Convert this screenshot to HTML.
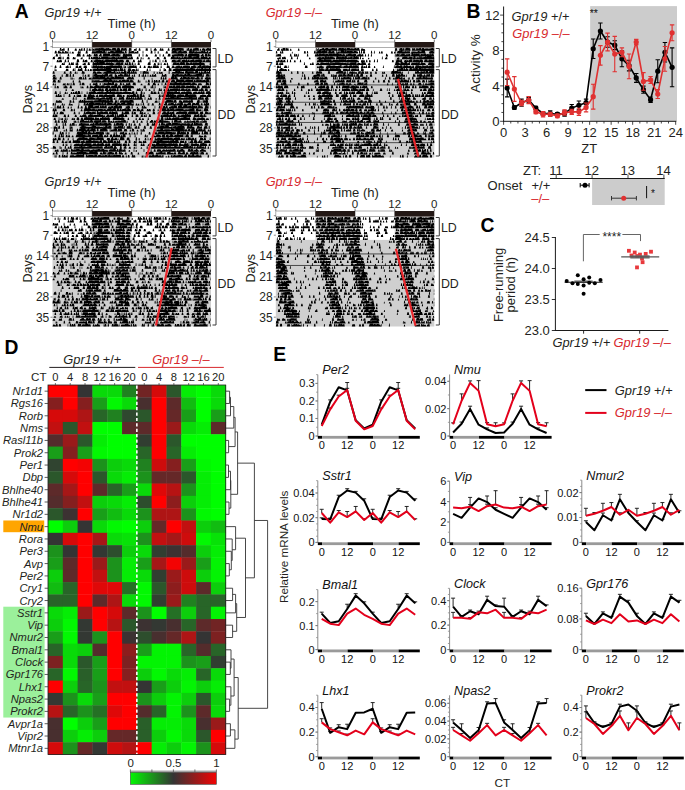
<!DOCTYPE html>
<html><head><meta charset="utf-8"><style>
html,body{margin:0;padding:0;background:#fff;width:685px;height:790px;overflow:hidden}
svg{display:block}
text{font-family:"Liberation Sans",sans-serif}
</style></head><body>
<svg width="685" height="790" viewBox="0 0 685 790"><g fill="#231f20">
<text x="14.8" y="17.5" font-size="19.3" fill="#000" font-weight="bold">A</text>
<text x="44.6" y="16.8" font-size="12.7" fill="#231f20"><tspan font-style="italic">Gpr19</tspan> +/+</text>
<text x="265.7" y="17.3" font-size="12.7" fill="#d7282d"><tspan font-style="italic">Gpr19</tspan> –/–</text>
<text x="44.6" y="185.9" font-size="12.7" fill="#231f20"><tspan font-style="italic">Gpr19</tspan> +/+</text>
<text x="265.7" y="186.2" font-size="12.7" fill="#d7282d"><tspan font-style="italic">Gpr19</tspan> –/–</text>
<rect x="52.5" y="47.8" width="158.5" height="109.7" fill="#cfcfcf"/>
<rect x="52.5" y="47.8" width="39.62" height="23.09" fill="#ffffff"/>
<rect x="131.75" y="47.8" width="39.62" height="23.09" fill="#ffffff"/>
<path d="M52.5 50.69m7 0l.6-2.9h1l.6 2.9zm2 0l.5-1.6h1l.5 1.6zm1 0l.5-2.1h.9l.5 2.1zm1 0l.3-2.4h.7l.3 2.4zm4 0l.4-2.9h.9l.4 2.9zm7 0l.6-2.1h1.3l.6 2.1zm4 0l.6-1.9h1.1l.6 1.9zm2 0l.6-2.2h1.1l.6 2.2zm1 0l.3-2.7h.5l.3 2.7zm2 0l.4-2.7h.9l.4 2.7zm3 0l.3-2.9h.7l.3 2.9zm2 0l.6-2.3h1.3l.6 2.3zm3 0l.3-2.7h.7l.3 2.7zm1 0l.6-1.8h1.1l.6 1.8zm1 0l.3-2.2h.7l.3 2.2zm1 0l.8-2.4h1.8l.8 2.4zm1 0l.9-2.5h3l.9 2.5zm1 0l.9-2h2.7l.9 2zm2 0l.5-2.7h.9l.5 2.7zm1 0l.9-2.9h3l.9 2.9zm1 0l.9-2.4h2.7l.9 2.4zm1 0l.3-2.9h.7l.3 2.9zm1 0l.5-2.2h.9l.5 2.2zm1 0l.9-2.2h2.5l.9 2.2zm1 0l.4-1.8h.8l.4 1.8zm1 0l.5-2.8h.8l.5 2.8zm1 0l.8-2.8h1.8l.8 2.8zm1 0l.4-2.2h.9l.4 2.2zm1 0l.7-2h1.3l.7 2zm1 0l.6-2h1.2l.6 2zm2 0l.9-2.6h3.1l.9 2.6zm1 0l.8-1.7h1.7l.8 1.7zm3 0l.2-2.4h.6l.2 2.4zm1 0l.9-2.9h2.1l.9 2.9zm1 0l.3-2.7h.5l.3 2.7zm3 0l.9-2.6h2.1l.9 2.6zm3 0l.9-2.6h1.9l.9 2.6zm1 0l.5-2.6h1.1l.5 2.6zm1 0l.3-2.9h.6l.3 2.9zm3 0l.7-2.8h1.4l.7 2.8zm2 0l.2-2.4h.6l.2 2.4zm3 0l.7-1.6h1.2l.7 1.6zm2 0l.3-2.8h.7l.3 2.8zm3 0l.5-2.4h1.1l.5 2.4zm7 0l.3-2.4h.8l.3 2.4zm1 0l.3-2.4h.8l.3 2.4zm4 0l.2-2.8h.6l.2 2.8zm3 0l.6-2h1.2l.6 2zm1 0l.4-2.8h.9l.4 2.8zm1 0l.3-1.8h.7l.3 1.8zm4 0l.6-2.4h1l.6 2.4zm1 0l.3-2.4h.6l.3 2.4zm1 0l.6-2.2h1l.6 2.2zm6 0l.6-2.4h1l.6 2.4zm4 0l.9-2.6h3l.9 2.6zm1 0l.4-2.7h.9l.4 2.7zm1 0l.9-2.1h1.7l.9 2.1zm2 0l.9-2.7h3.1l.9 2.7zm2 0l.9-1.9h2.6l.9 1.9zm1 0l.7-2.7h1.3l.7 2.7zm1 0l.7-2.7h1.5l.7 2.7zm2 0l.4-2.7h.8l.4 2.7zm1 0l.4-2.5h.7l.4 2.5zm4 0l.3-2.5h.7l.3 2.5zm1 0l.5-2.6h1.1l.5 2.6zm2 0l.8-2.3h1.6l.8 2.3zm3 0l.9-2.5h3.1l.9 2.5zm1 0l.4-2.5h.9l.4 2.5zm1 0l.8-2.9h1.8l.8 2.9zm1 0l.8-2.7h1.4l.8 2.7zm1 0l.7-2.6h1.3l.7 2.6zm1 0l.3-2.4h.5l.3 2.4zm2 0l.5-2h.8l.5 2zm2 0l.9-2.3h2l.9 2.3zm1 0l.4-2.8h.7l.4 2.8zm2 0l.2-2.1h.6l.2 2.1zm1 0l.8-2.3h1.5l.8 2.3zm1 0l.7-2.7h1.5l.7 2.7zm1 0l.3-2.2h.7l.3 2.2zm1 0l.4-2.4h.7l.4 2.4zm1 0l.4-2.5h.7l.4 2.5zm1 0l.1-2.6h.3l.1 2.6zM52.5 53.57m2 0l.6-2.7h1.3l.6 2.7zm3 0l.7-2.9h1.2l.7 2.9zm1 0l.6-2.1h1.3l.6 2.1zm1 0l.6-1.9h1l.6 1.9zm2 0l.6-2.4h1.1l.6 2.4zm1 0l.6-2.1h1l.6 2.1zm2 0l.7-2.5h1.3l.7 2.5zm2 0l.6-1.8h1l.6 1.8zm1 0l.3-2.5h.5l.3 2.5zm2 0l.3-2.1h.6l.3 2.1zm2 0l.7-1.8h1.2l.7 1.8zm6 0l.6-2.4h1.2l.6 2.4zm2 0l.3-2.5h.7l.3 2.5zm6 0l.6-2.8h1.2l.6 2.8zm6 0l.6-2.3h1l.6 2.3zm1 0l.7-2.3h1.4l.7 2.3zm1 0l.9-2.1h1.7l.9 2.1zm1 0l.9-2.3h3l.9 2.3zm1 0l.9-2.5h1.8l.9 2.5zm2 0l.9-2.7h1.7l.9 2.7zm1 0l.9-2.6h3.1l.9 2.6zm1 0l.9-2.4h2.1l.9 2.4zm1 0l.3-2.3h.5l.3 2.3zm1 0l.3-2.8h.7l.3 2.8zm1 0l.8-2.9h1.6l.8 2.9zm3 0l.3-2.7h.6l.3 2.7zm2 0l.4-2h.8l.4 2zm1 0l.7-1.8h1.5l.7 1.8zm1 0l.9-2.5h3l.9 2.5zm1 0l.8-2.2h1.8l.8 2.2zm1 0l.9-2.2h1.8l.9 2.2zm1 0l.9-1.6h2l.9 1.6zm1 0l.5-2h.9l.5 2zm1 0l.9-2.8h2.2l.9 2.8zm1 0l.9-2.9h2.2l.9 2.9zm1 0l.9-2.8h3l.9 2.8zm1 0l.6-2.9h1.1l.6 2.9zm1 0l.4-2.8h.9l.4 2.8zm1 0l.8-2.9h1.6l.8 2.9zm1 0l.9-1.9h1.7l.9 1.9zm1 0l.7-2.1h1.5l.7 2.1zm1 0l.3-2h.5l.3 2zm2 0l.6-2.5h1.2l.6 2.5zm4 0l.4-2.8h.9l.4 2.8zm1 0l.8-2.3h1.8l.8 2.3zm2 0l.7-2.6h1.3l.7 2.6zm1 0l.6-2.2h1.1l.6 2.2zm2 0l.6-1.8h1.3l.6 1.8zm2 0l.5-2.5h1l.5 2.5zm1 0l.2-2.6h.6l.2 2.6zm5 0l.2-2.7h.6l.2 2.7zm8 0l.4-2.8h.8l.4 2.8zm1 0l.2-2.5h.6l.2 2.5zm3 0l.2-2.6h.6l.2 2.6zm3 0l.3-2.3h.8l.3 2.3zm8 0l.6-2.3h1.3l.6 2.3zm6 0l.4-2.8h.8l.4 2.8zm1 0l.5-2.5h1.1l.5 2.5zm1 0l.8-2.9h1.5l.8 2.9zm2 0l.3-2.7h.6l.3 2.7zm1 0l.3-2.7h.6l.3 2.7zm1 0l.9-2.6h2.8l.9 2.6zm1 0l.4-2.6h.7l.4 2.6zm1 0l.5-2.7h.9l.5 2.7zm1 0l.8-2.3h1.4l.8 2.3zm2 0l.9-2.5h1.9l.9 2.5zm1 0l.9-2.8h2.1l.9 2.8zm5 0l.9-2.7h1.7l.9 2.7zm1 0l.9-2.4h2.4l.9 2.4zm1 0l.4-2.9h.7l.4 2.9zm1 0l.6-2.1h1.2l.6 2.1zm1 0l.7-2.9h1.2l.7 2.9zm1 0l.3-1.9h.5l.3 1.9zm1 0l.9-2.1h1.8l.9 2.1zm1 0l.3-2.5h.6l.3 2.5zm1 0l.9-1.9h2l.9 1.9zm1 0l.4-2.1h.7l.4 2.1zm1 0l.8-2.1h1.6l.8 2.1zm1 0l.4-2h.7l.4 2zm1 0l.8-2.5h1.8l.8 2.5zm1 0l.9-2.2h1.7l.9 2.2zm2 0l.5-2.9h1l.5 2.9zm1 0l.6-1.8h1.3l.6 1.8zm2 0l.5-2.5h1.1l.5 2.5zm2 0l.6-1.6h1.3l.6 1.6zm1 0l.4-2.7h.7l.4 2.7zm1 0l.1-2h.3l.1 2zM52.5 56.46m3 0l.7-2.5h1.3l.7 2.5zm4 0l.3-2.7h.5l.3 2.7zm8 0l.5-2.8h.9l.5 2.8zm9 0l.6-2.5h1l.6 2.5zm1 0l.4-2.9h.9l.4 2.9zm1 0l.6-2.6h1.2l.6 2.6zm4 0l.5-2.1h1.1l.5 2.1zm4 0l.6-2h1.2l.6 2zm2 0l.6-2.4h1l.6 2.4zm2 0l.3-2h.5l.3 2zm3 0l.7-2.6h1.3l.7 2.6zm2 0l.6-2.4h1.3l.6 2.4zm1 0l.2-2.7h.6l.2 2.7zm2 0l.9-1.6h1.8l.9 1.6zm1 0l.6-2.6h1.1l.6 2.6zm1 0l.3-2.5h.7l.3 2.5zm2 0l.8-2.7h1.8l.8 2.7zm1 0l.9-2.3h2.8l.9 2.3zm1 0l.8-2.7h1.4l.8 2.7zm1 0l.9-2.7h3.1l.9 2.7zm1 0l.9-2.8h2.5l.9 2.8zm1 0l.9-1.9h1.7l.9 1.9zm1 0l.5-2.6h.9l.5 2.6zm2 0l.6-2h1.2l.6 2zm1 0l.9-2.8h3.1l.9 2.8zm1 0l.8-2.5h1.5l.8 2.5zm3 0l.8-2.8h1.8l.8 2.8zm2 0l.4-2.8h.9l.4 2.8zm1 0l.4-1.8h.7l.4 1.8zm1 0l.2-2.9h.6l.2 2.9zm3 0l.8-2.6h1.7l.8 2.6zm1 0l.9-2.1h1.7l.9 2.1zm1 0l.6-2.3h1.2l.6 2.3zm1 0l.7-2.5h1.3l.7 2.5zm1 0l.5-2.3h.8l.5 2.3zm1 0l.8-2.6h1.4l.8 2.6zm2 0l.7-2.4h1.4l.7 2.4zm9 0l.4-2.7h.7l.4 2.7zm4 0l.2-2.4h.6l.2 2.4zm3 0l.5-2.2h.9l.5 2.2zm1 0l.4-1.8h.8l.4 1.8zm8 0l.7-2.2h1.2l.7 2.2zm5 0l.2-2.8h.6l.2 2.8zm3 0l.5-2.2h.8l.5 2.2zm5 0l.7-2.6h1.3l.7 2.6zm2 0l.2-2.7h.6l.2 2.7zm2 0l.9-2h2.7l.9 2zm2 0l.7-2.1h1.3l.7 2.1zm1 0l.6-2.1h1l.6 2.1zm1 0l.4-2.6h.8l.4 2.6zm1 0l.9-2.6h2.3l.9 2.6zm1 0l.9-2.1h2.7l.9 2.1zm2 0l.9-2.6h1.8l.9 2.6zm2 0l.7-2.5h1.3l.7 2.5zm1 0l.3-2.2h.5l.3 2.2zm2 0l.3-2.7h.7l.3 2.7zm1 0l.5-2.5h.9l.5 2.5zm2 0l.9-2.4h3.2l.9 2.4zm1 0l.9-2.8h2.2l.9 2.8zm1 0l.8-2.5h1.4l.8 2.5zm1 0l.9-2.6h1.7l.9 2.6zm1 0l.9-2.5h2.3l.9 2.5zm1 0l.9-2.5h2.6l.9 2.5zm1 0l.9-2.7h3l.9 2.7zm1 0l.4-2.1h.8l.4 2.1zm1 0l.7-2.7h1.3l.7 2.7zm1 0l.9-2.5h1.7l.9 2.5zm1 0l.4-2.5h.8l.4 2.5zm1 0l.2-2.7h.6l.2 2.7zm2 0l.4-1.6h.7l.4 1.6zm1 0l.6-2.4h1.3l.6 2.4zm3 0l.7-2.7h1.3l.7 2.7zm1 0l.4-2.2h.9l.4 2.2zm1 0l.2-2.6h.6l.2 2.6zm1 0l.7-2.6h1.2l.7 2.6zm2 0l.4-2h.7l.4 2zM52.5 59.35m0 0l.6-2.4h1.1l.6 2.4zm1 0l.4-2.9h.8l.4 2.9zm4 0l.6-2.2h1.1l.6 2.2zm1 0l.6-2.3h1.3l.6 2.3zm2 0l.2-2.9h.6l.2 2.9zm2 0l.3-2.5h.7l.3 2.5zm4 0l.5-2.4h1l.5 2.4zm1 0l.5-2.3h1.1l.5 2.3zm5 0l.6-2.3h1.1l.6 2.3zm2 0l.3-2.1h.6l.3 2.1zm6 0l.4-1.6h.8l.4 1.6zm1 0l.3-2.3h.6l.3 2.3zm7 0l.4-2.8h.8l.4 2.8zm2 0l.5-2.3h.9l.5 2.3zm1 0l.3-2h.7l.3 2zm1 0l.8-2.3h1.7l.8 2.3zm1 0l.7-2h1.2l.7 2zm1 0l.9-2.7h2l.9 2.7zm1 0l.9-2.1h1.8l.9 2.1zm1 0l.5-2.4h1.1l.5 2.4zm2 0l.5-2.3h.8l.5 2.3zm1 0l.5-1.7h.8l.5 1.7zm1 0l.9-2.7h1.7l.9 2.7zm1 0l.9-2.6h3.1l.9 2.6zm1 0l.9-2.6h2.9l.9 2.6zm2 0l.9-2.6h2.7l.9 2.6zm1 0l.3-2.3h.7l.3 2.3zm1 0l.3-2.3h.5l.3 2.3zm1 0l.7-2h1.5l.7 2zm1 0l.7-2h1.2l.7 2zm1 0l.9-1.9h1.8l.9 1.9zm1 0l.6-2h1.1l.6 2zm1 0l.8-2.5h1.7l.8 2.5zm1 0l.9-2.3h2l.9 2.3zm1 0l.6-2.4h1.2l.6 2.4zm1 0l.3-2.5h.5l.3 2.5zm1 0l.7-2.2h1.4l.7 2.2zm1 0l.2-2.8h.6l.2 2.8zm1 0l.7-2.6h1.3l.7 2.6zm1 0l.4-2.6h.7l.4 2.6zm1 0l.9-2.5h2.2l.9 2.5zm2 0l.7-2.4h1.5l.7 2.4zm1 0l.6-2.8h1l.6 2.8zm1 0l.9-2.8h2l.9 2.8zm1 0l.2-2.5h.6l.2 2.5zm1 0l.5-2.9h.9l.5 2.9zm1 0l.3-2.1h.8l.3 2.1zm1 0l.8-1.5h1.5l.8 1.5zm1 0l.7-2.1h1.3l.7 2.1zm2 0l.7-2.5h1.3l.7 2.5zm6 0l.6-2.6h1.2l.6 2.6zm4 0l.3-2.3h.7l.3 2.3zm2 0l.3-1.8h.5l.3 1.8zm5 0l.6-2.2h1.3l.6 2.2zm9 0l.6-2.3h1.2l.6 2.3zm1 0l.5-2.1h1.1l.5 2.1zm6 0l.7-2.7h1.3l.7 2.7zm1 0l.3-2.2h.5l.3 2.2zm6 0l.6-2.3h1.2l.6 2.3zm1 0l.8-2.9h1.8l.8 2.9zm1 0l.6-2.5h1.3l.6 2.5zm1 0l.9-2h2.4l.9 2zm2 0l.5-1.9h.9l.5 1.9zm1 0l.6-2.5h1l.6 2.5zm1 0l.4-2.2h.7l.4 2.2zm1 0l.5-2.3h.8l.5 2.3zm1 0l.5-1.8h1l.5 1.8zm1 0l.9-1.8h2.8l.9 1.8zm1 0l.4-2.9h.8l.4 2.9zm2 0l.7-2.7h1.5l.7 2.7zm1 0l.6-2.5h1.3l.6 2.5zm1 0l.9-2.2h1.8l.9 2.2zm2 0l.9-2.8h3.2l.9 2.8zm1 0l.9-1.7h2.1l.9 1.7zm1 0l.4-1.8h.8l.4 1.8zm1 0l.6-2.2h1.2l.6 2.2zm1 0l.8-2.1h1.4l.8 2.1zm1 0l.9-2.5h3l.9 2.5zm2 0l.9-2.7h2.1l.9 2.7zm1 0l.9-2.9h2.5l.9 2.9zm4 0l.2-2.1h.6l.2 2.1zm1 0l.6-2.6h1l.6 2.6zm1 0l.9-2.6h1.7l.9 2.6zm1 0l.5-2.8h1l.5 2.8zm1 0l.5-2.3h.9l.5 2.3zm1 0l.8-2.7h1.7l.8 2.7zm2 0l.4-2h.7l.4 2zm1 0l.5-1.6h1l.5 1.6zm1 0l.6-2.3h1.3l.6 2.3zM52.5 62.23m4 0l.6-2.2h1l.6 2.2zm2 0l.4-2.3h.7l.4 2.3zm1 0l.7-2.6h1.3l.7 2.6zm5 0l.5-2.8h.9l.5 2.8zm3 0l.4-2.6h.8l.4 2.6zm9 0l.6-2.9h1.3l.6 2.9zm1 0l.5-2.8h.8l.5 2.8zm5 0l.6-2.7h1l.6 2.7zm2 0l.6-2.2h1.3l.6 2.2zm1 0l.5-2.5h1.1l.5 2.5zm5 0l.6-2.3h1.2l.6 2.3zm1 0l.3-2.3h.5l.3 2.3zm2 0l.3-2.3h.8l.3 2.3zm1 0l.9-2.8h2.6l.9 2.8zm2 0l.4-2.8h.9l.4 2.8zm1 0l.9-2.6h2.1l.9 2.6zm1 0l.7-2.3h1.3l.7 2.3zm1 0l.6-2.2h1l.6 2.2zm1 0l.8-2.1h1.8l.8 2.1zm1 0l.3-2.4h.8l.3 2.4zm1 0l.3-2.8h.8l.3 2.8zm1 0l.8-2.1h1.8l.8 2.1zm1 0l.9-2.7h3.2l.9 2.7zm1 0l.6-2.4h1.2l.6 2.4zm1 0l.4-2.4h.7l.4 2.4zm1 0l.9-2.4h2.5l.9 2.4zm2 0l.6-2.1h1.1l.6 2.1zm1 0l.8-2.8h1.7l.8 2.8zm2 0l.9-2.8h1.9l.9 2.8zm1 0l.6-2.6h1.3l.6 2.6zm1 0l.7-2.4h1.3l.7 2.4zm1 0l.5-2.9h1.1l.5 2.9zm1 0l.5-2.6h1.1l.5 2.6zm1 0l.4-2h.9l.4 2zm1 0l.9-2.4h2l.9 2.4zm2 0l.9-2.5h1.9l.9 2.5zm2 0l.3-2.3h.6l.3 2.3zm3 0l.9-2.6h2.2l.9 2.6zm1 0l.6-2.4h1.2l.6 2.4zm6 0l.7-2.4h1.3l.7 2.4zm5 0l.6-2h1.1l.6 2zm2 0l.6-2.7h1.1l.6 2.7zm10 0l.3-2.5h.5l.3 2.5zm3 0l.2-2.4h.6l.2 2.4zm2 0l.6-2.8h1.3l.6 2.8zm5 0l.2-2.7h.5l.2 2.7zm3 0l.2-2.2h.6l.2 2.2zm2 0l.6-2.4h1.3l.6 2.4zm1 0l.2-1.9h.6l.2 1.9zm6 0l.5-2.2h1.1l.5 2.2zm1 0l.6-2.4h1.2l.6 2.4zm1 0l.6-2.4h1.2l.6 2.4zm2 0l.3-2.5h.6l.3 2.5zm1 0l.6-1.9h1.3l.6 1.9zm1 0l.6-2.4h1.2l.6 2.4zm1 0l.5-2.5h.8l.5 2.5zm1 0l.2-2.9h.5l.2 2.9zm1 0l.2-2.9h.5l.2 2.9zm1 0l.6-2.3h1.2l.6 2.3zm1 0l.5-2.6h1.1l.5 2.6zm1 0l.6-2.5h1l.6 2.5zm1 0l.9-1.9h2.2l.9 1.9zm1 0l.5-2.7h.9l.5 2.7zm2 0l.7-2.6h1.2l.7 2.6zm2 0l.9-2.3h2.5l.9 2.3zm2 0l.9-2.7h1.7l.9 2.7zm1 0l.3-2.5h.5l.3 2.5zm1 0l.9-1.7h2.9l.9 1.7zm1 0l.9-2.5h2.9l.9 2.5zm1 0l.2-2.4h.5l.2 2.4zm2 0l.9-2.7h2.1l.9 2.7zm2 0l.5-2.4h1.1l.5 2.4zm1 0l.3-2.7h.7l.3 2.7zm1 0l.3-2.8h.5l.3 2.8zm1 0l.8-1.9h1.5l.8 1.9zm1 0l.3-2.9h.7l.3 2.9zm2 0l.4-2.5h.8l.4 2.5zm1 0l.9-2.8h1.8l.9 2.8zm1 0l.6-2.4h1.2l.6 2.4zm2 0l.4-2.6h.7l.4 2.6zM52.5 65.12m9 0l.6-2.2h1l.6 2.2zm2 0l.3-2.8h.8l.3 2.8zm5 0l.5-2.7h.8l.5 2.7zm2 0l.6-2.6h1.3l.6 2.6zm2 0l.4-2.9h.7l.4 2.9zm3 0l.3-2.5h.7l.3 2.5zm1 0l.5-2.7h1l.5 2.7zm6 0l.3-1.6h.8l.3 1.6zm1 0l.5-2.2h.9l.5 2.2zm1 0l.3-2.4h.8l.3 2.4zm3 0l.6-2.8h1.3l.6 2.8zm5 0l.5-2.8h1l.5 2.8zm1 0l.6-2.1h1.2l.6 2.1zm1 0l.7-2.7h1.4l.7 2.7zm1 0l.9-2.5h3l.9 2.5zm1 0l.6-2.9h1.1l.6 2.9zm2 0l.9-2.8h1.8l.9 2.8zm1 0l.3-1.9h.7l.3 1.9zm1 0l.9-2.8h3.2l.9 2.8zm1 0l.3-1.8h.6l.3 1.8zm1 0l.2-2.9h.6l.2 2.9zm2 0l.9-1.8h2.3l.9 1.8zm1 0l.8-2.5h1.5l.8 2.5zm1 0l.6-2.1h1.2l.6 2.1zm1 0l.9-2.4h2l.9 2.4zm1 0l.3-2.5h.6l.3 2.5zm1 0l.9-2h3.1l.9 2zm1 0l.5-2.7h1.1l.5 2.7zm4 0l.2-2.6h.6l.2 2.6zm1 0l.9-2.6h1.9l.9 2.6zm1 0l.9-2.5h2.9l.9 2.5zm1 0l.9-1.9h2.2l.9 1.9zm2 0l.2-2.8h.6l.2 2.8zm1 0l.8-2.5h1.5l.8 2.5zm2 0l.2-2.7h.5l.2 2.7zm2 0l.6-2.3h1l.6 2.3zm2 0l.4-2.5h.9l.4 2.5zm2 0l.6-2.8h1.2l.6 2.8zm1 0l.4-2.2h.7l.4 2.2zm2 0l.5-2.6h1l.5 2.6zm3 0l.3-2.2h.6l.3 2.2zm3 0l.5-2.7h.9l.5 2.7zm1 0l.3-2.4h.7l.3 2.4zm9 0l.6-2.5h1.2l.6 2.5zm1 0l.4-2.8h.8l.4 2.8zm1 0l.3-2.8h.6l.3 2.8zm4 0l.7-2h1.2l.7 2zm4 0l.3-2.8h.5l.3 2.8zm1 0l.2-2.3h.6l.2 2.3zm2 0l.3-2.5h.6l.3 2.5zm3 0l.7-2.1h1.2l.7 2.1zm3 0l.5-2.3h.8l.5 2.3zm6 0l.9-2.7h3.1l.9 2.7zm1 0l.6-2h1.3l.6 2zm1 0l.4-2.1h.8l.4 2.1zm1 0l.2-2.7h.6l.2 2.7zm1 0l.7-2.4h1.5l.7 2.4zm1 0l.4-2.2h.8l.4 2.2zm1 0l.3-2.6h.5l.3 2.6zm1 0l.6-2.6h1.2l.6 2.6zm1 0l.6-2.8h1l.6 2.8zm1 0l.8-2.5h1.7l.8 2.5zm1 0l.7-2.8h1.4l.7 2.8zm3 0l.4-2.9h.8l.4 2.9zm1 0l.5-2.7h1.1l.5 2.7zm1 0l.5-2h.9l.5 2zm1 0l.9-1.9h3l.9 1.9zm1 0l.9-2.5h1.9l.9 2.5zm2 0l.8-1.5h1.4l.8 1.5zm1 0l.7-2.5h1.5l.7 2.5zm1 0l.9-1.9h1.7l.9 1.9zm1 0l.7-2.6h1.5l.7 2.6zm1 0l.9-2.4h3.1l.9 2.4zm3 0l.9-2.8h1.7l.9 2.8zm1 0l.6-2.5h1.3l.6 2.5zm1 0l.9-2.4h2.2l.9 2.4zm2 0l.6-2.1h1.3l.6 2.1zm7 0l.4-2.8h.7l.4 2.8zm1 0l.1-2.3h.3l.1 2.3zM52.5 68.01m2 0l.5-2.6h1.1l.5 2.6zm5 0l.5-2.7h1l.5 2.7zm6 0l.4-2h.7l.4 2zm1 0l.6-2.6h1.2l.6 2.6zm3 0l.3-2.6h.8l.3 2.6zm6 0l.4-2.5h.7l.4 2.5zm1 0l.5-2.8h.8l.5 2.8zm2 0l.6-2.1h1.1l.6 2.1zm1 0l.5-2.3h1l.5 2.3zm1 0l.2-2.3h.6l.2 2.3zm3 0l.4-2.4h.8l.4 2.4zm1 0l.7-2.4h1.3l.7 2.4zm7 0l.2-2.5h.6l.2 2.5zm1 0l.5-2.7h1l.5 2.7zm1 0l.6-2.6h1l.6 2.6zm1 0l.9-2.4h2l.9 2.4zm1 0l.3-2.9h.7l.3 2.9zm1 0l.9-1.8h2.7l.9 1.8zm1 0l.5-2.4h1l.5 2.4zm1 0l.3-2.5h.8l.3 2.5zm1 0l.9-2.6h2.2l.9 2.6zm1 0l.9-1.8h1.9l.9 1.8zm1 0l.9-1.8h2l.9 1.8zm1 0l.7-1.8h1.4l.7 1.8zm1 0l.6-1.9h1.3l.6 1.9zm2 0l.7-2.3h1.5l.7 2.3zm1 0l.9-2.2h3.1l.9 2.2zm2 0l.8-2.4h1.4l.8 2.4zm1 0l.9-2.7h2.7l.9 2.7zm1 0l.9-2.3h2l.9 2.3zm1 0l.7-2.3h1.3l.7 2.3zm1 0l.9-2.2h1.7l.9 2.2zm1 0l.9-2.4h2.3l.9 2.4zm1 0l.9-2.3h2.7l.9 2.3zm2 0l.9-2.6h2.3l.9 2.6zm1 0l.8-2.7h1.7l.8 2.7zm2 0l.8-2.6h1.5l.8 2.6zm4 0l.2-2.7h.6l.2 2.7zm1 0l.4-2.1h.9l.4 2.1zm3 0l.3-2.8h.5l.3 2.8zm1 0l.9-2.6h1.8l.9 2.6zm2 0l.8-2.2h1.7l.8 2.2zm1 0l.8-2.5h1.6l.8 2.5zm1 0l.7-2.7h1.3l.7 2.7zm2 0l.7-2.5h1.2l.7 2.5zm5 0l.4-2.6h.9l.4 2.6zm4 0l.6-2.2h1.1l.6 2.2zm4 0l.5-2.3h.9l.5 2.3zm1 0l.5-2.2h1.1l.5 2.2zm2 0l.3-1.9h.8l.3 1.9zm2 0l.6-2.5h1.1l.6 2.5zm1 0l.6-2.7h1l.6 2.7zm1 0l.6-2.7h1.3l.6 2.7zm2 0l.6-2.4h1.3l.6 2.4zm4 0l.3-2.6h.7l.3 2.6zm6 0l.6-2.8h1l.6 2.8zm1 0l.6-2.3h1.3l.6 2.3zm4 0l.8-1.9h1.5l.8 1.9zm1 0l.3-2.9h.5l.3 2.9zm2 0l.3-1.7h.6l.3 1.7zm1 0l.9-2.2h2l.9 2.2zm1 0l.9-2.3h1.8l.9 2.3zm1 0l.7-2.5h1.4l.7 2.5zm1 0l.6-2.2h1.2l.6 2.2zm1 0l.5-1.6h1.1l.5 1.6zm1 0l.6-2.2h1l.6 2.2zm2 0l.7-2.2h1.4l.7 2.2zm1 0l.9-2.6h2.7l.9 2.6zm1 0l.9-2.5h1.8l.9 2.5zm1 0l.7-2.5h1.2l.7 2.5zm1 0l.7-2.5h1.4l.7 2.5zm2 0l.5-2.2h.8l.5 2.2zm2 0l.8-2.1h1.8l.8 2.1zm2 0l.9-2.7h1.9l.9 2.7zm1 0l.7-2.5h1.4l.7 2.5zm3 0l.3-2.9h.5l.3 2.9zm1 0l.7-2.2h1.3l.7 2.2zm1 0l.9-2.9h1.9l.9 2.9zm2 0l.2-2.3h.5l.2 2.3zm1 0l.8-2.5h1.4l.8 2.5zm1 0l.9-2.7h2.1l.9 2.7zm1 0l.7-2h1.4l.7 2zm2 0l.8-2.4h1.5l.8 2.4zm1 0l.7-2.5h1.3l.7 2.5zm1 0l.7-2.1h1.5l.7 2.1zm1 0l.6-1.8h1.3l.6 1.8zm1 0l.4-2.9h.7l.4 2.9zm1 0l.1-2.6h.3l.1 2.6zM52.5 70.89m2 0l.2-2.7h.6l.2 2.7zm1 0l.3-1.7h.6l.3 1.7zm10 0l.7-2.2h1.3l.7 2.2zm2 0l.2-2.1h.6l.2 2.1zm5 0l.5-2.5h.8l.5 2.5zm2 0l.2-2.9h.6l.2 2.9zm3 0l.7-2.5h1.2l.7 2.5zm2 0l.5-2.1h.9l.5 2.1zm1 0l.6-2.8h1l.6 2.8zm1 0l.2-2.4h.6l.2 2.4zm3 0l.6-2.8h1l.6 2.8zm1 0l.3-1.7h.6l.3 1.7zm2 0l.4-1.8h.8l.4 1.8zm2 0l.7-1.9h1.2l.7 1.9zm1 0l.3-1.9h.8l.3 1.9zm2 0l.4-2.5h.8l.4 2.5zm1 0l.6-2.5h1.2l.6 2.5zm1 0l.8-2.4h1.4l.8 2.4zm1 0l.3-2.1h.5l.3 2.1zm1 0l.6-2.8h1.1l.6 2.8zm1 0l.8-2.5h1.7l.8 2.5zm1 0l.9-2.3h3l.9 2.3zm1 0l.9-2.7h2l.9 2.7zm1 0l.9-2.2h2.8l.9 2.2zm1 0l.5-2.7h1.1l.5 2.7zm2 0l.4-2.8h.9l.4 2.8zm1 0l.9-2.9h2.2l.9 2.9zm2 0l.6-2.9h1.2l.6 2.9zm1 0l.9-2.8h2.8l.9 2.8zm3 0l.4-2.5h.7l.4 2.5zm1 0l.3-1.8h.8l.3 1.8zm1 0l.9-2.3h1.7l.9 2.3zm1 0l.8-2.4h1.8l.8 2.4zm2 0l.5-2.6h1l.5 2.6zm2 0l.4-2.3h.7l.4 2.3zm1 0l.2-1.5h.5l.2 1.5zm1 0l.5-2.9h1l.5 2.9zm1 0l.8-2.7h1.4l.8 2.7zm1 0l.4-2.7h.9l.4 2.7zm2 0l.6-2.4h1.1l.6 2.4zm4 0l.9-2.6h2.2l.9 2.6zm1 0l.3-2.4h.8l.3 2.4zm3 0l.9-1.9h2.2l.9 1.9zm4 0l.4-2.6h.8l.4 2.6zm1 0l.2-1.7h.5l.2 1.7zm1 0l.3-2.5h.6l.3 2.5zm9 0l.5-2.4h.8l.5 2.4zm3 0l.2-2.6h.6l.2 2.6zm10 0l.3-2.4h.6l.3 2.4zm4 0l.3-2.8h.7l.3 2.8zm1 0l.5-2h.8l.5 2zm4 0l.5-2.8h1l.5 2.8zm1 0l.4-2.7h.7l.4 2.7zm1 0l.3-2.6h.5l.3 2.6zm2 0l.9-1.8h2.3l.9 1.8zm1 0l.8-2.2h1.8l.8 2.2zm1 0l.9-2.6h2.9l.9 2.6zm2 0l.9-2.3h3l.9 2.3zm2 0l.9-2.5h2.4l.9 2.5zm1 0l.4-2.9h.7l.4 2.9zm1 0l.9-2.5h2.6l.9 2.5zm1 0l.6-2.7h1l.6 2.7zm1 0l.9-2.4h2.2l.9 2.4zm1 0l.9-2.4h2l.9 2.4zm1 0l.3-2h.8l.3 2zm1 0l.9-2.6h2.5l.9 2.6zm1 0l.6-2h1.2l.6 2zm1 0l.9-2h3.1l.9 2zm1 0l.9-2.6h2l.9 2.6zm1 0l.9-2.8h2.3l.9 2.8zm1 0l.9-2.6h3.1l.9 2.6zm1 0l.6-2.3h1.2l.6 2.3zm1 0l.9-2.3h1.8l.9 2.3zm3 0l.6-2.2h1.3l.6 2.2zm1 0l.5-2.7h.9l.5 2.7zm1 0l.9-2.3h2.1l.9 2.3zm1 0l.3-2.6h.7l.3 2.6zm1 0l.9-2.2h2l.9 2.2zm1 0l.8-2.8h1.8l.8 2.8zm1 0l.5-2.1h1l.5 2.1zm1 0l.5-2.2h.8l.5 2.2zm1 0l.8-2.6h1.7l.8 2.6zm1 0l.9-2.1h1.7l.9 2.1zm1 0l.3-2.7h.7l.3 2.7zm1 0l.7-2.4h1.5l.7 2.4zm1 0l.7-1.7h1.4l.7 1.7zm1 0l.6-2.9h1.1l.6 2.9zm2 0l.1-2h.3l.1 2zM52.5 73.78m0 0l.6-2.5h1.1l.6 2.5zm1 0l.3-2.4h.5l.3 2.4zm10 0l.6-2h1.2l.6 2zm1 0l.2-2.9h.6l.2 2.9zm5 0l.6-2.5h1.1l.6 2.5zm5 0l.5-2.4h.8l.5 2.4zm2 0l.3-2.1h.5l.3 2.1zm5 0l.7-2.7h1.2l.7 2.7zm2 0l.3-2h.7l.3 2zm9 0l.9-2.5h2l.9 2.5zm1 0l.4-2.3h.7l.4 2.3zm1 0l.6-1.9h1.2l.6 1.9zm2 0l.9-2.3h2.5l.9 2.3zm1 0l.6-2h1.2l.6 2zm2 0l.6-1.9h1.3l.6 1.9zm1 0l.2-2.1h.6l.2 2.1zm2 0l.3-2.3h.6l.3 2.3zm1 0l.9-2.2h2.3l.9 2.2zm1 0l.7-2.4h1.4l.7 2.4zm1 0l.9-2.7h2.4l.9 2.7zm1 0l.9-2.9h2.9l.9 2.9zm1 0l.9-2.9h2.9l.9 2.9zm2 0l.3-2.4h.8l.3 2.4zm1 0l.9-2.1h2.5l.9 2.1zm2 0l.8-2.2h1.4l.8 2.2zm1 0l.5-2.8h1.1l.5 2.8zm2 0l.3-2.7h.6l.3 2.7zm1 0l.6-1.8h1.1l.6 1.8zm1 0l.3-2.5h.5l.3 2.5zm1 0l.6-2.2h1l.6 2.2zm2 0l.5-2.3h1l.5 2.3zm1 0l.5-2.2h.8l.5 2.2zm1 0l.5-1.7h.9l.5 1.7zm1 0l.6-2.8h1.3l.6 2.8zm1 0l.5-2.5h1.1l.5 2.5zm1 0l.2-2.7h.6l.2 2.7zm1 0l.7-2.3h1.3l.7 2.3zm1 0l.8-2.7h1.7l.8 2.7zm3 0l.6-2.5h1.2l.6 2.5zm2 0l.6-2.7h1.2l.6 2.7zm2 0l.6-2.4h1.3l.6 2.4zm6 0l.2-2.7h.5l.2 2.7zm2 0l.3-2.7h.8l.3 2.7zm1 0l.6-2.8h1l.6 2.8zm1 0l.5-2.4h.8l.5 2.4zm1 0l.4-2.8h.7l.4 2.8zm1 0l.7-2.4h1.2l.7 2.4zm7 0l.3-2.4h.7l.3 2.4zm3 0l.4-1.9h.7l.4 1.9zm2 0l.6-2.1h1.2l.6 2.1zm2 0l.6-1.9h1.3l.6 1.9zm8 0l.3-2.9h.7l.3 2.9zm3 0l.9-1.8h2.5l.9 1.8zm2 0l.9-1.8h2.5l.9 1.8zm1 0l.9-2.8h2.1l.9 2.8zm1 0l.9-2.6h3.2l.9 2.6zm1 0l.9-2.3h1.8l.9 2.3zm1 0l.9-2.8h1.7l.9 2.8zm2 0l.7-2.4h1.4l.7 2.4zm1 0l.9-1.9h1.9l.9 1.9zm1 0l.2-2.2h.5l.2 2.2zm1 0l.5-2.4h.8l.5 2.4zm2 0l.9-2.8h1.9l.9 2.8zm1 0l.8-2.6h1.8l.8 2.6zm1 0l.6-1.8h1.2l.6 1.8zm1 0l.9-2.6h1.8l.9 2.6zm1 0l.9-2.6h2.8l.9 2.6zm3 0l.7-2.6h1.4l.7 2.6zm2 0l.8-1.5h1.8l.8 1.5zm1 0l.9-2.9h2.5l.9 2.9zm4 0l.6-2.3h1l.6 2.3zm2 0l.6-2.6h1l.6 2.6zm1 0l.3-2.4h.6l.3 2.4zm1 0l.3-2.4h.7l.3 2.4zm1 0l.9-2.9h1.7l.9 2.9zm1 0l.4-2.1h.7l.4 2.1zm1 0l.2-2.8h.5l.2 2.8zm1 0l.5-2.5h.8l.5 2.5zm1 0l.5-1.8h.8l.5 1.8zm1 0l.5-2.7h1l.5 2.7zM52.5 76.67m0 0l.8-2h1.7l.8 2zm9 0l.3-2.2h.8l.3 2.2zm4 0l.6-2.8h1.3l.6 2.8zm2 0l.2-2.8h.6l.2 2.8zm2 0l.5-2.7h.8l.5 2.7zm3 0l.4-2.7h.9l.4 2.7zm10 0l.3-2.9h.6l.3 2.9zm2 0l.5-2h.9l.5 2zm3 0l.3-2.1h.8l.3 2.1zm1 0l.3-2.5h.6l.3 2.5zm4 0l.3-2.6h.7l.3 2.6zm1 0l.9-2.7h2.7l.9 2.7zm1 0l.5-2.8h.9l.5 2.8zm1 0l.9-2h2.1l.9 2zm2 0l.9-1.8h2.9l.9 1.8zm2 0l.3-1.7h.6l.3 1.7zm1 0l.9-1.9h2.7l.9 1.9zm1 0l.6-2.4h1.2l.6 2.4zm1 0l.8-1.9h1.8l.8 1.9zm1 0l.8-2.4h1.5l.8 2.4zm1 0l.9-2.8h2.4l.9 2.8zm1 0l.5-2.7h.9l.5 2.7zm1 0l.2-2.5h.5l.2 2.5zm2 0l.9-2.1h2l.9 2.1zm1 0l.7-2.5h1.5l.7 2.5zm1 0l.3-2.4h.7l.3 2.4zm1 0l.3-2.8h.5l.3 2.8zm3 0l.4-2.8h.8l.4 2.8zm1 0l.5-2h.8l.5 2zm2 0l.7-1.9h1.5l.7 1.9zm1 0l.8-2h1.4l.8 2zm1 0l.7-2.7h1.4l.7 2.7zm1 0l.9-2.2h1.8l.9 2.2zm1 0l.3-1.7h.8l.3 1.7zm2 0l.9-2.8h1.7l.9 2.8zm2 0l.9-2.3h1.7l.9 2.3zm3 0l.5-2.8h.8l.5 2.8zm3 0l.5-1.8h.8l.5 1.8zm2 0l.5-2.5h.8l.5 2.5zm5 0l.4-2.7h.9l.4 2.7zm3 0l.2-1.8h.6l.2 1.8zm1 0l.4-2.8h.9l.4 2.8zm2 0l.5-2.2h.9l.5 2.2zm3 0l.2-2.4h.6l.2 2.4zm2 0l.5-1.8h.9l.5 1.8zm2 0l.6-2.1h1.3l.6 2.1zm1 0l.2-2.7h.5l.2 2.7zm1 0l.6-1.6h1.2l.6 1.6zm1 0l.5-2.6h.9l.5 2.6zm7 0l.5-2.6h.9l.5 2.6zm1 0l.3-1.7h.8l.3 1.7zm1 0l.5-1.9h1l.5 1.9zm1 0l.6-2.7h1.1l.6 2.7zm7 0l.8-2.6h1.6l.8 2.6zm1 0l.9-2.1h2.6l.9 2.1zm1 0l.2-2.4h.6l.2 2.4zm1 0l.9-2.5h2.6l.9 2.5zm1 0l.8-2.6h1.8l.8 2.6zm1 0l.8-2.1h1.6l.8 2.1zm1 0l.3-2.8h.8l.3 2.8zm1 0l.9-2.5h3l.9 2.5zm1 0l.8-2.1h1.4l.8 2.1zm1 0l.9-2.1h2.3l.9 2.1zm1 0l.5-2.1h1l.5 2.1zm1 0l.3-2h.6l.3 2zm1 0l.9-2.6h1.7l.9 2.6zm1 0l.7-2.2h1.5l.7 2.2zm1 0l.7-2.1h1.4l.7 2.1zm1 0l.9-2.9h2.1l.9 2.9zm1 0l.8-2.7h1.8l.8 2.7zm1 0l.5-2.4h1.1l.5 2.4zm1 0l.9-2.1h2.1l.9 2.1zm3 0l.8-1.9h1.8l.8 1.9zm1 0l.2-2.7h.6l.2 2.7zm1 0l.8-2.4h1.8l.8 2.4zm1 0l.9-2.6h2.1l.9 2.6zm2 0l.7-2.6h1.3l.7 2.6zm1 0l.8-2.9h1.6l.8 2.9zm1 0l.6-2.5h1.3l.6 2.5zm1 0l.5-2.8h1.1l.5 2.8zm2 0l.4-2.9h.7l.4 2.9zm3 0l.9-2.6h2l.9 2.6zm1 0l.6-2.3h1.2l.6 2.3zm2 0l.3-2.4h.7l.3 2.4zm2 0l.1-2.9h.3l.1 2.9zM52.5 79.56m0 0l.7-2.5h1.4l.7 2.5zm1 0l.6-2.6h1.2l.6 2.6zm2 0l.3-2.4h.6l.3 2.4zm4 0l.6-2.9h1.1l.6 2.9zm11 0l.2-2.7h.5l.2 2.7zm1 0l.3-2h.8l.3 2zm2 0l.2-1.6h.5l.2 1.6zm5 0l.5-2.3h1.1l.5 2.3zm1 0l.4-2.8h.9l.4 2.8zm1 0l.5-2.5h.8l.5 2.5zm2 0l.5-2.2h.9l.5 2.2zm2 0l.5-2.6h1.1l.5 2.6zm4 0l.5-1.9h.8l.5 1.9zm1 0l.5-1.7h1l.5 1.7zm2 0l.3-2.7h.6l.3 2.7zm1 0l.7-2.6h1.3l.7 2.6zm1 0l.9-2.4h3.2l.9 2.4zm1 0l.8-2.8h1.5l.8 2.8zm1 0l.9-2.7h2.3l.9 2.7zm1 0l.3-2.5h.7l.3 2.5zm1 0l.4-2.2h.9l.4 2.2zm1 0l.9-2.7h3l.9 2.7zm1 0l.9-2.7h3l.9 2.7zm1 0l.7-2h1.5l.7 2zm2 0l.9-2.5h1.9l.9 2.5zm1 0l.6-2.7h1.2l.6 2.7zm1 0l.2-2.5h.5l.2 2.5zm1 0l.4-2.2h.7l.4 2.2zm1 0l.7-2.6h1.2l.7 2.6zm1 0l.7-2.4h1.3l.7 2.4zm1 0l.9-1.9h2.3l.9 1.9zm1 0l.7-2.2h1.5l.7 2.2zm1 0l.9-2.7h3l.9 2.7zm1 0l.4-1.9h.7l.4 1.9zm1 0l.5-1.7h.8l.5 1.7zm2 0l.6-2.7h1.2l.6 2.7zm1 0l.9-2.7h1.8l.9 2.7zm1 0l.3-2.7h.6l.3 2.7zm1 0l.8-2.5h1.8l.8 2.5zm1 0l.9-2.5h1.7l.9 2.5zm1 0l.4-2.1h.7l.4 2.1zm1 0l.7-2.4h1.2l.7 2.4zm1 0l.8-2.6h1.4l.8 2.6zm5 0l.7-1.9h1.3l.7 1.9zm1 0l.8-2.6h1.4l.8 2.6zm1 0l.7-2.4h1.3l.7 2.4zm1 0l.4-2.6h.9l.4 2.6zm1 0l.9-2.3h2l.9 2.3zm1 0l.6-2.6h1.2l.6 2.6zm12 0l.3-2.8h.8l.3 2.8zm8 0l.3-1.8h.5l.3 1.8zm9 0l.4-2.7h.9l.4 2.7zm2 0l.5-2.4h.9l.5 2.4zm2 0l.5-2.2h.9l.5 2.2zm1 0l.3-2.5h.5l.3 2.5zm5 0l.9-2.9h2.6l.9 2.9zm1 0l.9-2.7h1.9l.9 2.7zm1 0l.4-2.3h.7l.4 2.3zm1 0l.6-2h1.1l.6 2zm1 0l.6-2.7h1.3l.6 2.7zm1 0l.6-2.4h1.2l.6 2.4zm4 0l.7-1.8h1.2l.7 1.8zm1 0l.6-2.6h1.2l.6 2.6zm1 0l.2-1.8h.5l.2 1.8zm1 0l.7-2.8h1.2l.7 2.8zm1 0l.9-2.6h1.7l.9 2.6zm1 0l.5-2.4h.9l.5 2.4zm1 0l.9-2.2h3l.9 2.2zm2 0l.6-2.5h1.1l.6 2.5zm2 0l.3-2.7h.6l.3 2.7zm1 0l.7-2.6h1.5l.7 2.6zm1 0l.3-2.1h.7l.3 2.1zm1 0l.5-2.2h1.1l.5 2.2zm1 0l.3-2.5h.8l.3 2.5zm1 0l.9-1.9h2.2l.9 1.9zm1 0l.8-2h1.7l.8 2zm1 0l.6-2.7h1.3l.6 2.7zm1 0l.6-2.3h1.3l.6 2.3zm3 0l.3-2.5h.6l.3 2.5zm1 0l.3-2.8h.8l.3 2.8zm3 0l.7-2h1.4l.7 2zm1 0l.8-2.6h1.4l.8 2.6zm1 0l.2-1.9h.6l.2 1.9zm1 0l.8-2.2h1.8l.8 2.2zm1 0l.6-2.2h1.3l.6 2.2zm1 0l.4-1.8h.7l.4 1.8zM52.5 82.44m0 0l.9-2.8h1.9l.9 2.8zm5 0l.5-2.5h1.1l.5 2.5zm2 0l.2-2.7h.6l.2 2.7zm13 0l.4-2.1h.8l.4 2.1zm6 0l.4-2.2h.9l.4 2.2zm1 0l.3-1.7h.6l.3 1.7zm12 0l.3-2.7h.6l.3 2.7zm1 0l.3-2.4h.8l.3 2.4zm1 0l.9-2.1h2.6l.9 2.1zm2 0l.9-2.1h2.6l.9 2.1zm1 0l.9-2h2.2l.9 2zm2 0l.2-2.7h.6l.2 2.7zm1 0l.9-1.8h2.2l.9 1.8zm2 0l.9-1.9h2.8l.9 1.9zm1 0l.9-2.8h2.1l.9 2.8zm1 0l.9-2.9h2.2l.9 2.9zm1 0l.7-2.6h1.4l.7 2.6zm1 0l.9-2.8h2.3l.9 2.8zm2 0l.9-1.7h2.7l.9 1.7zm1 0l.8-2.9h1.8l.8 2.9zm1 0l.8-2.7h1.6l.8 2.7zm1 0l.4-2.4h.8l.4 2.4zm1 0l.5-2.3h.8l.5 2.3zm1 0l.9-2.3h2.1l.9 2.3zm1 0l.3-2.7h.5l.3 2.7zm1 0l.9-1.8h2.5l.9 1.8zm1 0l.5-2.2h1.1l.5 2.2zm1 0l.9-1.6h1.8l.9 1.6zm1 0l.6-1.7h1.2l.6 1.7zm1 0l.7-2.5h1.5l.7 2.5zm1 0l.3-2.5h.5l.3 2.5zm1 0l.5-2h.9l.5 2zm1 0l.6-2.5h1.3l.6 2.5zm1 0l.8-2.6h1.5l.8 2.6zm2 0l.4-2.7h.8l.4 2.7zm1 0l.9-2.8h1.7l.9 2.8zm2 0l.5-2.6h1.1l.5 2.6zm1 0l.3-1.9h.7l.3 1.9zm1 0l.8-2.8h1.4l.8 2.8zm1 0l.9-2.3h1.7l.9 2.3zm1 0l.5-1.9h.9l.5 1.9zm6 0l.5-2.8h1l.5 2.8zm2 0l.2-1.9h.6l.2 1.9zm6 0l.3-1.9h.6l.3 1.9zm2 0l.7-2.7h1.2l.7 2.7zm1 0l.3-2.8h.5l.3 2.8zm3 0l.4-2.6h.7l.4 2.6zm2 0l.6-2.4h1.1l.6 2.4zm2 0l.5-2.4h1l.5 2.4zm2 0l.2-2.5h.6l.2 2.5zm1 0l.5-2.5h.9l.5 2.5zm3 0l.4-2.2h.9l.4 2.2zm1 0l.5-2.8h1l.5 2.8zm3 0l.7-2.1h1.2l.7 2.1zm2 0l.3-2.6h.6l.3 2.6zm1 0l.3-2.6h.7l.3 2.6zm2 0l.9-2.2h2.6l.9 2.2zm1 0l.8-2.6h1.8l.8 2.6zm1 0l.8-2.1h1.6l.8 2.1zm1 0l.3-2.5h.6l.3 2.5zm2 0l.9-2.9h3l.9 2.9zm1 0l.9-2.3h1.7l.9 2.3zm1 0l.6-1.8h1.2l.6 1.8zm1 0l.5-2.4h.9l.5 2.4zm1 0l.7-2.8h1.5l.7 2.8zm1 0l.9-2.7h2.7l.9 2.7zm1 0l.6-2.7h1.2l.6 2.7zm1 0l.6-2.3h1.1l.6 2.3zm1 0l.4-1.9h.8l.4 1.9zm1 0l.9-2.5h2l.9 2.5zm1 0l.9-2.8h2.4l.9 2.8zm1 0l.9-2.7h2.1l.9 2.7zm2 0l.8-2.5h1.7l.8 2.5zm2 0l.5-2.5h1.1l.5 2.5zm1 0l.6-2.6h1l.6 2.6zm1 0l.2-2.6h.5l.2 2.6zm1 0l.6-2.4h1.3l.6 2.4zm2 0l.9-2.6h2.3l.9 2.6zm1 0l.7-2.5h1.5l.7 2.5zm2 0l.9-2.7h1.9l.9 2.7zm2 0l.9-2.1h2.3l.9 2.1zm2 0l.9-2.4h2.1l.9 2.4zm3 0l.9-2.9h2.1l.9 2.9zm1 0l.5-2.7h.8l.5 2.7zm1 0l.5-2.8h.9l.5 2.8zm2 0l.3-2.7h.6l.3 2.7zM52.5 85.33m0 0l.5-2h.8l.5 2zm2 0l.4-1.9h.7l.4 1.9zm8 0l.7-1.9h1.2l.7 1.9zm2 0l.3-2.4h.6l.3 2.4zm2 0l.5-2.1h1.1l.5 2.1zm2 0l.3-2.3h.5l.3 2.3zm2 0l.3-2.6h.6l.3 2.6zm2 0l.6-2.6h1.3l.6 2.6zm7 0l.4-2.8h.7l.4 2.8zm2 0l.5-2.7h.8l.5 2.7zm1 0l.6-2.6h1l.6 2.6zm7 0l.4-2.1h.7l.4 2.1zm3 0l.7-2.2h1.4l.7 2.2zm1 0l.7-1.9h1.2l.7 1.9zm1 0l.7-2.2h1.4l.7 2.2zm1 0l.6-2.5h1.1l.6 2.5zm1 0l.3-2.2h.5l.3 2.2zm3 0l.3-2.3h.8l.3 2.3zm3 0l.2-2.3h.6l.2 2.3zm1 0l.7-2.3h1.3l.7 2.3zm2 0l.5-2h.8l.5 2zm1 0l.9-2.4h2.6l.9 2.4zm1 0l.5-2.9h.8l.5 2.9zm1 0l.9-2.3h2l.9 2.3zm2 0l.9-1.8h1.7l.9 1.8zm1 0l.8-2.8h1.5l.8 2.8zm3 0l.8-2.1h1.8l.8 2.1zm5 0l.7-2.5h1.2l.7 2.5zm3 0l.4-2.3h.7l.4 2.3zm1 0l.3-1.5h.5l.3 1.5zm2 0l.6-2.2h1.3l.6 2.2zm1 0l.8-1.9h1.8l.8 1.9zm1 0l.6-2h1.1l.6 2zm1 0l.5-2.7h1.1l.5 2.7zm4 0l.5-2.7h.9l.5 2.7zm1 0l.6-2.8h1.3l.6 2.8zm7 0l.5-1.7h1.1l.5 1.7zm7 0l.6-2.4h1.3l.6 2.4zm5 0l.6-2.4h1l.6 2.4zm1 0l.5-2.8h.8l.5 2.8zm1 0l.4-1.9h.8l.4 1.9zm3 0l.4-1.8h.9l.4 1.8zm4 0l.2-2.7h.6l.2 2.7zm3 0l.6-2.5h1l.6 2.5zm3 0l.5-2.3h1l.5 2.3zm2 0l.7-2.5h1.4l.7 2.5zm1 0l.9-2.1h2.7l.9 2.1zm1 0l.8-1.9h1.8l.8 1.9zm1 0l.3-2.8h.6l.3 2.8zm1 0l.9-2.8h2.3l.9 2.8zm1 0l.9-2.3h2.6l.9 2.3zm2 0l.9-2.3h1.7l.9 2.3zm1 0l.3-2.1h.7l.3 2.1zm1 0l.9-2.6h1.7l.9 2.6zm1 0l.9-2.1h2.8l.9 2.1zm1 0l.3-2.8h.7l.3 2.8zm2 0l.4-2.7h.9l.4 2.7zm1 0l.5-2.6h1.1l.5 2.6zm1 0l.9-2.3h1.8l.9 2.3zm1 0l.9-2.2h3.1l.9 2.2zm1 0l.9-2.6h3.2l.9 2.6zm1 0l.7-2.3h1.5l.7 2.3zm1 0l.5-2.1h1l.5 2.1zm1 0l.9-1.9h1.9l.9 1.9zm2 0l.9-2.7h2.3l.9 2.7zm1 0l.4-1.6h.9l.4 1.6zm1 0l.7-1.9h1.2l.7 1.9zm1 0l.3-2.4h.7l.3 2.4zm1 0l.4-1.9h.8l.4 1.9zm2 0l.9-2.1h2.1l.9 2.1zm1 0l.9-2h1.9l.9 2zm7 0l.6-2.8h1.1l.6 2.8zm1 0l.7-2.4h1.4l.7 2.4zm3 0l.4-2.7h.7l.4 2.7zm1 0l.1-2.8h.3l.1 2.8zM52.5 88.22m2 0l.3-2.6h.8l.3 2.6zm2 0l.6-2.2h1.3l.6 2.2zm7 0l.3-2.7h.6l.3 2.7zm1 0l.6-2.8h1.1l.6 2.8zm1 0l.6-2h1l.6 2zm4 0l.7-2.7h1.2l.7 2.7zm11 0l.2-2.1h.6l.2 2.1zm1 0l.6-1.7h1.1l.6 1.7zm5 0l.5-2.4h1.1l.5 2.4zm3 0l.7-2.8h1.2l.7 2.8zm1 0l.9-2h1.9l.9 2zm3 0l.9-2.3h3.1l.9 2.3zm1 0l.9-2.9h2.2l.9 2.9zm1 0l.8-2.6h1.4l.8 2.6zm1 0l.9-2.5h1.7l.9 2.5zm1 0l.7-2.7h1.3l.7 2.7zm1 0l.4-2.2h.9l.4 2.2zm1 0l.9-2.4h3l.9 2.4zm1 0l.9-2.8h3.1l.9 2.8zm1 0l.8-2.3h1.4l.8 2.3zm1 0l.3-2.4h.6l.3 2.4zm2 0l.8-2.1h1.5l.8 2.1zm1 0l.9-2.4h1.9l.9 2.4zm1 0l.7-2.6h1.5l.7 2.6zm1 0l.8-2.5h1.7l.8 2.5zm1 0l.5-2.4h.9l.5 2.4zm2 0l.9-2.5h2.1l.9 2.5zm1 0l.3-2.1h.8l.3 2.1zm1 0l.6-2.2h1.3l.6 2.2zm1 0l.9-2.9h2.6l.9 2.9zm1 0l.2-2.3h.6l.2 2.3zm3 0l.6-2.7h1.1l.6 2.7zm1 0l.7-2.8h1.3l.7 2.8zm1 0l.4-2.5h.8l.4 2.5zm2 0l.9-2.5h1.7l.9 2.5zm1 0l.5-2.4h.8l.5 2.4zm1 0l.9-2.9h1.8l.9 2.9zm1 0l.9-2.6h1.7l.9 2.6zm2 0l.9-2.8h1.8l.9 2.8zm1 0l.8-2.7h1.5l.8 2.7zm2 0l.6-2.8h1.3l.6 2.8zm1 0l.9-2.3h2l.9 2.3zm13 0l.3-2.6h.7l.3 2.6zm1 0l.4-2.6h.7l.4 2.6zm6 0l.3-2.4h.5l.3 2.4zm1 0l.5-2.9h1.1l.5 2.9zm3 0l.3-2.6h.6l.3 2.6zm9 0l.2-2.9h.6l.2 2.9zm1 0l.4-2.2h.8l.4 2.2zm4 0l.4-2.5h.9l.4 2.5zm1 0l.8-2.4h1.7l.8 2.4zm2 0l.3-2.4h.8l.3 2.4zm1 0l.7-2.8h1.2l.7 2.8zm1 0l.5-2.6h1.1l.5 2.6zm1 0l.3-2h.8l.3 2zm1 0l.8-2.8h1.5l.8 2.8zm1 0l.9-2.4h3l.9 2.4zm1 0l.9-2.8h1.8l.9 2.8zm2 0l.3-2.6h.6l.3 2.6zm1 0l.9-2.8h2.5l.9 2.8zm1 0l.9-2.7h2.2l.9 2.7zm1 0l.8-2.8h1.4l.8 2.8zm2 0l.5-1.7h.9l.5 1.7zm1 0l.8-2.5h1.4l.8 2.5zm1 0l.6-2.4h1.3l.6 2.4zm1 0l.9-2.2h2.2l.9 2.2zm1 0l.4-2.3h.9l.4 2.3zm1 0l.7-2.7h1.2l.7 2.7zm1 0l.9-2.2h3.1l.9 2.2zm1 0l.8-2.6h1.4l.8 2.6zm1 0l.3-2.5h.5l.3 2.5zm2 0l.5-1.9h.9l.5 1.9zm2 0l.8-2.8h1.7l.8 2.8zm1 0l.3-2.5h.8l.3 2.5zm4 0l.7-2.5h1.4l.7 2.5zm1 0l.9-2.3h2.2l.9 2.3zm1 0l.5-2.7h.9l.5 2.7zm1 0l.8-2.7h1.4l.8 2.7zm1 0l.9-1.6h1.9l.9 1.6zm2 0l.7-2.4h1.3l.7 2.4zM52.5 91.1m13 0l.3-2.3h.8l.3 2.3zm6 0l.6-1.8h1.3l.6 1.8zm18 0l.3-2.8h.7l.3 2.8zm2 0l.9-2.1h2.4l.9 2.1zm1 0l.9-1.7h2.1l.9 1.7zm1 0l.8-2.8h1.5l.8 2.8zm1 0l.8-2.4h1.5l.8 2.4zm2 0l.9-1.5h2.7l.9 1.5zm1 0l.9-2.6h2.9l.9 2.6zm1 0l.9-1.9h2.2l.9 1.9zm1 0l.5-2h.9l.5 2zm2 0l.7-2.6h1.2l.7 2.6zm3 0l.9-2.5h2.5l.9 2.5zm1 0l.7-2.8h1.3l.7 2.8zm1 0l.6-1.8h1.1l.6 1.8zm2 0l.9-2.6h1.9l.9 2.6zm1 0l.7-2.1h1.4l.7 2.1zm2 0l.8-2.7h1.8l.8 2.7zm1 0l.6-2.2h1.3l.6 2.2zm1 0l.8-2.7h1.4l.8 2.7zm1 0l.5-1.9h.8l.5 1.9zm1 0l.2-1.6h.6l.2 1.6zm1 0l.6-2.8h1.1l.6 2.8zm3 0l.5-2.6h1.1l.5 2.6zm1 0l.5-2h1.1l.5 2zm2 0l.9-2.7h2.3l.9 2.7zm1 0l.5-2.2h1l.5 2.2zm2 0l.4-2.8h.9l.4 2.8zm2 0l.7-2.7h1.2l.7 2.7zm1 0l.8-2.9h1.4l.8 2.9zm8 0l.5-2.5h.8l.5 2.5zm1 0l.6-2.4h1l.6 2.4zm1 0l.6-2.8h1.2l.6 2.8zm3 0l.3-2.4h.8l.3 2.4zm4 0l.3-2.8h.6l.3 2.8zm3 0l.5-1.8h1l.5 1.8zm5 0l.3-2.8h.6l.3 2.8zm5 0l.5-2.8h1.1l.5 2.8zm2 0l.4-2.6h.7l.4 2.6zm3 0l.4-2.2h.9l.4 2.2zm3 0l.3-2.3h.6l.3 2.3zm1 0l.6-2.7h1l.6 2.7zm1 0l.2-2h.5l.2 2zm1 0l.6-2.4h1l.6 2.4zm1 0l.9-2.4h3l.9 2.4zm1 0l.9-2.1h3.2l.9 2.1zm1 0l.9-2.7h1.7l.9 2.7zm1 0l.8-2.3h1.4l.8 2.3zm1 0l.9-2.7h3l.9 2.7zm4 0l.6-2.5h1l.6 2.5zm2 0l.9-2.7h2.6l.9 2.7zm1 0l.8-1.9h1.5l.8 1.9zm2 0l.9-1.9h2.1l.9 1.9zm1 0l.6-1.9h1l.6 1.9zm1 0l.6-2.4h1.2l.6 2.4zm1 0l.3-2.9h.6l.3 2.9zm1 0l.8-2.4h1.6l.8 2.4zm1 0l.6-2.1h1.2l.6 2.1zm3 0l.9-2.5h2.4l.9 2.5zm1 0l.8-1.8h1.5l.8 1.8zm2 0l.8-2.8h1.5l.8 2.8zm1 0l.3-2.1h.5l.3 2.1zm1 0l.5-2.6h.9l.5 2.6zm2 0l.6-1.7h1.3l.6 1.7zm1 0l.3-2h.6l.3 2zm1 0l.5-2.8h.9l.5 2.8zm1 0l.5-2.7h1.1l.5 2.7zm1 0l.4-1.7h.7l.4 1.7zm2 0l.7-2.6h1.3l.7 2.6zm1 0l.6-2.6h1.3l.6 2.6zm4 0l.4-2.1h.7l.4 2.1zM52.5 93.99m2 0l.6-2.8h1.3l.6 2.8zm5 0l.3-2.7h.6l.3 2.7zm5 0l.5-2.2h.8l.5 2.2zm2 0l.3-2h.6l.3 2zm4 0l.5-2h.9l.5 2zm2 0l.5-1.9h1.1l.5 1.9zm2 0l.5-2.3h.8l.5 2.3zm1 0l.5-2.8h1l.5 2.8zm2 0l.5-2.9h.9l.5 2.9zm1 0l.5-2.7h.9l.5 2.7zm3 0l.2-2.8h.5l.2 2.8zm5 0l.3-2.5h.7l.3 2.5zm2 0l.5-2.3h.8l.5 2.3zm1 0l.9-2.5h2.9l.9 2.5zm1 0l.9-2.4h2.2l.9 2.4zm2 0l.9-2.9h1.7l.9 2.9zm1 0l.7-2h1.4l.7 2zm1 0l.6-2.2h1.2l.6 2.2zm2 0l.9-2.2h1.7l.9 2.2zm2 0l.7-2.6h1.4l.7 2.6zm1 0l.5-2.1h.9l.5 2.1zm1 0l.8-2.8h1.5l.8 2.8zm1 0l.5-2.4h1l.5 2.4zm1 0l.4-2.5h.8l.4 2.5zm1 0l.9-2h1.9l.9 2zm1 0l.7-2h1.4l.7 2zm1 0l.9-2.9h1.8l.9 2.9zm1 0l.9-1.9h3l.9 1.9zm1 0l.8-2.2h1.4l.8 2.2zm1 0l.3-2.6h.6l.3 2.6zm1 0l.5-2.9h1l.5 2.9zm1 0l.8-2.2h1.6l.8 2.2zm1 0l.9-2.5h3l.9 2.5zm1 0l.3-1.7h.8l.3 1.7zm2 0l.3-2.3h.7l.3 2.3zm1 0l.9-2.4h2.2l.9 2.4zm1 0l.7-2.5h1.2l.7 2.5zm1 0l.3-2.3h.5l.3 2.3zm1 0l.9-2.2h2.3l.9 2.2zm1 0l.5-2h1l.5 2zm2 0l.5-1.7h1l.5 1.7zm1 0l.9-2.2h1.7l.9 2.2zm2 0l.7-2.8h1.3l.7 2.8zm1 0l.8-2.2h1.8l.8 2.2zm1 0l.9-2h1.8l.9 2zm1 0l.9-2.1h2.3l.9 2.1zm2 0l.8-1.6h1.6l.8 1.6zm2 0l.7-2.6h1.2l.7 2.6zm1 0l.5-2.8h1.1l.5 2.8zm3 0l.5-2.6h1l.5 2.6zm5 0l.4-2.9h.7l.4 2.9zm1 0l.2-2.6h.6l.2 2.6zm2 0l.3-2h.7l.3 2zm7 0l.6-2.7h1.1l.6 2.7zm2 0l.2-2.7h.6l.2 2.7zm1 0l.7-2.6h1.2l.7 2.6zm2 0l.3-1.8h.5l.3 1.8zm2 0l.5-2.6h1.1l.5 2.6zm4 0l.2-2.6h.6l.2 2.6zm2 0l.6-2.7h1.3l.6 2.7zm3 0l.9-2.8h2.7l.9 2.8zm1 0l.6-2.8h1.2l.6 2.8zm1 0l.9-2.6h2.2l.9 2.6zm1 0l.9-2.5h3.2l.9 2.5zm1 0l.9-2.3h1.8l.9 2.3zm1 0l.6-2.6h1.3l.6 2.6zm1 0l.6-1.7h1.1l.6 1.7zm1 0l.9-2.8h2.2l.9 2.8zm1 0l.9-1.9h2.5l.9 1.9zm1 0l.5-2.9h.8l.5 2.9zm1 0l.9-1.6h2.4l.9 1.6zm1 0l.8-2.5h1.6l.8 2.5zm3 0l.7-2h1.4l.7 2zm1 0l.5-2.2h.9l.5 2.2zm1 0l.8-2.2h1.5l.8 2.2zm1 0l.3-2.8h.8l.3 2.8zm1 0l.7-2h1.3l.7 2zm1 0l.9-2.7h3.1l.9 2.7zm1 0l.3-2.4h.5l.3 2.4zm1 0l.7-2.5h1.4l.7 2.5zm1 0l.9-2.2h2l.9 2.2zm1 0l.5-2.4h1l.5 2.4zm1 0l.3-1.8h.7l.3 1.8zm2 0l.9-2.1h2.2l.9 2.1zm1 0l.7-2.2h1.5l.7 2.2zm1 0l.9-2.2h1.7l.9 2.2zm1 0l.2-2.8h.6l.2 2.8zm2 0l.6-2.3h1.3l.6 2.3zm1 0l.6-2.5h1.3l.6 2.5zm1 0l.2-1.9h.6l.2 1.9zm1 0l.6-2.8h1.3l.6 2.8zm2 0l.6-2.8h1.1l.6 2.8zm1 0l.3-1.8h.7l.3 1.8zm2 0l.9-2.8h2.1l.9 2.8zm1 0l.8-2.4h1.6l.8 2.4zm1 0l.9-2.8h1.7l.9 2.8zm1 0l.6-2.5h1.3l.6 2.5zM52.5 96.88m3 0l.5-2.4h1.1l.5 2.4zm2 0l.6-2.8h1.1l.6 2.8zm2 0l.6-2.1h1.2l.6 2.1zm4 0l.2-2.9h.6l.2 2.9zm5 0l.5-2.8h1.1l.5 2.8zm5 0l.5-2h.9l.5 2zm3 0l.3-2.7h.8l.3 2.7zm1 0l.7-2.2h1.2l.7 2.2zm1 0l.4-1.9h.8l.4 1.9zm1 0l.5-2.1h.9l.5 2.1zm4 0l.7-2.7h1.2l.7 2.7zm1 0l.2-2.2h.5l.2 2.2zm1 0l.3-2.1h.5l.3 2.1zm2 0l.8-2.7h1.4l.8 2.7zm1 0l.8-2.4h1.7l.8 2.4zm1 0l.4-2.9h.9l.4 2.9zm1 0l.4-2.5h.9l.4 2.5zm1 0l.9-2.4h1.8l.9 2.4zm4 0l.6-1.7h1.3l.6 1.7zm1 0l.5-2.3h.8l.5 2.3zm2 0l.8-2.5h1.6l.8 2.5zm2 0l.6-2.4h1.3l.6 2.4zm1 0l.7-2.4h1.2l.7 2.4zm2 0l.8-2.5h1.4l.8 2.5zm1 0l.8-2.7h1.7l.8 2.7zm2 0l.9-2h2.2l.9 2zm2 0l.9-2.2h2.4l.9 2.2zm1 0l.2-2.8h.5l.2 2.8zm1 0l.9-2.5h1.9l.9 2.5zm1 0l.9-2.7h2.1l.9 2.7zm1 0l.3-2.6h.8l.3 2.6zm1 0l.3-2.8h.5l.3 2.8zm3 0l.9-2.6h2.2l.9 2.6zm1 0l.6-2.6h1.2l.6 2.6zm2 0l.7-2.5h1.3l.7 2.5zm3 0l.4-1.9h.9l.4 1.9zm1 0l.3-1.8h.6l.3 1.8zm3 0l.5-2.2h1.1l.5 2.2zm1 0l.3-2h.7l.3 2zm1 0l.3-2.7h.8l.3 2.7zm1 0l.9-2.2h2.3l.9 2.2zm3 0l.5-2.9h1.1l.5 2.9zm1 0l.6-2.9h1.3l.6 2.9zm1 0l.5-2.4h1l.5 2.4zm2 0l.4-2.8h.8l.4 2.8zm1 0l.4-2.7h.7l.4 2.7zm2 0l.4-2.9h.9l.4 2.9zm1 0l.5-2.8h1.1l.5 2.8zm2 0l.6-2.3h1.1l.6 2.3zm6 0l.3-2.8h.5l.3 2.8zm1 0l.2-2.5h.5l.2 2.5zm9 0l.6-2.5h1.2l.6 2.5zm3 0l.2-2.2h.6l.2 2.2zm1 0l.4-2.7h.8l.4 2.7zm3 0l.9-2.6h2.9l.9 2.6zm1 0l.8-2.8h1.6l.8 2.8zm1 0l.8-2.7h1.5l.8 2.7zm2 0l.7-2.8h1.2l.7 2.8zm1 0l.9-2.4h2.9l.9 2.4zm1 0l.7-2.8h1.3l.7 2.8zm1 0l.7-2.5h1.4l.7 2.5zm1 0l.8-2.2h1.6l.8 2.2zm2 0l.2-2.1h.6l.2 2.1zm1 0l.9-2.2h2.4l.9 2.2zm1 0l.3-2.7h.7l.3 2.7zm1 0l.9-2.6h1.7l.9 2.6zm2 0l.9-2.3h2.7l.9 2.3zm4 0l.9-2.8h2.5l.9 2.8zm2 0l.9-2h2.8l.9 2zm1 0l.9-2.3h2.4l.9 2.3zm2 0l.6-2.6h1.3l.6 2.6zm1 0l.9-2.3h2.3l.9 2.3zm1 0l.4-2.6h.9l.4 2.6zm1 0l.8-2.7h1.6l.8 2.7zm1 0l.7-2.5h1.5l.7 2.5zm1 0l.6-2.5h1l.6 2.5zm5 0l.9-1.8h2.2l.9 1.8zm2 0l.6-2.3h1.3l.6 2.3zm1 0l.7-2.1h1.4l.7 2.1zm1 0l.8-1.9h1.7l.8 1.9zm3 0l.8-2h1.6l.8 2zm1 0l.7-2.8h1.4l.7 2.8zm1 0l.2-1.8h.6l.2 1.8zm1 0l.4-2.5h.7l.4 2.5zM52.5 99.76m9 0l.6-1.6h1.3l.6 1.6zm11 0l.5-2.5h1l.5 2.5zm3 0l.3-2.8h.6l.3 2.8zm8 0l.6-2h1.3l.6 2zm3 0l.9-2.9h2.5l.9 2.9zm1 0l.3-2.3h.5l.3 2.3zm1 0l.2-2.9h.6l.2 2.9zm1 0l.9-2.9h3.1l.9 2.9zm1 0l.9-2.6h2.1l.9 2.6zm1 0l.4-2.7h.9l.4 2.7zm1 0l.5-1.6h.8l.5 1.6zm1 0l.6-1.9h1l.6 1.9zm1 0l.3-1.9h.7l.3 1.9zm1 0l.9-2.3h2.9l.9 2.3zm2 0l.4-2.3h.9l.4 2.3zm2 0l.7-1.8h1.4l.7 1.8zm1 0l.9-2.2h2.8l.9 2.2zm1 0l.9-2.4h2.5l.9 2.4zm1 0l.5-2.2h1.1l.5 2.2zm1 0l.8-1.6h1.5l.8 1.6zm2 0l.7-2.6h1.3l.7 2.6zm1 0l.5-2.4h.9l.5 2.4zm1 0l.9-2.4h2.2l.9 2.4zm1 0l.8-2.8h1.8l.8 2.8zm2 0l.6-2.7h1.2l.6 2.7zm3 0l.5-2h.9l.5 2zm2 0l.2-2.5h.6l.2 2.5zm3 0l.7-2.5h1.5l.7 2.5zm1 0l.5-2.5h.8l.5 2.5zm1 0l.9-2.7h2.3l.9 2.7zm1 0l.7-2.5h1.5l.7 2.5zm4 0l.9-2.4h1.8l.9 2.4zm1 0l.7-2.8h1.2l.7 2.8zm2 0l.5-2.6h1l.5 2.6zm1 0l.5-1.8h.9l.5 1.8zm1 0l.6-2.8h1.2l.6 2.8zm2 0l.6-2.5h1l.6 2.5zm2 0l.6-2.4h1.1l.6 2.4zm2 0l.5-2.6h1.1l.5 2.6zm1 0l.6-2.8h1.3l.6 2.8zm1 0l.3-1.9h.8l.3 1.9zm1 0l.6-2.8h1l.6 2.8zm1 0l.4-2.7h.9l.4 2.7zm1 0l.4-1.5h.7l.4 1.5zm3 0l.2-2.8h.6l.2 2.8zm3 0l.6-2.1h1l.6 2.1zm2 0l.7-2.6h1.2l.7 2.6zm6 0l.3-1.7h.7l.3 1.7zm3 0l.6-2.7h1l.6 2.7zm4 0l.5-2.6h.9l.5 2.6zm2 0l.9-2.3h2.2l.9 2.3zm3 0l.5-2.5h1l.5 2.5zm1 0l.7-2.3h1.4l.7 2.3zm1 0l.9-2.8h2.9l.9 2.8zm1 0l.9-2.8h2.8l.9 2.8zm1 0l.9-2.6h3.1l.9 2.6zm1 0l.9-2.3h3l.9 2.3zm2 0l.8-2.6h1.6l.8 2.6zm1 0l.9-2.5h2.8l.9 2.5zm1 0l.7-2.9h1.3l.7 2.9zm1 0l.9-1.9h1.8l.9 1.9zm1 0l.9-2.4h1.7l.9 2.4zm1 0l.5-2.1h.8l.5 2.1zm1 0l.5-1.9h.8l.5 1.9zm1 0l.5-1.9h.9l.5 1.9zm1 0l.9-2.1h2.6l.9 2.1zm1 0l.9-2.3h2.3l.9 2.3zm1 0l.2-2.8h.5l.2 2.8zm1 0l.7-2.6h1.5l.7 2.6zm1 0l.3-2.8h.7l.3 2.8zm1 0l.9-2.8h1.7l.9 2.8zm1 0l.5-2.7h1.1l.5 2.7zm1 0l.9-2.9h1.9l.9 2.9zm1 0l.4-2.5h.8l.4 2.5zm1 0l.7-2.4h1.3l.7 2.4zm1 0l.8-2.4h1.8l.8 2.4zm2 0l.4-2.4h.9l.4 2.4zm1 0l.5-2.8h.8l.5 2.8zm2 0l.9-2.3h2l.9 2.3zm1 0l.3-2.8h.7l.3 2.8zm1 0l.5-2.8h1.1l.5 2.8zm1 0l.3-2.7h.8l.3 2.7zm1 0l.7-2.6h1.2l.7 2.6zm3 0l.8-2.2h1.8l.8 2.2zm1 0l.8-2.8h1.5l.8 2.8zm1 0l.6-1.8h1.1l.6 1.8zm1 0l.3-2.3h.5l.3 2.3zM52.5 102.65m3 0l.7-2.5h1.2l.7 2.5zm2 0l.5-2h1l.5 2zm1 0l.5-2.3h.9l.5 2.3zm1 0l.7-2.1h1.2l.7 2.1zm10 0l.3-2.6h.8l.3 2.6zm1 0l.3-2.2h.5l.3 2.2zm2 0l.5-2.3h.9l.5 2.3zm6 0l.4-2.2h.7l.4 2.2zm1 0l.6-2.9h1.1l.6 2.9zm1 0l.6-1.5h1.2l.6 1.5zm1 0l.6-2.6h1.2l.6 2.6zm2 0l.5-2.7h.9l.5 2.7zm1 0l.6-2.2h1.2l.6 2.2zm1 0l.9-2h2.5l.9 2zm2 0l.9-2h3.2l.9 2zm1 0l.2-2.3h.5l.2 2.3zm1 0l.9-2.1h3l.9 2.1zm1 0l.6-2h1.3l.6 2zm1 0l.3-2.2h.5l.3 2.2zm2 0l.9-2.4h3.1l.9 2.4zm3 0l.9-2.5h3l.9 2.5zm1 0l.9-2.9h3l.9 2.9zm1 0l.8-1.9h1.4l.8 1.9zm1 0l.6-2.1h1.3l.6 2.1zm1 0l.9-2.5h3.1l.9 2.5zm1 0l.9-2.7h2.3l.9 2.7zm1 0l.9-2.3h2.1l.9 2.3zm1 0l.6-2.4h1.1l.6 2.4zm1 0l.7-2.7h1.4l.7 2.7zm1 0l.4-2h.7l.4 2zm1 0l.8-2.8h1.4l.8 2.8zm1 0l.4-2.7h.9l.4 2.7zm1 0l.5-2.1h1.1l.5 2.1zm1 0l.9-2.8h2l.9 2.8zm1 0l.3-2.5h.8l.3 2.5zm1 0l.5-1.9h1l.5 1.9zm3 0l.7-2.3h1.5l.7 2.3zm1 0l.5-2.4h.8l.5 2.4zm2 0l.3-2.8h.6l.3 2.8zm2 0l.9-2.1h1.9l.9 2.1zm1 0l.8-2.5h1.8l.8 2.5zm1 0l.2-2.4h.5l.2 2.4zm1 0l.4-2.8h.8l.4 2.8zm1 0l.9-2.3h2l.9 2.3zm1 0l.5-2.3h1l.5 2.3zm1 0l.9-2.3h2.2l.9 2.3zm1 0l.7-2.3h1.3l.7 2.3zm1 0l.8-2h1.6l.8 2zm1 0l.9-2.7h2.1l.9 2.7zm1 0l.9-2.7h2.1l.9 2.7zm2 0l.6-2.5h1.3l.6 2.5zm10 0l.5-2.6h1l.5 2.6zm5 0l.3-2.8h.6l.3 2.8zm8 0l.6-2h1l.6 2zm1 0l.4-2.2h.9l.4 2.2zm1 0l.3-1.9h.6l.3 1.9zm2 0l.3-2.4h.5l.3 2.4zm6 0l.3-2h.7l.3 2zm1 0l.9-2.7h2.7l.9 2.7zm2 0l.7-2.3h1.2l.7 2.3zm1 0l.9-2.7h1.8l.9 2.7zm2 0l.8-2.4h1.8l.8 2.4zm2 0l.3-2.4h.5l.3 2.4zm1 0l.8-2.6h1.8l.8 2.6zm1 0l.3-2.3h.8l.3 2.3zm4 0l.8-2.4h1.7l.8 2.4zm1 0l.8-2h1.6l.8 2zm3 0l.8-2.5h1.8l.8 2.5zm2 0l.9-2.3h2.2l.9 2.3zm1 0l.9-1.8h2.7l.9 1.8zm1 0l.9-1.9h1.8l.9 1.9zm1 0l.9-2.1h2.6l.9 2.1zm1 0l.7-2.3h1.2l.7 2.3zm2 0l.7-2.8h1.4l.7 2.8zm6 0l.9-2.5h1.7l.9 2.5zm1 0l.4-2.6h.7l.4 2.6zm1 0l.3-2.6h.8l.3 2.6zm2 0l.2-1.9h.6l.2 1.9zm2 0l.3-2.6h.8l.3 2.6zm1 0l.7-2.5h1.5l.7 2.5zm1 0l.4-2h.8l.4 2zm1 0l.6-2.8h1.3l.6 2.8zm1 0l.5-2.6h.8l.5 2.6zM52.5 105.54m0 0l.4-2.6h.9l.4 2.6zm2 0l.4-2.6h.7l.4 2.6zm7 0l.5-2.3h.8l.5 2.3zm2 0l.3-1.9h.8l.3 1.9zm5 0l.6-2h1.3l.6 2zm1 0l.2-2.8h.5l.2 2.8zm1 0l.6-1.5h1.3l.6 1.5zm8 0l.2-2.5h.5l.2 2.5zm5 0l.5-2.8h.8l.5 2.8zm1 0l.3-2.8h.6l.3 2.8zm1 0l.8-2.1h1.6l.8 2.1zm1 0l.6-2.6h1.2l.6 2.6zm2 0l.6-2.6h1.2l.6 2.6zm1 0l.9-2.8h2.9l.9 2.8zm1 0l.9-2.6h2.5l.9 2.6zm1 0l.5-2.7h.9l.5 2.7zm1 0l.9-2.3h2.4l.9 2.3zm2 0l.9-2.5h2l.9 2.5zm1 0l.9-2.1h2.1l.9 2.1zm1 0l.9-2.5h3l.9 2.5zm1 0l.8-2.1h1.6l.8 2.1zm1 0l.3-2.7h.5l.3 2.7zm1 0l.5-2.4h1l.5 2.4zm1 0l.5-2.2h1.1l.5 2.2zm1 0l.5-2.8h1l.5 2.8zm1 0l.9-2h2l.9 2zm1 0l.3-2.6h.5l.3 2.6zm1 0l.4-2.8h.8l.4 2.8zm1 0l.3-2.8h.5l.3 2.8zm1 0l.9-2.7h1.8l.9 2.7zm1 0l.9-2.6h2.9l.9 2.6zm3 0l.6-2.5h1.3l.6 2.5zm2 0l.6-2.1h1.3l.6 2.1zm1 0l.8-2.7h1.7l.8 2.7zm1 0l.4-1.9h.7l.4 1.9zm1 0l.4-2.2h.7l.4 2.2zm1 0l.9-2.5h2.2l.9 2.5zm3 0l.5-1.9h.9l.5 1.9zm1 0l.7-2.6h1.5l.7 2.6zm1 0l.7-2.6h1.2l.7 2.6zm1 0l.8-2.8h1.6l.8 2.8zm2 0l.9-2h2.1l.9 2zm2 0l.8-2.7h1.5l.8 2.7zm1 0l.9-2.6h1.7l.9 2.6zm1 0l.9-2.7h1.9l.9 2.7zm2 0l.6-2.1h1.2l.6 2.1zm2 0l.3-2.4h.8l.3 2.4zm3 0l.5-2h1l.5 2zm2 0l.5-1.8h1.1l.5 1.8zm3 0l.3-2.4h.6l.3 2.4zm2 0l.5-2.8h.8l.5 2.8zm5 0l.3-2.3h.5l.3 2.3zm1 0l.2-2.8h.5l.2 2.8zm3 0l.7-2.4h1.2l.7 2.4zm7 0l.6-2.6h1.1l.6 2.6zm5 0l.7-1.9h1.2l.7 1.9zm1 0l.8-2.7h1.5l.8 2.7zm1 0l.2-1.5h.6l.2 1.5zm2 0l.9-2.4h2.2l.9 2.4zm1 0l.9-2.3h2.2l.9 2.3zm1 0l.7-2.4h1.5l.7 2.4zm1 0l.6-2.6h1.1l.6 2.6zm1 0l.7-2.5h1.3l.7 2.5zm1 0l.5-2.3h.8l.5 2.3zm1 0l.9-1.5h2l.9 1.5zm1 0l.6-2.3h1.1l.6 2.3zm2 0l.9-2.4h2.9l.9 2.4zm1 0l.7-2.2h1.5l.7 2.2zm2 0l.9-2.7h2.3l.9 2.7zm1 0l.7-2.3h1.3l.7 2.3zm1 0l.2-2.8h.6l.2 2.8zm2 0l.6-2h1.3l.6 2zm1 0l.7-1.9h1.3l.7 1.9zm2 0l.9-2.1h2.3l.9 2.1zm1 0l.7-2.6h1.5l.7 2.6zm1 0l.5-2.7h.8l.5 2.7zm1 0l.5-2.5h.8l.5 2.5zm2 0l.9-2.5h1.7l.9 2.5zm1 0l.9-1.9h1.7l.9 1.9zm1 0l.5-2.6h1.1l.5 2.6zm1 0l.8-1.8h1.8l.8 1.8zm1 0l.6-2.6h1l.6 2.6zm1 0l.8-2.7h1.7l.8 2.7zm1 0l.3-2.8h.5l.3 2.8zm3 0l.6-2.4h1.2l.6 2.4zm3 0l.6-2.2h1.3l.6 2.2zm2 0l.6-2.9h1.3l.6 2.9zm1 0l.5-2.1h1.1l.5 2.1zm1 0l.5-2.5h.8l.5 2.5zM52.5 108.42m2 0l.3-2.7h.6l.3 2.7zm2 0l.6-2.7h1.2l.6 2.7zm1 0l.4-2.8h.8l.4 2.8zm1 0l.6-2h1.2l.6 2zm1 0l.5-2.8h.9l.5 2.8zm3 0l.5-2.7h.9l.5 2.7zm5 0l.4-2h.9l.4 2zm3 0l.3-1.9h.8l.3 1.9zm7 0l.5-2.8h.8l.5 2.8zm3 0l.6-2.2h1.2l.6 2.2zm4 0l.7-2.7h1.2l.7 2.7zm3 0l.9-2.8h2.5l.9 2.8zm1 0l.9-2.5h2.9l.9 2.5zm1 0l.9-2.8h2.7l.9 2.8zm3 0l.9-1.6h2.7l.9 1.6zm1 0l.8-2.2h1.8l.8 2.2zm1 0l.9-2.5h2.9l.9 2.5zm1 0l.5-2.5h.8l.5 2.5zm2 0l.5-2.7h1l.5 2.7zm2 0l.7-2.7h1.2l.7 2.7zm1 0l.9-1.9h2.7l.9 1.9zm1 0l.7-2.7h1.5l.7 2.7zm1 0l.6-1.9h1.1l.6 1.9zm1 0l.5-2.2h1l.5 2.2zm1 0l.5-2.7h.8l.5 2.7zm1 0l.3-2.6h.8l.3 2.6zm2 0l.9-1.8h2.2l.9 1.8zm2 0l.2-2.5h.6l.2 2.5zm1 0l.8-2.4h1.4l.8 2.4zm2 0l.3-2.5h.6l.3 2.5zm1 0l.6-2.3h1l.6 2.3zm1 0l.9-2.8h2.2l.9 2.8zm2 0l.3-2.4h.6l.3 2.4zm1 0l.9-2.5h2l.9 2.5zm1 0l.9-2.7h1.7l.9 2.7zm2 0l.4-2.5h.9l.4 2.5zm5 0l.4-2.4h.7l.4 2.4zm1 0l.9-2.7h2.2l.9 2.7zm5 0l.3-2.8h.7l.3 2.8zm5 0l.5-1.6h.8l.5 1.6zm5 0l.5-2.4h1.1l.5 2.4zm2 0l.4-2.7h.9l.4 2.7zm1 0l.6-1.6h1.1l.6 1.6zm10 0l.2-2.8h.5l.2 2.8zm4 0l.6-2.3h1.2l.6 2.3zm2 0l.5-2.2h.9l.5 2.2zm2 0l.8-2.5h1.8l.8 2.5zm3 0l.6-2.7h1.3l.6 2.7zm3 0l.8-1.7h1.6l.8 1.7zm1 0l.5-1.8h1l.5 1.8zm1 0l.8-2.5h1.5l.8 2.5zm1 0l.4-2.7h.7l.4 2.7zm1 0l.9-2.6h3.1l.9 2.6zm1 0l.4-2.8h.8l.4 2.8zm1 0l.3-2.2h.6l.3 2.2zm1 0l.5-2.7h.8l.5 2.7zm2 0l.6-2.3h1l.6 2.3zm1 0l.9-2.9h2.3l.9 2.9zm1 0l.5-2.3h.9l.5 2.3zm1 0l.2-2h.6l.2 2zm1 0l.9-1.8h2.3l.9 1.8zm1 0l.8-2.6h1.5l.8 2.6zm1 0l.9-2.8h2l.9 2.8zm1 0l.9-1.6h2.4l.9 1.6zm1 0l.5-2.8h1.1l.5 2.8zm1 0l.5-2.1h1l.5 2.1zm1 0l.8-2.4h1.7l.8 2.4zm1 0l.8-2.1h1.7l.8 2.1zm1 0l.7-2.7h1.2l.7 2.7zm1 0l.9-1.8h1.7l.9 1.8zm1 0l.5-2.8h1.1l.5 2.8zm1 0l.9-2.5h2.2l.9 2.5zm1 0l.7-2.5h1.4l.7 2.5zm2 0l.5-2.4h.9l.5 2.4zm1 0l.3-2.5h.5l.3 2.5zm1 0l.9-2.9h1.9l.9 2.9zm2 0l.9-2.1h2l.9 2.1zm5 0l.9-2.8h1.9l.9 2.8zm3 0l.3-2.5h.6l.3 2.5zm3 0l.1-2.7h.3l.1 2.7zM52.5 111.31m0 0l.5-2.9h.9l.5 2.9zm1 0l.3-2.8h.6l.3 2.8zm1 0l.6-2.5h1.2l.6 2.5zm8 0l.6-2.3h1.2l.6 2.3zm1 0l.5-2.2h.8l.5 2.2zm7 0l.6-2.3h1l.6 2.3zm1 0l.3-2.2h.7l.3 2.2zm2 0l.4-2.5h.8l.4 2.5zm7 0l.6-2h1l.6 2zm3 0l.9-2.8h2.6l.9 2.8zm1 0l.9-1.9h2.7l.9 1.9zm1 0l.9-2.8h2.8l.9 2.8zm1 0l.9-2.7h3l.9 2.7zm1 0l.5-1.9h.8l.5 1.9zm1 0l.9-2.4h1.7l.9 2.4zm2 0l.8-2.1h1.8l.8 2.1zm1 0l.9-2.5h2.3l.9 2.5zm1 0l.3-2.4h.5l.3 2.4zm1 0l.9-1.8h2.5l.9 1.8zm1 0l.8-1.7h1.5l.8 1.7zm1 0l.3-2.4h.7l.3 2.4zm1 0l.5-1.8h1l.5 1.8zm1 0l.5-2.2h1.1l.5 2.2zm1 0l.9-2.4h3.1l.9 2.4zm1 0l.9-2.1h3l.9 2.1zm2 0l.9-1.8h2.5l.9 1.8zm1 0l.9-1.9h2.9l.9 1.9zm1 0l.7-2.3h1.2l.7 2.3zm3 0l.8-2.6h1.7l.8 2.6zm2 0l.9-2.7h2l.9 2.7zm1 0l.3-2.6h.5l.3 2.6zm1 0l.9-2.1h2.1l.9 2.1zm1 0l.8-2.4h1.8l.8 2.4zm1 0l.9-2.8h2.2l.9 2.8zm1 0l.3-2.6h.7l.3 2.6zm3 0l.7-2.7h1.4l.7 2.7zm2 0l.3-1.8h.6l.3 1.8zm1 0l.6-2.5h1.2l.6 2.5zm2 0l.9-2.4h1.7l.9 2.4zm2 0l.9-2.8h2l.9 2.8zm1 0l.5-2.6h1l.5 2.6zm2 0l.9-2.7h1.7l.9 2.7zm1 0l.9-2.3h2l.9 2.3zm5 0l.4-2.2h.9l.4 2.2zm1 0l.5-2.3h.9l.5 2.3zm1 0l.4-2.2h.8l.4 2.2zm2 0l.6-2.3h1l.6 2.3zm1 0l.6-2.7h1.1l.6 2.7zm1 0l.6-1.6h1l.6 1.6zm2 0l.5-2h1.1l.5 2zm1 0l.6-2.6h1l.6 2.6zm5 0l.6-2.4h1.2l.6 2.4zm2 0l.6-2.4h1.3l.6 2.4zm4 0l.6-2.5h1.3l.6 2.5zm5 0l.3-2.1h.7l.3 2.1zm4 0l.8-2.8h1.5l.8 2.8zm1 0l.7-1.9h1.2l.7 1.9zm1 0l.8-2.9h1.4l.8 2.9zm1 0l.3-1.8h.6l.3 1.8zm1 0l.4-1.8h.9l.4 1.8zm1 0l.9-2.7h1.7l.9 2.7zm1 0l.6-2.3h1.1l.6 2.3zm2 0l.4-2.7h.8l.4 2.7zm1 0l.5-2.5h.9l.5 2.5zm1 0l.8-2.7h1.4l.8 2.7zm2 0l.9-2.1h2l.9 2.1zm2 0l.9-2.5h2.7l.9 2.5zm1 0l.7-1.7h1.5l.7 1.7zm1 0l.9-2.5h2l.9 2.5zm1 0l.9-2.5h2.6l.9 2.5zm1 0l.9-2.6h3l.9 2.6zm1 0l.5-2.6h1l.5 2.6zm1 0l.4-2.3h.7l.4 2.3zm2 0l.9-1.9h3l.9 1.9zm2 0l.3-2.2h.6l.3 2.2zm1 0l.8-1.7h1.4l.8 1.7zm1 0l.4-2.4h.7l.4 2.4zm1 0l.9-2.6h1.8l.9 2.6zm1 0l.9-2.5h2.1l.9 2.5zm1 0l.4-2.2h.8l.4 2.2zm1 0l.8-2.9h1.8l.8 2.9zm1 0l.4-2.6h.8l.4 2.6zm1 0l.3-2.3h.7l.3 2.3zm2 0l.7-2.5h1.4l.7 2.5zm1 0l.9-1.9h2.3l.9 1.9zm1 0l.2-2.8h.6l.2 2.8zm2 0l.4-2.1h.9l.4 2.1zm2 0l.2-2.1h.6l.2 2.1zm2 0l.8-2.8h1.8l.8 2.8zm1 0l.2-2h.5l.2 2zm1 0l.8-2.6h1.5l.8 2.6zm1 0l.3-2.7h.5l.3 2.7zM52.5 114.2m1 0l.4-2.9h.9l.4 2.9zm3 0l.4-2.3h.7l.4 2.3zm3 0l.6-2.4h1.2l.6 2.4zm1 0l.6-2.8h1l.6 2.8zm1 0l.7-2.3h1.2l.7 2.3zm12 0l.5-2.5h1.1l.5 2.5zm5 0l.3-2.4h.7l.3 2.4zm5 0l.6-2.7h1.1l.6 2.7zm2 0l.7-2.3h1.3l.7 2.3zm1 0l.9-2.6h2l.9 2.6zm1 0l.5-1.6h.8l.5 1.6zm1 0l.9-2.3h2l.9 2.3zm1 0l.9-1.8h3.1l.9 1.8zm2 0l.8-2.4h1.6l.8 2.4zm2 0l.4-2.5h.7l.4 2.5zm1 0l.4-2.6h.7l.4 2.6zm2 0l.6-2.9h1l.6 2.9zm1 0l.9-1.9h2.5l.9 1.9zm1 0l.3-2.3h.8l.3 2.3zm1 0l.9-2.6h1.8l.9 2.6zm1 0l.8-2h1.4l.8 2zm1 0l.5-2.5h.9l.5 2.5zm1 0l.9-2.1h3l.9 2.1zm1 0l.8-1.5h1.5l.8 1.5zm1 0l.8-2.6h1.4l.8 2.6zm1 0l.8-2.4h1.4l.8 2.4zm1 0l.3-2.8h.7l.3 2.8zm2 0l.8-2.5h1.7l.8 2.5zm1 0l.7-2.8h1.2l.7 2.8zm2 0l.5-2.6h1.1l.5 2.6zm1 0l.8-2.1h1.6l.8 2.1zm1 0l.3-2h.6l.3 2zm1 0l.9-2.7h1.8l.9 2.7zm7 0l.5-2.6h.8l.5 2.6zm1 0l.3-2.1h.5l.3 2.1zm1 0l.4-1.7h.7l.4 1.7zm1 0l.7-2.7h1.3l.7 2.7zm1 0l.9-2.6h2.2l.9 2.6zm6 0l.4-2.7h.9l.4 2.7zm1 0l.2-2.8h.5l.2 2.8zm1 0l.6-2.1h1.1l.6 2.1zm1 0l.4-2.1h.8l.4 2.1zm5 0l.6-2.9h1.3l.6 2.9zm2 0l.5-2.1h.8l.5 2.1zm2 0l.3-1.8h.7l.3 1.8zm1 0l.3-2h.6l.3 2zm3 0l.3-1.7h.6l.3 1.7zm5 0l.5-2.8h1.1l.5 2.8zm1 0l.5-2.3h.8l.5 2.3zm4 0l.4-2.3h.7l.4 2.3zm4 0l.9-1.8h2.9l.9 1.8zm1 0l.9-2.8h2.1l.9 2.8zm1 0l.7-2.2h1.5l.7 2.2zm1 0l.8-1.6h1.6l.8 1.6zm2 0l.9-2.8h1.8l.9 2.8zm1 0l.3-2.3h.5l.3 2.3zm1 0l.2-2.7h.6l.2 2.7zm1 0l.7-2.1h1.4l.7 2.1zm2 0l.6-2.3h1.1l.6 2.3zm1 0l.5-2.6h1.1l.5 2.6zm3 0l.9-2h1.8l.9 2zm1 0l.5-2.2h.9l.5 2.2zm1 0l.9-2.4h1.8l.9 2.4zm1 0l.8-2.6h1.5l.8 2.6zm1 0l.7-2.5h1.3l.7 2.5zm1 0l.8-2.4h1.7l.8 2.4zm1 0l.8-2.2h1.4l.8 2.2zm1 0l.9-2.6h3l.9 2.6zm1 0l.8-2.3h1.4l.8 2.3zm1 0l.6-1.8h1l.6 1.8zm2 0l.2-2.4h.5l.2 2.4zm1 0l.9-2.2h2.3l.9 2.2zm1 0l.6-2.8h1.3l.6 2.8zm1 0l.8-2.8h1.5l.8 2.8zm1 0l.9-2.8h2l.9 2.8zm2 0l.9-2.6h2.1l.9 2.6zm3 0l.8-2.8h1.4l.8 2.8zm1 0l.6-2.8h1l.6 2.8zm3 0l.8-2.5h1.5l.8 2.5zm2 0l.5-2.7h.9l.5 2.7zm3 0l.8-2.8h1.5l.8 2.8zm1 0l.7-1.9h1.5l.7 1.9zm1 0l.4-2.2h.8l.4 2.2zm1 0l.3-1.8h.5l.3 1.8zm1 0l.3-1.9h.5l.3 1.9zm1 0l.3-2h.8l.3 2zM52.5 117.08m0 0l.5-2.6h1.1l.5 2.6zm2 0l.3-2.9h.7l.3 2.9zm1 0l.3-2.6h.8l.3 2.6zm1 0l.2-2.1h.6l.2 2.1zm7 0l.7-2.6h1.3l.7 2.6zm4 0l.4-2.5h.9l.4 2.5zm7 0l.6-2.4h1.3l.6 2.4zm5 0l.6-1.9h1.2l.6 1.9zm2 0l.9-2h3.1l.9 2zm1 0l.5-2.7h.9l.5 2.7zm1 0l.8-2.7h1.5l.8 2.7zm1 0l.6-1.8h1.3l.6 1.8zm3 0l.9-2h3.1l.9 2zm1 0l.8-2.3h1.4l.8 2.3zm1 0l.5-2.9h.8l.5 2.9zm1 0l.7-2.7h1.5l.7 2.7zm2 0l.9-2.2h2.3l.9 2.2zm1 0l.8-2.2h1.4l.8 2.2zm1 0l.9-2.1h2.8l.9 2.1zm1 0l.6-2h1.3l.6 2zm1 0l.6-2.6h1l.6 2.6zm1 0l.8-2.7h1.6l.8 2.7zm1 0l.7-2.8h1.2l.7 2.8zm1 0l.8-2.3h1.4l.8 2.3zm2 0l.5-2.4h.9l.5 2.4zm1 0l.6-1.7h1.1l.6 1.7zm1 0l.5-1.9h.8l.5 1.9zm2 0l.9-1.6h2.9l.9 1.6zm1 0l.8-2.5h1.4l.8 2.5zm2 0l.7-1.9h1.3l.7 1.9zm1 0l.8-2.3h1.7l.8 2.3zm2 0l.7-2.8h1.5l.7 2.8zm3 0l.5-2.8h.8l.5 2.8zm2 0l.4-2.9h.9l.4 2.9zm1 0l.8-1.6h1.4l.8 1.6zm1 0l.6-2.5h1l.6 2.5zm1 0l.9-2.8h2.3l.9 2.8zm1 0l.9-2.8h2.1l.9 2.8zm1 0l.8-2h1.6l.8 2zm3 0l.8-2.7h1.4l.8 2.7zm1 0l.5-2.4h.8l.5 2.4zm6 0l.4-2.6h.9l.4 2.6zm4 0l.4-2.8h.8l.4 2.8zm1 0l.5-2.5h1.1l.5 2.5zm4 0l.5-2.4h.8l.5 2.4zm1 0l.4-2.8h.7l.4 2.8zm2 0l.5-2.2h1l.5 2.2zm2 0l.3-2.8h.8l.3 2.8zm3 0l.7-2.8h1.2l.7 2.8zm12 0l.3-2h.8l.3 2zm1 0l.4-2.7h.7l.4 2.7zm1 0l.9-2.7h2.5l.9 2.7zm1 0l.4-2h.9l.4 2zm2 0l.9-2.8h2l.9 2.8zm1 0l.3-2.6h.8l.3 2.6zm1 0l.3-2.4h.8l.3 2.4zm1 0l.4-2.2h.8l.4 2.2zm1 0l.8-2.5h1.5l.8 2.5zm1 0l.6-2.8h1l.6 2.8zm2 0l.7-2.8h1.4l.7 2.8zm1 0l.4-2.7h.9l.4 2.7zm1 0l.3-2.4h.7l.3 2.4zm1 0l.3-1.9h.5l.3 1.9zm2 0l.7-2.3h1.2l.7 2.3zm2 0l.5-1.6h.9l.5 1.6zm1 0l.9-2.4h2.9l.9 2.4zm1 0l.6-2.2h1.2l.6 2.2zm1 0l.4-2.7h.8l.4 2.7zm1 0l.9-2.2h3.1l.9 2.2zm1 0l.5-2.8h.9l.5 2.8zm1 0l.9-2.8h1.7l.9 2.8zm1 0l.6-2.6h1.3l.6 2.6zm1 0l.8-2.3h1.7l.8 2.3zm1 0l.7-2.7h1.3l.7 2.7zm1 0l.4-2.6h.8l.4 2.6zm4 0l.9-2.7h1.7l.9 2.7zm1 0l.9-1.9h1.8l.9 1.9zm1 0l.9-1.8h2l.9 1.8zm1 0l.5-2.2h1.1l.5 2.2zm1 0l.4-2.8h.7l.4 2.8zm1 0l.2-2.8h.6l.2 2.8zm1 0l.9-2.5h1.7l.9 2.5zm1 0l.4-2.8h.7l.4 2.8zm2 0l.2-2.3h.6l.2 2.3zm1 0l.5-2.8h1.1l.5 2.8zm2 0l.2-1.9h.6l.2 1.9zM52.5 119.97m1 0l.6-2.2h1.3l.6 2.2zm5 0l.3-2.6h.5l.3 2.6zm2 0l.2-1.9h.6l.2 1.9zm1 0l.4-2h.9l.4 2zm3 0l.4-2.6h.7l.4 2.6zm2 0l.3-2.5h.5l.3 2.5zm5 0l.4-1.8h.9l.4 1.8zm1 0l.2-2.1h.6l.2 2.1zm1 0l.4-2h.8l.4 2zm3 0l.5-2.8h.8l.5 2.8zm1 0l.5-2.5h.9l.5 2.5zm3 0l.7-2.4h1.5l.7 2.4zm3 0l.9-2.8h3.1l.9 2.8zm1 0l.5-2.4h.9l.5 2.4zm1 0l.5-2.9h.8l.5 2.9zm1 0l.9-2.7h2.7l.9 2.7zm1 0l.9-2.7h2l.9 2.7zm1 0l.9-2.8h2.6l.9 2.8zm1 0l.6-2.8h1.2l.6 2.8zm1 0l.9-2.5h2.4l.9 2.5zm1 0l.4-1.9h.7l.4 1.9zm3 0l.7-2.8h1.4l.7 2.8zm1 0l.2-2.3h.6l.2 2.3zm1 0l.8-2.1h1.5l.8 2.1zm1 0l.3-1.5h.6l.3 1.5zm2 0l.7-2.1h1.2l.7 2.1zm1 0l.7-2.1h1.3l.7 2.1zm1 0l.7-2.9h1.4l.7 2.9zm1 0l.7-1.8h1.2l.7 1.8zm1 0l.9-2.6h2l.9 2.6zm1 0l.9-2.1h3l.9 2.1zm2 0l.9-2.7h2l.9 2.7zm1 0l.5-2.1h.9l.5 2.1zm5 0l.7-2.3h1.3l.7 2.3zm1 0l.8-2.9h1.6l.8 2.9zm2 0l.6-2.7h1.1l.6 2.7zm1 0l.9-2.8h2.2l.9 2.8zm1 0l.9-2.3h2.1l.9 2.3zm2 0l.6-2.1h1.1l.6 2.1zm1 0l.9-2.8h1.8l.9 2.8zm1 0l.3-2.2h.7l.3 2.2zm1 0l.3-1.9h.5l.3 1.9zm1 0l.2-2.3h.6l.2 2.3zm4 0l.4-2.1h.9l.4 2.1zm8 0l.3-2.3h.8l.3 2.3zm3 0l.7-1.9h1.2l.7 1.9zm1 0l.3-2.9h.6l.3 2.9zm2 0l.7-1.7h1.3l.7 1.7zm6 0l.4-2.4h.7l.4 2.4zm10 0l.3-1.6h.8l.3 1.6zm1 0l.3-2.5h.5l.3 2.5zm2 0l.8-2.9h1.6l.8 2.9zm1 0l.5-2.9h1.1l.5 2.9zm3 0l.2-2.5h.6l.2 2.5zm1 0l.3-2.9h.5l.3 2.9zm1 0l.6-2.8h1.1l.6 2.8zm2 0l.6-2.8h1.3l.6 2.8zm2 0l.3-2h.6l.3 2zm1 0l.9-2.2h3l.9 2.2zm1 0l.6-2.6h1.2l.6 2.6zm2 0l.9-2.6h2.6l.9 2.6zm1 0l.9-2.8h3l.9 2.8zm1 0l.8-2h1.5l.8 2zm2 0l.2-2.7h.6l.2 2.7zm1 0l.9-2.3h2.6l.9 2.3zm1 0l.8-2.4h1.7l.8 2.4zm2 0l.9-2.9h2.8l.9 2.9zm1 0l.5-2.4h.8l.5 2.4zm1 0l.9-2.8h1.8l.9 2.8zm1 0l.9-2.4h1.7l.9 2.4zm2 0l.7-2.4h1.5l.7 2.4zm1 0l.5-2.8h.9l.5 2.8zm4 0l.8-2.6h1.7l.8 2.6zm2 0l.3-2h.7l.3 2zm1 0l.2-2.4h.6l.2 2.4zm1 0l.7-1.8h1.4l.7 1.8zm1 0l.3-2.6h.7l.3 2.6zm1 0l.5-2.3h.8l.5 2.3zm1 0l.9-2.1h1.9l.9 2.1zm1 0l.9-2.6h1.7l.9 2.6zm1 0l.9-2.3h2.1l.9 2.3zm1 0l.5-1.7h1l.5 1.7zm3 0l.9-1.8h1.9l.9 1.8zm5 0l.1-2.7h.3l.1 2.7zM52.5 122.86m2 0l.6-2.5h1.3l.6 2.5zm3 0l.6-2.6h1.2l.6 2.6zm1 0l.3-2.6h.6l.3 2.6zm3 0l.4-2.3h.9l.4 2.3zm2 0l.6-2.9h1.1l.6 2.9zm2 0l.4-2.8h.7l.4 2.8zm8 0l.3-2.4h.8l.3 2.4zm1 0l.6-2.2h1l.6 2.2zm3 0l.3-2.7h.7l.3 2.7zm2 0l.8-2.6h1.4l.8 2.6zm1 0l.9-2.8h2.5l.9 2.8zm1 0l.9-2.9h1.7l.9 2.9zm1 0l.8-1.8h1.7l.8 1.8zm2 0l.8-2h1.4l.8 2zm1 0l.4-2.4h.8l.4 2.4zm1 0l.9-2.1h1.8l.9 2.1zm1 0l.6-2.5h1.2l.6 2.5zm2 0l.9-2.8h1.7l.9 2.8zm2 0l.4-2h.8l.4 2zm1 0l.2-2.5h.6l.2 2.5zm1 0l.9-2.5h2.7l.9 2.5zm2 0l.7-2.6h1.4l.7 2.6zm1 0l.9-2.6h2.8l.9 2.6zm1 0l.8-2.2h1.6l.8 2.2zm1 0l.3-2.4h.8l.3 2.4zm1 0l.5-2.8h1.1l.5 2.8zm1 0l.2-2.1h.6l.2 2.1zm1 0l.8-2.7h1.4l.8 2.7zm1 0l.6-2.7h1.3l.6 2.7zm1 0l.5-2.7h1l.5 2.7zm1 0l.5-2.4h1.1l.5 2.4zm1 0l.3-1.6h.7l.3 1.6zm2 0l.7-2.8h1.4l.7 2.8zm1 0l.3-2.2h.7l.3 2.2zm1 0l.8-1.7h1.7l.8 1.7zm1 0l.5-1.9h1l.5 1.9zm2 0l.5-2.4h1l.5 2.4zm2 0l.4-2.1h.7l.4 2.1zm1 0l.5-2.1h1l.5 2.1zm1 0l.4-2.3h.7l.4 2.3zm1 0l.7-2.3h1.5l.7 2.3zm2 0l.5-2h.8l.5 2zm1 0l.7-2.6h1.3l.7 2.6zm1 0l.6-2.5h1l.6 2.5zm1 0l.9-2.8h2.1l.9 2.8zm1 0l.4-2.6h.7l.4 2.6zm1 0l.2-2.4h.6l.2 2.4zm2 0l.3-2.1h.7l.3 2.1zm6 0l.6-2.4h1.3l.6 2.4zm4 0l.4-2.7h.7l.4 2.7zm4 0l.6-2h1.1l.6 2zm6 0l.3-2.5h.8l.3 2.5zm3 0l.6-1.9h1.3l.6 1.9zm1 0l.6-2.8h1.3l.6 2.8zm1 0l.5-2.7h.9l.5 2.7zm2 0l.6-2.3h1.3l.6 2.3zm2 0l.5-2.9h.9l.5 2.9zm2 0l.3-2.2h.5l.3 2.2zm1 0l.9-2.8h2.3l.9 2.8zm1 0l.9-2.3h2.7l.9 2.3zm1 0l.9-2h1.7l.9 2zm1 0l.7-2.9h1.3l.7 2.9zm2 0l.8-2.3h1.4l.8 2.3zm1 0l.9-2h2.7l.9 2zm1 0l.6-2.2h1.3l.6 2.2zm2 0l.7-1.7h1.4l.7 1.7zm4 0l.4-2.5h.8l.4 2.5zm2 0l.9-2.8h3l.9 2.8zm1 0l.5-2.9h1.1l.5 2.9zm2 0l.3-2.6h.6l.3 2.6zm1 0l.9-2.1h2.7l.9 2.1zm1 0l.2-2.5h.6l.2 2.5zm1 0l.5-2.6h.9l.5 2.6zm4 0l.9-1.6h1.9l.9 1.6zm1 0l.3-2.3h.6l.3 2.3zm2 0l.6-2.4h1l.6 2.4zm1 0l.8-1.7h1.5l.8 1.7zm2 0l.4-2.7h.7l.4 2.7zm1 0l.9-1.8h1.8l.9 1.8zm2 0l.8-2.3h1.7l.8 2.3zm1 0l.6-2.3h1.1l.6 2.3zm1 0l.2-2.5h.6l.2 2.5zm1 0l.9-2.7h2.1l.9 2.7zm1 0l.6-2.7h1l.6 2.7zm1 0l.2-2.4h.5l.2 2.4zm2 0l.2-1.9h.6l.2 1.9zm1 0l.2-1.9h.6l.2 1.9zm1 0l.3-2.9h.7l.3 2.9zm1 0l.9-2.2h2.3l.9 2.2zm1 0l.6-2.7h1l.6 2.7zm1 0l.6-2.4h1.3l.6 2.4zm1 0l.4-2h.8l.4 2zM52.5 125.74m3 0l.6-2.6h1l.6 2.6zm7 0l.3-2.9h.7l.3 2.9zm2 0l.5-2.8h.9l.5 2.8zm5 0l.5-2.2h1.1l.5 2.2zm2 0l.7-2.8h1.2l.7 2.8zm1 0l.5-2.7h1.1l.5 2.7zm1 0l.3-2.4h.8l.3 2.4zm2 0l.3-1.8h.6l.3 1.8zm3 0l.9-2.2h2.9l.9 2.2zm1 0l.4-2.4h.9l.4 2.4zm1 0l.6-2.8h1.1l.6 2.8zm1 0l.8-2.5h1.6l.8 2.5zm1 0l.8-2.2h1.5l.8 2.2zm1 0l.6-2.5h1.3l.6 2.5zm1 0l.9-2.3h3.2l.9 2.3zm1 0l.3-2.2h.6l.3 2.2zm1 0l.8-2.3h1.6l.8 2.3zm3 0l.8-2h1.4l.8 2zm1 0l.7-2.3h1.5l.7 2.3zm1 0l.9-1.7h1.8l.9 1.7zm1 0l.6-2.7h1.2l.6 2.7zm1 0l.3-2.3h.8l.3 2.3zm1 0l.9-2.9h3l.9 2.9zm1 0l.9-2.3h2.4l.9 2.3zm1 0l.5-1.9h1l.5 1.9zm2 0l.9-2.8h1.8l.9 2.8zm1 0l.8-2.1h1.4l.8 2.1zm1 0l.9-2.4h2.8l.9 2.4zm2 0l.8-2.4h1.6l.8 2.4zm1 0l.8-2.8h1.5l.8 2.8zm1 0l.9-2.4h2l.9 2.4zm1 0l.7-2.7h1.2l.7 2.7zm1 0l.8-2.1h1.8l.8 2.1zm1 0l.9-2.7h2.1l.9 2.7zm1 0l.7-2.2h1.2l.7 2.2zm1 0l.3-2.5h.8l.3 2.5zm1 0l.3-1.9h.6l.3 1.9zm3 0l.6-2.6h1.1l.6 2.6zm2 0l.9-2.7h2.2l.9 2.7zm1 0l.3-2h.7l.3 2zm2 0l.4-2.8h.7l.4 2.8zm1 0l.8-2.8h1.5l.8 2.8zm1 0l.8-2.6h1.8l.8 2.6zm1 0l.7-2.5h1.2l.7 2.5zm4 0l.4-2.4h.8l.4 2.4zm3 0l.4-2.7h.8l.4 2.7zm2 0l.4-2.3h.8l.4 2.3zm3 0l.6-2.3h1.2l.6 2.3zm5 0l.6-2.5h1.1l.6 2.5zm8 0l.6-2.8h1.3l.6 2.8zm5 0l.6-2.4h1.3l.6 2.4zm2 0l.6-2.8h1.1l.6 2.8zm5 0l.5-2.6h.9l.5 2.6zm2 0l.8-2.9h1.6l.8 2.9zm1 0l.9-2.3h2.7l.9 2.3zm1 0l.2-2.8h.6l.2 2.8zm1 0l.4-2.2h.9l.4 2.2zm2 0l.9-2.5h3l.9 2.5zm1 0l.8-2.4h1.6l.8 2.4zm1 0l.9-2.8h2.7l.9 2.8zm1 0l.7-2.8h1.4l.7 2.8zm1 0l.4-2.8h.9l.4 2.8zm1 0l.2-2h.6l.2 2zm1 0l.7-2.8h1.2l.7 2.8zm1 0l.9-2.8h2.2l.9 2.8zm2 0l.8-2.8h1.8l.8 2.8zm1 0l.8-2.7h1.4l.8 2.7zm1 0l.9-2.5h3l.9 2.5zm1 0l.8-1.9h1.6l.8 1.9zm1 0l.9-1.9h2.5l.9 1.9zm1 0l.3-2.4h.5l.3 2.4zm1 0l.9-2.6h2l.9 2.6zm1 0l.9-2.2h2.4l.9 2.2zm1 0l.4-1.8h.9l.4 1.8zm1 0l.9-2.6h2l.9 2.6zm1 0l.3-2.6h.6l.3 2.6zm1 0l.2-2.4h.6l.2 2.4zm1 0l.8-2.5h1.7l.8 2.5zm1 0l.2-2.9h.6l.2 2.9zm1 0l.3-2.4h.8l.3 2.4zm1 0l.3-2.6h.6l.3 2.6zm1 0l.5-2.2h1.1l.5 2.2zm1 0l.5-2.7h1l.5 2.7zm2 0l.5-2.9h.9l.5 2.9zm1 0l.9-2.7h2.2l.9 2.7zm2 0l.8-2.4h1.5l.8 2.4zm2 0l.8-2.4h1.7l.8 2.4zm1 0l.9-2.5h1.7l.9 2.5zm1 0l.2-1.7h.6l.2 1.7zm4 0l.8-2.8h1.4l.8 2.8zm2 0l.3-2.8h.8l.3 2.8zM52.5 128.63m1 0l.3-2.2h.8l.3 2.2zm1 0l.4-2.4h.8l.4 2.4zm1 0l.4-1.6h.9l.4 1.6zm2 0l.3-2.3h.5l.3 2.3zm1 0l.4-2.8h.9l.4 2.8zm4 0l.5-2.8h.8l.5 2.8zm7 0l.3-2.8h.7l.3 2.8zm1 0l.6-2.1h1.2l.6 2.1zm9 0l.4-2.1h.7l.4 2.1zm1 0l.9-2.8h3l.9 2.8zm1 0l.5-2.2h.9l.5 2.2zm2 0l.9-2.4h1.7l.9 2.4zm2 0l.9-1.9h1.7l.9 1.9zm2 0l.9-1.9h2.6l.9 1.9zm3 0l.9-2.5h1.8l.9 2.5zm1 0l.9-2.8h1.9l.9 2.8zm1 0l.5-2.8h.9l.5 2.8zm1 0l.6-2.7h1.2l.6 2.7zm1 0l.5-2.6h1l.5 2.6zm1 0l.9-2.2h2.7l.9 2.2zm1 0l.9-1.7h3l.9 1.7zm2 0l.3-2.5h.8l.3 2.5zm1 0l.9-1.9h1.9l.9 1.9zm3 0l.4-2.3h.7l.4 2.3zm1 0l.9-2.1h1.7l.9 2.1zm1 0l.9-2.8h2l.9 2.8zm3 0l.9-2.7h2.3l.9 2.7zm1 0l.7-2.2h1.4l.7 2.2zm1 0l.3-2.1h.7l.3 2.1zm1 0l.3-2.4h.5l.3 2.4zm3 0l.3-2.9h.6l.3 2.9zm1 0l.4-2.5h.9l.4 2.5zm1 0l.7-2.1h1.4l.7 2.1zm2 0l.7-2.7h1.5l.7 2.7zm2 0l.5-2.7h.9l.5 2.7zm1 0l.8-2.6h1.5l.8 2.6zm1 0l.5-2.8h.9l.5 2.8zm2 0l.3-2.7h.8l.3 2.7zm3 0l.4-2.7h.7l.4 2.7zm1 0l.5-2.5h1.1l.5 2.5zm1 0l.5-2.7h1.1l.5 2.7zm2 0l.3-2.5h.6l.3 2.5zm4 0l.3-2.1h.8l.3 2.1zm1 0l.4-2.8h.9l.4 2.8zm2 0l.5-2.5h1.1l.5 2.5zm1 0l.3-2.4h.5l.3 2.4zm5 0l.7-2.9h1.2l.7 2.9zm6 0l.7-2.4h1.2l.7 2.4zm5 0l.4-2.8h.7l.4 2.8zm2 0l.9-1.9h2.9l.9 1.9zm1 0l.9-2.3h2.2l.9 2.3zm1 0l.9-2.5h2.3l.9 2.5zm1 0l.9-2.7h2l.9 2.7zm1 0l.3-2.2h.6l.3 2.2zm1 0l.9-2.6h1.7l.9 2.6zm1 0l.4-2.6h.7l.4 2.6zm1 0l.8-2.3h1.6l.8 2.3zm1 0l.9-2.9h3.1l.9 2.9zm1 0l.6-2.7h1.1l.6 2.7zm1 0l.6-2.4h1.3l.6 2.4zm1 0l.6-2.3h1l.6 2.3zm1 0l.8-1.7h1.5l.8 1.7zm2 0l.7-2.2h1.2l.7 2.2zm1 0l.3-2.8h.6l.3 2.8zm1 0l.9-2.4h3l.9 2.4zm1 0l.4-2.4h.8l.4 2.4zm1 0l.7-2.7h1.3l.7 2.7zm2 0l.9-2.7h2.9l.9 2.7zm2 0l.8-2.1h1.8l.8 2.1zm1 0l.9-2.8h1.7l.9 2.8zm1 0l.9-2.7h2.8l.9 2.7zm6 0l.9-2.8h2.1l.9 2.8zm3 0l.9-2.9h1.7l.9 2.9zm2 0l.8-2h1.8l.8 2zm5 0l.9-2.7h1.8l.9 2.7zm1 0l.7-2.3h1.3l.7 2.3zm1 0l.9-2h1.8l.9 2zm1 0l.6-1.9h1.3l.6 1.9zm1 0l.4-2.4h.9l.4 2.4zm3 0l.9-2.5h2.3l.9 2.5zm1 0l.8-2.6h1.4l.8 2.6zm1 0l.6-2.3h1l.6 2.3zm3 0l.3-2.8h.8l.3 2.8zM52.5 131.52m1 0l.5-2.7h1l.5 2.7zm2 0l.7-2.7h1.2l.7 2.7zm1 0l.2-2.6h.6l.2 2.6zm7 0l.3-1.7h.8l.3 1.7zm2 0l.5-2.7h.8l.5 2.7zm4 0l.3-2.7h.8l.3 2.7zm1 0l.3-2.1h.7l.3 2.1zm1 0l.3-2.6h.8l.3 2.6zm5 0l.5-2.7h1l.5 2.7zm2 0l.7-2.4h1.4l.7 2.4zm1 0l.8-2.5h1.4l.8 2.5zm1 0l.5-2.7h1.1l.5 2.7zm1 0l.7-2.7h1.5l.7 2.7zm1 0l.7-2.7h1.2l.7 2.7zm1 0l.6-2.8h1.1l.6 2.8zm1 0l.7-2.2h1.2l.7 2.2zm2 0l.9-2.6h1.8l.9 2.6zm1 0l.6-2.8h1.3l.6 2.8zm2 0l.8-2.3h1.8l.8 2.3zm1 0l.9-2.9h1.9l.9 2.9zm1 0l.7-2.5h1.2l.7 2.5zm1 0l.8-2.6h1.4l.8 2.6zm1 0l.7-2.7h1.2l.7 2.7zm3 0l.5-2.7h1l.5 2.7zm1 0l.3-2.8h.6l.3 2.8zm2 0l.8-2.6h1.8l.8 2.6zm1 0l.9-2h3l.9 2zm1 0l.9-2.7h2.7l.9 2.7zm2 0l.9-2.4h1.8l.9 2.4zm1 0l.7-2.8h1.3l.7 2.8zm1 0l.6-2.3h1.2l.6 2.3zm4 0l.3-2.7h.6l.3 2.7zm1 0l.8-1.9h1.4l.8 1.9zm2 0l.7-2.2h1.3l.7 2.2zm1 0l.8-2.6h1.4l.8 2.6zm1 0l.7-2.7h1.2l.7 2.7zm1 0l.5-2.5h1l.5 2.5zm2 0l.6-2.5h1l.6 2.5zm1 0l.9-2.4h2.3l.9 2.4zm2 0l.2-2.7h.5l.2 2.7zm3 0l.9-2.6h2.2l.9 2.6zm6 0l.4-2h.8l.4 2zm2 0l.6-2.9h1l.6 2.9zm1 0l.5-2.4h.9l.5 2.4zm4 0l.5-1.7h1.1l.5 1.7zm4 0l.2-2.6h.6l.2 2.6zm1 0l.3-2.3h.5l.3 2.3zm1 0l.6-2.4h1l.6 2.4zm1 0l.4-1.9h.7l.4 1.9zm12 0l.3-2.6h.5l.3 2.6zm1 0l.9-2.1h2.3l.9 2.1zm2 0l.7-1.7h1.2l.7 1.7zm1 0l.9-2.7h2.5l.9 2.7zm1 0l.3-2.2h.6l.3 2.2zm1 0l.4-2.9h.9l.4 2.9zm1 0l.8-1.8h1.7l.8 1.8zm1 0l.9-2.3h2.4l.9 2.3zm2 0l.9-2.3h3.1l.9 2.3zm1 0l.9-2.1h2.8l.9 2.1zm2 0l.9-1.8h3l.9 1.8zm2 0l.7-2.7h1.2l.7 2.7zm1 0l.8-2.4h1.7l.8 2.4zm2 0l.4-2.4h.7l.4 2.4zm1 0l.9-2.7h2.7l.9 2.7zm1 0l.7-2.2h1.3l.7 2.2zm1 0l.9-2.7h3.1l.9 2.7zm1 0l.3-2.2h.5l.3 2.2zm1 0l.9-2.5h3l.9 2.5zm1 0l.9-2.7h3.1l.9 2.7zm1 0l.7-2.2h1.4l.7 2.2zm1 0l.6-1.7h1l.6 1.7zm2 0l.3-2.6h.8l.3 2.6zm1 0l.8-2.3h1.7l.8 2.3zm3 0l.8-2.6h1.8l.8 2.6zm1 0l.6-2.3h1l.6 2.3zm2 0l.9-2.4h1.7l.9 2.4zm1 0l.9-2.8h1.9l.9 2.8zm1 0l.2-2.9h.6l.2 2.9zm3 0l.6-2.7h1.1l.6 2.7zm2 0l.6-2.3h1.2l.6 2.3zm1 0l.7-2.6h1.5l.7 2.6zm1 0l.2-2.8h.5l.2 2.8zm1 0l.6-2.5h1.2l.6 2.5zm1 0l.2-2.4h.6l.2 2.4zm1 0l.5-1.9h.9l.5 1.9zm1 0l.6-2.7h1.2l.6 2.7zm4 0l.5-1.9h1l.5 1.9zm2 0l.4-2.2h.7l.4 2.2zM52.5 134.41m0 0l.3-2.8h.7l.3 2.8zm7 0l.5-2.8h1.1l.5 2.8zm2 0l.7-2.4h1.2l.7 2.4zm4 0l.3-2.3h.7l.3 2.3zm3 0l.2-2.4h.6l.2 2.4zm8 0l.7-2.5h1.3l.7 2.5zm1 0l.8-2.3h1.4l.8 2.3zm1 0l.9-2.2h2.4l.9 2.2zm1 0l.5-2.4h1l.5 2.4zm1 0l.9-2.9h1.7l.9 2.9zm1 0l.8-2.9h1.8l.8 2.9zm2 0l.5-2.4h.9l.5 2.4zm1 0l.8-2.8h1.8l.8 2.8zm1 0l.4-2.6h.9l.4 2.6zm2 0l.7-2.6h1.2l.7 2.6zm1 0l.5-2.8h.9l.5 2.8zm1 0l.7-2.2h1.2l.7 2.2zm2 0l.3-1.9h.8l.3 1.9zm1 0l.6-2.8h1.2l.6 2.8zm1 0l.9-2h3.1l.9 2zm1 0l.5-1.6h.9l.5 1.6zm1 0l.6-2.5h1.3l.6 2.5zm1 0l.8-2.3h1.8l.8 2.3zm1 0l.3-2h.5l.3 2zm1 0l.5-2.6h.8l.5 2.6zm1 0l.7-2.6h1.5l.7 2.6zm1 0l.4-2.6h.9l.4 2.6zm1 0l.7-2.7h1.4l.7 2.7zm1 0l.3-1.6h.7l.3 1.6zm3 0l.2-2.5h.6l.2 2.5zm1 0l.6-2.1h1.1l.6 2.1zm2 0l.2-2.2h.6l.2 2.2zm5 0l.3-2.1h.8l.3 2.1zm2 0l.3-2.7h.8l.3 2.7zm4 0l.7-2.2h1.5l.7 2.2zm1 0l.9-2.2h1.7l.9 2.2zm2 0l.5-2.6h1.1l.5 2.6zm2 0l.7-1.9h1.5l.7 1.9zm4 0l.5-1.7h1.1l.5 1.7zm3 0l.3-2.4h.5l.3 2.4zm2 0l.5-2h1l.5 2zm3 0l.3-2.3h.7l.3 2.3zm4 0l.4-2.6h.7l.4 2.6zm8 0l.5-2.4h1.1l.5 2.4zm6 0l.5-2.2h.9l.5 2.2zm1 0l.6-2.1h1.1l.6 2.1zm2 0l.9-2.7h2l.9 2.7zm1 0l.7-2.6h1.4l.7 2.6zm1 0l.9-2.7h2.4l.9 2.7zm1 0l.6-2.4h1.3l.6 2.4zm1 0l.9-2.6h2.1l.9 2.6zm1 0l.3-2.6h.7l.3 2.6zm1 0l.2-1.9h.6l.2 1.9zm1 0l.9-2.7h2.6l.9 2.7zm1 0l.3-2.8h.7l.3 2.8zm1 0l.2-2.6h.6l.2 2.6zm1 0l.8-2.6h1.4l.8 2.6zm1 0l.9-2.5h2.4l.9 2.5zm2 0l.9-2.2h2.7l.9 2.2zm1 0l.3-1.9h.7l.3 1.9zm1 0l.8-1.9h1.7l.8 1.9zm1 0l.2-2.6h.5l.2 2.6zm1 0l.3-2.3h.8l.3 2.3zm2 0l.9-2.9h2.8l.9 2.9zm1 0l.3-2.7h.7l.3 2.7zm3 0l.4-2.6h.9l.4 2.6zm1 0l.3-2.3h.8l.3 2.3zm1 0l.3-2.8h.8l.3 2.8zm1 0l.3-2.4h.8l.3 2.4zm1 0l.4-2.7h.8l.4 2.7zm2 0l.5-2.4h.9l.5 2.4zm1 0l.5-2.4h.8l.5 2.4zm3 0l.9-2.8h2l.9 2.8zm2 0l.9-2.8h2.1l.9 2.8zm1 0l.8-2.7h1.4l.8 2.7zm1 0l.9-2.8h2l.9 2.8zm1 0l.8-2.8h1.5l.8 2.8zm3 0l.4-1.9h.9l.4 1.9zm3 0l.5-2.8h.8l.5 2.8zm2 0l.9-2.8h1.8l.9 2.8zm1 0l.9-2.7h2.2l.9 2.7zm5 0l.3-2.7h.7l.3 2.7zm1 0l.1-2.7h.3l.1 2.7zM52.5 137.29m2 0l.5-2.8h.9l.5 2.8zm4 0l.4-2.8h.8l.4 2.8zm2 0l.6-2.7h1l.6 2.7zm2 0l.4-2.5h.7l.4 2.5zm3 0l.5-2.4h.9l.5 2.4zm2 0l.3-2.6h.6l.3 2.6zm1 0l.5-2.1h.8l.5 2.1zm3 0l.6-1.8h1l.6 1.8zm4 0l.9-2.6h3l.9 2.6zm1 0l.8-2.6h1.5l.8 2.6zm1 0l.7-2.7h1.2l.7 2.7zm1 0l.9-2.8h3l.9 2.8zm1 0l.9-2.8h2.6l.9 2.8zm1 0l.6-2.5h1.1l.6 2.5zm1 0l.7-1.9h1.4l.7 1.9zm1 0l.8-2.5h1.8l.8 2.5zm1 0l.6-2.3h1.1l.6 2.3zm1 0l.9-1.9h2.9l.9 1.9zm1 0l.2-2.6h.6l.2 2.6zm2 0l.4-2.8h.9l.4 2.8zm1 0l.7-2.5h1.5l.7 2.5zm3 0l.9-2.3h3.1l.9 2.3zm1 0l.9-1.8h2.8l.9 1.8zm1 0l.6-2.1h1l.6 2.1zm1 0l.8-2.4h1.6l.8 2.4zm1 0l.9-2.5h1.8l.9 2.5zm1 0l.5-2.6h.9l.5 2.6zm1 0l.2-2.5h.6l.2 2.5zm1 0l.9-2.8h3.1l.9 2.8zm2 0l.7-2.2h1.2l.7 2.2zm1 0l.3-2.4h.6l.3 2.4zm2 0l.8-2h1.8l.8 2zm1 0l.2-2.2h.6l.2 2.2zm2 0l.5-2.5h1l.5 2.5zm3 0l.8-2.7h1.5l.8 2.7zm1 0l.2-2.1h.5l.2 2.1zm2 0l.8-2.9h1.6l.8 2.9zm1 0l.2-2.8h.6l.2 2.8zm1 0l.3-2.2h.7l.3 2.2zm1 0l.7-2.7h1.3l.7 2.7zm1 0l.7-2h1.4l.7 2zm1 0l.3-2.3h.7l.3 2.3zm1 0l.5-2.4h1l.5 2.4zm2 0l.5-2h1.1l.5 2zm1 0l.2-2.4h.5l.2 2.4zm1 0l.5-2.7h.9l.5 2.7zm1 0l.6-2.8h1.2l.6 2.8zm1 0l.2-1.9h.5l.2 1.9zm5 0l.3-2.7h.6l.3 2.7zm5 0l.3-2.9h.6l.3 2.9zm10 0l.5-2.7h.9l.5 2.7zm2 0l.3-2.4h.7l.3 2.4zm7 0l.4-1.9h.9l.4 1.9zm1 0l.7-1.5h1.3l.7 1.5zm1 0l.9-2.6h2.5l.9 2.6zm1 0l.9-2.3h3.1l.9 2.3zm1 0l.6-2.3h1.1l.6 2.3zm1 0l.3-2.3h.6l.3 2.3zm3 0l.5-2.5h.8l.5 2.5zm1 0l.5-2.6h1l.5 2.6zm1 0l.5-2.7h.8l.5 2.7zm2 0l.5-2.4h1l.5 2.4zm1 0l.5-2.5h1.1l.5 2.5zm1 0l.3-2.3h.8l.3 2.3zm1 0l.9-1.7h3.1l.9 1.7zm1 0l.8-2.8h1.7l.8 2.8zm1 0l.9-2.3h1.7l.9 2.3zm1 0l.5-2.5h1l.5 2.5zm2 0l.9-2h2.2l.9 2zm1 0l.4-2.3h.9l.4 2.3zm1 0l.5-2.5h.8l.5 2.5zm1 0l.7-2.9h1.4l.7 2.9zm1 0l.9-2.3h3l.9 2.3zm1 0l.8-2.1h1.6l.8 2.1zm1 0l.7-2.5h1.5l.7 2.5zm1 0l.8-1.5h1.7l.8 1.5zm1 0l.6-2.6h1l.6 2.6zm1 0l.3-2.7h.5l.3 2.7zm2 0l.3-2.2h.5l.3 2.2zm1 0l.8-2.8h1.5l.8 2.8zm1 0l.7-2.3h1.3l.7 2.3zm4 0l.3-2.6h.7l.3 2.6zm1 0l.3-2.8h.8l.3 2.8zm7 0l.7-2.1h1.3l.7 2.1zm2 0l.8-1.5h1.4l.8 1.5zm3 0l.8-2h1.7l.8 2zM52.5 140.18m0 0l.7-1.9h1.2l.7 1.9zm2 0l.6-2.1h1.1l.6 2.1zm3 0l.7-2.8h1.3l.7 2.8zm2 0l.3-2.4h.7l.3 2.4zm3 0l.5-2.4h1.1l.5 2.4zm5 0l.4-2.1h.7l.4 2.1zm5 0l.3-2.5h.6l.3 2.5zm4 0l.8-1.7h1.8l.8 1.7zm1 0l.9-2.4h2.5l.9 2.4zm1 0l.6-2.7h1.2l.6 2.7zm1 0l.9-2.7h3l.9 2.7zm1 0l.3-1.8h.7l.3 1.8zm1 0l.9-2.9h2l.9 2.9zm1 0l.7-2.6h1.5l.7 2.6zm1 0l.9-2.5h2.9l.9 2.5zm1 0l.5-2.4h.8l.5 2.4zm2 0l.7-1.7h1.2l.7 1.7zm2 0l.9-2.6h2.1l.9 2.6zm1 0l.9-2.6h2l.9 2.6zm1 0l.9-2.4h2.9l.9 2.4zm3 0l.3-1.7h.7l.3 1.7zm1 0l.3-2.7h.5l.3 2.7zm1 0l.3-2.7h.7l.3 2.7zm1 0l.7-2.9h1.4l.7 2.9zm1 0l.6-2.7h1.1l.6 2.7zm1 0l.9-2.6h2.3l.9 2.6zm1 0l.5-1.7h1.1l.5 1.7zm1 0l.9-2.6h1.9l.9 2.6zm6 0l.7-2.2h1.3l.7 2.2zm1 0l.7-2.1h1.5l.7 2.1zm3 0l.9-2.5h1.8l.9 2.5zm1 0l.5-2.9h.9l.5 2.9zm2 0l.9-1.8h2.2l.9 1.8zm1 0l.8-2.4h1.4l.8 2.4zm1 0l.2-1.5h.6l.2 1.5zm2 0l.3-2h.6l.3 2zm2 0l.9-2.9h2l.9 2.9zm1 0l.8-2.2h1.7l.8 2.2zm1 0l.7-2.8h1.2l.7 2.8zm1 0l.5-2.6h1.1l.5 2.6zm4 0l.5-2.7h.8l.5 2.7zm1 0l.6-2.6h1.1l.6 2.6zm8 0l.4-2.9h.9l.4 2.9zm3 0l.3-2.2h.8l.3 2.2zm6 0l.5-2.2h1l.5 2.2zm3 0l.3-2.5h.5l.3 2.5zm2 0l.7-2.1h1.2l.7 2.1zm5 0l.4-2.8h.8l.4 2.8zm1 0l.9-1.8h1.7l.9 1.8zm1 0l.9-2.5h3.1l.9 2.5zm1 0l.8-2.3h1.5l.8 2.3zm1 0l.2-2.8h.6l.2 2.8zm1 0l.5-1.5h.8l.5 1.5zm1 0l.6-2.3h1.3l.6 2.3zm1 0l.9-2.6h2.7l.9 2.6zm1 0l.3-2.7h.5l.3 2.7zm1 0l.9-2.5h2.6l.9 2.5zm1 0l.9-2.4h3.2l.9 2.4zm2 0l.8-2.7h1.5l.8 2.7zm1 0l.3-2.9h.6l.3 2.9zm1 0l.9-2.4h3l.9 2.4zm1 0l.7-2.2h1.4l.7 2.2zm1 0l.5-2h1.1l.5 2zm1 0l.9-1.8h1.7l.9 1.8zm1 0l.5-1.5h.9l.5 1.5zm1 0l.6-2.3h1.1l.6 2.3zm1 0l.7-2.7h1.2l.7 2.7zm1 0l.6-2.6h1l.6 2.6zm1 0l.9-2.6h2.4l.9 2.6zm1 0l.4-2.7h.9l.4 2.7zm3 0l.7-2.3h1.2l.7 2.3zm1 0l.7-1.8h1.3l.7 1.8zm2 0l.3-2.5h.8l.3 2.5zm2 0l.5-1.8h.8l.5 1.8zm1 0l.2-2.7h.6l.2 2.7zm1 0l.7-2.8h1.4l.7 2.8zm1 0l.7-2.8h1.3l.7 2.8zm2 0l.4-1.9h.8l.4 1.9zm1 0l.8-2.4h1.6l.8 2.4zm1 0l.2-2.4h.5l.2 2.4zm2 0l.6-2.1h1l.6 2.1zm1 0l.2-2.6h.6l.2 2.6zm4 0l.8-2.6h1.4l.8 2.6zm1 0l.8-2.1h1.6l.8 2.1zm3 0l.7-2.7h1.3l.7 2.7zm6 0l.3-2.9h.6l.3 2.9zM52.5 143.07m0 0l.6-2.8h1.2l.6 2.8zm4 0l.5-2.7h.9l.5 2.7zm5 0l.7-2.5h1.2l.7 2.5zm1 0l.4-2.1h.7l.4 2.1zm2 0l.7-1.6h1.2l.7 1.6zm2 0l.2-2.6h.6l.2 2.6zm2 0l.3-2.4h.8l.3 2.4zm1 0l.5-2.5h.8l.5 2.5zm3 0l.6-2.8h1.2l.6 2.8zm1 0l.8-2.5h1.5l.8 2.5zm1 0l.8-2.7h1.5l.8 2.7zm1 0l.3-2.6h.6l.3 2.6zm1 0l.6-2.7h1.3l.6 2.7zm1 0l.7-2.5h1.5l.7 2.5zm1 0l.3-2.3h.6l.3 2.3zm1 0l.2-2.6h.6l.2 2.6zm1 0l.8-2.1h1.4l.8 2.1zm1 0l.3-1.6h.5l.3 1.6zm1 0l.6-2.5h1.1l.6 2.5zm1 0l.3-2.8h.5l.3 2.8zm1 0l.3-2h.5l.3 2zm1 0l.7-2.6h1.5l.7 2.6zm1 0l.5-2.4h1.1l.5 2.4zm1 0l.9-2.8h2.9l.9 2.8zm1 0l.8-2.8h1.8l.8 2.8zm1 0l.2-1.8h.6l.2 1.8zm1 0l.9-2h2.1l.9 2zm2 0l.7-2.5h1.5l.7 2.5zm1 0l.9-2.2h2.3l.9 2.2zm1 0l.9-2.2h3l.9 2.2zm1 0l.8-2h1.4l.8 2zm1 0l.5-2h1l.5 2zm1 0l.2-1.9h.6l.2 1.9zm1 0l.4-1.7h.9l.4 1.7zm1 0l.8-2.8h1.4l.8 2.8zm1 0l.3-2.4h.5l.3 2.4zm2 0l.9-2.9h2.3l.9 2.9zm2 0l.8-1.8h1.6l.8 1.8zm3 0l.4-2.8h.9l.4 2.8zm1 0l.4-2.7h.7l.4 2.7zm1 0l.6-2.5h1l.6 2.5zm1 0l.7-2.8h1.5l.7 2.8zm1 0l.3-2.7h.6l.3 2.7zm1 0l.2-2.2h.6l.2 2.2zm1 0l.7-2.2h1.5l.7 2.2zm3 0l.4-2.6h.7l.4 2.6zm1 0l.3-2h.6l.3 2zm1 0l.5-2.9h.9l.5 2.9zm6 0l.7-2.6h1.4l.7 2.6zm4 0l.3-2.8h.8l.3 2.8zm1 0l.2-2.8h.6l.2 2.8zm4 0l.6-2h1.1l.6 2zm2 0l.3-2.9h.7l.3 2.9zm3 0l.5-2.3h.8l.5 2.3zm1 0l.7-1.8h1.3l.7 1.8zm3 0l.7-2.4h1.2l.7 2.4zm2 0l.5-2.2h1l.5 2.2zm8 0l.3-2.6h.6l.3 2.6zm1 0l.7-2.5h1.4l.7 2.5zm1 0l.6-2.1h1.2l.6 2.1zm1 0l.3-2.8h.7l.3 2.8zm1 0l.8-2.9h1.5l.8 2.9zm2 0l.9-2.7h2.3l.9 2.7zm1 0l.8-2.8h1.8l.8 2.8zm1 0l.8-2.5h1.8l.8 2.5zm1 0l.9-2.2h3l.9 2.2zm1 0l.7-1.5h1.5l.7 1.5zm2 0l.9-2.4h1.7l.9 2.4zm2 0l.4-2.2h.9l.4 2.2zm1 0l.5-2.5h.8l.5 2.5zm1 0l.9-2.2h1.9l.9 2.2zm1 0l.8-2.5h1.7l.8 2.5zm1 0l.9-1.9h3.1l.9 1.9zm1 0l.8-2.7h1.6l.8 2.7zm1 0l.8-1.5h1.4l.8 1.5zm1 0l.5-2.1h1l.5 2.1zm1 0l.9-2.9h2.8l.9 2.9zm1 0l.5-2.3h.8l.5 2.3zm1 0l.3-1.8h.7l.3 1.8zm3 0l.8-2.4h1.6l.8 2.4zm1 0l.8-2.1h1.6l.8 2.1zm2 0l.5-2.2h.9l.5 2.2zm2 0l.6-2.2h1l.6 2.2zm1 0l.3-2.4h.6l.3 2.4zm3 0l.2-2.3h.5l.2 2.3zm1 0l.8-1.7h1.4l.8 1.7zm1 0l.7-2.7h1.5l.7 2.7zm1 0l.4-2.5h.8l.4 2.5zm2 0l.9-2.8h2.1l.9 2.8zm1 0l.8-2.6h1.4l.8 2.6zm3 0l.4-1.9h.8l.4 1.9zm1 0l.7-2.8h1.2l.7 2.8zm2 0l.5-1.7h1.1l.5 1.7zm1 0l.2-2.5h.6l.2 2.5zm2 0l.9-2.2h2.3l.9 2.2zm2 0l.5-2.5h1l.5 2.5zm1 0l.5-2.5h1.1l.5 2.5zm1 0l.5-2.7h1.1l.5 2.7zm1 0l.6-2.1h1l.6 2.1zM52.5 145.95m10 0l.4-2.5h.9l.4 2.5zm3 0l.2-2.5h.6l.2 2.5zm1 0l.2-2.3h.6l.2 2.3zm4 0l.2-2.4h.6l.2 2.4zm3 0l.7-1.8h1.3l.7 1.8zm1 0l.9-2.1h1.7l.9 2.1zm1 0l.4-2.4h.8l.4 2.4zm1 0l.9-2.5h2.1l.9 2.5zm1 0l.7-2.4h1.2l.7 2.4zm2 0l.9-2.2h2.9l.9 2.2zm1 0l.7-2.4h1.2l.7 2.4zm1 0l.7-2.9h1.2l.7 2.9zm1 0l.2-1.7h.6l.2 1.7zm1 0l.9-2.2h2.5l.9 2.2zm1 0l.9-2.7h2.4l.9 2.7zm1 0l.9-2h3.1l.9 2zm1 0l.9-2.7h2.5l.9 2.7zm2 0l.6-2.5h1.2l.6 2.5zm1 0l.6-2.6h1.3l.6 2.6zm2 0l.9-1.8h2.6l.9 1.8zm1 0l.6-2.4h1l.6 2.4zm1 0l.3-2.7h.8l.3 2.7zm1 0l.4-2.8h.9l.4 2.8zm1 0l.6-1.7h1.1l.6 1.7zm1 0l.9-2.7h2l.9 2.7zm3 0l.6-2.4h1.2l.6 2.4zm1 0l.9-2.6h1.9l.9 2.6zm1 0l.7-2.9h1.2l.7 2.9zm2 0l.3-1.8h.5l.3 1.8zm1 0l.9-2.4h2l.9 2.4zm2 0l.3-2.6h.5l.3 2.6zm1 0l.8-2.6h1.5l.8 2.6zm4 0l.7-2.5h1.4l.7 2.5zm1 0l.9-2.6h2l.9 2.6zm1 0l.6-2.3h1.2l.6 2.3zm1 0l.9-2.7h2.3l.9 2.7zm2 0l.6-2.8h1.3l.6 2.8zm1 0l.9-2.1h2.3l.9 2.1zm1 0l.5-2.8h1l.5 2.8zm2 0l.3-2.4h.8l.3 2.4zm2 0l.5-2.2h1.1l.5 2.2zm1 0l.7-2.4h1.2l.7 2.4zm2 0l.3-2.8h.8l.3 2.8zm2 0l.6-2.4h1l.6 2.4zm6 0l.5-2.6h1l.5 2.6zm2 0l.3-2.7h.6l.3 2.7zm5 0l.5-2.5h1.1l.5 2.5zm2 0l.6-2.5h1.1l.6 2.5zm5 0l.6-1.6h1.1l.6 1.6zm1 0l.5-2.3h1l.5 2.3zm3 0l.7-2.1h1.2l.7 2.1zm1 0l.3-2.4h.5l.3 2.4zm1 0l.4-2.3h.7l.4 2.3zm1 0l.3-1.8h.8l.3 1.8zm1 0l.9-2.9h2.9l.9 2.9zm1 0l.5-1.9h1.1l.5 1.9zm1 0l.9-1.9h2l.9 1.9zm1 0l.9-2.5h1.7l.9 2.5zm2 0l.8-2.8h1.7l.8 2.8zm1 0l.9-2.6h3.1l.9 2.6zm2 0l.9-2.4h2.3l.9 2.4zm1 0l.9-2.4h1.7l.9 2.4zm2 0l.7-2.3h1.4l.7 2.3zm1 0l.9-2.8h2.4l.9 2.8zm1 0l.9-2.7h2.5l.9 2.7zm1 0l.3-2h.7l.3 2zm2 0l.9-2.4h2.6l.9 2.4zm1 0l.6-2.8h1l.6 2.8zm1 0l.5-2.2h.9l.5 2.2zm1 0l.8-2.8h1.6l.8 2.8zm1 0l.7-2.5h1.4l.7 2.5zm3 0l.8-2.7h1.7l.8 2.7zm2 0l.9-1.7h2.1l.9 1.7zm3 0l.9-2.8h1.9l.9 2.8zm2 0l.4-2.5h.8l.4 2.5zm1 0l.5-2.8h1l.5 2.8zm2 0l.2-2.9h.6l.2 2.9zm2 0l.4-2.9h.7l.4 2.9zm1 0l.5-2.7h1l.5 2.7zm1 0l.9-2.3h2.1l.9 2.3zm2 0l.8-2.7h1.5l.8 2.7zm2 0l.8-2.3h1.4l.8 2.3zm1 0l.3-1.8h.6l.3 1.8zm2 0l.9-2.8h1.7l.9 2.8zm1 0l.6-2.5h1l.6 2.5zm1 0l.9-2.9h1.8l.9 2.9zm1 0l.3-2.1h.5l.3 2.1zm1 0l.9-2.5h2.1l.9 2.5zm5 0l.5-2.3h1.1l.5 2.3zm1 0l.2-2.4h.6l.2 2.4zM52.5 148.84m0 0l.7-2.8h1.2l.7 2.8zm1 0l.7-2.4h1.2l.7 2.4zm1 0l.4-2.1h.9l.4 2.1zm5 0l.2-2.9h.6l.2 2.9zm1 0l.3-1.8h.7l.3 1.8zm4 0l.5-2.9h.8l.5 2.9zm3 0l.5-2.2h1l.5 2.2zm2 0l.6-2.8h1.2l.6 2.8zm4 0l.9-2.4h2.7l.9 2.4zm1 0l.3-2.6h.5l.3 2.6zm1 0l.9-2.4h1.8l.9 2.4zm1 0l.8-1.7h1.8l.8 1.7zm1 0l.9-2.1h2.3l.9 2.1zm1 0l.7-2.6h1.2l.7 2.6zm1 0l.9-2.6h2.2l.9 2.6zm1 0l.6-2.8h1.3l.6 2.8zm1 0l.8-2.4h1.8l.8 2.4zm1 0l.9-2.5h2l.9 2.5zm1 0l.4-1.6h.9l.4 1.6zm1 0l.5-1.9h1.1l.5 1.9zm1 0l.9-2.2h2.8l.9 2.2zm1 0l.9-2.6h2.4l.9 2.6zm2 0l.9-2.9h2l.9 2.9zm1 0l.3-2.2h.5l.3 2.2zm1 0l.5-2.6h1.1l.5 2.6zm1 0l.9-2.4h2.8l.9 2.4zm1 0l.9-2h2.6l.9 2zm1 0l.7-1.6h1.2l.7 1.6zm1 0l.5-2.3h1.1l.5 2.3zm1 0l.9-2.6h2.7l.9 2.6zm1 0l.9-2.4h3.2l.9 2.4zm1 0l.8-2.1h1.7l.8 2.1zm1 0l.6-2.2h1.3l.6 2.2zm1 0l.9-2.6h1.7l.9 2.6zm1 0l.3-2.3h.5l.3 2.3zm1 0l.4-2.6h.7l.4 2.6zm2 0l.8-2.1h1.4l.8 2.1zm1 0l.9-2.8h1.7l.9 2.8zm1 0l.5-2.5h.8l.5 2.5zm2 0l.3-2.6h.8l.3 2.6zm1 0l.4-2.8h.7l.4 2.8zm1 0l.9-2.8h2.3l.9 2.8zm1 0l.4-2.7h.9l.4 2.7zm3 0l.8-2.8h1.5l.8 2.8zm1 0l.8-1.6h1.4l.8 1.6zm5 0l.7-2.8h1.2l.7 2.8zm4 0l.4-2.7h.7l.4 2.7zm1 0l.5-2.8h.8l.5 2.8zm1 0l.3-2.3h.5l.3 2.3zm3 0l.6-2h1.3l.6 2zm5 0l.4-2h.9l.4 2zm2 0l.3-2.7h.5l.3 2.7zm5 0l.5-1.7h.8l.5 1.7zm6 0l.3-2.5h.8l.3 2.5zm4 0l.9-2h1.8l.9 2zm1 0l.3-2.9h.5l.3 2.9zm1 0l.9-2.8h2.1l.9 2.8zm2 0l.4-2.5h.9l.4 2.5zm1 0l.8-2.5h1.4l.8 2.5zm1 0l.9-2.6h3.1l.9 2.6zm1 0l.9-1.8h2.9l.9 1.8zm1 0l.5-2.6h.8l.5 2.6zm1 0l.9-2.7h2.6l.9 2.7zm1 0l.9-2.1h1.7l.9 2.1zm1 0l.8-2.1h1.6l.8 2.1zm1 0l.8-2.4h1.5l.8 2.4zm1 0l.8-2.8h1.7l.8 2.8zm1 0l.7-1.9h1.5l.7 1.9zm1 0l.4-2.7h.8l.4 2.7zm1 0l.4-2.8h.7l.4 2.8zm1 0l.9-2.6h2.6l.9 2.6zm1 0l.9-2.1h3.1l.9 2.1zm3 0l.9-1.9h2.2l.9 1.9zm1 0l.2-2.7h.5l.2 2.7zm1 0l.8-2.8h1.4l.8 2.8zm1 0l.8-2.7h1.7l.8 2.7zm2 0l.6-2.3h1l.6 2.3zm1 0l.8-2.3h1.5l.8 2.3zm1 0l.4-2.5h.7l.4 2.5zm1 0l.3-2.8h.7l.3 2.8zm1 0l.5-1.9h1l.5 1.9zm1 0l.7-1.8h1.2l.7 1.8zm1 0l.7-2.6h1.2l.7 2.6zm1 0l.6-2.8h1l.6 2.8zm1 0l.9-2.8h1.9l.9 2.8zm2 0l.7-2.8h1.2l.7 2.8zm1 0l.8-2.2h1.6l.8 2.2zm1 0l.4-2.9h.7l.4 2.9zm1 0l.6-2.8h1.1l.6 2.8zm1 0l.6-2.4h1.1l.6 2.4zm1 0l.5-2.6h1l.5 2.6zm1 0l.2-1.8h.5l.2 1.8zm1 0l.5-2.1h.8l.5 2.1zm1 0l.2-2.9h.5l.2 2.9zm1 0l.3-2.1h.7l.3 2.1zm1 0l.7-2.8h1.3l.7 2.8zm1 0l.3-1.9h.7l.3 1.9zm1 0l.7-2.6h1.4l.7 2.6zm1 0l.7-2.9h1.4l.7 2.9zm2 0l.8-2.3h1.7l.8 2.3zm3 0l.5-2.8h.8l.5 2.8zm3 0l.4-2.4h.9l.4 2.4zm3 0l.1-1.9h.3l.1 1.9zM52.5 151.73m2 0l.7-2h1.2l.7 2zm2 0l.6-2.2h1.1l.6 2.2zm1 0l.3-2.1h.6l.3 2.1zm3 0l.6-2.2h1.2l.6 2.2zm2 0l.7-2.6h1.2l.7 2.6zm2 0l.4-2.2h.8l.4 2.2zm1 0l.7-2.9h1.2l.7 2.9zm3 0l.4-1.9h.7l.4 1.9zm2 0l.6-2.7h1.3l.6 2.7zm1 0l.5-2.1h1l.5 2.1zm1 0l.9-2.1h2.8l.9 2.1zm1 0l.3-2.8h.7l.3 2.8zm1 0l.9-2.4h1.9l.9 2.4zm1 0l.9-2.8h3l.9 2.8zm1 0l.4-2.3h.7l.4 2.3zm1 0l.9-1.8h2.1l.9 1.8zm1 0l.9-2.2h2l.9 2.2zm2 0l.9-2.9h2.2l.9 2.9zm1 0l.5-2.7h1l.5 2.7zm1 0l.3-2.5h.6l.3 2.5zm1 0l.9-2.2h3l.9 2.2zm3 0l.9-2.4h2l.9 2.4zm1 0l.6-2.1h1l.6 2.1zm1 0l.2-2.2h.5l.2 2.2zm1 0l.4-2h.7l.4 2zm1 0l.7-2h1.2l.7 2zm1 0l.7-2.2h1.4l.7 2.2zm1 0l.6-2.4h1.2l.6 2.4zm1 0l.4-2.3h.9l.4 2.3zm1 0l.6-2.3h1.1l.6 2.3zm1 0l.9-2.6h2.5l.9 2.6zm1 0l.5-2.5h1l.5 2.5zm1 0l.5-2.7h.9l.5 2.7zm1 0l.5-2.8h.9l.5 2.8zm1 0l.9-2.6h2l.9 2.6zm2 0l.8-2.8h1.8l.8 2.8zm2 0l.9-1.9h2.1l.9 1.9zm2 0l.5-2h1l.5 2zm1 0l.4-2.1h.8l.4 2.1zm2 0l.4-2.3h.7l.4 2.3zm1 0l.6-2.5h1.2l.6 2.5zm1 0l.8-2.4h1.5l.8 2.4zm1 0l.6-1.8h1.3l.6 1.8zm1 0l.8-2.9h1.7l.8 2.9zm1 0l.7-2.9h1.4l.7 2.9zm1 0l.9-1.5h2.2l.9 1.5zm2 0l.6-2.8h1.1l.6 2.8zm1 0l.2-1.9h.6l.2 1.9zm1 0l.8-2.8h1.7l.8 2.8zm1 0l.5-2.9h.9l.5 2.9zm1 0l.6-2.6h1.2l.6 2.6zm2 0l.4-2h.7l.4 2zm1 0l.4-2.8h.7l.4 2.8zm1 0l.3-2.2h.7l.3 2.2zm4 0l.4-1.7h.9l.4 1.7zm5 0l.2-2.5h.6l.2 2.5zm2 0l.4-1.8h.8l.4 1.8zm8 0l.2-2.7h.6l.2 2.7zm7 0l.3-2.8h.6l.3 2.8zm3 0l.6-2.4h1.2l.6 2.4zm1 0l.2-2.4h.5l.2 2.4zm2 0l.9-2.6h3.2l.9 2.6zm1 0l.9-1.8h2.6l.9 1.8zm1 0l.6-2.3h1.2l.6 2.3zm1 0l.3-2.5h.8l.3 2.5zm2 0l.9-1.9h3.1l.9 1.9zm1 0l.7-2.4h1.2l.7 2.4zm3 0l.6-2.4h1.1l.6 2.4zm1 0l.9-1.8h1.7l.9 1.8zm1 0l.5-2.2h1l.5 2.2zm1 0l.9-2.2h1.7l.9 2.2zm1 0l.3-2.6h.8l.3 2.6zm1 0l.9-2.3h2.4l.9 2.3zm1 0l.9-2.2h1.8l.9 2.2zm1 0l.8-2.8h1.8l.8 2.8zm1 0l.7-1.9h1.2l.7 1.9zm3 0l.7-2.3h1.3l.7 2.3zm1 0l.3-2.5h.8l.3 2.5zm1 0l.8-1.8h1.5l.8 1.8zm1 0l.8-2.6h1.8l.8 2.6zm1 0l.8-2.8h1.8l.8 2.8zm2 0l.6-2h1.2l.6 2zm5 0l.8-2.7h1.7l.8 2.7zm2 0l.3-2.4h.8l.3 2.4zm1 0l.7-2.8h1.4l.7 2.8zm1 0l.6-2.3h1.1l.6 2.3zm2 0l.9-2h1.7l.9 2zm1 0l.5-2h1.1l.5 2zm1 0l.6-2.8h1.3l.6 2.8zm1 0l.6-1.8h1.3l.6 1.8zm3 0l.5-1.7h.8l.5 1.7zm1 0l.9-2.8h2.1l.9 2.8zm2 0l.9-2.1h2l.9 2.1zm1 0l.6-1.9h1l.6 1.9zm7 0l.1-2.5h.3l.1 2.5zM52.5 154.61m0 0l.6-1.9h1.1l.6 1.9zm3 0l.6-2.6h1.1l.6 2.6zm7 0l.2-2.8h.6l.2 2.8zm4 0l.4-2.7h.8l.4 2.7zm4 0l.6-2.7h1.2l.6 2.7zm1 0l.4-1.8h.8l.4 1.8zm1 0l.9-1.8h1.8l.9 1.8zm1 0l.2-2.4h.6l.2 2.4zm1 0l.8-1.8h1.7l.8 1.8zm1 0l.8-2.2h1.6l.8 2.2zm1 0l.5-2.7h1.1l.5 2.7zm1 0l.9-2.5h2.4l.9 2.5zm1 0l.5-2.6h1.1l.5 2.6zm1 0l.9-2.9h2.7l.9 2.9zm1 0l.5-2.6h1.1l.5 2.6zm2 0l.9-2.7h2.9l.9 2.7zm2 0l.3-2h.8l.3 2zm1 0l.4-2.5h.7l.4 2.5zm1 0l.7-2h1.2l.7 2zm2 0l.9-2.8h1.7l.9 2.8zm1 0l.9-2.8h3.1l.9 2.8zm1 0l.8-2.1h1.8l.8 2.1zm1 0l.9-2.7h1.8l.9 2.7zm1 0l.4-2.4h.8l.4 2.4zm1 0l.9-2.9h3l.9 2.9zm1 0l.5-2.6h.8l.5 2.6zm1 0l.4-2.3h.9l.4 2.3zm4 0l.8-2.2h1.6l.8 2.2zm3 0l.5-2.8h1l.5 2.8zm1 0l.4-2.9h.7l.4 2.9zm1 0l.4-2.7h.8l.4 2.7zm2 0l.2-2.8h.6l.2 2.8zm1 0l.6-2.4h1.3l.6 2.4zm1 0l.9-2.5h2.1l.9 2.5zm2 0l.9-2.1h2.3l.9 2.1zm1 0l.2-2.5h.5l.2 2.5zm3 0l.8-2.6h1.6l.8 2.6zm4 0l.6-2.8h1.2l.6 2.8zm1 0l.6-1.5h1.3l.6 1.5zm1 0l.3-2.7h.8l.3 2.7zm1 0l.4-1.7h.9l.4 1.7zm3 0l.6-2.2h1.2l.6 2.2zm6 0l.6-2.7h1.2l.6 2.7zm7 0l.5-2.2h.8l.5 2.2zm8 0l.5-2.7h.9l.5 2.7zm1 0l.6-2.8h1.3l.6 2.8zm2 0l.9-2.6h2.1l.9 2.6zm1 0l.9-2.8h2.7l.9 2.8zm1 0l.5-2.4h.9l.5 2.4zm2 0l.2-1.9h.5l.2 1.9zm3 0l.7-2.1h1.4l.7 2.1zm1 0l.3-2.1h.8l.3 2.1zm1 0l.9-2.3h2.2l.9 2.3zm1 0l.8-1.9h1.8l.8 1.9zm1 0l.9-2.8h1.9l.9 2.8zm1 0l.9-1.8h2.5l.9 1.8zm1 0l.3-2.4h.8l.3 2.4zm1 0l.9-2.4h1.8l.9 2.4zm2 0l.3-2.3h.8l.3 2.3zm2 0l.8-2.5h1.6l.8 2.5zm2 0l.7-2.8h1.2l.7 2.8zm1 0l.9-1.6h1.8l.9 1.6zm1 0l.9-1.8h1.8l.9 1.8zm3 0l.8-2.3h1.4l.8 2.3zm1 0l.4-2.4h.7l.4 2.4zm3 0l.9-2.8h1.8l.9 2.8zm1 0l.9-1.9h2.2l.9 1.9zm3 0l.7-2.2h1.3l.7 2.2zm1 0l.4-2.8h.9l.4 2.8zm1 0l.4-2.9h.8l.4 2.9zm2 0l.8-2.4h1.4l.8 2.4zm1 0l.5-1.6h1.1l.5 1.6zm3 0l.9-2.1h1.8l.9 2.1zm1 0l.4-2.7h.9l.4 2.7zm1 0l.8-2.7h1.4l.8 2.7zm1 0l.9-1.9h2.2l.9 1.9zm1 0l.6-2.6h1.3l.6 2.6zm2 0l.4-2.9h.8l.4 2.9zm1 0l.6-2.7h1.1l.6 2.7zm3 0l.3-2.7h.6l.3 2.7zm1 0l.8-2.5h1.6l.8 2.5zm2 0l.4-2.4h.9l.4 2.4zm3 0l.7-2.2h1.2l.7 2.2zM52.5 157.5m2 0l.2-2.4h.5l.2 2.4zm1 0l.3-2.6h.6l.3 2.6zm3 0l.5-2.6h1.1l.5 2.6zm3 0l.6-2.8h1.1l.6 2.8zm2 0l.6-2.4h1.1l.6 2.4zm2 0l.4-1.9h.7l.4 1.9zm1 0l.3-2.6h.8l.3 2.6zm3 0l.8-2.2h1.8l.8 2.2zm2 0l.8-2.3h1.6l.8 2.3zm1 0l.2-2.7h.5l.2 2.7zm1 0l.6-1.7h1.2l.6 1.7zm1 0l.8-1.9h1.7l.8 1.9zm1 0l.9-2.8h2.9l.9 2.8zm2 0l.5-2.5h1l.5 2.5zm1 0l.9-2.4h3l.9 2.4zm1 0l.7-2.7h1.2l.7 2.7zm1 0l.8-2.6h1.7l.8 2.6zm1 0l.4-2.7h.7l.4 2.7zm1 0l.5-2.9h1l.5 2.9zm3 0l.5-2.8h1.1l.5 2.8zm1 0l.6-2.1h1l.6 2.1zm1 0l.9-2.5h3.1l.9 2.5zm1 0l.9-2.2h3.2l.9 2.2zm1 0l.9-2.5h2.5l.9 2.5zm1 0l.9-2.2h2.5l.9 2.2zm1 0l.3-2.1h.6l.3 2.1zm2 0l.9-2.8h2.7l.9 2.8zm1 0l.8-2.6h1.6l.8 2.6zm3 0l.8-2.5h1.6l.8 2.5zm1 0l.3-1.7h.6l.3 1.7zm1 0l.5-2.5h.8l.5 2.5zm1 0l.8-2h1.8l.8 2zm1 0l.3-2.8h.5l.3 2.8zm1 0l.7-2.2h1.3l.7 2.2zm2 0l.5-2.5h1l.5 2.5zm1 0l.4-2.4h.7l.4 2.4zm1 0l.3-2.8h.7l.3 2.8zm1 0l.9-2.7h1.8l.9 2.7zm3 0l.3-2.5h.6l.3 2.5zm1 0l.3-2.7h.8l.3 2.7zm1 0l.8-2.5h1.7l.8 2.5zm1 0l.2-2.8h.5l.2 2.8zm1 0l.9-2.5h1.9l.9 2.5zm1 0l.3-2.8h.8l.3 2.8zm1 0l.9-2.6h1.9l.9 2.6zm1 0l.7-2.5h1.5l.7 2.5zm1 0l.5-2.4h1.1l.5 2.4zm1 0l.5-2.4h.8l.5 2.4zm2 0l.8-2.3h1.5l.8 2.3zm4 0l.4-2.3h.7l.4 2.3zm2 0l.6-2.4h1.1l.6 2.4zm4 0l.6-2.7h1.2l.6 2.7zm1 0l.3-2h.8l.3 2zm1 0l.5-2.2h1l.5 2.2zm8 0l.3-2.1h.6l.3 2.1zm1 0l.3-2.3h.5l.3 2.3zm2 0l.3-1.9h.7l.3 1.9zm4 0l.4-2.6h.7l.4 2.6zm1 0l.6-2.2h1.2l.6 2.2zm1 0l.4-1.9h.8l.4 1.9zm1 0l.8-2.8h1.8l.8 2.8zm1 0l.7-2.4h1.3l.7 2.4zm2 0l.9-2.4h1.9l.9 2.4zm1 0l.8-2.8h1.7l.8 2.8zm2 0l.9-2.1h1.9l.9 2.1zm1 0l.8-2.3h1.6l.8 2.3zm1 0l.5-2h1l.5 2zm2 0l.3-2.4h.6l.3 2.4zm1 0l.3-2.6h.6l.3 2.6zm3 0l.3-1.6h.8l.3 1.6zm2 0l.6-2.1h1l.6 2.1zm3 0l.4-2.3h.9l.4 2.3zm1 0l.3-2.4h.6l.3 2.4zm1 0l.9-2.3h2.3l.9 2.3zm1 0l.6-2.4h1l.6 2.4zm2 0l.9-2.3h1.7l.9 2.3zm1 0l.5-2.1h1l.5 2.1zm1 0l.9-2.4h2.1l.9 2.4zm2 0l.9-2.3h2.3l.9 2.3zm2 0l.2-2h.6l.2 2zm2 0l.4-2h.9l.4 2zm1 0l.7-2.9h1.4l.7 2.9zm3 0l.7-2.8h1.4l.7 2.8zm1 0l.9-2h1.8l.9 2zm1 0l.3-2.7h.5l.3 2.7zm1 0l.8-2.3h1.5l.8 2.3zm1 0l.8-2.9h1.6l.8 2.9zm2 0l.6-2h1.2l.6 2zm1 0l.7-2h1.2l.7 2zm1 0l.9-2.8h2.1l.9 2.8zm1 0l.3-1.6h.7l.3 1.6zm1 0l.9-2.1h2.1l.9 2.1zm1 0l.2-2h.6l.2 2zm1 0l.5-2.2h1l.5 2.2zm1 0l.3-1.9h.6l.3 1.9zm7 0l.4-2.7h.8l.4 2.7z" stroke="none" stroke-width="1" fill="#000"/>
<line x1="169.9" y1="78.4" x2="146.5" y2="157.5" stroke="#e8262b" stroke-width="2.2"/>
<rect x="52.5" y="42" width="39.62" height="5.6" fill="#ffffff" stroke="#9a9a9a" stroke-width="0.8"/>
<rect x="131.75" y="42" width="39.62" height="5.6" fill="#ffffff" stroke="#9a9a9a" stroke-width="0.8"/>
<rect x="92.12" y="42" width="39.62" height="5.6" fill="#231815"/>
<rect x="171.38" y="42" width="39.62" height="5.6" fill="#231815"/>
<line x1="52.5" y1="39.5" x2="52.5" y2="42" stroke="#555" stroke-width="0.8"/>
<text x="52.5" y="38.6" font-size="11.5" text-anchor="middle">0</text>
<line x1="92.12" y1="39.5" x2="92.12" y2="42" stroke="#555" stroke-width="0.8"/>
<text x="92.12" y="38.6" font-size="11.5" text-anchor="middle">12</text>
<line x1="131.75" y1="39.5" x2="131.75" y2="42" stroke="#555" stroke-width="0.8"/>
<text x="131.75" y="38.6" font-size="11.5" text-anchor="middle">0</text>
<line x1="171.38" y1="39.5" x2="171.38" y2="42" stroke="#555" stroke-width="0.8"/>
<text x="171.38" y="38.6" font-size="11.5" text-anchor="middle">12</text>
<line x1="211" y1="39.5" x2="211" y2="42" stroke="#555" stroke-width="0.8"/>
<text x="211" y="38.6" font-size="11.5" text-anchor="middle">0</text>
<text x="131.55" y="28.4" font-size="13" text-anchor="middle">Time (h)</text>
<text x="49.3" y="51" font-size="12" text-anchor="end">1</text>
<line x1="50.5" y1="46.7" x2="52.5" y2="46.7" stroke="#555" stroke-width="0.7"/>
<text x="49.3" y="70.5" font-size="12" text-anchor="end">7</text>
<line x1="50.5" y1="66.2" x2="52.5" y2="66.2" stroke="#555" stroke-width="0.7"/>
<text x="49.3" y="91.3" font-size="12" text-anchor="end">14</text>
<line x1="50.5" y1="87" x2="52.5" y2="87" stroke="#555" stroke-width="0.7"/>
<text x="49.3" y="112" font-size="12" text-anchor="end">21</text>
<line x1="50.5" y1="107.7" x2="52.5" y2="107.7" stroke="#555" stroke-width="0.7"/>
<text x="49.3" y="132.2" font-size="12" text-anchor="end">28</text>
<line x1="50.5" y1="127.9" x2="52.5" y2="127.9" stroke="#555" stroke-width="0.7"/>
<text x="49.3" y="152.5" font-size="12" text-anchor="end">35</text>
<line x1="50.5" y1="148.2" x2="52.5" y2="148.2" stroke="#555" stroke-width="0.7"/>
<text x="0" y="0" font-size="12.5" text-anchor="middle" transform="translate(31.9 99.25) rotate(-90)">Days</text>
<path d="M212.5 48.5H216V66.9H212.5" stroke="#3a3a3a" stroke-width="1" fill="none"/>
<path d="M212.5 69.6H216V156H212.5" stroke="#3a3a3a" stroke-width="1" fill="none"/>
<text x="217.6" y="62.6" font-size="12.4">LD</text>
<text x="217.6" y="119.1" font-size="12.4">DD</text>
<rect x="275.8" y="47.8" width="158.5" height="109.7" fill="#cfcfcf"/>
<rect x="275.8" y="47.8" width="39.62" height="23.09" fill="#ffffff"/>
<rect x="355.05" y="47.8" width="39.62" height="23.09" fill="#ffffff"/>
<path d="M275.8 50.69m1 0l.7-1.6h1.4l.7 1.6zm1 0l.5-2.7h1l.5 2.7zm3 0l.3-2h.7l.3 2zm1 0l.9-2.7h1.7l.9 2.7zm2 0l.5-2.8h.9l.5 2.8zm1 0l.2-2.8h.5l.2 2.8zm1 0l.4-2.9h.8l.4 2.9zm1 0l.5-2.4h1.1l.5 2.4zm3 0l.5-2h.8l.5 2zm8 0l.5-2.1h.8l.5 2.1zm18 0l.2-2.7h.5l.2 2.7zm1 0l.6-1.6h1l.6 1.6zm1 0l.3-2.9h.5l.3 2.9zm1 0l.9-1.7h3l.9 1.7zm2 0l.9-2.1h2.3l.9 2.1zm1 0l.7-2.6h1.5l.7 2.6zm2 0l.9-2.2h2.6l.9 2.2zm1 0l.9-2.8h2.5l.9 2.8zm1 0l.7-2.7h1.5l.7 2.7zm1 0l.4-2.2h.9l.4 2.2zm1 0l.9-2h1.8l.9 2zm1 0l.9-2.2h2.5l.9 2.2zm2 0l.8-2.8h1.5l.8 2.8zm2 0l.6-2.8h1.3l.6 2.8zm1 0l.9-2.3h2.2l.9 2.3zm1 0l.6-2.5h1.1l.6 2.5zm1 0l.2-2.8h.6l.2 2.8zm2 0l.9-2.7h2.6l.9 2.7zm1 0l.6-2.3h1.2l.6 2.3zm2 0l.9-2.6h1.8l.9 2.6zm1 0l.3-2.7h.8l.3 2.7zm1 0l.6-2.4h1.2l.6 2.4zm1 0l.6-2h1l.6 2zm1 0l.3-2.6h.7l.3 2.6zm1 0l.9-2.8h2l.9 2.8zm1 0l.6-2.5h1.1l.6 2.5zm1 0l.7-2.6h1.2l.7 2.6zm1 0l.6-2.3h1l.6 2.3zm1 0l.9-2.3h2.8l.9 2.3zm1 0l.5-2.4h1l.5 2.4zm2 0l.7-2h1.4l.7 2zm1 0l.7-2.8h1.3l.7 2.8zm1 0l.5-2.8h.9l.5 2.8zm1 0l.8-2.5h1.7l.8 2.5zm1 0l.8-2.6h1.5l.8 2.6zm4 0l.5-2.3h.8l.5 2.3zm1 0l.5-2.1h.8l.5 2.1zm1 0l.6-1.8h1.3l.6 1.8zm32 0l.6-2.7h1.3l.6 2.7zm4 0l.9-2.4h1.7l.9 2.4zm1 0l.8-2.8h1.7l.8 2.8zm1 0l.3-1.9h.8l.3 1.9zm1 0l.3-1.6h.6l.3 1.6zm1 0l.5-2.6h.9l.5 2.6zm2 0l.9-2.9h2.8l.9 2.9zm1 0l.2-2.8h.6l.2 2.8zm1 0l.7-2.7h1.3l.7 2.7zm1 0l.6-2.3h1.3l.6 2.3zm1 0l.5-2.6h.8l.5 2.6zm3 0l.6-2.8h1.1l.6 2.8zm1 0l.8-1.6h1.6l.8 1.6zm1 0l.5-2.7h.8l.5 2.7zm2 0l.6-2.8h1l.6 2.8zm1 0l.9-2.1h2.9l.9 2.1zm1 0l.8-2.3h1.7l.8 2.3zm1 0l.5-2.6h.8l.5 2.6zm1 0l.3-2.9h.8l.3 2.9zm1 0l.9-2.4h2l.9 2.4zm1 0l.3-2.6h.7l.3 2.6zm1 0l.4-2.6h.8l.4 2.6zm1 0l.8-2.2h1.5l.8 2.2zm2 0l.6-2.4h1l.6 2.4zm1 0l.4-2.1h.8l.4 2.1zm1 0l.6-2.3h1l.6 2.3zm1 0l.9-2.3h2.7l.9 2.3zm1 0l.9-2.5h1.7l.9 2.5zm1 0l.8-2.6h1.8l.8 2.6zm1 0l.3-2.7h.7l.3 2.7zm1 0l.4-2h.7l.4 2zm1 0l.1-2.8h.3l.1 2.8zM275.8 53.57m0 0l.4-2.6h.8l.4 2.6zm4 0l.5-2.3h1l.5 2.3zm2 0l.4-2.7h.8l.4 2.7zm10 0l.2-1.9h.6l.2 1.9zm12 0l.5-2.6h1.1l.5 2.6zm3 0l.4-2.5h.7l.4 2.5zm7 0l.5-2.7h1.1l.5 2.7zm2 0l.9-2.4h2.9l.9 2.4zm1 0l.9-2.5h2.2l.9 2.5zm1 0l.9-2.8h2.1l.9 2.8zm1 0l.8-2.2h1.8l.8 2.2zm1 0l.3-1.7h.6l.3 1.7zm1 0l.9-2.6h2.9l.9 2.6zm2 0l.8-2.8h1.4l.8 2.8zm2 0l.5-2.6h.8l.5 2.6zm1 0l.5-2.7h1l.5 2.7zm2 0l.9-2.7h2l.9 2.7zm1 0l.7-1.7h1.2l.7 1.7zm1 0l.8-1.9h1.7l.8 1.9zm1 0l.7-2.3h1.4l.7 2.3zm1 0l.8-2.5h1.5l.8 2.5zm4 0l.3-2.8h.5l.3 2.8zm1 0l.9-2.1h1.7l.9 2.1zm2 0l.3-2.4h.6l.3 2.4zm1 0l.9-2.9h2.3l.9 2.9zm1 0l.9-2.8h2.1l.9 2.8zm1 0l.5-2.9h1.1l.5 2.9zm1 0l.9-2.4h2.5l.9 2.4zm1 0l.4-1.8h.9l.4 1.8zm1 0l.3-2.8h.7l.3 2.8zm1 0l.9-2.6h2.7l.9 2.6zm3 0l.9-2.6h2.4l.9 2.6zm1 0l.4-2.4h.8l.4 2.4zm1 0l.4-2.4h.7l.4 2.4zm1 0l.4-2.3h.8l.4 2.3zm1 0l.9-2.5h2.9l.9 2.5zm1 0l.7-2.1h1.2l.7 2.1zm3 0l.3-2h.7l.3 2zm2 0l.3-2.7h.8l.3 2.7zm2 0l.3-2.8h.8l.3 2.8zm2 0l.6-2.9h1.3l.6 2.9zm8 0l.4-2.8h.7l.4 2.8zm3 0l.3-2.8h.5l.3 2.8zm5 0l.4-2h.8l.4 2zm2 0l.5-2.3h1.1l.5 2.3zm10 0l.6-2.2h1l.6 2.2zm3 0l.4-1.9h.7l.4 1.9zm1 0l.2-2.8h.5l.2 2.8zm2 0l.9-2.6h2.7l.9 2.6zm1 0l.8-1.9h1.8l.8 1.9zm1 0l.9-2.4h2.5l.9 2.4zm1 0l.9-2.8h1.8l.9 2.8zm1 0l.5-2.7h1.1l.5 2.7zm2 0l.5-2.3h1.1l.5 2.3zm1 0l.9-2h1.9l.9 2zm1 0l.3-2.6h.6l.3 2.6zm1 0l.9-2.4h2.9l.9 2.4zm1 0l.6-2.3h1.1l.6 2.3zm1 0l.3-2.2h.7l.3 2.2zm1 0l.3-2.8h.5l.3 2.8zm2 0l.9-2.1h2.3l.9 2.1zm2 0l.9-2h1.8l.9 2zm1 0l.9-1.9h2.2l.9 1.9zm2 0l.8-1.9h1.7l.8 1.9zm1 0l.9-2.4h2l.9 2.4zm1 0l.3-2.5h.8l.3 2.5zm1 0l.7-2h1.2l.7 2zm1 0l.7-1.8h1.2l.7 1.8zm1 0l.7-2.7h1.3l.7 2.7zm1 0l.9-2.9h2.1l.9 2.9zm1 0l.4-2.4h.7l.4 2.4zm6 0l.8-2.4h1.6l.8 2.4zm1 0l.9-2.5h2.4l.9 2.5zm1 0l.6-2.5h1.3l.6 2.5zm2 0l.4-2.1h.7l.4 2.1zm1 0l.1-2.7h.3l.1 2.7zM275.8 56.46m0 0l.3-2.1h.5l.3 2.1zm1 0l.7-2.5h1.3l.7 2.5zm1 0l.9-2.1h1.7l.9 2.1zm1 0l.7-2.4h1.2l.7 2.4zm11 0l.5-2.6h.8l.5 2.6zm4 0l.5-2.8h1.1l.5 2.8zm2 0l.4-2.4h.9l.4 2.4zm2 0l.3-2.8h.5l.3 2.8zm9 0l.4-2.5h.8l.4 2.5zm8 0l.3-2.2h.7l.3 2.2zm1 0l.7-2.7h1.4l.7 2.7zm2 0l.9-2.6h2.4l.9 2.6zm1 0l.5-1.6h1.1l.5 1.6zm2 0l.7-2.4h1.2l.7 2.4zm1 0l.9-2.7h1.8l.9 2.7zm1 0l.4-2.6h.8l.4 2.6zm1 0l.9-2.1h2.4l.9 2.1zm1 0l.9-2.5h2.3l.9 2.5zm2 0l.3-2.3h.7l.3 2.3zm1 0l.9-2.8h2.4l.9 2.8zm1 0l.9-2.7h2.2l.9 2.7zm1 0l.9-2.2h1.7l.9 2.2zm2 0l.6-2.7h1.2l.6 2.7zm1 0l.9-2.6h2.9l.9 2.6zm3 0l.8-2.8h1.6l.8 2.8zm1 0l.3-2.9h.7l.3 2.9zm1 0l.5-2.6h.9l.5 2.6zm1 0l.8-2.4h1.8l.8 2.4zm1 0l.9-2h2.6l.9 2zm3 0l.5-2.8h.9l.5 2.8zm1 0l.5-2h.9l.5 2zm2 0l.4-2.1h.9l.4 2.1zm1 0l.8-2.5h1.7l.8 2.5zm1 0l.9-2.6h2l.9 2.6zm1 0l.3-2.7h.8l.3 2.7zm1 0l.6-2.6h1.1l.6 2.6zm1 0l.9-2.2h2.2l.9 2.2zm2 0l.7-2.4h1.2l.7 2.4zm1 0l.8-2.4h1.5l.8 2.4zm3 0l.6-2h1.2l.6 2zm1 0l.7-2.3h1.4l.7 2.3zm1 0l.6-2.6h1.2l.6 2.6zm1 0l.8-2h1.6l.8 2zm2 0l.5-2.5h.8l.5 2.5zm3 0l.3-2.1h.8l.3 2.1zm3 0l.3-2.8h.6l.3 2.8zm3 0l.3-2.6h.6l.3 2.6zm15 0l.3-2.8h.8l.3 2.8zm1 0l.3-1.9h.6l.3 1.9zm8 0l.2-2.5h.5l.2 2.5zm1 0l.7-2.5h1.5l.7 2.5zm1 0l.5-1.7h1.1l.5 1.7zm1 0l.6-2.4h1l.6 2.4zm1 0l.2-2.8h.6l.2 2.8zm1 0l.7-2.3h1.5l.7 2.3zm1 0l.9-2.7h2.9l.9 2.7zm4 0l.9-2.3h2.6l.9 2.3zm2 0l.8-1.6h1.6l.8 1.6zm1 0l.8-2.5h1.5l.8 2.5zm1 0l.5-2h.8l.5 2zm2 0l.8-2.9h1.5l.8 2.9zm1 0l.2-2.7h.6l.2 2.7zm1 0l.8-2.8h1.6l.8 2.8zm1 0l.3-2.2h.7l.3 2.2zm1 0l.8-2.6h1.6l.8 2.6zm1 0l.9-2.4h2.2l.9 2.4zm1 0l.8-2.8h1.5l.8 2.8zm1 0l.6-2.8h1.2l.6 2.8zm2 0l.9-2.4h1.8l.9 2.4zm1 0l.9-1.6h2.1l.9 1.6zm1 0l.8-2.3h1.5l.8 2.3zm1 0l.9-2.8h2.3l.9 2.8zm1 0l.5-2.5h1l.5 2.5zm1 0l.6-1.9h1l.6 1.9zm1 0l.9-2.3h2.3l.9 2.3zm1 0l.5-2.5h.9l.5 2.5zm1 0l.9-2.3h2.5l.9 2.3zm2 0l.3-2.9h.5l.3 2.9zm1 0l.9-2.7h1.7l.9 2.7zm1 0l.6-2.8h1l.6 2.8zM275.8 59.35m1 0l.8-1.7h1.5l.8 1.7zm2 0l.3-2.3h.6l.3 2.3zm1 0l.3-2.6h.5l.3 2.6zm2 0l.4-2.4h.9l.4 2.4zm1 0l.8-2.7h1.8l.8 2.7zm8 0l.5-2.8h.9l.5 2.8zm6 0l.3-2.8h.6l.3 2.8zm12 0l.5-1.9h.8l.5 1.9zm8 0l.9-2.1h2.8l.9 2.1zm2 0l.5-2.5h1.1l.5 2.5zm1 0l.6-2.1h1.3l.6 2.1zm2 0l.4-2.3h.8l.4 2.3zm1 0l.3-2.3h.8l.3 2.3zm1 0l.8-2.6h1.4l.8 2.6zm1 0l.6-2.8h1.2l.6 2.8zm1 0l.9-2.2h2l.9 2.2zm1 0l.7-2.7h1.5l.7 2.7zm1 0l.9-2h1.7l.9 2zm1 0l.9-2.5h3l.9 2.5zm2 0l.9-2.2h2.3l.9 2.2zm1 0l.3-2.5h.6l.3 2.5zm1 0l.7-1.9h1.2l.7 1.9zm3 0l.7-2.8h1.4l.7 2.8zm1 0l.9-2.7h2l.9 2.7zm1 0l.9-2.2h2.7l.9 2.2zm2 0l.5-2.7h.8l.5 2.7zm1 0l.9-2.7h2.2l.9 2.7zm1 0l.5-1.8h.8l.5 1.8zm1 0l.7-2.1h1.3l.7 2.1zm1 0l.9-2.8h1.9l.9 2.8zm1 0l.9-1.7h3l.9 1.7zm1 0l.3-2.3h.6l.3 2.3zm1 0l.9-2.2h2.1l.9 2.2zm2 0l.9-2.1h2.1l.9 2.1zm1 0l.7-2.6h1.2l.7 2.6zm1 0l.5-2.7h1l.5 2.7zm1 0l.3-2.7h.5l.3 2.7zm1 0l.7-2.8h1.5l.7 2.8zm1 0l.6-2.7h1l.6 2.7zm1 0l.9-2.6h2l.9 2.6zm1 0l.5-2.8h1l.5 2.8zm1 0l.4-2.2h.9l.4 2.2zm1 0l.3-2.6h.6l.3 2.6zm2 0l.3-2.8h.7l.3 2.8zm2 0l.6-1.7h1l.6 1.7zm6 0l.4-1.7h.9l.4 1.7zm14 0l.2-2.8h.6l.2 2.8zm3 0l.4-1.7h.9l.4 1.7zm1 0l.4-2.4h.9l.4 2.4zm11 0l.4-1.7h.7l.4 1.7zm1 0l.5-2.1h.8l.5 2.1zm4 0l.7-2.7h1.2l.7 2.7zm1 0l.5-2.4h1l.5 2.4zm1 0l.6-2.8h1l.6 2.8zm1 0l.9-2.7h1.7l.9 2.7zm3 0l.6-2.1h1.2l.6 2.1zm1 0l.5-2.5h.9l.5 2.5zm1 0l.5-2.4h.9l.5 2.4zm1 0l.5-2.3h.8l.5 2.3zm1 0l.2-2.4h.6l.2 2.4zm1 0l.8-2.8h1.7l.8 2.8zm2 0l.2-2.3h.6l.2 2.3zm1 0l.9-2.1h1.7l.9 2.1zm2 0l.3-2.3h.5l.3 2.3zm1 0l.6-2.8h1.1l.6 2.8zm1 0l.8-2.1h1.8l.8 2.1zm1 0l.3-2.8h.5l.3 2.8zm1 0l.9-2.1h2.5l.9 2.1zm1 0l.9-2.4h2.4l.9 2.4zm1 0l.9-2.3h2.5l.9 2.3zm1 0l.4-2.8h.9l.4 2.8zm1 0l.9-2.8h2.8l.9 2.8zm1 0l.6-2.7h1.2l.6 2.7zm1 0l.9-2.8h2.6l.9 2.8zm1 0l.4-2.8h.8l.4 2.8zm2 0l.4-2.5h.8l.4 2.5zm1 0l.6-2.5h1.3l.6 2.5zm1 0l.4-2.2h.7l.4 2.2zm1 0l.1-2.1h.3l.1 2.1zM275.8 62.23m0 0l.6-1.8h1.3l.6 1.8zm2 0l.4-2.9h.7l.4 2.9zm1 0l.2-2.3h.6l.2 2.3zm1 0l.8-2.5h1.8l.8 2.5zm3 0l.8-2.2h1.4l.8 2.2zm4 0l.3-2.8h.7l.3 2.8zm3 0l.3-2.5h.8l.3 2.5zm4 0l.5-2h1l.5 2zm6 0l.3-2.5h.8l.3 2.5zm17 0l.5-1.9h.9l.5 1.9zm1 0l.9-2.9h2.2l.9 2.9zm1 0l.6-2.1h1l.6 2.1zm1 0l.9-2.8h2l.9 2.8zm1 0l.9-1.9h2.8l.9 1.9zm2 0l.8-2.7h1.5l.8 2.7zm1 0l.6-2.9h1.1l.6 2.9zm1 0l.7-2.8h1.3l.7 2.8zm1 0l.9-2.7h2.6l.9 2.7zm1 0l.9-2.5h3l.9 2.5zm1 0l.9-2.7h2.7l.9 2.7zm1 0l.4-2.7h.9l.4 2.7zm3 0l.9-2.4h2.4l.9 2.4zm2 0l.9-2.2h2.1l.9 2.2zm1 0l.9-2h2.8l.9 2zm1 0l.5-2.7h.8l.5 2.7zm1 0l.5-2.6h.9l.5 2.6zm1 0l.9-2.7h1.7l.9 2.7zm1 0l.3-2.6h.7l.3 2.6zm1 0l.9-2.8h2.6l.9 2.8zm1 0l.9-2.8h2.4l.9 2.8zm2 0l.4-2.4h.7l.4 2.4zm1 0l.8-2.8h1.4l.8 2.8zm2 0l.9-2.2h2.9l.9 2.2zm1 0l.9-2.3h2.9l.9 2.3zm1 0l.4-2.4h.8l.4 2.4zm2 0l.9-2.6h2.5l.9 2.6zm1 0l.9-2.4h3l.9 2.4zm1 0l.9-1.6h2.9l.9 1.6zm1 0l.8-1.7h1.5l.8 1.7zm1 0l.9-2.4h2.5l.9 2.4zm1 0l.9-1.8h2.7l.9 1.8zm1 0l.3-2.2h.5l.3 2.2zm5 0l.6-2.3h1.3l.6 2.3zm2 0l.6-2.2h1.1l.6 2.2zm3 0l.5-2.6h.8l.5 2.6zm3 0l.5-2.2h1l.5 2.2zm5 0l.3-2.8h.7l.3 2.8zm3 0l.3-2.9h.6l.3 2.9zm15 0l.5-2.2h1.1l.5 2.2zm4 0l.8-2.7h1.6l.8 2.7zm1 0l.5-2.2h.9l.5 2.2zm1 0l.4-2.8h.9l.4 2.8zm1 0l.3-2.5h.6l.3 2.5zm1 0l.7-2.9h1.2l.7 2.9zm4 0l.9-2.3h1.7l.9 2.3zm2 0l.2-2.4h.6l.2 2.4zm1 0l.3-2.2h.7l.3 2.2zm1 0l.9-2.2h1.7l.9 2.2zm1 0l.9-2.7h2.2l.9 2.7zm1 0l.3-2h.8l.3 2zm1 0l.5-2.8h.9l.5 2.8zm2 0l.6-2.8h1l.6 2.8zm1 0l.5-2.6h1l.5 2.6zm1 0l.9-2.5h3l.9 2.5zm1 0l.5-2.3h.8l.5 2.3zm1 0l.4-2h.9l.4 2zm1 0l.5-1.7h.9l.5 1.7zm1 0l.9-2.7h2.2l.9 2.7zm1 0l.9-2.5h1.9l.9 2.5zm1 0l.4-2.3h.9l.4 2.3zm3 0l.9-2.8h2.6l.9 2.8zm2 0l.4-1.9h.9l.4 1.9zm2 0l.8-2.6h1.5l.8 2.6zm1 0l.5-2.7h1.1l.5 2.7zm1 0l.9-2.4h1.9l.9 2.4zm1 0l.4-1.9h.8l.4 1.9zm2 0l.4-2.7h.7l.4 2.7zm1 0l.1-2.8h.3l.1 2.8zM275.8 65.12m0 0l.7-2.8h1.2l.7 2.8zm1 0l.4-1.9h.9l.4 1.9zm2 0l.3-2h.5l.3 2zm1 0l.6-2.6h1.2l.6 2.6zm2 0l.4-2.5h.8l.4 2.5zm22 0l.3-2.8h.6l.3 2.8zm6 0l.5-1.9h1l.5 1.9zm2 0l.5-2.5h1.1l.5 2.5zm4 0l.9-1.7h2.1l.9 1.7zm1 0l.4-2.4h.9l.4 2.4zm1 0l.4-2h.7l.4 2zm1 0l.9-1.7h3l.9 1.7zm1 0l.9-2.7h1.9l.9 2.7zm2 0l.7-2.3h1.2l.7 2.3zm1 0l.9-2h1.7l.9 2zm2 0l.8-2.1h1.7l.8 2.1zm1 0l.4-2.3h.9l.4 2.3zm1 0l.5-2.4h1.1l.5 2.4zm1 0l.4-2.6h.9l.4 2.6zm1 0l.4-1.9h.7l.4 1.9zm1 0l.6-2.8h1.2l.6 2.8zm2 0l.5-2.5h1.1l.5 2.5zm1 0l.9-2.1h2.5l.9 2.1zm1 0l.9-2.7h2.7l.9 2.7zm2 0l.9-2.6h2.8l.9 2.6zm3 0l.8-2.3h1.5l.8 2.3zm1 0l.8-2.1h1.6l.8 2.1zm1 0l.8-2.4h1.7l.8 2.4zm1 0l.9-1.9h2.4l.9 1.9zm1 0l.9-2.1h2.8l.9 2.1zm2 0l.5-2.3h1.1l.5 2.3zm1 0l.8-1.7h1.8l.8 1.7zm1 0l.6-2.7h1.1l.6 2.7zm2 0l.8-2.3h1.4l.8 2.3zm1 0l.9-2.5h2.5l.9 2.5zm1 0l.9-2.4h2.2l.9 2.4zm1 0l.8-2.7h1.5l.8 2.7zm1 0l.9-2.6h2.1l.9 2.6zm1 0l.6-1.7h1.1l.6 1.7zm1 0l.5-2.8h1.1l.5 2.8zm2 0l.8-2.4h1.4l.8 2.4zm1 0l.8-2h1.8l.8 2zm3 0l.8-2.8h1.8l.8 2.8zm1 0l.5-2.3h.9l.5 2.3zm1 0l.9-2.7h1.8l.9 2.7zm5 0l.3-1.8h.7l.3 1.8zm1 0l.4-2.4h.8l.4 2.4zm26 0l.9-2.9h1.9l.9 2.9zm2 0l.7-2.5h1.3l.7 2.5zm1 0l.6-2.2h1.2l.6 2.2zm2 0l.9-2.8h2.6l.9 2.8zm1 0l.6-2.6h1.3l.6 2.6zm1 0l.9-2.2h2.9l.9 2.2zm2 0l.9-2.8h2.1l.9 2.8zm3 0l.4-1.9h.7l.4 1.9zm1 0l.4-2.2h.9l.4 2.2zm1 0l.3-2.9h.7l.3 2.9zm2 0l.8-2.4h1.8l.8 2.4zm1 0l.2-2h.6l.2 2zm1 0l.9-2.4h2.6l.9 2.4zm1 0l.8-2.4h1.7l.8 2.4zm2 0l.4-2.7h.7l.4 2.7zm1 0l.5-2.5h1l.5 2.5zm1 0l.6-2.6h1.2l.6 2.6zm1 0l.3-2.8h.6l.3 2.8zm1 0l.9-2h2.2l.9 2zm1 0l.5-2.9h1.1l.5 2.9zm1 0l.9-2.1h2.4l.9 2.1zm6 0l.9-2.6h2.6l.9 2.6zm1 0l.8-2.7h1.5l.8 2.7zm1 0l.9-2.5h1.9l.9 2.5zm1 0l.9-2.7h1.7l.9 2.7zm3 0l.1-2.5h.3l.1 2.5zM275.8 68.01m1 0l.5-2.5h.8l.5 2.5zm1 0l.5-2.3h1l.5 2.3zm2 0l.3-2.7h.6l.3 2.7zm4 0l.9-2.5h1.8l.9 2.5zm4 0l.2-2.6h.5l.2 2.6zm17 0l.4-2.6h.8l.4 2.6zm1 0l.5-2.6h.9l.5 2.6zm11 0l.6-1.8h1l.6 1.8zm2 0l.7-2.2h1.3l.7 2.2zm1 0l.7-2.6h1.4l.7 2.6zm2 0l.5-1.8h1.1l.5 1.8zm4 0l.9-2.5h2l.9 2.5zm1 0l.5-2.3h.9l.5 2.3zm1 0l.8-2.8h1.7l.8 2.8zm1 0l.6-2.4h1.2l.6 2.4zm1 0l.9-2.3h2.9l.9 2.3zm1 0l.3-1.9h.6l.3 1.9zm1 0l.9-2.6h2.5l.9 2.6zm1 0l.2-2.2h.6l.2 2.2zm1 0l.9-2.1h2.1l.9 2.1zm1 0l.9-1.9h2.9l.9 1.9zm2 0l.6-2h1l.6 2zm1 0l.7-2.4h1.3l.7 2.4zm1 0l.2-2.6h.5l.2 2.6zm1 0l.5-2.9h1.1l.5 2.9zm2 0l.2-1.8h.6l.2 1.8zm1 0l.9-2.2h2.2l.9 2.2zm1 0l.4-1.6h.9l.4 1.6zm1 0l.9-2.8h1.8l.9 2.8zm1 0l.8-1.7h1.7l.8 1.7zm1 0l.2-2.7h.5l.2 2.7zm1 0l.9-2.2h1.7l.9 2.2zm1 0l.9-2.7h2.1l.9 2.7zm2 0l.4-2.7h.8l.4 2.7zm1 0l.8-2.5h1.8l.8 2.5zm1 0l.3-2.7h.6l.3 2.7zm1 0l.9-2.8h2.5l.9 2.8zm2 0l.8-2.6h1.7l.8 2.6zm2 0l.2-2.9h.5l.2 2.9zm3 0l.8-2.7h1.5l.8 2.7zm3 0l.5-2.1h1l.5 2.1zm2 0l.3-2.7h.8l.3 2.7zm2 0l.5-2.5h1l.5 2.5zm1 0l.4-2.8h.8l.4 2.8zm5 0l.4-2.1h.8l.4 2.1zm9 0l.3-2.4h.5l.3 2.4zm11 0l.2-2.8h.6l.2 2.8zm1 0l.9-2.6h2.2l.9 2.6zm1 0l.9-2.6h2.3l.9 2.6zm1 0l.3-2.9h.6l.3 2.9zm1 0l.8-2.1h1.5l.8 2.1zm1 0l.3-1.9h.6l.3 1.9zm1 0l.6-2.9h1.1l.6 2.9zm1 0l.5-2.5h1.1l.5 2.5zm2 0l.8-2.8h1.5l.8 2.8zm1 0l.3-2.3h.6l.3 2.3zm1 0l.9-2.4h2.3l.9 2.4zm1 0l.2-2.9h.5l.2 2.9zm1 0l.2-2.6h.6l.2 2.6zm1 0l.8-2h1.5l.8 2zm1 0l.8-2.3h1.7l.8 2.3zm3 0l.7-2.5h1.2l.7 2.5zm3 0l.9-2.8h1.7l.9 2.8zm1 0l.8-2.2h1.8l.8 2.2zm1 0l.7-2.7h1.3l.7 2.7zm1 0l.9-2.3h2.6l.9 2.3zm1 0l.8-2.3h1.8l.8 2.3zm2 0l.3-1.7h.7l.3 1.7zm1 0l.5-2.8h1l.5 2.8zm1 0l.7-2.3h1.2l.7 2.3zm1 0l.8-1.8h1.7l.8 1.8zm1 0l.4-2.2h.7l.4 2.2zm1 0l.6-2.8h1.1l.6 2.8zm1 0l.5-2.4h.8l.5 2.4zm1 0l.9-2.2h1.8l.9 2.2zm1 0l.9-2.6h2.3l.9 2.6zm1 0l.4-1.9h.9l.4 1.9zm1 0l.9-2.9h1.7l.9 2.9zm1 0l.6-2.7h1.3l.6 2.7zm1 0l.4-2.8h.7l.4 2.8zm1 0l.1-2.7h.3l.1 2.7zM275.8 70.89m1 0l.3-2.7h.6l.3 2.7zm2 0l.9-1.8h1.9l.9 1.8zm1 0l.8-2.9h1.5l.8 2.9zm1 0l.6-2.7h1.3l.6 2.7zm2 0l.4-2.1h.9l.4 2.1zm1 0l.8-2h1.8l.8 2zm4 0l.4-2h.8l.4 2zm31 0l.5-2.8h.8l.5 2.8zm1 0l.9-2.7h2l.9 2.7zm1 0l.9-2.3h1.8l.9 2.3zm3 0l.2-1.6h.6l.2 1.6zm1 0l.9-2.4h1.8l.9 2.4zm1 0l.8-2.8h1.7l.8 2.8zm1 0l.4-2.4h.8l.4 2.4zm2 0l.7-2.2h1.5l.7 2.2zm1 0l.5-2.8h1l.5 2.8zm1 0l.9-2.7h2.9l.9 2.7zm1 0l.9-2h2.9l.9 2zm2 0l.9-2.3h2.6l.9 2.3zm1 0l.9-2.6h2.9l.9 2.6zm1 0l.6-2.8h1l.6 2.8zm1 0l.8-2.6h1.6l.8 2.6zm1 0l.3-1.9h.7l.3 1.9zm1 0l.5-2.7h.8l.5 2.7zm1 0l.4-1.6h.7l.4 1.6zm3 0l.5-2.1h1.1l.5 2.1zm1 0l.8-2.2h1.8l.8 2.2zm1 0l.8-2.2h1.8l.8 2.2zm3 0l.2-2h.6l.2 2zm1 0l.4-2.8h.8l.4 2.8zm2 0l.7-2.5h1.4l.7 2.5zm1 0l.9-2.5h2.7l.9 2.5zm2 0l.7-2.5h1.2l.7 2.5zm1 0l.6-2.7h1.2l.6 2.7zm1 0l.3-1.8h.6l.3 1.8zm1 0l.7-2.6h1.2l.7 2.6zm4 0l.5-2.9h1l.5 2.9zm1 0l.4-2.5h.8l.4 2.5zm1 0l.2-2.2h.6l.2 2.2zm9 0l.5-2.2h1l.5 2.2zm4 0l.5-2.3h.9l.5 2.3zm17 0l.4-2.1h.8l.4 2.1zm4 0l.3-2.5h.6l.3 2.5zm1 0l.9-2.4h2.4l.9 2.4zm2 0l.9-2.8h2.6l.9 2.8zm1 0l.6-2.8h1l.6 2.8zm1 0l.2-2.7h.6l.2 2.7zm1 0l.2-2.3h.6l.2 2.3zm1 0l.4-2.8h.7l.4 2.8zm1 0l.7-1.9h1.4l.7 1.9zm1 0l.3-2.8h.8l.3 2.8zm1 0l.5-2.5h.8l.5 2.5zm2 0l.9-2.8h2l.9 2.8zm1 0l.6-2.8h1.3l.6 2.8zm2 0l.9-2.7h2.9l.9 2.7zm1 0l.5-2h.8l.5 2zm1 0l.5-1.9h.8l.5 1.9zm1 0l.9-2.8h2l.9 2.8zm1 0l.4-1.9h.8l.4 1.9zm1 0l.3-1.7h.8l.3 1.7zm1 0l.9-2.8h2.5l.9 2.8zm1 0l.5-2.8h1l.5 2.8zm1 0l.5-2.6h.8l.5 2.6zm1 0l.8-2.7h1.6l.8 2.7zm1 0l.8-1.7h1.4l.8 1.7zm1 0l.9-2.6h2.6l.9 2.6zm2 0l.9-2.1h1.8l.9 2.1zm2 0l.6-2.5h1l.6 2.5zm1 0l.8-2.6h1.5l.8 2.6zm1 0l.7-1.8h1.5l.7 1.8zm1 0l.6-2.7h1.3l.6 2.7zm1 0l.6-2.6h1.2l.6 2.6zm1 0l.6-2.7h1.3l.6 2.7zm1 0l.4-2.7h.7l.4 2.7zm1 0l.1-2.3h.3l.1 2.3zM275.8 73.78m0 0l.9-2.9h2.2l.9 2.9zm1 0l.4-2.3h.7l.4 2.3zm2 0l.8-2.3h1.6l.8 2.3zm1 0l.3-2.6h.7l.3 2.6zm11 0l.5-2.3h.8l.5 2.3zm6 0l.5-2.7h.9l.5 2.7zm5 0l.5-2h.9l.5 2zm10 0l.5-2.4h.8l.5 2.4zm4 0l.7-2.5h1.4l.7 2.5zm2 0l.9-2.5h2.2l.9 2.5zm1 0l.7-2.3h1.5l.7 2.3zm2 0l.4-2.4h.7l.4 2.4zm7 0l.6-2.7h1.2l.6 2.7zm8 0l.6-1.8h1l.6 1.8zm1 0l.7-2.5h1.2l.7 2.5zm1 0l.9-2.7h2.2l.9 2.7zm2 0l.9-2.7h1.8l.9 2.7zm2 0l.5-2.5h.9l.5 2.5zm1 0l.2-2.2h.6l.2 2.2zm1 0l.6-2.5h1.2l.6 2.5zm3 0l.2-2.8h.6l.2 2.8zm2 0l.8-2.2h1.7l.8 2.2zm2 0l.5-2.1h1.1l.5 2.1zm1 0l.3-2.6h.8l.3 2.6zm1 0l.6-2.2h1.2l.6 2.2zm1 0l.2-2.2h.6l.2 2.2zm1 0l.6-1.8h1.2l.6 1.8zm3 0l.7-2.6h1.3l.7 2.6zm2 0l.3-2.9h.5l.3 2.9zm1 0l.9-2.5h1.8l.9 2.5zm4 0l.6-2.3h1.1l.6 2.3zm2 0l.4-2.4h.8l.4 2.4zm3 0l.6-2h1.1l.6 2zm5 0l.6-2.2h1.1l.6 2.2zm7 0l.5-2h1.1l.5 2zm2 0l.3-2.1h.8l.3 2.1zm7 0l.9-2.8h2.6l.9 2.8zm3 0l.9-2.8h2.1l.9 2.8zm1 0l.9-2.5h2.7l.9 2.5zm1 0l.6-2.7h1.2l.6 2.7zm1 0l.3-2.4h.6l.3 2.4zm1 0l.9-2.3h2.4l.9 2.3zm1 0l.6-2.5h1l.6 2.5zm3 0l.3-2.2h.6l.3 2.2zm6 0l.3-2.6h.5l.3 2.6zm7 0l.4-2.5h.8l.4 2.5zm1 0l.9-2.9h2l.9 2.9zm1 0l.9-1.8h2l.9 1.8zm3 0l.7-2.6h1.5l.7 2.6zm1 0l.7-2.2h1.2l.7 2.2zm1 0l.6-2.4h1.1l.6 2.4zm1 0l.6-2.6h1.1l.6 2.6zm1 0l.3-2.8h.7l.3 2.8zm1 0l.9-2.9h2l.9 2.9zm1 0l.6-2.6h1.3l.6 2.6zm1 0l.3-2.7h.8l.3 2.7zm1 0l.9-2h2.1l.9 2zm1 0l.6-2.8h1l.6 2.8zm1 0l.7-2.9h1.2l.7 2.9zm1 0l.8-2.7h1.8l.8 2.7zm2 0l.3-2.9h.7l.3 2.9zm1 0l.1-2.8h.3l.1 2.8zM275.8 76.67m0 0l.8-2.2h1.6l.8 2.2zm1 0l.9-2.8h2l.9 2.8zm1 0l.6-2.2h1.2l.6 2.2zm1 0l.2-2.3h.6l.2 2.3zm1 0l.8-2.4h1.7l.8 2.4zm1 0l.6-2.3h1.1l.6 2.3zm2 0l.7-2.4h1.2l.7 2.4zm19 0l.3-2.5h.5l.3 2.5zm2 0l.4-2.3h.8l.4 2.3zm9 0l.9-1.6h1.7l.9 1.6zm1 0l.9-2h2.7l.9 2zm2 0l.9-2.6h2.2l.9 2.6zm3 0l.5-2.6h.8l.5 2.6zm2 0l.3-2.4h.6l.3 2.4zm1 0l.8-2.9h1.6l.8 2.9zm9 0l.5-2.5h1l.5 2.5zm2 0l.3-2.3h.6l.3 2.3zm1 0l.6-2h1.3l.6 2zm2 0l.3-2.5h.6l.3 2.5zm2 0l.9-2.3h1.7l.9 2.3zm2 0l.8-2.5h1.7l.8 2.5zm1 0l.2-2h.5l.2 2zm1 0l.3-2.3h.5l.3 2.3zm1 0l.4-2.9h.9l.4 2.9zm1 0l.4-2.8h.8l.4 2.8zm1 0l.4-2.2h.8l.4 2.2zm1 0l.2-2.2h.6l.2 2.2zm1 0l.7-2.8h1.4l.7 2.8zm1 0l.7-2.4h1.3l.7 2.4zm1 0l.7-2h1.4l.7 2zm1 0l.5-2.5h1l.5 2.5zm1 0l.7-2.8h1.5l.7 2.8zm3 0l.5-2.4h.8l.5 2.4zm2 0l.9-2.8h1.8l.9 2.8zm1 0l.7-2.1h1.4l.7 2.1zm3 0l.8-2.6h1.5l.8 2.6zm1 0l.6-2.9h1.2l.6 2.9zm1 0l.4-2.7h.7l.4 2.7zm4 0l.5-1.6h.9l.5 1.6zm4 0l.4-2.4h.7l.4 2.4zm1 0l.3-2.3h.8l.3 2.3zm11 0l.4-2.2h.9l.4 2.2zm4 0l.3-2.4h.8l.3 2.4zm6 0l.7-2.9h1.5l.7 2.9zm1 0l.5-2.7h1.1l.5 2.7zm3 0l.4-2.7h.8l.4 2.7zm1 0l.9-2.4h2.1l.9 2.4zm2 0l.3-2.7h.8l.3 2.7zm1 0l.9-2.7h2.4l.9 2.7zm2 0l.6-1.7h1.3l.6 1.7zm2 0l.3-1.8h.8l.3 1.8zm2 0l.3-2.1h.5l.3 2.1zm7 0l.5-2.8h.9l.5 2.8zm1 0l.5-2.2h.9l.5 2.2zm3 0l.4-2.4h.9l.4 2.4zm1 0l.9-2.3h2.2l.9 2.3zm2 0l.6-2.8h1.3l.6 2.8zm2 0l.3-1.7h.5l.3 1.7zm1 0l.8-1.6h1.7l.8 1.6zm1 0l.4-2.4h.7l.4 2.4zm2 0l.7-2.4h1.4l.7 2.4zm2 0l.4-2.4h.8l.4 2.4zm1 0l.4-2.6h.8l.4 2.6zm2 0l.4-2.7h.8l.4 2.7zm1 0l.3-2.8h.6l.3 2.8zm1 0l.3-2.3h.6l.3 2.3zM275.8 79.56m0 0l.8-1.9h1.5l.8 1.9zm1 0l.9-2.9h1.8l.9 2.9zm1 0l.8-2.7h1.6l.8 2.7zm2 0l.9-2.9h1.7l.9 2.9zm2 0l.5-2.8h1l.5 2.8zm1 0l.8-2.5h1.4l.8 2.5zm8 0l.5-1.6h1.1l.5 1.6zm10 0l.3-2.1h.5l.3 2.1zm3 0l.6-2.7h1.1l.6 2.7zm4 0l.4-2.8h.7l.4 2.8zm4 0l.3-2.7h.7l.3 2.7zm1 0l.8-2.8h1.4l.8 2.8zm1 0l.3-2.9h.7l.3 2.9zm1 0l.5-2.9h1l.5 2.9zm1 0l.9-2.6h2.6l.9 2.6zm2 0l.4-2.5h.9l.4 2.5zm2 0l.5-2.5h1.1l.5 2.5zm1 0l.9-2h2.7l.9 2zm1 0l.2-2.6h.6l.2 2.6zm2 0l.9-2.9h2.3l.9 2.9zm1 0l.6-2.3h1l.6 2.3zm8 0l.5-2.8h.9l.5 2.8zm2 0l.4-2.9h.9l.4 2.9zm2 0l.2-2.9h.5l.2 2.9zm2 0l.4-2.7h.7l.4 2.7zm2 0l.3-2.4h.7l.3 2.4zm1 0l.5-2.1h1.1l.5 2.1zm1 0l.8-2.6h1.6l.8 2.6zm1 0l.9-2.4h2.3l.9 2.4zm1 0l.9-2.2h2.2l.9 2.2zm2 0l.6-2.6h1l.6 2.6zm1 0l.5-2.6h1l.5 2.6zm1 0l.8-2.4h1.4l.8 2.4zm1 0l.5-2.3h.9l.5 2.3zm3 0l.4-2.6h.7l.4 2.6zm2 0l.5-2.9h.9l.5 2.9zm1 0l.6-2h1.1l.6 2zm1 0l.9-2.8h2.2l.9 2.8zm1 0l.7-1.9h1.5l.7 1.9zm3 0l.9-2.1h1.7l.9 2.1zm1 0l.9-2.5h1.8l.9 2.5zm1 0l.9-2.7h1.8l.9 2.7zm3 0l.5-2.5h1l.5 2.5zm2 0l.5-2.6h.9l.5 2.6zm7 0l.4-2.1h.9l.4 2.1zm10 0l.3-2.4h.6l.3 2.4zm4 0l.5-2.8h.9l.5 2.8zm4 0l.3-1.9h.6l.3 1.9zm1 0l.2-1.9h.6l.2 1.9zm1 0l.8-2.9h1.8l.8 2.9zm2 0l.9-2.7h2l.9 2.7zm1 0l.9-1.9h2l.9 1.9zm1 0l.3-2.2h.5l.3 2.2zm1 0l.5-2h1l.5 2zm1 0l.5-2.5h1.1l.5 2.5zm2 0l.6-1.9h1.2l.6 1.9zm1 0l.3-2h.8l.3 2zm4 0l.2-2.1h.6l.2 2.1zm1 0l.3-2.2h.5l.3 2.2zm3 0l.5-2.7h1l.5 2.7zm4 0l.8-2.1h1.8l.8 2.1zm1 0l.9-2h2.2l.9 2zm1 0l.7-2.4h1.5l.7 2.4zm1 0l.8-2.7h1.8l.8 2.7zm3 0l.9-2.7h1.9l.9 2.7zm1 0l.6-2.7h1.1l.6 2.7zm1 0l.8-2.4h1.7l.8 2.4zm1 0l.9-2.2h1.7l.9 2.2zm1 0l.2-2.8h.6l.2 2.8zm1 0l.9-2h2.2l.9 2zm1 0l.9-2h2.1l.9 2zm3 0l.5-2.7h1.1l.5 2.7zm1 0l.3-1.9h.8l.3 1.9zM275.8 82.44m1 0l.5-2.3h1.1l.5 2.3zm1 0l.6-2.2h1.3l.6 2.2zm1 0l.4-2.8h.8l.4 2.8zm1 0l.4-2.7h.9l.4 2.7zm2 0l.8-2.8h1.4l.8 2.8zm2 0l.4-2.4h.7l.4 2.4zm1 0l.4-2.7h.8l.4 2.7zm5 0l.4-2.4h.9l.4 2.4zm24 0l.8-2h1.6l.8 2zm1 0l.9-2.2h2.4l.9 2.2zm1 0l.7-2.5h1.2l.7 2.5zm1 0l.3-2.9h.7l.3 2.9zm3 0l.5-2.8h1l.5 2.8zm1 0l.8-2.6h1.4l.8 2.6zm1 0l.7-2.1h1.2l.7 2.1zm1 0l.3-2.2h.6l.3 2.2zm1 0l.3-2.2h.6l.3 2.2zm1 0l.4-2.5h.9l.4 2.5zm8 0l.2-2.3h.6l.2 2.3zm2 0l.7-2h1.3l.7 2zm2 0l.8-2.8h1.4l.8 2.8zm2 0l.6-2.1h1.2l.6 2.1zm2 0l.3-2.8h.8l.3 2.8zm1 0l.7-2.8h1.5l.7 2.8zm1 0l.6-2.3h1l.6 2.3zm3 0l.8-2.4h1.5l.8 2.4zm1 0l.7-2.2h1.2l.7 2.2zm1 0l.9-2.1h2l.9 2.1zm1 0l.7-2.4h1.4l.7 2.4zm1 0l.4-2.9h.8l.4 2.9zm2 0l.5-2.7h1.1l.5 2.7zm2 0l.5-2.7h.8l.5 2.7zm3 0l.7-2.4h1.3l.7 2.4zm1 0l.4-2.8h.8l.4 2.8zm6 0l.9-2.8h2.1l.9 2.8zm1 0l.4-2.3h.9l.4 2.3zm1 0l.3-2.7h.7l.3 2.7zm7 0l.4-1.9h.9l.4 1.9zm5 0l.5-2.6h.8l.5 2.6zm5 0l.4-2.5h.7l.4 2.5zm1 0l.4-2.6h.7l.4 2.6zm4 0l.4-2.5h.9l.4 2.5zm1 0l.3-2.1h.5l.3 2.1zm6 0l.6-2.7h1.1l.6 2.7zm2 0l.9-2.6h1.7l.9 2.6zm1 0l.7-2.4h1.4l.7 2.4zm2 0l.9-2.7h2l.9 2.7zm1 0l.3-2.9h.5l.3 2.9zm2 0l.7-2.8h1.2l.7 2.8zm1 0l.9-2.7h2l.9 2.7zm3 0l.4-2.2h.7l.4 2.2zm1 0l.4-2.6h.7l.4 2.6zm2 0l.3-2.6h.7l.3 2.6zm3 0l.4-2.4h.8l.4 2.4zm1 0l.3-2.4h.8l.3 2.4zm2 0l.3-2.4h.5l.3 2.4zm1 0l.8-2.8h1.7l.8 2.8zm1 0l.8-2.3h1.5l.8 2.3zm1 0l.3-2.2h.7l.3 2.2zm3 0l.8-2.4h1.8l.8 2.4zm1 0l.5-2.4h1.1l.5 2.4zm3 0l.3-2.6h.7l.3 2.6zm2 0l.2-2.2h.6l.2 2.2zm1 0l.5-1.9h1.1l.5 1.9zm1 0l.9-2.7h1.7l.9 2.7zm3 0l.4-1.9h.7l.4 1.9zm1 0l.1-1.9h.3l.1 1.9zM275.8 85.33m0 0l.7-2.8h1.4l.7 2.8zm1 0l.3-2.7h.5l.3 2.7zm4 0l.3-2.7h.7l.3 2.7zm1 0l.8-2.3h1.5l.8 2.3zm1 0l.8-2.8h1.8l.8 2.8zm1 0l.8-2.6h1.4l.8 2.6zm14 0l.5-2.7h1.1l.5 2.7zm9 0l.5-2.5h1.1l.5 2.5zm8 0l.6-2.1h1.1l.6 2.1zm1 0l.9-2.6h2l.9 2.6zm1 0l.6-1.7h1.1l.6 1.7zm3 0l.9-2.6h2l.9 2.6zm2 0l.3-2.5h.7l.3 2.5zm2 0l.5-2.9h.8l.5 2.9zm1 0l.9-2.7h1.7l.9 2.7zm9 0l.3-2.9h.7l.3 2.9zm3 0l.2-2.2h.6l.2 2.2zm1 0l.9-1.5h1.7l.9 1.5zm1 0l.6-2.2h1.3l.6 2.2zm1 0l.7-2h1.2l.7 2zm1 0l.9-2.5h2l.9 2.5zm1 0l.5-2.6h1l.5 2.6zm2 0l.5-2h.9l.5 2zm2 0l.6-2.3h1.2l.6 2.3zm2 0l.9-1.9h2.3l.9 1.9zm1 0l.7-2.1h1.4l.7 2.1zm5 0l.6-1.6h1l.6 1.6zm3 0l.9-2.7h2.1l.9 2.7zm1 0l.8-1.7h1.4l.8 1.7zm1 0l.9-2.8h1.8l.9 2.8zm3 0l.4-2.9h.8l.4 2.9zm1 0l.2-2.8h.5l.2 2.8zm1 0l.7-2.1h1.3l.7 2.1zm2 0l.4-2.6h.9l.4 2.6zm21 0l.5-2.2h.8l.5 2.2zm5 0l.3-2.5h.5l.3 2.5zm5 0l.9-2.9h2.1l.9 2.9zm1 0l.6-2.7h1l.6 2.7zm1 0l.4-2.8h.9l.4 2.8zm1 0l.4-2.7h.7l.4 2.7zm1 0l.9-1.8h2.5l.9 1.8zm1 0l.6-2.2h1l.6 2.2zm3 0l.5-2.7h1l.5 2.7zm1 0l.5-1.8h1l.5 1.8zm1 0l.3-2.6h.8l.3 2.6zm3 0l.6-2.2h1.2l.6 2.2zm3 0l.5-2.2h.9l.5 2.2zm5 0l.9-2.4h2.2l.9 2.4zm5 0l.3-2.4h.5l.3 2.4zm2 0l.6-2h1.3l.6 2zm1 0l.2-2h.6l.2 2zm1 0l.9-1.9h2.2l.9 1.9zm2 0l.6-2.2h1.3l.6 2.2zm1 0l.8-2.5h1.5l.8 2.5zm1 0l.7-2.4h1.5l.7 2.4zm1 0l.6-2.7h1.3l.6 2.7zm2 0l.1-2.4h.3l.1 2.4zM275.8 88.22m0 0l.3-2.5h.7l.3 2.5zm1 0l.8-2.4h1.6l.8 2.4zm1 0l.7-2.6h1.4l.7 2.6zm1 0l.3-2.2h.7l.3 2.2zm1 0l.6-2.3h1.1l.6 2.3zm1 0l.6-2.4h1.2l.6 2.4zm3 0l.7-2.8h1.4l.7 2.8zm1 0l.6-2.7h1.1l.6 2.7zm1 0l.7-2.8h1.3l.7 2.8zm11 0l.5-2.2h.8l.5 2.2zm4 0l.4-2.2h.8l.4 2.2zm1 0l.6-2.4h1l.6 2.4zm1 0l.5-2.7h1l.5 2.7zm12 0l.4-2.2h.7l.4 2.2zm3 0l.9-1.9h2l.9 1.9zm2 0l.7-2.7h1.3l.7 2.7zm2 0l.6-2.4h1.2l.6 2.4zm1 0l.7-2.7h1.4l.7 2.7zm3 0l.9-2.6h1.8l.9 2.6zm1 0l.3-2.8h.7l.3 2.8zm4 0l.6-2.9h1.3l.6 2.9zm1 0l.4-2.1h.7l.4 2.1zm4 0l.6-2.5h1l.6 2.5zm3 0l.4-2.8h.7l.4 2.8zm3 0l.8-2.8h1.8l.8 2.8zm1 0l.3-2h.8l.3 2zm1 0l.9-2.5h1.8l.9 2.5zm2 0l.9-2.4h1.7l.9 2.4zm1 0l.8-2.8h1.4l.8 2.8zm2 0l.3-2.7h.5l.3 2.7zm1 0l.8-2h1.8l.8 2zm1 0l.9-2.8h2.2l.9 2.8zm3 0l.5-2.2h.9l.5 2.2zm1 0l.3-2.6h.6l.3 2.6zm1 0l.4-2.7h.9l.4 2.7zm1 0l.6-2h1.3l.6 2zm1 0l.4-1.8h.7l.4 1.8zm2 0l.5-2.1h.9l.5 2.1zm2 0l.4-2h.7l.4 2zm1 0l.4-2.8h.8l.4 2.8zm1 0l.4-2.4h.9l.4 2.4zm1 0l.8-2.5h1.4l.8 2.5zm6 0l.5-2.2h1l.5 2.2zm24 0l.6-2.5h1l.6 2.5zm2 0l.4-2.5h.9l.4 2.5zm1 0l.2-2.8h.6l.2 2.8zm1 0l.6-1.8h1l.6 1.8zm2 0l.2-2.7h.6l.2 2.7zm2 0l.4-2.9h.8l.4 2.9zm2 0l.8-2.8h1.8l.8 2.8zm1 0l.8-2.4h1.8l.8 2.4zm3 0l.3-2.3h.7l.3 2.3zm3 0l.6-2.8h1.2l.6 2.8zm1 0l.4-1.9h.7l.4 1.9zm2 0l.5-2.7h.8l.5 2.7zm4 0l.6-2.8h1.2l.6 2.8zm2 0l.9-2.7h1.8l.9 2.7zm1 0l.2-1.9h.5l.2 1.9zm1 0l.7-2.6h1.4l.7 2.6zm1 0l.7-2.5h1.3l.7 2.5zm1 0l.7-2.4h1.4l.7 2.4zm1 0l.5-2h.9l.5 2zm1 0l.5-2.2h1l.5 2.2zm3 0l.8-2.7h1.8l.8 2.7zm1 0l.9-2.2h1.7l.9 2.2zm3 0l.1-2.7h.3l.1 2.7zM275.8 91.1m1 0l.9-2.1h2l.9 2.1zm1 0l.4-2.5h.8l.4 2.5zm1 0l.6-2.9h1.1l.6 2.9zm2 0l.9-2.6h2.1l.9 2.6zm1 0l.3-2.8h.8l.3 2.8zm4 0l.5-1.6h.8l.5 1.6zm8 0l.4-2.3h.8l.4 2.3zm7 0l.4-2.5h.9l.4 2.5zm7 0l.6-2.1h1.1l.6 2.1zm3 0l.5-2.5h.9l.5 2.5zm5 0l.7-2.7h1.3l.7 2.7zm2 0l.6-2.1h1l.6 2.1zm1 0l.9-2.5h2.6l.9 2.5zm1 0l.3-1.7h.7l.3 1.7zm1 0l.4-2.2h.9l.4 2.2zm1 0l.9-2.3h2.4l.9 2.3zm1 0l.2-1.9h.6l.2 1.9zm1 0l.9-2.4h1.9l.9 2.4zm1 0l.9-2.4h2l.9 2.4zm1 0l.9-2.8h2l.9 2.8zm1 0l.9-1.9h2.2l.9 1.9zm4 0l.3-2.7h.6l.3 2.7zm2 0l.2-2.6h.6l.2 2.6zm2 0l.5-2.1h1.1l.5 2.1zm4 0l.3-2h.8l.3 2zm3 0l.4-2.6h.9l.4 2.6zm1 0l.8-2h1.7l.8 2zm1 0l.4-2.4h.8l.4 2.4zm1 0l.9-2.6h2.2l.9 2.6zm1 0l.9-2.6h1.9l.9 2.6zm1 0l.9-2.2h1.9l.9 2.2zm4 0l.3-2.7h.7l.3 2.7zm1 0l.7-2.8h1.5l.7 2.8zm1 0l.6-2.5h1.2l.6 2.5zm1 0l.7-2.8h1.3l.7 2.8zm2 0l.4-2.3h.7l.4 2.3zm1 0l.3-2.2h.6l.3 2.2zm1 0l.2-1.9h.6l.2 1.9zm1 0l.7-2.3h1.5l.7 2.3zm2 0l.8-2.2h1.7l.8 2.2zm2 0l.6-2.3h1.2l.6 2.3zm1 0l.3-2.8h.6l.3 2.8zm2 0l.9-2.9h1.8l.9 2.9zm7 0l.2-2.4h.5l.2 2.4zm7 0l.3-2.6h.7l.3 2.6zm1 0l.4-2.6h.7l.4 2.6zm6 0l.2-2.9h.5l.2 2.9zm2 0l.3-2.8h.5l.3 2.8zm5 0l.4-1.9h.8l.4 1.9zm2 0l.9-2.2h2.5l.9 2.2zm2 0l.5-2.8h1l.5 2.8zm1 0l.9-1.9h2.1l.9 1.9zm4 0l.2-2.5h.5l.2 2.5zm1 0l.7-2.5h1.2l.7 2.5zm1 0l.2-2h.6l.2 2zm1 0l.9-1.7h2.2l.9 1.7zm1 0l.5-2.3h1.1l.5 2.3zm4 0l.6-2h1l.6 2zm9 0l.7-2.1h1.2l.7 2.1zm3 0l.9-2.5h2l.9 2.5zm1 0l.8-2.3h1.5l.8 2.3zm1 0l.5-2.7h.9l.5 2.7zm3 0l.9-2.8h1.9l.9 2.8zm1 0l.6-1.7h1.2l.6 1.7zm1 0l.9-1.8h1.7l.9 1.8zm1 0l.3-2.7h.8l.3 2.7zm2 0l.4-2.6h.7l.4 2.6zm1 0l.1-2.3h.3l.1 2.3zM275.8 93.99m1 0l.2-1.6h.6l.2 1.6zm1 0l.4-2.6h.7l.4 2.6zm1 0l.7-1.9h1.4l.7 1.9zm2 0l.7-2.2h1.4l.7 2.2zm5 0l.5-2.8h1l.5 2.8zm2 0l.5-1.8h.8l.5 1.8zm4 0l.3-2.8h.8l.3 2.8zm2 0l.4-2.1h.9l.4 2.1zm12 0l.2-2.6h.6l.2 2.6zm2 0l.3-2.6h.8l.3 2.6zm9 0l.8-2.6h1.4l.8 2.6zm1 0l.9-2.7h1.9l.9 2.7zm1 0l.4-2.6h.9l.4 2.6zm3 0l.8-2h1.6l.8 2zm2 0l.5-2.7h1.1l.5 2.7zm1 0l.9-2.7h2.3l.9 2.7zm2 0l.6-2.7h1.2l.6 2.7zm2 0l.6-2h1.3l.6 2zm6 0l.5-2.4h1l.5 2.4zm4 0l.7-2.1h1.2l.7 2.1zm2 0l.2-2.5h.6l.2 2.5zm3 0l.4-2.7h.8l.4 2.7zm2 0l.4-2.6h.9l.4 2.6zm1 0l.3-1.8h.8l.3 1.8zm2 0l.5-2.5h1l.5 2.5zm1 0l.2-2.5h.6l.2 2.5zm1 0l.8-2.5h1.5l.8 2.5zm1 0l.6-2.5h1.2l.6 2.5zm2 0l.3-2.7h.7l.3 2.7zm2 0l.9-2.2h2.1l.9 2.2zm1 0l.9-2.9h1.9l.9 2.9zm1 0l.5-2.4h1.1l.5 2.4zm1 0l.9-2.6h1.7l.9 2.6zm1 0l.3-2h.6l.3 2zm2 0l.3-2.6h.7l.3 2.6zm4 0l.6-2.5h1l.6 2.5zm1 0l.3-2.4h.7l.3 2.4zm5 0l.2-2.5h.5l.2 2.5zm2 0l.6-2.4h1l.6 2.4zm2 0l.6-2.6h1l.6 2.6zm12 0l.4-1.9h.9l.4 1.9zm1 0l.4-1.9h.9l.4 1.9zm8 0l.3-2.8h.8l.3 2.8zm2 0l.6-2.4h1l.6 2.4zm1 0l.9-1.7h2.6l.9 1.7zm1 0l.4-2.4h.9l.4 2.4zm1 0l.3-2.8h.5l.3 2.8zm1 0l.4-2.8h.9l.4 2.8zm1 0l.5-2.4h.8l.5 2.4zm2 0l.3-2.8h.5l.3 2.8zm5 0l.4-2.4h.9l.4 2.4zm11 0l.4-1.9h.7l.4 1.9zm2 0l.5-2h.9l.5 2zm1 0l.3-2h.5l.3 2zm2 0l.9-2.7h2.1l.9 2.7zm2 0l.8-2.8h1.8l.8 2.8zm2 0l.5-2.3h1l.5 2.3zm1 0l.6-2.4h1.3l.6 2.4zm1 0l.4-1.6h.7l.4 1.6zM275.8 96.88m0 0l.2-2h.5l.2 2zm1 0l.6-2.7h1l.6 2.7zm3 0l.7-2h1.5l.7 2zm1 0l.5-2.8h1.1l.5 2.8zm2 0l.5-2.6h.9l.5 2.6zm1 0l.9-2.4h1.7l.9 2.4zm1 0l.7-1.9h1.3l.7 1.9zm3 0l.7-2h1.3l.7 2zm1 0l.5-2.7h.9l.5 2.7zm5 0l.3-2.9h.8l.3 2.9zm10 0l.5-2.2h.9l.5 2.2zm4 0l.6-2h1l.6 2zm5 0l.6-1.6h1l.6 1.6zm5 0l.9-1.9h2l.9 1.9zm1 0l.2-2.6h.6l.2 2.6zm2 0l.9-2.2h2l.9 2.2zm1 0l.8-2.7h1.8l.8 2.7zm2 0l.5-2.7h.8l.5 2.7zm1 0l.7-1.8h1.2l.7 1.8zm1 0l.8-2.7h1.5l.8 2.7zm2 0l.9-2.8h1.9l.9 2.8zm3 0l.5-2.3h.8l.5 2.3zm1 0l.3-1.7h.6l.3 1.7zm4 0l.3-2.9h.8l.3 2.9zm1 0l.3-2.9h.6l.3 2.9zm1 0l.2-2.7h.6l.2 2.7zm3 0l.9-2.5h2.3l.9 2.5zm2 0l.9-2.6h2.3l.9 2.6zm1 0l.3-2h.6l.3 2zm1 0l.8-2.3h1.7l.8 2.3zm1 0l.3-2.8h.8l.3 2.8zm4 0l.4-2.8h.9l.4 2.8zm3 0l.5-2.7h.8l.5 2.7zm1 0l.7-2h1.3l.7 2zm1 0l.4-2.5h.9l.4 2.5zm4 0l.9-2.2h1.9l.9 2.2zm1 0l.9-2.6h2.1l.9 2.6zm2 0l.4-2.1h.8l.4 2.1zm1 0l.4-2.4h.9l.4 2.4zm2 0l.3-2.3h.5l.3 2.3zm1 0l.7-2.8h1.5l.7 2.8zm1 0l.8-2.3h1.7l.8 2.3zm1 0l.9-2.2h1.7l.9 2.2zm3 0l.5-2.9h.9l.5 2.9zm18 0l.3-2.7h.5l.3 2.7zm3 0l.5-2.7h.9l.5 2.7zm6 0l.4-2.6h.9l.4 2.6zm1 0l.9-2.8h1.8l.9 2.8zm1 0l.6-2.7h1.1l.6 2.7zm1 0l.9-2.3h2.3l.9 2.3zm1 0l.8-1.9h1.7l.8 1.9zm3 0l.8-2.9h1.5l.8 2.9zm1 0l.4-2.8h.7l.4 2.8zm1 0l.6-2.5h1.1l.6 2.5zm1 0l.8-2.9h1.6l.8 2.9zm2 0l.3-1.6h.8l.3 1.6zm2 0l.2-2.8h.6l.2 2.8zm1 0l.3-2.6h.6l.3 2.6zm2 0l.5-2.7h1.1l.5 2.7zm2 0l.5-2.6h.8l.5 2.6zm2 0l.4-2.7h.8l.4 2.7zm2 0l.9-2.5h2l.9 2.5zm1 0l.7-2.8h1.3l.7 2.8zm3 0l.9-2.6h1.7l.9 2.6zm1 0l.9-1.7h2l.9 1.7zm1 0l.3-2.5h.7l.3 2.5zm1 0l.8-2.1h1.5l.8 2.1zm1 0l.8-2.4h1.7l.8 2.4zm1 0l.7-2.5h1.2l.7 2.5zm1 0l.7-2.8h1.3l.7 2.8zm1 0l.6-2.9h1.2l.6 2.9zm1 0l.4-2.1h.7l.4 2.1zM275.8 99.76m0 0l.5-1.6h.8l.5 1.6zm1 0l.9-2.4h2.1l.9 2.4zm1 0l.9-1.7h2.1l.9 1.7zm3 0l.5-2.3h1.1l.5 2.3zm1 0l.3-2.4h.7l.3 2.4zm3 0l.8-2.5h1.4l.8 2.5zm1 0l.9-1.8h1.7l.9 1.8zm1 0l.9-2.7h1.7l.9 2.7zm1 0l.5-2.7h.9l.5 2.7zm2 0l.3-2.3h.7l.3 2.3zm5 0l.3-2.6h.7l.3 2.6zm14 0l.4-2h.8l.4 2zm4 0l.6-1.8h1.1l.6 1.8zm1 0l.4-2.2h.7l.4 2.2zm4 0l.9-2.7h2.3l.9 2.7zm1 0l.4-2.9h.7l.4 2.9zm1 0l.8-2.5h1.4l.8 2.5zm4 0l.7-2.3h1.3l.7 2.3zm1 0l.8-2.4h1.4l.8 2.4zm1 0l.9-2.3h2.4l.9 2.3zm1 0l.8-2.8h1.4l.8 2.8zm2 0l.9-2.4h1.7l.9 2.4zm2 0l.4-2.6h.8l.4 2.6zm9 0l.4-2.7h.7l.4 2.7zm2 0l.8-2.5h1.5l.8 2.5zm1 0l.9-2.7h1.9l.9 2.7zm1 0l.6-2.5h1.2l.6 2.5zm3 0l.7-1.6h1.5l.7 1.6zm1 0l.7-1.7h1.3l.7 1.7zm1 0l.4-2.2h.8l.4 2.2zm2 0l.4-2.8h.9l.4 2.8zm2 0l.4-2.2h.8l.4 2.2zm4 0l.9-2h2.2l.9 2zm1 0l.4-2.3h.9l.4 2.3zm1 0l.4-1.9h.7l.4 1.9zm5 0l.8-2.8h1.5l.8 2.8zm2 0l.6-2.6h1.2l.6 2.6zm1 0l.5-2.1h1.1l.5 2.1zm2 0l.5-2.8h.8l.5 2.8zm21 0l.5-2.7h1.1l.5 2.7zm9 0l.2-2.9h.6l.2 2.9zm2 0l.3-2.3h.6l.3 2.3zm1 0l.5-2.4h.9l.5 2.4zm3 0l.4-2.8h.9l.4 2.8zm1 0l.6-2.7h1.3l.6 2.7zm1 0l.6-1.7h1.3l.6 1.7zm1 0l.7-2.1h1.5l.7 2.1zm1 0l.3-2.4h.6l.3 2.4zm4 0l.6-2.9h1.1l.6 2.9zm1 0l.6-1.8h1.1l.6 1.8zm8 0l.9-1.8h2.1l.9 1.8zm2 0l.6-2.7h1.2l.6 2.7zm1 0l.3-1.7h.6l.3 1.7zm4 0l.8-2.5h1.8l.8 2.5zm4 0l.4-2.5h.7l.4 2.5zM275.8 102.65m1 0l.3-2.6h.5l.3 2.6zm1 0l.9-2.9h1.7l.9 2.9zm2 0l.8-2.6h1.5l.8 2.6zm1 0l.4-1.8h.9l.4 1.8zm5 0l.4-2.4h.7l.4 2.4zm1 0l.9-2.8h1.9l.9 2.8zm1 0l.8-2.1h1.6l.8 2.1zm4 0l.4-2.2h.9l.4 2.2zm28 0l.6-2.4h1l.6 2.4zm1 0l.9-1.5h1.8l.9 1.5zm1 0l.5-2.2h.9l.5 2.2zm1 0l.8-2.7h1.6l.8 2.7zm1 0l.3-1.9h.8l.3 1.9zm1 0l.7-2.3h1.3l.7 2.3zm2 0l.5-2.1h1l.5 2.1zm1 0l.6-2.6h1.1l.6 2.6zm2 0l.4-2.3h.7l.4 2.3zm1 0l.3-1.8h.6l.3 1.8zm2 0l.6-2.8h1.3l.6 2.8zm8 0l.3-2.3h.8l.3 2.3zm2 0l.4-2.7h.8l.4 2.7zm1 0l.9-2.3h2.2l.9 2.3zm1 0l.4-1.6h.7l.4 1.6zm1 0l.4-2.6h.7l.4 2.6zm1 0l.4-1.9h.7l.4 1.9zm1 0l.8-1.9h1.8l.8 1.9zm1 0l.7-2.7h1.2l.7 2.7zm1 0l.6-2.2h1.2l.6 2.2zm1 0l.6-2.3h1l.6 2.3zm1 0l.9-2.9h2.1l.9 2.9zm6 0l.6-1.8h1l.6 1.8zm2 0l.7-2.2h1.4l.7 2.2zm1 0l.6-2.8h1l.6 2.8zm1 0l.5-2h1l.5 2zm2 0l.9-1.8h2l.9 1.8zm1 0l.4-1.9h.8l.4 1.9zm3 0l.6-2.8h1l.6 2.8zm1 0l.8-2.7h1.8l.8 2.7zm1 0l.5-2.9h.8l.5 2.9zm9 0l.5-2.7h.8l.5 2.7zm6 0l.3-2h.8l.3 2zm8 0l.5-2.8h.9l.5 2.8zm6 0l.3-2h.8l.3 2zm1 0l.6-2.8h1.1l.6 2.8zm1 0l.9-2.4h1.9l.9 2.4zm1 0l.9-2.6h2.8l.9 2.6zm1 0l.8-2.2h1.4l.8 2.2zm1 0l.6-2.5h1.2l.6 2.5zm1 0l.4-2.7h.9l.4 2.7zm1 0l.9-2.8h2.4l.9 2.8zm2 0l.9-2.2h2.3l.9 2.2zm2 0l.9-1.5h2.1l.9 1.5zm1 0l.3-2.4h.8l.3 2.4zm2 0l.5-1.8h1l.5 1.8zm3 0l.6-2.2h1l.6 2.2zm4 0l.3-2.6h.7l.3 2.6zm3 0l.7-2.8h1.3l.7 2.8zm2 0l.4-2.1h.9l.4 2.1zm1 0l.9-2.7h1.9l.9 2.7zm1 0l.4-2.3h.7l.4 2.3zm2 0l.9-2.1h2.1l.9 2.1zm2 0l.8-2.6h1.7l.8 2.6zm1 0l.4-2.8h.8l.4 2.8zm1 0l.4-2.4h.7l.4 2.4zm1 0l.1-1.5h.3l.1 1.5zM275.8 105.54m0 0l.3-2.6h.8l.3 2.6zm1 0l.6-2.8h1.3l.6 2.8zm1 0l.5-2.8h.8l.5 2.8zm1 0l.8-2.9h1.7l.8 2.9zm3 0l.3-1.9h.6l.3 1.9zm2 0l.8-2.4h1.8l.8 2.4zm2 0l.5-1.7h1l.5 1.7zm1 0l.9-2.7h1.9l.9 2.7zm3 0l.9-2.8h1.7l.9 2.8zm15 0l.4-2.4h.8l.4 2.4zm4 0l.3-2.7h.8l.3 2.7zm4 0l.6-2.8h1l.6 2.8zm2 0l.3-2.8h.5l.3 2.8zm2 0l.2-1.9h.6l.2 1.9zm3 0l.9-2.7h1.9l.9 2.7zm1 0l.5-2.8h.9l.5 2.8zm1 0l.9-2.8h2.6l.9 2.8zm1 0l.6-2.2h1.1l.6 2.2zm1 0l.5-2.4h1.1l.5 2.4zm1 0l.9-2.5h1.9l.9 2.5zm1 0l.9-1.7h1.8l.9 1.7zm1 0l.9-2.7h1.8l.9 2.7zm1 0l.6-2.9h1l.6 2.9zm2 0l.7-1.8h1.2l.7 1.8zm4 0l.7-2.8h1.2l.7 2.8zm1 0l.4-1.8h.7l.4 1.8zm5 0l.4-2.4h.9l.4 2.4zm3 0l.8-1.8h1.8l.8 1.8zm1 0l.3-2.6h.7l.3 2.6zm1 0l.3-2.5h.8l.3 2.5zm1 0l.6-2.1h1.2l.6 2.1zm1 0l.9-2.1h2.2l.9 2.1zm3 0l.3-2.8h.7l.3 2.8zm3 0l.5-2.8h.9l.5 2.8zm1 0l.3-2.6h.5l.3 2.6zm2 0l.6-2.5h1l.6 2.5zm1 0l.4-2.3h.9l.4 2.3zm2 0l.7-2.1h1.5l.7 2.1zm3 0l.2-1.7h.6l.2 1.7zm1 0l.6-2.7h1.2l.6 2.7zm2 0l.3-2.7h.7l.3 2.7zm2 0l.5-2.8h.8l.5 2.8zm3 0l.3-2.7h.8l.3 2.7zm6 0l.6-2.2h1l.6 2.2zm4 0l.3-2.5h.6l.3 2.5zm1 0l.5-2.6h1l.5 2.6zm8 0l.4-2.6h.9l.4 2.6zm2 0l.6-1.7h1l.6 1.7zm5 0l.4-1.9h.9l.4 1.9zm1 0l.4-2.9h.9l.4 2.9zm3 0l.7-2.1h1.2l.7 2.1zm1 0l.3-1.9h.7l.3 1.9zm1 0l.2-2.4h.6l.2 2.4zm1 0l.8-2h1.5l.8 2zm1 0l.9-2.5h2.6l.9 2.5zm1 0l.6-2.5h1l.6 2.5zm2 0l.5-2.6h.8l.5 2.6zm1 0l.7-2.7h1.5l.7 2.7zm6 0l.5-2.7h.9l.5 2.7zm1 0l.5-2.6h1l.5 2.6zm7 0l.6-2.6h1.1l.6 2.6zm1 0l.8-2.7h1.8l.8 2.7zm1 0l.3-2.2h.8l.3 2.2zm2 0l.9-2.6h1.7l.9 2.6zm2 0l.9-2.4h1.7l.9 2.4zm2 0l.5-2.8h1.1l.5 2.8zm1 0l.5-2.4h.8l.5 2.4zm1 0l.6-2.5h1.3l.6 2.5zm1 0l.4-2.8h.7l.4 2.8zM275.8 108.42m1 0l.9-2.3h2.1l.9 2.3zm2 0l.4-2.6h.8l.4 2.6zm1 0l.7-2.4h1.5l.7 2.4zm1 0l.3-2.9h.8l.3 2.9zm1 0l.7-2.2h1.3l.7 2.2zm2 0l.3-2.9h.8l.3 2.9zm6 0l.9-2.8h1.7l.9 2.8zm1 0l.9-1.8h2.2l.9 1.8zm1 0l.5-2.6h1.1l.5 2.6zm4 0l.6-1.8h1.1l.6 1.8zm15 0l.5-2.5h1.1l.5 2.5zm3 0l.3-2.4h.8l.3 2.4zm4 0l.5-2.8h.8l.5 2.8zm3 0l.6-2.3h1l.6 2.3zm1 0l.3-2.3h.8l.3 2.3zm1 0l.4-1.8h.9l.4 1.8zm4 0l.9-2.3h2.1l.9 2.3zm1 0l.5-2.6h1.1l.5 2.6zm1 0l.6-2.5h1.3l.6 2.5zm1 0l.8-2.1h1.8l.8 2.1zm3 0l.5-2.5h1l.5 2.5zm2 0l.7-1.7h1.2l.7 1.7zm11 0l.6-2.2h1.1l.6 2.2zm1 0l.4-2.3h.7l.4 2.3zm1 0l.8-2.4h1.6l.8 2.4zm1 0l.6-2.4h1.2l.6 2.4zm1 0l.6-2.6h1.1l.6 2.6zm1 0l.8-2.1h1.8l.8 2.1zm1 0l.8-2.6h1.4l.8 2.6zm2 0l.7-2.7h1.3l.7 2.7zm1 0l.6-2.4h1.1l.6 2.4zm1 0l.7-2.5h1.5l.7 2.5zm1 0l.6-2.5h1.3l.6 2.5zm1 0l.9-2.5h1.9l.9 2.5zm1 0l.6-2.3h1.2l.6 2.3zm2 0l.7-2.8h1.3l.7 2.8zm1 0l.5-2.7h.9l.5 2.7zm3 0l.9-2.4h1.7l.9 2.4zm2 0l.9-2h1.7l.9 2zm2 0l.5-2.1h.9l.5 2.1zm1 0l.9-2.6h2l.9 2.6zm1 0l.9-2.5h2.2l.9 2.5zm7 0l.2-2.9h.6l.2 2.9zm5 0l.6-2.9h1l.6 2.9zm3 0l.3-2.9h.5l.3 2.9zm1 0l.2-1.8h.6l.2 1.8zm4 0l.3-2.3h.6l.3 2.3zm4 0l.5-2.7h.8l.5 2.7zm5 0l.3-1.9h.8l.3 1.9zm1 0l.6-2.8h1l.6 2.8zm1 0l.9-2.6h2l.9 2.6zm1 0l.9-2.7h2.4l.9 2.7zm1 0l.6-2.9h1.2l.6 2.9zm3 0l.5-2h.9l.5 2zm1 0l.9-2.6h2.8l.9 2.6zm1 0l.9-2.4h2.3l.9 2.4zm1 0l.4-2.8h.9l.4 2.8zm2 0l.5-2.1h1l.5 2.1zm4 0l.7-2.8h1.3l.7 2.8zm3 0l.4-2.8h.7l.4 2.8zm5 0l.9-2.8h2.1l.9 2.8zm2 0l.2-2.8h.5l.2 2.8zm2 0l.7-2.6h1.5l.7 2.6zm1 0l.8-2.6h1.4l.8 2.6zm1 0l.7-2.4h1.4l.7 2.4zm1 0l.7-2.3h1.2l.7 2.3zm1 0l.4-2.5h.7l.4 2.5zm2 0l.1-2.1h.3l.1 2.1zM275.8 111.31m0 0l.7-2.8h1.5l.7 2.8zm2 0l.2-2.8h.6l.2 2.8zm1 0l.9-2.6h1.9l.9 2.6zm1 0l.9-2.1h2.2l.9 2.1zm1 0l.8-2.2h1.4l.8 2.2zm1 0l.8-2.4h1.7l.8 2.4zm4 0l.3-2.9h.6l.3 2.9zm1 0l.6-2.1h1l.6 2.1zm1 0l.3-2.9h.6l.3 2.9zm1 0l.7-2.6h1.2l.7 2.6zm1 0l.3-1.9h.7l.3 1.9zm2 0l.3-2.2h.6l.3 2.2zm2 0l.4-2.6h.9l.4 2.6zm8 0l.5-2.2h1l.5 2.2zm14 0l.6-2.5h1l.6 2.5zm7 0l.9-2.4h2.6l.9 2.4zm1 0l.9-2.8h2.4l.9 2.8zm1 0l.9-2.1h1.9l.9 2.1zm1 0l.3-1.5h.7l.3 1.5zm1 0l.7-1.9h1.2l.7 1.9zm1 0l.3-2.4h.5l.3 2.4zm4 0l.9-2.6h2.4l.9 2.6zm4 0l.3-2.6h.6l.3 2.6zm3 0l.4-2.6h.9l.4 2.6zm4 0l.5-2.2h.8l.5 2.2zm1 0l.3-2.5h.7l.3 2.5zm1 0l.9-2.4h2.1l.9 2.4zm3 0l.4-2.9h.8l.4 2.9zm1 0l.3-2.6h.7l.3 2.6zm1 0l.9-2.3h2l.9 2.3zm1 0l.9-1.9h2l.9 1.9zm1 0l.8-2.3h1.5l.8 2.3zm3 0l.8-2.6h1.5l.8 2.6zm1 0l.4-2.7h.7l.4 2.7zm3 0l.8-2.3h1.6l.8 2.3zm1 0l.5-2.6h1.1l.5 2.6zm4 0l.7-2.1h1.4l.7 2.1zm2 0l.4-2h.7l.4 2zm2 0l.6-2h1.2l.6 2zm1 0l.2-2.1h.5l.2 2.1zm1 0l.9-2.9h2.1l.9 2.9zm1 0l.5-1.7h1l.5 1.7zm1 0l.8-2.8h1.5l.8 2.8zm3 0l.3-2.2h.6l.3 2.2zm3 0l.3-2.6h.7l.3 2.6zm6 0l.5-1.9h1l.5 1.9zm13 0l.3-2.1h.5l.3 2.1zm4 0l.5-2.6h1.1l.5 2.6zm1 0l.5-2.9h.9l.5 2.9zm2 0l.5-1.6h.8l.5 1.6zm1 0l.3-1.9h.6l.3 1.9zm1 0l.4-2.3h.8l.4 2.3zm1 0l.8-2.8h1.8l.8 2.8zm1 0l.9-2.2h2l.9 2.2zm1 0l.9-2.4h1.7l.9 2.4zm1 0l.3-2.8h.7l.3 2.8zm2 0l.9-2.9h1.7l.9 2.9zm2 0l.3-2.1h.5l.3 2.1zm1 0l.3-2.4h.8l.3 2.4zm2 0l.6-2.4h1l.6 2.4zm3 0l.4-2.8h.7l.4 2.8zm2 0l.7-2h1.2l.7 2zm5 0l.9-2.4h2.1l.9 2.4zm1 0l.7-2h1.3l.7 2zm4 0l.5-2.2h.8l.5 2.2zm1 0l.4-2.7h.7l.4 2.7zM275.8 114.2m0 0l.8-1.8h1.7l.8 1.8zm5 0l.7-2.6h1.3l.7 2.6zm2 0l.9-1.9h1.9l.9 1.9zm2 0l.8-2.1h1.4l.8 2.1zm1 0l.8-2.2h1.5l.8 2.2zm1 0l.7-2.2h1.4l.7 2.2zm1 0l.8-2.8h1.8l.8 2.8zm3 0l.3-2.5h.5l.3 2.5zm21 0l.2-2.1h.6l.2 2.1zm1 0l.6-1.8h1.1l.6 1.8zm9 0l.9-1.9h2.2l.9 1.9zm1 0l.5-2.8h.9l.5 2.8zm1 0l.8-2.8h1.4l.8 2.8zm2 0l.9-2.8h2.1l.9 2.8zm4 0l.5-2.5h.9l.5 2.5zm1 0l.8-1.9h1.6l.8 1.9zm1 0l.6-2.8h1.3l.6 2.8zm4 0l.7-2.6h1.2l.7 2.6zm4 0l.5-2.4h1l.5 2.4zm1 0l.6-2.7h1.3l.6 2.7zm2 0l.3-2.2h.6l.3 2.2zm1 0l.2-2.7h.6l.2 2.7zm1 0l.7-2.2h1.2l.7 2.2zm1 0l.6-2.8h1.1l.6 2.8zm1 0l.5-2.9h.8l.5 2.9zm1 0l.4-1.8h.7l.4 1.8zm1 0l.3-2.5h.5l.3 2.5zm1 0l.4-2.8h.7l.4 2.8zm1 0l.4-2.4h.9l.4 2.4zm1 0l.5-2.6h.8l.5 2.6zm1 0l.5-2.7h1l.5 2.7zm1 0l.5-2.2h.9l.5 2.2zm1 0l.8-2.8h1.6l.8 2.8zm1 0l.2-2.9h.5l.2 2.9zm1 0l.6-2.4h1.2l.6 2.4zm2 0l.9-2.3h1.8l.9 2.3zm1 0l.7-2.8h1.3l.7 2.8zm1 0l.6-2h1.3l.6 2zm2 0l.7-1.6h1.2l.7 1.6zm1 0l.5-2.4h1l.5 2.4zm2 0l.9-2.6h1.7l.9 2.6zm1 0l.8-2.8h1.7l.8 2.8zm3 0l.7-2.2h1.2l.7 2.2zm1 0l.8-2.6h1.6l.8 2.6zm1 0l.8-1.6h1.6l.8 1.6zm10 0l.5-2.4h.8l.5 2.4zm9 0l.3-2.6h.5l.3 2.6zm4 0l.5-2.5h.9l.5 2.5zm7 0l.4-2.5h.9l.4 2.5zm1 0l.6-2.4h1.1l.6 2.4zm1 0l.6-2.6h1.2l.6 2.6zm1 0l.8-2.5h1.8l.8 2.5zm1 0l.6-2.6h1l.6 2.6zm1 0l.8-2.4h1.6l.8 2.4zm1 0l.9-2.6h2.7l.9 2.6zm2 0l.5-2h1l.5 2zm1 0l.3-2.5h.7l.3 2.5zm1 0l.9-2.3h1.7l.9 2.3zm1 0l.3-2.1h.7l.3 2.1zm6 0l.3-2.1h.8l.3 2.1zm3 0l.5-2.6h1.1l.5 2.6zm1 0l.3-2.6h.7l.3 2.6zm3 0l.3-2.2h.7l.3 2.2zm2 0l.6-1.9h1l.6 1.9zm3 0l.9-2.2h1.7l.9 2.2zm1 0l.6-2.3h1.3l.6 2.3zm1 0l.4-2.2h.7l.4 2.2zm1 0l.1-2.7h.3l.1 2.7zM275.8 117.08m0 0l.7-2.7h1.5l.7 2.7zm1 0l.7-2.1h1.3l.7 2.1zm1 0l.7-1.7h1.5l.7 1.7zm1 0l.3-2.5h.7l.3 2.5zm1 0l.7-2.2h1.2l.7 2.2zm1 0l.9-2h1.9l.9 2zm1 0l.3-2.8h.7l.3 2.8zm1 0l.5-2.2h.9l.5 2.2zm2 0l.9-2.8h1.9l.9 2.8zm2 0l.6-2.8h1.3l.6 2.8zm3 0l.6-2.3h1.3l.6 2.3zm1 0l.8-2.7h1.5l.8 2.7zm1 0l.5-2.2h1.1l.5 2.2zm1 0l.8-2.3h1.7l.8 2.3zm1 0l.3-2.8h.7l.3 2.8zm3 0l.6-2.4h1l.6 2.4zm1 0l.3-2.8h.8l.3 2.8zm4 0l.6-2.5h1l.6 2.5zm7 0l.2-2.9h.6l.2 2.9zm5 0l.3-2.9h.5l.3 2.9zm10 0l.7-2.4h1.2l.7 2.4zm1 0l.8-2.4h1.8l.8 2.4zm1 0l.9-2.2h2.3l.9 2.2zm1 0l.5-2.5h.8l.5 2.5zm1 0l.9-2.8h2.3l.9 2.8zm1 0l.7-1.7h1.3l.7 1.7zm1 0l.4-2.3h.9l.4 2.3zm2 0l.3-2.8h.5l.3 2.8zm1 0l.7-2.3h1.2l.7 2.3zm9 0l.3-2.2h.7l.3 2.2zm4 0l.6-2.2h1.2l.6 2.2zm1 0l.9-2.6h1.9l.9 2.6zm1 0l.9-2.4h2.2l.9 2.4zm1 0l.4-2.8h.9l.4 2.8zm2 0l.6-2.1h1.2l.6 2.1zm1 0l.5-2.5h1.1l.5 2.5zm1 0l.4-2.8h.8l.4 2.8zm1 0l.7-1.9h1.4l.7 1.9zm2 0l.3-2.7h.7l.3 2.7zm1 0l.7-2.8h1.4l.7 2.8zm1 0l.5-2h1.1l.5 2zm3 0l.5-2.7h.9l.5 2.7zm2 0l.9-2.5h2.1l.9 2.5zm2 0l.8-2.7h1.6l.8 2.7zm1 0l.6-2.4h1.3l.6 2.4zm2 0l.7-2.8h1.4l.7 2.8zm1 0l.4-2.4h.7l.4 2.4zm1 0l.5-2.8h1l.5 2.8zm2 0l.8-2.5h1.8l.8 2.5zm1 0l.9-2.1h2.2l.9 2.1zm1 0l.4-2.2h.8l.4 2.2zm9 0l.4-2.5h.7l.4 2.5zm4 0l.5-2.7h.9l.5 2.7zm6 0l.5-2.5h.9l.5 2.5zm6 0l.5-1.7h.9l.5 1.7zm3 0l.4-2.7h.7l.4 2.7zm1 0l.2-2.6h.6l.2 2.6zm1 0l.6-2.2h1.1l.6 2.2zm1 0l.9-2.8h2.1l.9 2.8zm1 0l.9-2.3h2.1l.9 2.3zm1 0l.9-2.1h2.1l.9 2.1zm1 0l.9-2.3h2l.9 2.3zm1 0l.7-2.7h1.4l.7 2.7zm1 0l.3-2.5h.7l.3 2.5zm1 0l.3-2.8h.7l.3 2.8zm1 0l.2-2.7h.6l.2 2.7zm1 0l.4-1.6h.7l.4 1.6zm2 0l.6-2.2h1.2l.6 2.2zm2 0l.3-2.4h.8l.3 2.4zm3 0l.4-2.8h.8l.4 2.8zm6 0l.5-2.5h.9l.5 2.5zm1 0l.6-2.5h1l.6 2.5zm1 0l.9-2.3h1.7l.9 2.3zm3 0l.8-2.9h1.5l.8 2.9zm2 0l.4-2.7h.7l.4 2.7zm1 0l.1-2.1h.3l.1 2.1zM275.8 119.97m1 0l.4-1.7h.7l.4 1.7zm1 0l.9-2.8h1.9l.9 2.8zm1 0l.4-2.1h.7l.4 2.1zm1 0l.3-2.4h.6l.3 2.4zm2 0l.4-2.8h.9l.4 2.8zm3 0l.7-2.3h1.3l.7 2.3zm3 0l.7-2.7h1.2l.7 2.7zm5 0l.9-2.5h1.7l.9 2.5zm1 0l.6-2.7h1.3l.6 2.7zm6 0l.5-2.8h1l.5 2.8zm4 0l.3-2.8h.5l.3 2.8zm9 0l.5-2.9h.9l.5 2.9zm11 0l.3-2.8h.5l.3 2.8zm3 0l.9-2.8h2.3l.9 2.8zm1 0l.9-1.9h1.8l.9 1.9zm1 0l.8-2.3h1.4l.8 2.3zm2 0l.3-1.7h.7l.3 1.7zm1 0l.2-2.3h.6l.2 2.3zm2 0l.8-2.2h1.5l.8 2.2zm2 0l.3-2.2h.5l.3 2.2zm6 0l.3-2.3h.7l.3 2.3zm4 0l.5-2.1h1.1l.5 2.1zm1 0l.5-2h1l.5 2zm1 0l.7-1.6h1.3l.7 1.6zm4 0l.6-2.5h1.3l.6 2.5zm2 0l.2-2.8h.5l.2 2.8zm1 0l.4-2.7h.9l.4 2.7zm1 0l.7-1.5h1.4l.7 1.5zm1 0l.7-2.7h1.4l.7 2.7zm1 0l.4-2.8h.8l.4 2.8zm4 0l.8-2.8h1.4l.8 2.8zm1 0l.3-2.2h.8l.3 2.2zm1 0l.7-2.5h1.2l.7 2.5zm1 0l.9-1.6h1.8l.9 1.6zm1 0l.5-2.7h.8l.5 2.7zm1 0l.9-2.9h1.9l.9 2.9zm3 0l.2-2.8h.6l.2 2.8zm4 0l.2-2.1h.6l.2 2.1zm2 0l.5-2.8h1.1l.5 2.8zm4 0l.5-2.9h.9l.5 2.9zm2 0l.4-2.9h.8l.4 2.9zm7 0l.6-2.5h1l.6 2.5zm8 0l.4-2.6h.9l.4 2.6zm8 0l.9-2.2h2.8l.9 2.2zm1 0l.8-2.5h1.7l.8 2.5zm2 0l.8-2.2h1.5l.8 2.2zm1 0l.3-1.8h.7l.3 1.8zm1 0l.5-2.7h1l.5 2.7zm1 0l.8-2.8h1.8l.8 2.8zm2 0l.9-1.8h2.6l.9 1.8zm1 0l.5-2.2h1.1l.5 2.2zm11 0l.2-2.3h.5l.2 2.3zm2 0l.4-2.2h.7l.4 2.2zm1 0l.9-1.9h2.3l.9 1.9zm4 0l.6-2.8h1.3l.6 2.8zm1 0l.4-2.6h.7l.4 2.6zM275.8 122.86m0 0l.6-2.3h1.1l.6 2.3zm1 0l.4-2.1h.9l.4 2.1zm1 0l.9-1.6h2.1l.9 1.6zm1 0l.8-2.5h1.5l.8 2.5zm1 0l.6-2.7h1.2l.6 2.7zm1 0l.9-1.8h1.9l.9 1.8zm1 0l.6-2.9h1l.6 2.9zm1 0l.2-2.5h.5l.2 2.5zm3 0l.9-2.5h2l.9 2.5zm1 0l.9-2.8h1.9l.9 2.8zm1 0l.8-2.6h1.8l.8 2.6zm1 0l.7-2.3h1.5l.7 2.3zm2 0l.8-2.9h1.4l.8 2.9zm1 0l.5-2.1h1.1l.5 2.1zm6 0l.4-2.8h.9l.4 2.8zm23 0l.5-2.7h1l.5 2.7zm4 0l.8-2.6h1.7l.8 2.6zm1 0l.4-2.1h.8l.4 2.1zm1 0l.7-2.8h1.5l.7 2.8zm1 0l.7-2.2h1.3l.7 2.2zm1 0l.3-2.8h.6l.3 2.8zm1 0l.7-2.2h1.4l.7 2.2zm1 0l.3-2.7h.5l.3 2.7zm1 0l.6-2.3h1l.6 2.3zm3 0l.9-2.8h2.2l.9 2.8zm7 0l.3-2.3h.5l.3 2.3zm1 0l.6-2.3h1l.6 2.3zm1 0l.7-1.8h1.2l.7 1.8zm2 0l.3-2.7h.6l.3 2.7zm3 0l.9-2.4h2l.9 2.4zm1 0l.7-2.4h1.3l.7 2.4zm2 0l.8-2.1h1.7l.8 2.1zm1 0l.3-2.5h.6l.3 2.5zm2 0l.5-2.5h.9l.5 2.5zm2 0l.7-2.8h1.5l.7 2.8zm2 0l.9-1.9h2.2l.9 1.9zm1 0l.9-2.9h2l.9 2.9zm1 0l.4-2.6h.7l.4 2.6zm3 0l.3-1.9h.6l.3 1.9zm2 0l.9-2.1h1.7l.9 2.1zm2 0l.9-2.9h1.7l.9 2.9zm5 0l.3-2.6h.5l.3 2.6zm1 0l.6-2.8h1.2l.6 2.8zm1 0l.9-2.4h2l.9 2.4zm3 0l.3-2.8h.8l.3 2.8zm17 0l.3-2.7h.7l.3 2.7zm4 0l.3-2.6h.8l.3 2.6zm5 0l.9-2.5h2l.9 2.5zm1 0l.3-2.4h.5l.3 2.4zm1 0l.9-2.7h1.7l.9 2.7zm1 0l.8-1.9h1.8l.8 1.9zm1 0l.4-2.6h.8l.4 2.6zm1 0l.6-2.5h1.2l.6 2.5zm1 0l.8-2.8h1.6l.8 2.8zm1 0l.3-2h.5l.3 2zm1 0l.9-2.5h1.7l.9 2.5zm1 0l.3-2.3h.6l.3 2.3zm1 0l.5-2.6h1.1l.5 2.6zm1 0l.9-2.1h2l.9 2.1zm1 0l.3-2.9h.7l.3 2.9zm4 0l.6-2.6h1.2l.6 2.6zm3 0l.7-1.7h1.3l.7 1.7zm1 0l.5-2.2h1.1l.5 2.2zm4 0l.5-1.9h.9l.5 1.9zm1 0l.7-1.6h1.4l.7 1.6zm3 0l.6-1.8h1.3l.6 1.8zm1 0l.4-2.5h.7l.4 2.5zM275.8 125.74m0 0l.5-2.7h1.1l.5 2.7zm2 0l.8-2.4h1.7l.8 2.4zm1 0l.3-2.8h.7l.3 2.8zm1 0l.5-2.3h1l.5 2.3zm1 0l.6-2.6h1.1l.6 2.6zm1 0l.9-2.4h1.9l.9 2.4zm1 0l.7-2.6h1.3l.7 2.6zm1 0l.9-2.8h1.9l.9 2.8zm1 0l.5-2.8h1.1l.5 2.8zm1 0l.7-2.7h1.2l.7 2.7zm2 0l.5-2.6h1.1l.5 2.6zm1 0l.6-2.4h1.2l.6 2.4zm2 0l.9-2.6h1.7l.9 2.6zm3 0l.7-2.6h1.3l.7 2.6zm5 0l.3-2.7h.8l.3 2.7zm2 0l.3-2.5h.8l.3 2.5zm21 0l.5-2.1h.9l.5 2.1zm3 0l.9-2h1.7l.9 2zm1 0l.8-1.7h1.8l.8 1.7zm4 0l.4-2.8h.8l.4 2.8zm3 0l.5-2.6h.8l.5 2.6zm1 0l.6-1.9h1.1l.6 1.9zm1 0l.3-2.2h.5l.3 2.2zm1 0l.9-2.6h2.6l.9 2.6zm2 0l.3-2.2h.5l.3 2.2zm4 0l.5-2.6h.9l.5 2.6zm2 0l.6-2.5h1.2l.6 2.5zm2 0l.7-2.5h1.2l.7 2.5zm3 0l.3-2.3h.7l.3 2.3zm1 0l.6-2.8h1.3l.6 2.8zm1 0l.9-2.2h2l.9 2.2zm1 0l.7-2.8h1.5l.7 2.8zm2 0l.9-2.9h1.9l.9 2.9zm1 0l.3-1.6h.6l.3 1.6zm1 0l.4-2.3h.7l.4 2.3zm2 0l.9-2.2h2.2l.9 2.2zm1 0l.4-2.6h.9l.4 2.6zm2 0l.6-1.9h1l.6 1.9zm3 0l.5-2.8h1l.5 2.8zm2 0l.8-2.3h1.6l.8 2.3zm1 0l.2-1.9h.5l.2 1.9zm1 0l.2-2.9h.6l.2 2.9zm2 0l.6-1.9h1.1l.6 1.9zm3 0l.9-2.6h2.2l.9 2.6zm1 0l.3-2.9h.8l.3 2.9zm1 0l.9-2.6h2l.9 2.6zm2 0l.3-2.6h.5l.3 2.6zm6 0l.4-2.9h.7l.4 2.9zm5 0l.3-2.6h.6l.3 2.6zm10 0l.6-2.8h1l.6 2.8zm8 0l.9-2.5h1.9l.9 2.5zm1 0l.9-2h2.2l.9 2zm1 0l.9-2h2.6l.9 2zm1 0l.7-2.8h1.5l.7 2.8zm1 0l.4-2.8h.8l.4 2.8zm1 0l.9-2.1h2.1l.9 2.1zm2 0l.6-2.6h1.2l.6 2.6zm1 0l.6-2.7h1.1l.6 2.7zm1 0l.9-2.3h2l.9 2.3zm1 0l.4-2h.7l.4 2zm4 0l.6-1.9h1.2l.6 1.9zm2 0l.6-2.1h1l.6 2.1zm4 0l.4-2.6h.7l.4 2.6zm3 0l.8-2.4h1.5l.8 2.4zm2 0l.5-2.4h.9l.5 2.4zm3 0l.1-2.3h.3l.1 2.3zM275.8 128.63m1 0l.4-2.7h.7l.4 2.7zm1 0l.6-2.5h1.3l.6 2.5zm3 0l.6-2.4h1l.6 2.4zm2 0l.6-1.7h1.2l.6 1.7zm1 0l.8-2h1.7l.8 2zm2 0l.9-2h2l.9 2zm2 0l.7-2.9h1.3l.7 2.9zm1 0l.3-2.6h.6l.3 2.6zm2 0l.6-1.9h1.1l.6 1.9zm4 0l.5-1.7h.8l.5 1.7zm10 0l.4-2.2h.9l.4 2.2zm5 0l.3-2.6h.5l.3 2.6zm2 0l.3-1.8h.7l.3 1.8zm2 0l.5-2.5h.8l.5 2.5zm4 0l.3-2.5h.7l.3 2.5zm9 0l.5-2.5h.9l.5 2.5zm2 0l.7-1.9h1.2l.7 1.9zm1 0l.5-2.9h1.1l.5 2.9zm1 0l.8-2.9h1.6l.8 2.9zm1 0l.9-2.8h2.5l.9 2.8zm2 0l.9-2.5h2.5l.9 2.5zm2 0l.9-2.8h2.4l.9 2.8zm1 0l.9-2.2h2.1l.9 2.2zm2 0l.6-2.1h1.1l.6 2.1zm2 0l.4-2.9h.7l.4 2.9zm2 0l.7-2.5h1.2l.7 2.5zm3 0l.4-2.8h.9l.4 2.8zm1 0l.3-2.8h.7l.3 2.8zm2 0l.9-2.8h2l.9 2.8zm2 0l.4-1.7h.8l.4 1.7zm2 0l.9-1.8h2.2l.9 1.8zm1 0l.3-2.4h.8l.3 2.4zm2 0l.2-2.2h.6l.2 2.2zm1 0l.8-2.8h1.4l.8 2.8zm2 0l.9-2.3h2l.9 2.3zm1 0l.6-2.7h1l.6 2.7zm6 0l.4-2.4h.7l.4 2.4zm7 0l.8-2.7h1.6l.8 2.7zm1 0l.9-2.7h1.9l.9 2.7zm1 0l.6-2.7h1l.6 2.7zm2 0l.5-2.4h.9l.5 2.4zm5 0l.5-1.8h.9l.5 1.8zm4 0l.3-2.7h.5l.3 2.7zm4 0l.5-2h.8l.5 2zm12 0l.2-1.7h.5l.2 1.7zm3 0l.3-2.8h.7l.3 2.8zm2 0l.5-2.1h.9l.5 2.1zm1 0l.7-2.3h1.2l.7 2.3zm1 0l.9-2.6h2.2l.9 2.6zm1 0l.9-2.1h1.8l.9 2.1zm1 0l.9-2.7h2.2l.9 2.7zm1 0l.9-2.5h2.2l.9 2.5zm3 0l.9-2.2h2l.9 2.2zm1 0l.6-1.8h1.2l.6 1.8zm3 0l.3-2.6h.5l.3 2.6zm4 0l.5-1.8h.9l.5 1.8zm4 0l.2-2.7h.6l.2 2.7zm3 0l.3-2.3h.6l.3 2.3zm1 0l.6-2.3h1.3l.6 2.3zm1 0l.3-1.9h.6l.3 1.9zM275.8 131.52m1 0l.9-2.4h2l.9 2.4zm1 0l.5-2.7h1.1l.5 2.7zm3 0l.6-2.4h1.3l.6 2.4zm4 0l.8-2.5h1.5l.8 2.5zm1 0l.4-2.8h.9l.4 2.8zm1 0l.6-2.8h1.2l.6 2.8zm2 0l.4-2.7h.9l.4 2.7zm2 0l.8-2h1.8l.8 2zm1 0l.3-2.3h.7l.3 2.3zm1 0l.3-2.2h.8l.3 2.2zm3 0l.8-2.5h1.4l.8 2.5zm1 0l.8-2.3h1.8l.8 2.3zm2 0l.3-2.3h.5l.3 2.3zm2 0l.6-2.5h1l.6 2.5zm7 0l.2-2.4h.6l.2 2.4zm1 0l.4-2.2h.7l.4 2.2zm5 0l.2-2.3h.6l.2 2.3zm4 0l.3-2.8h.7l.3 2.8zm6 0l.4-1.7h.7l.4 1.7zm2 0l.5-2.2h.9l.5 2.2zm1 0l.8-2h1.8l.8 2zm1 0l.9-2.3h2.4l.9 2.3zm1 0l.7-2.7h1.4l.7 2.7zm3 0l.9-2.7h2l.9 2.7zm1 0l.9-2.8h1.8l.9 2.8zm1 0l.4-1.7h.8l.4 1.7zm1 0l.5-2.5h.8l.5 2.5zm1 0l.9-1.9h2.3l.9 1.9zm5 0l.4-2.7h.9l.4 2.7zm3 0l.3-2.4h.7l.3 2.4zm2 0l.3-1.7h.8l.3 1.7zm1 0l.7-2.3h1.2l.7 2.3zm1 0l.6-1.9h1.3l.6 1.9zm1 0l.4-1.8h.7l.4 1.8zm1 0l.4-2.7h.8l.4 2.7zm3 0l.7-2.6h1.5l.7 2.6zm4 0l.5-2.6h.9l.5 2.6zm1 0l.2-2.8h.5l.2 2.8zm1 0l.3-2.8h.6l.3 2.8zm1 0l.9-1.7h1.9l.9 1.7zm2 0l.5-2.4h1.1l.5 2.4zm1 0l.7-1.8h1.3l.7 1.8zm8 0l.7-2.7h1.3l.7 2.7zm1 0l.8-1.9h1.6l.8 1.9zm1 0l.3-2.8h.6l.3 2.8zm1 0l.2-2.3h.6l.2 2.3zm2 0l.9-2.6h1.9l.9 2.6zm1 0l.9-1.5h2.1l.9 1.5zm3 0l.3-2.5h.8l.3 2.5zm5 0l.3-2.5h.7l.3 2.5zm6 0l.5-1.7h.9l.5 1.7zm1 0l.3-2.1h.8l.3 2.1zm10 0l.3-1.9h.8l.3 1.9zm5 0l.9-1.8h2.2l.9 1.8zm1 0l.7-2.6h1.3l.7 2.6zm2 0l.9-2.5h2.2l.9 2.5zm1 0l.9-2.6h2.1l.9 2.6zm2 0l.9-1.8h2l.9 1.8zm1 0l.5-2.6h.9l.5 2.6zm1 0l.5-2.6h.8l.5 2.6zm1 0l.4-2.3h.7l.4 2.3zm8 0l.5-2.4h1.1l.5 2.4zm1 0l.7-2.7h1.2l.7 2.7zm5 0l.5-2.1h1.1l.5 2.1zm2 0l.6-2.3h1.3l.6 2.3zm1 0l.2-2h.6l.2 2zm1 0l.1-1.9h.3l.1 1.9zM275.8 134.41m0 0l.7-2.5h1.5l.7 2.5zm1 0l.9-2.7h2.2l.9 2.7zm1 0l.2-2.7h.6l.2 2.7zm2 0l.6-2.6h1.3l.6 2.6zm1 0l.3-2.5h.5l.3 2.5zm1 0l.3-2.7h.6l.3 2.7zm1 0l.9-2.8h1.9l.9 2.8zm2 0l.4-1.7h.8l.4 1.7zm1 0l.8-2.1h1.5l.8 2.1zm1 0l.7-2.7h1.4l.7 2.7zm3 0l.7-2.8h1.3l.7 2.8zm2 0l.4-2.4h.9l.4 2.4zm2 0l.8-2.2h1.7l.8 2.2zm2 0l.8-2.9h1.6l.8 2.9zm1 0l.2-2.8h.6l.2 2.8zm6 0l.4-2.3h.8l.4 2.3zm1 0l.5-2.7h.9l.5 2.7zm10 0l.3-2.9h.8l.3 2.9zm7 0l.5-2.6h.8l.5 2.6zm2 0l.6-2.7h1.1l.6 2.7zm1 0l.6-2.7h1l.6 2.7zm4 0l.8-2.1h1.5l.8 2.1zm1 0l.9-2.8h1.7l.9 2.8zm2 0l.9-1.7h2.6l.9 1.7zm1 0l.3-2.6h.6l.3 2.6zm2 0l.3-2.6h.6l.3 2.6zm1 0l.7-2.5h1.4l.7 2.5zm1 0l.9-2.8h2.4l.9 2.8zm2 0l.7-2.5h1.3l.7 2.5zm12 0l.7-1.9h1.2l.7 1.9zm1 0l.5-1.8h1l.5 1.8zm1 0l.3-1.6h.6l.3 1.6zm1 0l.6-2.7h1l.6 2.7zm1 0l.5-2.1h.9l.5 2.1zm1 0l.4-1.8h.9l.4 1.8zm2 0l.4-2.3h.9l.4 2.3zm1 0l.3-2.4h.8l.3 2.4zm1 0l.2-2.6h.6l.2 2.6zm2 0l.3-2.3h.8l.3 2.3zm1 0l.3-2h.8l.3 2zm1 0l.3-1.7h.7l.3 1.7zm2 0l.5-2h.8l.5 2zm1 0l.7-2.8h1.3l.7 2.8zm1 0l.9-2.3h1.9l.9 2.3zm1 0l.8-2.2h1.6l.8 2.2zm1 0l.6-2.8h1.1l.6 2.8zm2 0l.9-2.6h2.1l.9 2.6zm1 0l.2-1.7h.6l.2 1.7zm1 0l.5-2.8h1l.5 2.8zm7 0l.2-2.4h.6l.2 2.4zm7 0l.2-2.2h.5l.2 2.2zm8 0l.3-2.2h.5l.3 2.2zm8 0l.6-2.1h1.1l.6 2.1zm1 0l.6-2.2h1.1l.6 2.2zm3 0l.6-1.8h1l.6 1.8zm1 0l.6-2.8h1l.6 2.8zm1 0l.9-2.4h2.4l.9 2.4zm1 0l.4-2.4h.9l.4 2.4zm1 0l.7-2.8h1.4l.7 2.8zm1 0l.9-2.4h1.7l.9 2.4zm1 0l.5-1.9h.8l.5 1.9zm4 0l.3-2.1h.8l.3 2.1zm1 0l.4-1.9h.8l.4 1.9zm5 0l.3-2.8h.5l.3 2.8zm1 0l.7-1.8h1.2l.7 1.8zm1 0l.3-2.7h.6l.3 2.7zm4 0l.3-2.4h.5l.3 2.4zm1 0l.6-2.5h1.3l.6 2.5zm1 0l.8-2.7h1.4l.8 2.7zM275.8 137.29m0 0l.4-2.1h.8l.4 2.1zm1 0l.9-2.7h2.2l.9 2.7zm1 0l.9-1.8h1.8l.9 1.8zm1 0l.5-2.2h1l.5 2.2zm1 0l.8-2.6h1.5l.8 2.6zm2 0l.8-2.2h1.5l.8 2.2zm2 0l.8-2.1h1.7l.8 2.1zm1 0l.8-2.6h1.4l.8 2.6zm1 0l.6-2.3h1.2l.6 2.3zm1 0l.6-2.7h1.3l.6 2.7zm1 0l.6-2.5h1.1l.6 2.5zm1 0l.7-2.7h1.2l.7 2.7zm1 0l.8-2.5h1.6l.8 2.5zm2 0l.5-2.1h1l.5 2.1zm1 0l.9-1.8h2.2l.9 1.8zm1 0l.5-2.6h1.1l.5 2.6zm1 0l.6-2.8h1.2l.6 2.8zm2 0l.9-2.3h2l.9 2.3zm3 0l.3-2.7h.6l.3 2.7zm7 0l.4-2.1h.7l.4 2.1zm13 0l.2-2.7h.5l.2 2.7zm1 0l.2-2.7h.6l.2 2.7zm7 0l.6-2.3h1.1l.6 2.3zm3 0l.7-2h1.3l.7 2zm1 0l.6-1.7h1.1l.6 1.7zm1 0l.7-2.9h1.3l.7 2.9zm1 0l.9-2.3h2.1l.9 2.3zm3 0l.9-2.8h1.9l.9 2.8zm1 0l.3-2.3h.8l.3 2.3zm3 0l.2-2.6h.5l.2 2.6zm4 0l.5-2.7h.9l.5 2.7zm11 0l.6-2.2h1l.6 2.2zm1 0l.8-2.2h1.7l.8 2.2zm1 0l.7-2.7h1.3l.7 2.7zm2 0l.8-2.4h1.4l.8 2.4zm2 0l.8-2.3h1.5l.8 2.3zm1 0l.5-1.8h1.1l.5 1.8zm2 0l.9-2.7h1.8l.9 2.7zm1 0l.7-1.9h1.4l.7 1.9zm1 0l.4-2.8h.9l.4 2.8zm1 0l.4-2.3h.8l.4 2.3zm2 0l.6-2.1h1.2l.6 2.1zm1 0l.3-2.2h.7l.3 2.2zm1 0l.9-2.4h2l.9 2.4zm1 0l.4-2.4h.8l.4 2.4zm1 0l.4-2.6h.7l.4 2.6zm2 0l.6-2h1.2l.6 2zm3 0l.5-2.8h.9l.5 2.8zm1 0l.2-2.2h.6l.2 2.2zm2 0l.2-2.6h.6l.2 2.6zm5 0l.6-2.7h1.1l.6 2.7zm8 0l.3-2.6h.7l.3 2.6zm1 0l.5-2.8h1.1l.5 2.8zm1 0l.5-2.3h1l.5 2.3zm1 0l.6-2.6h1.1l.6 2.6zm10 0l.7-2.8h1.4l.7 2.8zm3 0l.5-2.5h1l.5 2.5zm1 0l.9-2.8h2.2l.9 2.8zm1 0l.5-2.1h1.1l.5 2.1zm1 0l.9-2.8h2.5l.9 2.8zm1 0l.5-2.1h.9l.5 2.1zm1 0l.4-1.5h.8l.4 1.5zm1 0l.8-1.8h1.8l.8 1.8zm1 0l.5-1.6h.9l.5 1.6zm1 0l.8-2.3h1.7l.8 2.3zm6 0l.4-2.7h.7l.4 2.7zm1 0l.2-2.7h.6l.2 2.7zm2 0l.2-2.7h.6l.2 2.7zm1 0l.5-2.4h1.1l.5 2.4zm2 0l.5-1.9h1.1l.5 1.9zm1 0l.6-2.5h1.3l.6 2.5zm2 0l.1-2.5h.3l.1 2.5zM275.8 140.18m1 0l.7-2.5h1.2l.7 2.5zm1 0l.3-2.4h.8l.3 2.4zm3 0l.8-2.7h1.6l.8 2.7zm1 0l.5-2.6h.9l.5 2.6zm1 0l.6-2h1l.6 2zm1 0l.6-2.8h1.3l.6 2.8zm1 0l.3-2h.6l.3 2zm3 0l.9-2.5h1.7l.9 2.5zm3 0l.8-2.8h1.8l.8 2.8zm1 0l.9-2.7h2l.9 2.7zm1 0l.9-2.1h2l.9 2.1zm1 0l.8-2h1.8l.8 2zm1 0l.6-2.5h1.3l.6 2.5zm2 0l.9-1.5h2l.9 1.5zm1 0l.3-1.7h.5l.3 1.7zm1 0l.8-2.1h1.5l.8 2.1zm3 0l.6-2.6h1l.6 2.6zm5 0l.3-2.5h.7l.3 2.5zm10 0l.3-2.6h.7l.3 2.6zm5 0l.6-2.2h1.1l.6 2.2zm1 0l.3-2.5h.8l.3 2.5zm3 0l.4-2.3h.8l.4 2.3zm4 0l.9-2.4h2l.9 2.4zm1 0l.6-2.9h1.3l.6 2.9zm2 0l.9-2.1h2.4l.9 2.1zm1 0l.4-2.3h.9l.4 2.3zm1 0l.8-2.8h1.8l.8 2.8zm1 0l.9-2.7h2.5l.9 2.7zm1 0l.9-2.5h2.2l.9 2.5zm3 0l.9-2.3h1.7l.9 2.3zm4 0l.3-2.3h.5l.3 2.3zm1 0l.5-2.7h.9l.5 2.7zm1 0l.6-2.2h1.1l.6 2.2zm3 0l.6-1.8h1l.6 1.8zm4 0l.6-2.4h1.2l.6 2.4zm3 0l.7-2.7h1.2l.7 2.7zm2 0l.9-2.7h1.9l.9 2.7zm3 0l.6-1.8h1.2l.6 1.8zm2 0l.8-2.5h1.8l.8 2.5zm2 0l.4-2.2h.9l.4 2.2zm1 0l.9-1.9h2l.9 1.9zm3 0l.8-1.8h1.5l.8 1.8zm1 0l.6-2.6h1.3l.6 2.6zm1 0l.7-2.6h1.5l.7 2.6zm1 0l.3-2.7h.8l.3 2.7zm1 0l.3-1.9h.7l.3 1.9zm5 0l.4-2.5h.9l.4 2.5zm1 0l.5-2.1h1.1l.5 2.1zm1 0l.2-2.9h.6l.2 2.9zm1 0l.6-2.7h1.1l.6 2.7zm12 0l.3-2.6h.8l.3 2.6zm2 0l.5-2.4h.9l.5 2.4zm3 0l.3-2.5h.7l.3 2.5zm11 0l.8-2.7h1.4l.8 2.7zm1 0l.9-2.2h1.8l.9 2.2zm2 0l.7-2.5h1.4l.7 2.5zm1 0l.9-2.7h1.9l.9 2.7zm2 0l.5-2.6h.8l.5 2.6zm1 0l.9-2.5h2l.9 2.5zm1 0l.9-2.1h2.2l.9 2.1zm1 0l.6-1.9h1.2l.6 1.9zm1 0l.9-2.5h2.5l.9 2.5zm1 0l.9-2.7h2.8l.9 2.7zm2 0l.4-2.5h.9l.4 2.5zm2 0l.7-1.6h1.3l.7 1.6zm4 0l.7-2.8h1.2l.7 2.8zm3 0l.5-2.8h1.1l.5 2.8zm1 0l.6-2.4h1.3l.6 2.4zM275.8 143.07m1 0l.6-2h1.2l.6 2zm2 0l.9-2.6h1.8l.9 2.6zm1 0l.5-1.9h1.1l.5 1.9zm1 0l.9-2.1h2l.9 2.1zm3 0l.6-2.2h1.2l.6 2.2zm1 0l.8-2.8h1.7l.8 2.8zm3 0l.7-2h1.2l.7 2zm1 0l.6-2.2h1l.6 2.2zm1 0l.2-2.4h.5l.2 2.4zm3 0l.9-1.8h1.9l.9 1.8zm1 0l.9-2.7h2l.9 2.7zm2 0l.8-2.6h1.8l.8 2.6zm1 0l.2-2.4h.6l.2 2.4zm1 0l.8-2.5h1.6l.8 2.5zm1 0l.9-2.8h2.1l.9 2.8zm1 0l.8-2.5h1.8l.8 2.5zm4 0l.4-2.3h.9l.4 2.3zm2 0l.5-2.3h.8l.5 2.3zm2 0l.4-2.7h.7l.4 2.7zm6 0l.3-2.3h.5l.3 2.3zm9 0l.5-2.7h.9l.5 2.7zm1 0l.6-2.4h1.1l.6 2.4zm1 0l.3-2.1h.8l.3 2.1zm5 0l.8-1.9h1.6l.8 1.9zm1 0l.7-2.5h1.5l.7 2.5zm1 0l.5-2.3h.9l.5 2.3zm3 0l.9-2.8h2.1l.9 2.8zm1 0l.6-2.3h1.3l.6 2.3zm1 0l.8-2.8h1.5l.8 2.8zm1 0l.9-2.7h2l.9 2.7zm1 0l.4-2.7h.8l.4 2.7zm3 0l.5-2.5h.8l.5 2.5zm1 0l.4-2.6h.8l.4 2.6zm14 0l.7-2.1h1.4l.7 2.1zm6 0l.6-2.4h1l.6 2.4zm3 0l.6-2.2h1.2l.6 2.2zm2 0l.6-2.8h1l.6 2.8zm1 0l.6-1.8h1.1l.6 1.8zm1 0l.7-1.9h1.5l.7 1.9zm4 0l.4-2.5h.7l.4 2.5zm3 0l.6-2.5h1.2l.6 2.5zm2 0l.8-2.8h1.6l.8 2.8zm1 0l.6-2.7h1.1l.6 2.7zm6 0l.2-2.4h.6l.2 2.4zm13 0l.2-2.8h.6l.2 2.8zm1 0l.3-2.7h.7l.3 2.7zm6 0l.6-2.4h1l.6 2.4zm1 0l.5-2.1h.8l.5 2.1zm2 0l.5-2.5h1l.5 2.5zm2 0l.7-2.8h1.2l.7 2.8zm2 0l.6-1.8h1.1l.6 1.8zm1 0l.9-2.6h2.2l.9 2.6zm1 0l.2-2.8h.6l.2 2.8zm1 0l.9-2.2h1.9l.9 2.2zm2 0l.7-2.6h1.4l.7 2.6zm1 0l.9-2.7h1.7l.9 2.7zm1 0l.3-2.7h.6l.3 2.7zm1 0l.2-2.4h.6l.2 2.4zm10 0l.3-1.9h.7l.3 1.9zm2 0l.4-2.6h.7l.4 2.6zm1 0l.1-2.3h.3l.1 2.3zM275.8 145.95m0 0l.8-2.2h1.4l.8 2.2zm1 0l.8-2.5h1.5l.8 2.5zm3 0l.4-2h.7l.4 2zm2 0l.6-2.8h1.3l.6 2.8zm3 0l.3-1.8h.6l.3 1.8zm1 0l.7-2.1h1.4l.7 2.1zm1 0l.9-2.9h1.8l.9 2.9zm2 0l.7-2.5h1.2l.7 2.5zm3 0l.9-2.4h2l.9 2.4zm1 0l.4-2.3h.9l.4 2.3zm1 0l.9-2.8h2.1l.9 2.8zm4 0l.5-2.3h.9l.5 2.3zm2 0l.8-2.9h1.4l.8 2.9zm1 0l.7-2.5h1.2l.7 2.5zm16 0l.6-2.5h1.1l.6 2.5zm13 0l.3-2.2h.6l.3 2.2zm1 0l.6-2.4h1.1l.6 2.4zm1 0l.4-1.5h.9l.4 1.5zm1 0l.4-2.9h.8l.4 2.9zm1 0l.6-1.8h1.2l.6 1.8zm3 0l.8-1.9h1.5l.8 1.9zm3 0l.5-2.5h.9l.5 2.5zm1 0l.7-2.5h1.3l.7 2.5zm2 0l.2-2.8h.6l.2 2.8zm2 0l.4-1.9h.8l.4 1.9zm1 0l.3-2.8h.5l.3 2.8zm1 0l.5-1.6h.9l.5 1.6zm2 0l.5-2.7h1l.5 2.7zm2 0l.4-2.3h.8l.4 2.3zm1 0l.2-2.4h.5l.2 2.4zm2 0l.2-2.3h.6l.2 2.3zm1 0l.9-2.4h1.8l.9 2.4zm1 0l.3-2.3h.6l.3 2.3zm2 0l.5-2.7h.8l.5 2.7zm2 0l.6-1.5h1.3l.6 1.5zm1 0l.2-2.4h.5l.2 2.4zm1 0l.4-1.9h.7l.4 1.9zm1 0l.6-2h1.3l.6 2zm1 0l.5-2.4h1.1l.5 2.4zm1 0l.8-2.5h1.8l.8 2.5zm2 0l.9-2.8h2.1l.9 2.8zm1 0l.9-2.9h1.8l.9 2.9zm2 0l.8-1.7h1.4l.8 1.7zm3 0l.7-2.3h1.4l.7 2.3zm1 0l.3-1.8h.7l.3 1.8zm1 0l.7-2.4h1.3l.7 2.4zm1 0l.7-2.9h1.5l.7 2.9zm1 0l.5-2.7h.9l.5 2.7zm2 0l.7-1.7h1.4l.7 1.7zm1 0l.3-2.9h.7l.3 2.9zm4 0l.5-2.7h.8l.5 2.7zm2 0l.5-1.7h.9l.5 1.7zm15 0l.3-2.4h.7l.3 2.4zm5 0l.3-2.8h.5l.3 2.8zm5 0l.9-2.8h2.1l.9 2.8zm1 0l.9-2.6h2.2l.9 2.6zm1 0l.7-2.8h1.3l.7 2.8zm1 0l.9-2h2.5l.9 2zm1 0l.3-2h.7l.3 2zm1 0l.6-2h1.2l.6 2zm1 0l.7-1.8h1.2l.7 1.8zm1 0l.5-2.2h1l.5 2.2zm2 0l.6-2.3h1l.6 2.3zm1 0l.8-2.4h1.5l.8 2.4zm2 0l.7-2.2h1.2l.7 2.2zm4 0l.4-2.6h.8l.4 2.6zm3 0l.6-2.7h1.3l.6 2.7zm1 0l.3-1.6h.8l.3 1.6zM275.8 148.84m0 0l.7-2.6h1.5l.7 2.6zm1 0l.3-1.8h.8l.3 1.8zm3 0l.3-2.5h.7l.3 2.5zm3 0l.2-2.4h.6l.2 2.4zm1 0l.8-2.6h1.7l.8 2.6zm1 0l.3-2.1h.7l.3 2.1zm1 0l.8-1.7h1.6l.8 1.7zm1 0l.9-2.4h2l.9 2.4zm1 0l.7-2.5h1.3l.7 2.5zm1 0l.5-2.4h.9l.5 2.4zm1 0l.5-2.8h1l.5 2.8zm2 0l.7-2h1.3l.7 2zm2 0l.3-1.8h.6l.3 1.8zm1 0l.5-2.4h.8l.5 2.4zm2 0l.7-2.3h1.3l.7 2.3zm3 0l.4-2.3h.8l.4 2.3zm1 0l.6-2.8h1l.6 2.8zm1 0l.3-2.9h.8l.3 2.9zm1 0l.5-2.1h1.1l.5 2.1zm2 0l.3-1.8h.7l.3 1.8zm4 0l.6-2.8h1l.6 2.8zm1 0l.4-2.5h.7l.4 2.5zm1 0l.6-2.7h1l.6 2.7zm1 0l.5-2.5h.9l.5 2.5zm5 0l.5-2.3h1l.5 2.3zm11 0l.3-2.8h.6l.3 2.8zm4 0l.9-1.9h1.7l.9 1.9zm2 0l.8-1.7h1.7l.8 1.7zm1 0l.3-2.6h.8l.3 2.6zm1 0l.5-2.4h.8l.5 2.4zm1 0l.3-2.7h.7l.3 2.7zm1 0l.7-2.8h1.3l.7 2.8zm1 0l.9-2.7h2.7l.9 2.7zm1 0l.5-2.9h.8l.5 2.9zm2 0l.6-2h1.1l.6 2zm3 0l.6-2.2h1l.6 2.2zm4 0l.4-2.6h.8l.4 2.6zm1 0l.7-2.7h1.3l.7 2.7zm4 0l.3-2.2h.8l.3 2.2zm1 0l.8-2.4h1.7l.8 2.4zm3 0l.9-2.8h2l.9 2.8zm1 0l.7-2h1.5l.7 2zm2 0l.3-2.7h.7l.3 2.7zm6 0l.4-2.2h.7l.4 2.2zm3 0l.6-2.7h1l.6 2.7zm1 0l.6-2.1h1l.6 2.1zm2 0l.9-2.7h1.9l.9 2.7zm4 0l.7-2.6h1.3l.7 2.6zm3 0l.7-2.1h1.2l.7 2.1zm1 0l.9-2.6h1.7l.9 2.6zm3 0l.5-2.8h.8l.5 2.8zm4 0l.5-2.6h1.1l.5 2.6zm7 0l.4-2.2h.7l.4 2.2zm2 0l.4-1.9h.7l.4 1.9zm12 0l.6-2.3h1.1l.6 2.3zm2 0l.2-2.2h.6l.2 2.2zm1 0l.8-2.4h1.4l.8 2.4zm1 0l.9-2h2.6l.9 2zm1 0l.9-2.6h2.2l.9 2.6zm1 0l.5-2.6h1.1l.5 2.6zm2 0l.8-2.8h1.7l.8 2.8zm1 0l.8-1.7h1.5l.8 1.7zm1 0l.9-2.4h2l.9 2.4zm1 0l.9-2.4h2.6l.9 2.4zm1 0l.2-2.6h.6l.2 2.6zm1 0l.6-2.2h1l.6 2.2zm1 0l.5-2.8h1.1l.5 2.8zm5 0l.6-2.7h1l.6 2.7zm1 0l.6-2.9h1.2l.6 2.9zM275.8 151.73m0 0l.2-2.1h.6l.2 2.1zm1 0l.4-2.8h.8l.4 2.8zm2 0l.9-2.1h2l.9 2.1zm1 0l.7-2.8h1.3l.7 2.8zm2 0l.6-2.7h1.1l.6 2.7zm1 0l.9-2.2h1.8l.9 2.2zm1 0l.5-2.2h1.1l.5 2.2zm1 0l.6-1.6h1.3l.6 1.6zm1 0l.3-2.8h.7l.3 2.8zm3 0l.9-2.5h1.8l.9 2.5zm2 0l.3-1.7h.5l.3 1.7zm1 0l.9-2.3h2l.9 2.3zm2 0l.7-2.8h1.3l.7 2.8zm1 0l.8-2.8h1.5l.8 2.8zm1 0l.9-2.7h1.8l.9 2.7zm1 0l.6-2h1.3l.6 2zm2 0l.8-2.7h1.5l.8 2.7zm1 0l.2-2.8h.6l.2 2.8zm1 0l.6-2.1h1.3l.6 2.1zm1 0l.4-2.7h.7l.4 2.7zm14 0l.2-2.5h.6l.2 2.5zm1 0l.6-2.2h1.1l.6 2.2zm1 0l.3-2.7h.5l.3 2.7zm4 0l.3-2.8h.6l.3 2.8zm9 0l.5-2.2h.9l.5 2.2zm1 0l.6-2.1h1l.6 2.1zm1 0l.8-2.8h1.4l.8 2.8zm1 0l.9-2.8h1.7l.9 2.8zm1 0l.5-2.1h1.1l.5 2.1zm1 0l.8-2.7h1.8l.8 2.7zm1 0l.2-2.1h.6l.2 2.1zm1 0l.9-2.8h2.6l.9 2.8zm1 0l.7-2.1h1.3l.7 2.1zm3 0l.9-2.5h2.8l.9 2.5zm2 0l.5-2.8h.8l.5 2.8zm3 0l.2-2.4h.5l.2 2.4zm1 0l.6-2.8h1l.6 2.8zm4 0l.3-1.6h.8l.3 1.6zm2 0l.6-2.6h1.2l.6 2.6zm1 0l.8-2.1h1.6l.8 2.1zm3 0l.8-2.2h1.8l.8 2.2zm1 0l.7-2.6h1.5l.7 2.6zm1 0l.5-2.5h1l.5 2.5zm1 0l.5-2.5h1.1l.5 2.5zm1 0l.7-2.8h1.4l.7 2.8zm1 0l.9-2.9h1.9l.9 2.9zm4 0l.3-2.3h.7l.3 2.3zm2 0l.8-2.7h1.8l.8 2.7zm1 0l.7-2.4h1.5l.7 2.4zm1 0l.6-2.6h1l.6 2.6zm1 0l.4-2.5h.9l.4 2.5zm1 0l.4-2.8h.8l.4 2.8zm1 0l.4-2.5h.9l.4 2.5zm4 0l.5-2.3h1l.5 2.3zm2 0l.2-2.4h.6l.2 2.4zm1 0l.6-2.8h1l.6 2.8zm1 0l.9-2.4h1.8l.9 2.4zm1 0l.4-2.6h.8l.4 2.6zm6 0l.6-2.4h1l.6 2.4zm2 0l.4-1.9h.8l.4 1.9zm17 0l.5-2.2h1l.5 2.2zm5 0l.9-2.4h2.1l.9 2.4zm2 0l.9-2.2h2.2l.9 2.2zm1 0l.9-2.1h2l.9 2.1zm1 0l.5-2.8h.9l.5 2.8zm1 0l.8-2.2h1.8l.8 2.2zm1 0l.3-2.8h.7l.3 2.8zm1 0l.4-2.5h.7l.4 2.5zm2 0l.3-2.7h.8l.3 2.7zm1 0l.9-2.3h1.8l.9 2.3zm2 0l.3-2.7h.8l.3 2.7zm2 0l.4-2.8h.9l.4 2.8zm3 0l.5-2.9h.9l.5 2.9zM275.8 154.61m0 0l.5-2.9h.9l.5 2.9zm1 0l.9-2.6h1.7l.9 2.6zm1 0l.3-2.9h.5l.3 2.9zm1 0l.5-2.7h1.1l.5 2.7zm1 0l.4-1.8h.7l.4 1.8zm1 0l.3-2.5h.8l.3 2.5zm3 0l.8-2.8h1.4l.8 2.8zm1 0l.6-2.7h1l.6 2.7zm1 0l.5-2.6h1l.5 2.6zm1 0l.9-2.5h2.2l.9 2.5zm1 0l.7-2.4h1.3l.7 2.4zm1 0l.7-2.2h1.5l.7 2.2zm2 0l.9-2.6h1.7l.9 2.6zm1 0l.9-2.7h2l.9 2.7zm1 0l.5-2.6h1l.5 2.6zm1 0l.9-2.4h2l.9 2.4zm3 0l.7-2.4h1.4l.7 2.4zm1 0l.9-2.5h1.8l.9 2.5zm2 0l.3-2.8h.7l.3 2.8zm3 0l.9-2.4h1.7l.9 2.4zm6 0l.3-2h.8l.3 2zm4 0l.4-2.1h.9l.4 2.1zm1 0l.3-2.7h.5l.3 2.7zm16 0l.6-2.8h1l.6 2.8zm3 0l.9-2.6h2.6l.9 2.6zm1 0l.8-2.8h1.5l.8 2.8zm1 0l.7-2.4h1.5l.7 2.4zm1 0l.4-2.6h.9l.4 2.6zm1 0l.3-1.9h.6l.3 1.9zm1 0l.9-1.7h1.9l.9 1.7zm3 0l.2-2.9h.5l.2 2.9zm1 0l.9-1.7h2.5l.9 1.7zm2 0l.4-2.8h.8l.4 2.8zm3 0l.2-2.7h.6l.2 2.7zm5 0l.3-2.8h.8l.3 2.8zm1 0l.2-2.5h.6l.2 2.5zm4 0l.7-2.4h1.3l.7 2.4zm1 0l.3-2.6h.8l.3 2.6zm2 0l.8-2.6h1.5l.8 2.6zm2 0l.5-2.3h1l.5 2.3zm2 0l.6-2.3h1l.6 2.3zm2 0l.4-2.4h.9l.4 2.4zm3 0l.7-1.8h1.2l.7 1.8zm3 0l.2-2.4h.6l.2 2.4zm2 0l.9-1.8h1.9l.9 1.8zm1 0l.9-1.8h1.7l.9 1.8zm2 0l.9-2h2.2l.9 2zm1 0l.3-2h.8l.3 2zm5 0l.8-2.1h1.5l.8 2.1zm9 0l.5-2.9h1.1l.5 2.9zm15 0l.6-2.2h1.1l.6 2.2zm7 0l.9-2.2h2.3l.9 2.2zm3 0l.5-2.6h1l.5 2.6zm1 0l.2-2h.6l.2 2zm3 0l.9-2.8h2.5l.9 2.8zm2 0l.9-2.4h2.7l.9 2.4zm4 0l.7-2.9h1.2l.7 2.9zm2 0l.6-2.1h1l.6 2.1zm4 0l.4-2.7h.7l.4 2.7zM275.8 157.5m2 0l.8-1.6h1.7l.8 1.6zm1 0l.3-2.6h.6l.3 2.6zm2 0l.6-2.7h1.2l.6 2.7zm1 0l.4-1.7h.8l.4 1.7zm1 0l.2-2h.6l.2 2zm3 0l.6-2.4h1.1l.6 2.4zm1 0l.4-2.2h.8l.4 2.2zm3 0l.3-2.4h.8l.3 2.4zm1 0l.4-2h.9l.4 2zm1 0l.9-2.9h2.1l.9 2.9zm1 0l.9-2.2h1.8l.9 2.2zm1 0l.3-2.1h.8l.3 2.1zm1 0l.5-2.3h.9l.5 2.3zm2 0l.9-1.8h1.9l.9 1.8zm3 0l.8-2h1.7l.8 2zm1 0l.6-2.8h1l.6 2.8zm1 0l.7-2.7h1.4l.7 2.7zm1 0l.9-2.4h1.9l.9 2.4zm14 0l.2-1.7h.5l.2 1.7zm5 0l.4-2.1h.9l.4 2.1zm2 0l.4-2.3h.9l.4 2.3zm3 0l.2-2.5h.6l.2 2.5zm7 0l.9-2.4h2.2l.9 2.4zm1 0l.4-2.7h.8l.4 2.7zm1 0l.9-2.4h2.1l.9 2.4zm2 0l.9-2.1h2l.9 2.1zm5 0l.3-2.2h.6l.3 2.2zm2 0l.7-2.5h1.3l.7 2.5zm4 0l.3-2.8h.7l.3 2.8zm1 0l.4-2.8h.8l.4 2.8zm7 0l.3-2.8h.7l.3 2.8zm3 0l.9-2.4h2.2l.9 2.4zm1 0l.9-2.5h1.7l.9 2.5zm1 0l.9-2.2h1.7l.9 2.2zm1 0l.6-2.8h1.2l.6 2.8zm3 0l.5-2.7h.8l.5 2.7zm1 0l.9-2.6h1.8l.9 2.6zm1 0l.7-2.8h1.4l.7 2.8zm1 0l.3-2.7h.6l.3 2.7zm3 0l.4-2.6h.9l.4 2.6zm1 0l.8-1.8h1.6l.8 1.8zm1 0l.9-2.8h1.8l.9 2.8zm1 0l.7-2.7h1.2l.7 2.7zm1 0l.5-2.8h.9l.5 2.8zm1 0l.8-2.3h1.8l.8 2.3zm1 0l.9-2.4h2l.9 2.4zm3 0l.9-2.1h1.7l.9 2.1zm9 0l.2-2.1h.5l.2 2.1zm10 0l.4-2.5h.7l.4 2.5zm2 0l.5-2.8h1.1l.5 2.8zm5 0l.3-2.3h.5l.3 2.3zm7 0l.9-1.5h2.3l.9 1.5zm1 0l.6-2.6h1l.6 2.6zm2 0l.3-2.8h.6l.3 2.8zm1 0l.3-2.7h.7l.3 2.7zm1 0l.7-2.8h1.4l.7 2.8zm3 0l.9-2.8h2.4l.9 2.8zm1 0l.9-2.4h2.1l.9 2.4zm1 0l.4-2.8h.7l.4 2.8zm1 0l.3-2.8h.7l.3 2.8zm1 0l.4-2.9h.8l.4 2.9zm1 0l.4-1.8h.8l.4 1.8zm3 0l.4-2.7h.8l.4 2.7zm1 0l.3-2.5h.7l.3 2.5z" stroke="none" stroke-width="1" fill="#000"/>
<line x1="275.8" y1="84.93" x2="434.3" y2="84.93" stroke="#111" stroke-width="0.7"/>
<line x1="275.8" y1="102.25" x2="434.3" y2="102.25" stroke="#111" stroke-width="0.7"/>
<line x1="275.8" y1="113.8" x2="434.3" y2="113.8" stroke="#111" stroke-width="0.7"/>
<line x1="275.8" y1="122.46" x2="434.3" y2="122.46" stroke="#111" stroke-width="0.7"/>
<line x1="275.8" y1="134.01" x2="434.3" y2="134.01" stroke="#111" stroke-width="0.7"/>
<line x1="275.8" y1="142.67" x2="434.3" y2="142.67" stroke="#111" stroke-width="0.7"/>
<line x1="398" y1="78.9" x2="418.4" y2="156.8" stroke="#e8262b" stroke-width="2.2"/>
<rect x="275.8" y="42" width="39.62" height="5.6" fill="#ffffff" stroke="#9a9a9a" stroke-width="0.8"/>
<rect x="355.05" y="42" width="39.62" height="5.6" fill="#ffffff" stroke="#9a9a9a" stroke-width="0.8"/>
<rect x="315.43" y="42" width="39.62" height="5.6" fill="#231815"/>
<rect x="394.68" y="42" width="39.62" height="5.6" fill="#231815"/>
<line x1="275.8" y1="39.5" x2="275.8" y2="42" stroke="#555" stroke-width="0.8"/>
<text x="275.8" y="38.6" font-size="11.5" text-anchor="middle">0</text>
<line x1="315.43" y1="39.5" x2="315.43" y2="42" stroke="#555" stroke-width="0.8"/>
<text x="315.43" y="38.6" font-size="11.5" text-anchor="middle">12</text>
<line x1="355.05" y1="39.5" x2="355.05" y2="42" stroke="#555" stroke-width="0.8"/>
<text x="355.05" y="38.6" font-size="11.5" text-anchor="middle">0</text>
<line x1="394.68" y1="39.5" x2="394.68" y2="42" stroke="#555" stroke-width="0.8"/>
<text x="394.68" y="38.6" font-size="11.5" text-anchor="middle">12</text>
<line x1="434.3" y1="39.5" x2="434.3" y2="42" stroke="#555" stroke-width="0.8"/>
<text x="434.3" y="38.6" font-size="11.5" text-anchor="middle">0</text>
<text x="354.85" y="28.4" font-size="13" text-anchor="middle">Time (h)</text>
<text x="272.6" y="51" font-size="12" text-anchor="end">1</text>
<line x1="273.8" y1="46.7" x2="275.8" y2="46.7" stroke="#555" stroke-width="0.7"/>
<text x="272.6" y="70.5" font-size="12" text-anchor="end">7</text>
<line x1="273.8" y1="66.2" x2="275.8" y2="66.2" stroke="#555" stroke-width="0.7"/>
<text x="272.6" y="91.3" font-size="12" text-anchor="end">14</text>
<line x1="273.8" y1="87" x2="275.8" y2="87" stroke="#555" stroke-width="0.7"/>
<text x="272.6" y="112" font-size="12" text-anchor="end">21</text>
<line x1="273.8" y1="107.7" x2="275.8" y2="107.7" stroke="#555" stroke-width="0.7"/>
<text x="272.6" y="132.2" font-size="12" text-anchor="end">28</text>
<line x1="273.8" y1="127.9" x2="275.8" y2="127.9" stroke="#555" stroke-width="0.7"/>
<text x="272.6" y="152.5" font-size="12" text-anchor="end">35</text>
<line x1="273.8" y1="148.2" x2="275.8" y2="148.2" stroke="#555" stroke-width="0.7"/>
<text x="0" y="0" font-size="12.5" text-anchor="middle" transform="translate(255.2 99.25) rotate(-90)">Days</text>
<path d="M435.8 48.5H439.3V66.9H435.8" stroke="#3a3a3a" stroke-width="1" fill="none"/>
<path d="M435.8 69.6H439.3V156H435.8" stroke="#3a3a3a" stroke-width="1" fill="none"/>
<text x="440.9" y="62.6" font-size="12.4">LD</text>
<text x="440.9" y="119.1" font-size="12.4">DD</text>
<rect x="52.5" y="216.8" width="158.5" height="109.7" fill="#cfcfcf"/>
<rect x="52.5" y="216.8" width="39.62" height="23.09" fill="#ffffff"/>
<rect x="131.75" y="216.8" width="39.62" height="23.09" fill="#ffffff"/>
<path d="M52.5 219.69m2 0l.3-2h.7l.3 2zm3 0l.3-2.4h.7l.3 2.4zm2 0l.2-2h.5l.2 2zm4 0l.6-2.8h1.3l.6 2.8zm4 0l.4-2.8h.7l.4 2.8zm3 0l.6-2.6h1.2l.6 2.6zm1 0l.5-2.1h.8l.5 2.1zm1 0l.5-2.4h.9l.5 2.4zm3 0l.3-2.1h.8l.3 2.1zm1 0l.4-2.6h.8l.4 2.6zm3 0l.2-2.7h.6l.2 2.7zm4 0l.6-2.8h1.3l.6 2.8zm7 0l.4-2h.8l.4 2zm1 0l.6-2.1h1l.6 2.1zm1 0l.3-2.5h.6l.3 2.5zm1 0l.7-2.4h1.5l.7 2.4zm1 0l.6-1.5h1l.6 1.5zm1 0l.9-2.2h2.8l.9 2.2zm1 0l.5-1.8h.9l.5 1.8zm1 0l.7-2.8h1.2l.7 2.8zm1 0l.2-2.5h.5l.2 2.5zm1 0l.9-2.4h2.7l.9 2.4zm1 0l.8-1.7h1.8l.8 1.7zm2 0l.9-2.6h1.8l.9 2.6zm1 0l.9-2.6h2.3l.9 2.6zm1 0l.6-2.2h1l.6 2.2zm1 0l.4-1.7h.9l.4 1.7zm1 0l.4-2.7h.9l.4 2.7zm1 0l.5-2.7h1.1l.5 2.7zm6 0l.3-2.3h.7l.3 2.3zm1 0l.2-2.3h.6l.2 2.3zm2 0l.9-2.5h2.6l.9 2.5zm3 0l.7-1.5h1.4l.7 1.5zm2 0l.3-2.3h.8l.3 2.3zm5 0l.6-2.6h1.3l.6 2.6zm2 0l.3-2.5h.5l.3 2.5zm3 0l.4-1.8h.7l.4 1.8zm6 0l.6-2.7h1.1l.6 2.7zm1 0l.3-2.9h.5l.3 2.9zm1 0l.5-2.7h.8l.5 2.7zm1 0l.5-1.7h.8l.5 1.7zm2 0l.7-2.8h1.3l.7 2.8zm3 0l.5-2.4h.8l.5 2.4zm3 0l.5-2.5h.8l.5 2.5zm2 0l.3-2.6h.7l.3 2.6zm3 0l.6-2.7h1.3l.6 2.7zm2 0l.7-2.8h1.4l.7 2.8zm2 0l.3-2.5h.6l.3 2.5zm1 0l.7-2.5h1.3l.7 2.5zm1 0l.5-2.5h1.1l.5 2.5zm3 0l.3-2.7h.7l.3 2.7zm2 0l.6-2.8h1.2l.6 2.8zm4 0l.5-2h1.1l.5 2zm3 0l.8-2.7h1.6l.8 2.7zm1 0l.9-2.7h2.4l.9 2.7zm1 0l.7-2.4h1.4l.7 2.4zm1 0l.9-2.9h2.6l.9 2.9zm1 0l.6-2.8h1l.6 2.8zm1 0l.8-1.8h1.8l.8 1.8zm1 0l.7-2.7h1.3l.7 2.7zm2 0l.7-2.5h1.2l.7 2.5zm1 0l.9-2.1h1.9l.9 2.1zm1 0l.3-2.2h.8l.3 2.2zm1 0l.9-2.8h2.7l.9 2.8zm1 0l.5-2.9h1l.5 2.9zm1 0l.3-2h.6l.3 2zm1 0l.3-2.1h.5l.3 2.1zm1 0l.3-2.6h.6l.3 2.6zm1 0l.2-2.5h.6l.2 2.5zm4 0l.3-2.6h.6l.3 2.6zm2 0l.6-2.7h1.2l.6 2.7zm1 0l.6-2.2h1.2l.6 2.2zm1 0l.5-2.5h.9l.5 2.5zm1 0l.9-2.7h2.3l.9 2.7zm1 0l.3-2h.6l.3 2zm3 0l.4-1.9h.9l.4 1.9zm1 0l.6-2.7h1.3l.6 2.7zm1 0l.7-2.7h1.5l.7 2.7zm1 0l.4-2.3h.9l.4 2.3zm2 0l.3-2.7h.6l.3 2.7zm1 0l.9-2.4h2l.9 2.4zm1 0l.3-2.5h.6l.3 2.5zm1 0l.3-2.8h.8l.3 2.8zM52.5 222.57m6 0l.4-2.7h.8l.4 2.7zm9 0l.5-2.2h1l.5 2.2zm2 0l.7-2.3h1.3l.7 2.3zm2 0l.7-2.7h1.2l.7 2.7zm8 0l.7-2.9h1.2l.7 2.9zm4 0l.5-2.7h.9l.5 2.7zm1 0l.6-1.9h1l.6 1.9zm7 0l.6-2.5h1.1l.6 2.5zm1 0l.5-2.9h1l.5 2.9zm1 0l.8-2.6h1.8l.8 2.6zm1 0l.5-1.9h.8l.5 1.9zm1 0l.9-2.5h1.8l.9 2.5zm1 0l.4-1.8h.8l.4 1.8zm1 0l.2-2.7h.6l.2 2.7zm1 0l.9-2.9h2.4l.9 2.9zm1 0l.3-2.6h.8l.3 2.6zm1 0l.4-2.2h.8l.4 2.2zm2 0l.9-1.8h1.7l.9 1.8zm1 0l.9-2h1.8l.9 2zm1 0l.8-2.2h1.6l.8 2.2zm4 0l.6-2.7h1.3l.6 2.7zm1 0l.5-2.2h.8l.5 2.2zm2 0l.5-2.7h1.1l.5 2.7zm3 0l.6-2h1.1l.6 2zm1 0l.9-1.8h2.2l.9 1.8zm1 0l.9-2.3h2.3l.9 2.3zm1 0l.8-2.8h1.5l.8 2.8zm1 0l.4-2.8h.7l.4 2.8zm3 0l.9-2.7h2.5l.9 2.7zm3 0l.9-2.9h2.2l.9 2.9zm1 0l.4-1.8h.7l.4 1.8zm1 0l.8-2.2h1.4l.8 2.2zm1 0l.9-2.1h2l.9 2.1zm2 0l.4-2.2h.9l.4 2.2zm4 0l.3-2.6h.7l.3 2.6zm1 0l.6-2.8h1l.6 2.8zm1 0l.2-2.3h.5l.2 2.3zm3 0l.7-2.9h1.3l.7 2.9zm1 0l.2-2.7h.6l.2 2.7zm3 0l.5-1.9h.9l.5 1.9zm1 0l.7-2.1h1.4l.7 2.1zm3 0l.5-2.7h1.1l.5 2.7zm2 0l.7-2.7h1.4l.7 2.7zm1 0l.3-2.8h.8l.3 2.8zm1 0l.5-2.5h.8l.5 2.5zm4 0l.3-2.3h.5l.3 2.3zm1 0l.3-2.6h.6l.3 2.6zm1 0l.4-2.5h.9l.4 2.5zm5 0l.3-2.6h.6l.3 2.6zm1 0l.5-2h.8l.5 2zm6 0l.3-2.8h.5l.3 2.8zm2 0l.7-2.7h1.2l.7 2.7zm2 0l.6-2.5h1.2l.6 2.5zm1 0l.4-2.8h.9l.4 2.8zm1 0l.7-2.3h1.2l.7 2.3zm1 0l.4-2.8h.8l.4 2.8zm1 0l.9-2.2h2.7l.9 2.2zm2 0l.5-2.3h.9l.5 2.3zm1 0l.3-2.1h.6l.3 2.1zm2 0l.5-2.5h.9l.5 2.5zm1 0l.2-2.5h.6l.2 2.5zm1 0l.7-2.4h1.2l.7 2.4zm1 0l.2-2.1h.6l.2 2.1zm1 0l.5-2.7h.8l.5 2.7zm2 0l.3-2.7h.6l.3 2.7zm3 0l.4-2.4h.9l.4 2.4zm4 0l.7-2.8h1.5l.7 2.8zm1 0l.7-2.4h1.2l.7 2.4zm2 0l.6-2.7h1.3l.6 2.7zm1 0l.9-2.8h2.1l.9 2.8zm1 0l.7-2.3h1.4l.7 2.3zm1 0l.5-2.8h.9l.5 2.8zm1 0l.7-2.1h1.5l.7 2.1zm3 0l.5-2.8h.9l.5 2.8zm1 0l.6-1.8h1.1l.6 1.8zm1 0l.7-2.8h1.2l.7 2.8zm3 0l.4-2.4h.7l.4 2.4zm1 0l.1-2.2h.3l.1 2.2zM52.5 225.46m0 0l.6-2.5h1.2l.6 2.5zm2 0l.7-1.9h1.4l.7 1.9zm2 0l.5-2.2h.9l.5 2.2zm7 0l.3-2.6h.6l.3 2.6zm6 0l.4-2h.7l.4 2zm4 0l.5-1.9h.8l.5 1.9zm10 0l.4-2h.9l.4 2zm2 0l.7-2.6h1.2l.7 2.6zm6 0l.4-2.5h.8l.4 2.5zm1 0l.9-2.3h1.9l.9 2.3zm2 0l.9-2.7h2.8l.9 2.7zm1 0l.5-1.8h1.1l.5 1.8zm2 0l.9-2.8h1.7l.9 2.8zm1 0l.6-2.2h1.2l.6 2.2zm1 0l.9-2.5h2.2l.9 2.5zm2 0l.3-2.4h.5l.3 2.4zm1 0l.9-2.4h1.8l.9 2.4zm1 0l.8-2.6h1.8l.8 2.6zm1 0l.3-2.6h.5l.3 2.6zm1 0l.9-2.6h2.3l.9 2.6zm2 0l.5-2h.8l.5 2zm3 0l.4-2.5h.7l.4 2.5zm6 0l.9-2.9h2.4l.9 2.9zm1 0l.3-2.5h.6l.3 2.5zm1 0l.9-1.7h2.6l.9 1.7zm1 0l.9-2.4h2.5l.9 2.4zm1 0l.6-1.7h1.2l.6 1.7zm1 0l.7-2.5h1.5l.7 2.5zm2 0l.5-1.9h1l.5 1.9zm1 0l.8-2h1.5l.8 2zm1 0l.9-2.8h2.4l.9 2.8zm1 0l.4-2.5h.9l.4 2.5zm1 0l.8-2.5h1.8l.8 2.5zm3 0l.3-1.8h.5l.3 1.8zm1 0l.6-2.6h1.3l.6 2.6zm4 0l.7-1.8h1.2l.7 1.8zm1 0l.3-2.8h.8l.3 2.8zm10 0l.7-2.8h1.4l.7 2.8zm1 0l.3-2.2h.5l.3 2.2zm2 0l.7-2.6h1.4l.7 2.6zm1 0l.5-2.9h.9l.5 2.9zm6 0l.5-2.5h1l.5 2.5zm1 0l.2-2.4h.5l.2 2.4zm2 0l.3-2.7h.8l.3 2.7zm1 0l.4-2.6h.7l.4 2.6zm5 0l.7-2.1h1.3l.7 2.1zm1 0l.5-2.6h.9l.5 2.6zm1 0l.5-2.7h1l.5 2.7zm4 0l.9-2.8h1.8l.9 2.8zm1 0l.3-1.6h.7l.3 1.6zm1 0l.8-2.5h1.4l.8 2.5zm2 0l.4-2.2h.9l.4 2.2zm2 0l.3-2.9h.7l.3 2.9zm1 0l.9-2.5h2.7l.9 2.5zm1 0l.3-2h.5l.3 2zm1 0l.8-2.5h1.8l.8 2.5zm1 0l.5-2.9h1.1l.5 2.9zm2 0l.9-2.2h1.8l.9 2.2zm5 0l.3-2.2h.6l.3 2.2zm6 0l.9-2.3h2.6l.9 2.3zm1 0l.3-2.3h.8l.3 2.3zm1 0l.5-2.7h1l.5 2.7zm1 0l.8-2.6h1.7l.8 2.6zm5 0l.2-2.2h.6l.2 2.2zm2 0l.3-1.9h.8l.3 1.9zm1 0l.4-2.5h.8l.4 2.5zm1 0l.8-2.8h1.6l.8 2.8zm1 0l.2-2.3h.6l.2 2.3zM52.5 228.35m2 0l.5-2.1h.9l.5 2.1zm1 0l.4-2.7h.7l.4 2.7zm3 0l.2-2.2h.6l.2 2.2zm2 0l.5-2.5h1l.5 2.5zm3 0l.7-2.6h1.2l.7 2.6zm2 0l.6-1.7h1l.6 1.7zm1 0l.7-2.5h1.3l.7 2.5zm8 0l.2-2.8h.6l.2 2.8zm7 0l.2-2.6h.5l.2 2.6zm6 0l.5-2.8h1.1l.5 2.8zm1 0l.6-2.7h1l.6 2.7zm3 0l.3-2.4h.5l.3 2.4zm1 0l.7-2.6h1.4l.7 2.6zm1 0l.7-2.7h1.4l.7 2.7zm1 0l.8-2.5h1.4l.8 2.5zm3 0l.9-2.6h1.9l.9 2.6zm1 0l.5-2.9h1l.5 2.9zm1 0l.3-2.4h.7l.3 2.4zm1 0l.9-2.6h1.8l.9 2.6zm2 0l.3-2.7h.6l.3 2.7zm1 0l.8-2.3h1.4l.8 2.3zm1 0l.9-2.5h2.4l.9 2.5zm1 0l.9-2.7h2.7l.9 2.7zm2 0l.5-2.1h1.1l.5 2.1zm1 0l.3-2.6h.8l.3 2.6zm3 0l.5-2.6h.9l.5 2.6zm1 0l.3-2.8h.5l.3 2.8zm3 0l.5-2.2h.8l.5 2.2zm1 0l.8-1.8h1.5l.8 1.8zm1 0l.9-2h2.1l.9 2zm2 0l.7-2.8h1.3l.7 2.8zm1 0l.2-2.1h.6l.2 2.1zm1 0l.8-2.5h1.8l.8 2.5zm1 0l.9-2.6h1.9l.9 2.6zm1 0l.3-2.3h.5l.3 2.3zm1 0l.8-2.6h1.7l.8 2.6zm3 0l.9-1.7h2.5l.9 1.7zm3 0l.4-2.8h.9l.4 2.8zm1 0l.2-2.7h.5l.2 2.7zm2 0l.2-2.4h.5l.2 2.4zm2 0l.6-2.8h1l.6 2.8zm4 0l.7-2.6h1.3l.7 2.6zm1 0l.6-2.7h1.1l.6 2.7zm14 0l.6-2.5h1.3l.6 2.5zm2 0l.5-2.8h1l.5 2.8zm2 0l.7-2.5h1.2l.7 2.5zm3 0l.6-2.5h1.3l.6 2.5zm1 0l.5-2.8h.9l.5 2.8zm2 0l.5-2.6h.9l.5 2.6zm1 0l.6-2.7h1.3l.6 2.7zm4 0l.6-2.7h1.3l.6 2.7zm2 0l.9-2.5h1.7l.9 2.5zm1 0l.9-2.2h2.7l.9 2.2zm2 0l.5-2.3h1l.5 2.3zm3 0l.5-2.2h1l.5 2.2zm1 0l.9-2h2l.9 2zm2 0l.4-1.8h.7l.4 1.8zm5 0l.5-2.5h1l.5 2.5zm3 0l.6-2.4h1l.6 2.4zm3 0l.4-2.1h.9l.4 2.1zm1 0l.6-2.4h1.1l.6 2.4zm2 0l.9-2.3h2.1l.9 2.3zm2 0l.3-2.2h.7l.3 2.2zm1 0l.8-2h1.5l.8 2zm2 0l.6-2.1h1l.6 2.1zm1 0l.5-1.9h1.1l.5 1.9zm1 0l.9-2.2h2.4l.9 2.2zm1 0l.5-2.4h.8l.5 2.4zm2 0l.5-2h1.1l.5 2zm1 0l.8-2h1.8l.8 2zm1 0l.3-2.3h.6l.3 2.3zm2 0l.6-2.3h1.3l.6 2.3zM52.5 231.23m5 0l.6-2.8h1.2l.6 2.8zm4 0l.6-2.8h1.3l.6 2.8zm3 0l.4-2.7h.7l.4 2.7zm2 0l.3-2.6h.6l.3 2.6zm2 0l.7-2.2h1.3l.7 2.2zm2 0l.6-2.4h1.3l.6 2.4zm4 0l.7-2.6h1.3l.7 2.6zm4 0l.5-2.7h1l.5 2.7zm2 0l.5-2.8h1l.5 2.8zm1 0l.5-2.8h1.1l.5 2.8zm4 0l.2-2.6h.5l.2 2.6zm4 0l.6-2.9h1.1l.6 2.9zm3 0l.5-2.9h1l.5 2.9zm5 0l.8-2.7h1.4l.8 2.7zm2 0l.8-2.8h1.4l.8 2.8zm1 0l.4-2.1h.9l.4 2.1zm1 0l.3-2.4h.6l.3 2.4zm2 0l.8-2h1.4l.8 2zm2 0l.8-2.3h1.6l.8 2.3zm5 0l.4-2.4h.8l.4 2.4zm2 0l.7-2.6h1.3l.7 2.6zm3 0l.4-2.6h.8l.4 2.6zm1 0l.5-2h.9l.5 2zm1 0l.9-2.3h2l.9 2.3zm1 0l.9-2.7h2.6l.9 2.7zm1 0l.8-2.6h1.6l.8 2.6zm2 0l.9-1.7h2.1l.9 1.7zm1 0l.5-2.9h1.1l.5 2.9zm4 0l.3-2.7h.7l.3 2.7zm1 0l.6-2.6h1.3l.6 2.6zm2 0l.6-2.8h1.3l.6 2.8zm1 0l.3-2.9h.7l.3 2.9zm4 0l.6-2.3h1l.6 2.3zm2 0l.2-2.9h.6l.2 2.9zm2 0l.6-2.2h1.2l.6 2.2zm1 0l.4-2.1h.9l.4 2.1zm4 0l.6-2.3h1.3l.6 2.3zm9 0l.5-2.4h.8l.5 2.4zm6 0l.2-1.7h.6l.2 1.7zm1 0l.6-2.8h1.1l.6 2.8zm4 0l.5-2.5h1l.5 2.5zm6 0l.6-2h1.1l.6 2zm2 0l.7-2.1h1.2l.7 2.1zm1 0l.8-1.8h1.4l.8 1.8zm3 0l.2-2h.6l.2 2zm1 0l.7-2.4h1.2l.7 2.4zm1 0l.4-2.7h.9l.4 2.7zm1 0l.6-2.7h1.1l.6 2.7zm2 0l.9-2.6h2.8l.9 2.6zm1 0l.8-2.4h1.5l.8 2.4zm1 0l.6-2.4h1.3l.6 2.4zm1 0l.9-2.8h2l.9 2.8zm1 0l.9-2.2h2.4l.9 2.2zm3 0l.5-2.8h.9l.5 2.8zm1 0l.7-2.7h1.2l.7 2.7zm1 0l.3-2.6h.7l.3 2.6zm5 0l.9-2.2h2l.9 2.2zm2 0l.9-2.6h2.4l.9 2.6zm2 0l.4-2.1h.7l.4 2.1zm2 0l.9-2.7h2.4l.9 2.7zm1 0l.2-2.4h.6l.2 2.4zm1 0l.7-2.5h1.4l.7 2.5zm1 0l.7-1.8h1.5l.7 1.8zm1 0l.9-1.6h1.9l.9 1.6zm1 0l.8-2.7h1.4l.8 2.7zm1 0l.6-2.8h1l.6 2.8zm3 0l.4-2.4h.7l.4 2.4zM52.5 234.12m1 0l.4-2.8h.8l.4 2.8zm1 0l.6-2.8h1l.6 2.8zm1 0l.6-1.9h1.3l.6 1.9zm4 0l.5-2.1h.9l.5 2.1zm4 0l.3-2.7h.6l.3 2.7zm1 0l.2-2.6h.5l.2 2.6zm1 0l.7-2h1.2l.7 2zm1 0l.5-2.7h1.1l.5 2.7zm1 0l.4-2.6h.7l.4 2.6zm4 0l.5-2.4h1.1l.5 2.4zm2 0l.2-2.6h.5l.2 2.6zm4 0l.7-1.7h1.2l.7 1.7zm2 0l.4-2.1h.8l.4 2.1zm1 0l.6-2.1h1.2l.6 2.1zm5 0l.2-2.7h.6l.2 2.7zm1 0l.5-2.8h1.1l.5 2.8zm1 0l.3-2.2h.5l.3 2.2zm2 0l.7-1.7h1.3l.7 1.7zm1 0l.3-2.8h.7l.3 2.8zm3 0l.3-2.1h.7l.3 2.1zm2 0l.3-2.8h.7l.3 2.8zm1 0l.9-2.3h2.5l.9 2.3zm1 0l.7-2.9h1.3l.7 2.9zm1 0l.9-2.8h2.5l.9 2.8zm1 0l.6-2.8h1.3l.6 2.8zm2 0l.8-2.5h1.5l.8 2.5zm1 0l.9-2.6h1.9l.9 2.6zm1 0l.9-2.5h2.1l.9 2.5zm2 0l.9-2.6h2.5l.9 2.6zm3 0l.4-2.8h.9l.4 2.8zm2 0l.4-2.3h.8l.4 2.3zm1 0l.6-1.5h1l.6 1.5zm3 0l.7-2.8h1.4l.7 2.8zm1 0l.9-2.5h2.6l.9 2.5zm3 0l.8-2.5h1.5l.8 2.5zm1 0l.6-1.9h1l.6 1.9zm1 0l.6-2.2h1.3l.6 2.2zm1 0l.9-2.4h2l.9 2.4zm1 0l.3-2.9h.8l.3 2.9zm1 0l.3-2h.5l.3 2zm2 0l.8-2.5h1.4l.8 2.5zm1 0l.9-2.2h2.5l.9 2.2zm9 0l.5-2.3h.8l.5 2.3zm1 0l.5-1.7h1.1l.5 1.7zm1 0l.7-2.6h1.4l.7 2.6zm1 0l.3-2.7h.7l.3 2.7zm8 0l.3-2.7h.6l.3 2.7zm1 0l.6-2.6h1.2l.6 2.6zm1 0l.5-2.8h1l.5 2.8zm1 0l.6-1.8h1.2l.6 1.8zm11 0l.7-2.7h1.4l.7 2.7zm1 0l.7-2.3h1.3l.7 2.3zm10 0l.6-2.8h1.1l.6 2.8zm1 0l.8-2.6h1.6l.8 2.6zm1 0l.9-1.8h2.2l.9 1.8zm1 0l.9-1.8h2.4l.9 1.8zm2 0l.7-2.7h1.5l.7 2.7zm3 0l.9-2.4h2.7l.9 2.4zm1 0l.3-2.5h.8l.3 2.5zm1 0l.9-2.6h2.6l.9 2.6zm1 0l.9-2.4h2.3l.9 2.4zm1 0l.9-1.5h2l.9 1.5zm1 0l.5-2.8h1.1l.5 2.8zm3 0l.6-2.4h1.1l.6 2.4zm1 0l.4-2.3h.9l.4 2.3zm4 0l.7-1.9h1.2l.7 1.9zm2 0l.7-2.8h1.3l.7 2.8zm2 0l.9-2.5h1.7l.9 2.5zm1 0l.6-2.7h1.3l.6 2.7zm1 0l.5-2h1l.5 2zm1 0l.4-2.8h.9l.4 2.8zm1 0l.5-2.5h.8l.5 2.5zm1 0l.2-2.3h.5l.2 2.3zm1 0l.8-2h1.7l.8 2zm1 0l.4-1.8h.9l.4 1.8zm1 0l.9-2.8h1.8l.9 2.8zm4 0l.6-2.2h1.2l.6 2.2zm1 0l.4-2.7h.7l.4 2.7zm1 0l.1-1.8h.3l.1 1.8zM52.5 237.01m7 0l.3-2h.6l.3 2zm8 0l.4-2.7h.7l.4 2.7zm4 0l.7-1.9h1.3l.7 1.9zm4 0l.7-2.4h1.4l.7 2.4zm6 0l.3-2.9h.5l.3 2.9zm1 0l.5-2.9h1.1l.5 2.9zm2 0l.4-2.4h.9l.4 2.4zm4 0l.3-2.8h.8l.3 2.8zm4 0l.2-2.9h.6l.2 2.9zm1 0l.7-2.5h1.3l.7 2.5zm1 0l.8-2.4h1.4l.8 2.4zm1 0l.2-2.3h.6l.2 2.3zm1 0l.9-2.9h2l.9 2.9zm1 0l.4-2.9h.7l.4 2.9zm1 0l.8-2.4h1.8l.8 2.4zm1 0l.9-2.2h2.5l.9 2.2zm2 0l.5-2.5h.9l.5 2.5zm1 0l.9-1.8h2.4l.9 1.8zm2 0l.7-1.7h1.2l.7 1.7zm1 0l.6-2.1h1.1l.6 2.1zm6 0l.7-2.7h1.2l.7 2.7zm2 0l.3-2.6h.5l.3 2.6zm2 0l.3-2.7h.8l.3 2.7zm1 0l.8-2.2h1.6l.8 2.2zm1 0l.2-2.5h.6l.2 2.5zm1 0l.5-2.8h1l.5 2.8zm1 0l.6-2.3h1.2l.6 2.3zm1 0l.9-1.5h2.3l.9 1.5zm1 0l.6-2.4h1.1l.6 2.4zm1 0l.4-2.3h.8l.4 2.3zm1 0l.5-2.1h.9l.5 2.1zm2 0l.5-1.7h1.1l.5 1.7zm1 0l.9-2.5h2.1l.9 2.5zm7 0l.6-2.7h1l.6 2.7zm1 0l.3-2.5h.6l.3 2.5zm3 0l.6-2.4h1.3l.6 2.4zm5 0l.3-1.8h.6l.3 1.8zm1 0l.3-1.7h.6l.3 1.7zm1 0l.5-2.8h.9l.5 2.8zm1 0l.5-2.4h.9l.5 2.4zm5 0l.3-2.2h.6l.3 2.2zm4 0l.5-2.8h1.1l.5 2.8zm1 0l.7-2.3h1.3l.7 2.3zm4 0l.6-2.8h1.3l.6 2.8zm4 0l.5-2.8h.8l.5 2.8zm8 0l.4-2.8h.9l.4 2.8zm1 0l.3-2.4h.5l.3 2.4zm1 0l.9-2.2h2.1l.9 2.2zm2 0l.6-2.4h1l.6 2.4zm1 0l.4-2.8h.9l.4 2.8zm1 0l.5-1.7h1l.5 1.7zm1 0l.7-2.7h1.2l.7 2.7zm1 0l.9-2.8h1.7l.9 2.8zm1 0l.7-2.6h1.5l.7 2.6zm2 0l.9-2h2.5l.9 2zm1 0l.5-2.4h1l.5 2.4zm4 0l.4-2.2h.7l.4 2.2zm1 0l.4-1.9h.9l.4 1.9zm3 0l.3-2.9h.8l.3 2.9zm1 0l.6-2.8h1.1l.6 2.8zm1 0l.2-2h.6l.2 2zm2 0l.8-2.7h1.4l.8 2.7zm1 0l.8-2.6h1.6l.8 2.6zm1 0l.3-2.4h.5l.3 2.4zm1 0l.7-2.5h1.4l.7 2.5zm1 0l.4-2.2h.7l.4 2.2zm1 0l.2-2.8h.6l.2 2.8zm1 0l.9-2.6h1.9l.9 2.6zm1 0l.9-2.1h1.8l.9 2.1zm1 0l.8-2.5h1.5l.8 2.5zm1 0l.8-2.7h1.5l.8 2.7zm1 0l.9-1.8h2.3l.9 1.8zm1 0l.5-2.1h.9l.5 2.1zM52.5 239.89m1 0l.4-2.7h.9l.4 2.7zm2 0l.7-2.1h1.2l.7 2.1zm3 0l.5-2.6h1l.5 2.6zm3 0l.5-2.3h.9l.5 2.3zm1 0l.4-2.2h.7l.4 2.2zm1 0l.7-2.3h1.2l.7 2.3zm1 0l.3-2.6h.6l.3 2.6zm1 0l.3-2.7h.5l.3 2.7zm2 0l.4-2.1h.7l.4 2.1zm3 0l.7-2h1.4l.7 2zm2 0l.3-2h.6l.3 2zm1 0l.2-2.5h.5l.2 2.5zm2 0l.2-2.3h.6l.2 2.3zm5 0l.5-1.8h1.1l.5 1.8zm2 0l.5-2.8h1l.5 2.8zm1 0l.3-2.8h.8l.3 2.8zm1 0l.7-2.7h1.4l.7 2.7zm2 0l.7-2.2h1.3l.7 2.2zm1 0l.3-2.9h.8l.3 2.9zm1 0l.5-2.1h1.1l.5 2.1zm2 0l.6-2.2h1.2l.6 2.2zm1 0l.4-2.6h.8l.4 2.6zm1 0l.7-2.9h1.2l.7 2.9zm1 0l.5-2.4h.8l.5 2.4zm1 0l.8-2.6h1.8l.8 2.6zm1 0l.6-1.8h1.1l.6 1.8zm1 0l.7-1.7h1.5l.7 1.7zm2 0l.4-2.6h.8l.4 2.6zm1 0l.9-2.4h2.7l.9 2.4zm1 0l.6-2.5h1.1l.6 2.5zm2 0l.9-2.7h2.2l.9 2.7zm1 0l.9-2.5h2.7l.9 2.5zm1 0l.9-2.2h1.8l.9 2.2zm1 0l.4-2.6h.8l.4 2.6zm1 0l.6-2.5h1l.6 2.5zm3 0l.5-1.8h1.1l.5 1.8zm1 0l.2-2.6h.5l.2 2.6zm4 0l.4-2.4h.7l.4 2.4zm2 0l.4-2.9h.8l.4 2.9zm1 0l.5-2.1h1.1l.5 2.1zm1 0l.5-2.6h.8l.5 2.6zm1 0l.9-2.4h1.9l.9 2.4zm1 0l.9-1.7h2.5l.9 1.7zm1 0l.9-2.6h2.5l.9 2.6zm1 0l.3-2h.5l.3 2zm1 0l.4-2.8h.7l.4 2.8zm2 0l.7-2.1h1.5l.7 2.1zm2 0l.7-2.7h1.3l.7 2.7zm5 0l.3-2.5h.7l.3 2.5zm1 0l.3-2.8h.5l.3 2.8zm10 0l.3-2.1h.6l.3 2.1zm8 0l.3-2h.7l.3 2zm1 0l.3-2.4h.5l.3 2.4zm2 0l.3-2.8h.6l.3 2.8zm1 0l.3-2.6h.5l.3 2.6zm4 0l.5-2.8h.9l.5 2.8zm12 0l.9-2.1h2.7l.9 2.1zm4 0l.3-2.1h.7l.3 2.1zm2 0l.7-2.8h1.2l.7 2.8zm2 0l.5-2.5h1.1l.5 2.5zm1 0l.7-2.4h1.4l.7 2.4zm1 0l.9-2.6h2l.9 2.6zm3 0l.6-2.8h1.1l.6 2.8zm1 0l.9-2.4h2.8l.9 2.4zm3 0l.6-2.8h1l.6 2.8zm1 0l.3-1.7h.8l.3 1.7zm1 0l.6-2.7h1.3l.6 2.7zm2 0l.3-2.6h.7l.3 2.6zm1 0l.3-2.2h.5l.3 2.2zm1 0l.6-2.2h1.2l.6 2.2zm1 0l.5-2.8h.8l.5 2.8zm1 0l.3-2.6h.7l.3 2.6zm1 0l.2-2.5h.6l.2 2.5zm4 0l.8-2.7h1.8l.8 2.7zm1 0l.6-1.6h1.2l.6 1.6zm1 0l.7-2.7h1.4l.7 2.7zm1 0l.4-1.8h.8l.4 1.8zm2 0l.9-2.3h1.8l.9 2.3zm1 0l.3-1.6h.8l.3 1.6zm3 0l.1-2.7h.3l.1 2.7zM52.5 242.78m2 0l.5-2.7h.9l.5 2.7zm1 0l.5-2h.8l.5 2zm4 0l.5-2.8h.8l.5 2.8zm2 0l.4-1.7h.8l.4 1.7zm5 0l.3-2.8h.8l.3 2.8zm1 0l.6-2.6h1.2l.6 2.6zm7 0l.5-2.6h1l.5 2.6zm2 0l.3-2.2h.7l.3 2.2zm5 0l.7-2.8h1.3l.7 2.8zm3 0l.3-2.4h.5l.3 2.4zm4 0l.3-2.6h.8l.3 2.6zm3 0l.6-2h1.3l.6 2zm2 0l.3-2.4h.7l.3 2.4zm1 0l.8-2.7h1.4l.8 2.7zm2 0l.3-2.9h.6l.3 2.9zm1 0l.3-2.9h.6l.3 2.9zm2 0l.3-2.5h.6l.3 2.5zm1 0l.9-2.1h2.4l.9 2.1zm1 0l.9-1.8h2.1l.9 1.8zm2 0l.5-2.5h1.1l.5 2.5zm1 0l.8-1.9h1.8l.8 1.9zm2 0l.5-2.7h.8l.5 2.7zm1 0l.7-2.8h1.2l.7 2.8zm2 0l.4-2.7h.8l.4 2.7zm1 0l.2-2.5h.5l.2 2.5zm2 0l.3-2.6h.6l.3 2.6zm3 0l.4-2.2h.9l.4 2.2zm1 0l.9-2.2h2.5l.9 2.2zm2 0l.6-2.2h1.3l.6 2.2zm1 0l.4-2.1h.8l.4 2.1zm1 0l.4-1.9h.9l.4 1.9zm1 0l.7-2.1h1.5l.7 2.1zm2 0l.2-2.5h.5l.2 2.5zm1 0l.9-2.8h2.6l.9 2.8zm2 0l.3-2.6h.5l.3 2.6zm1 0l.7-2.1h1.5l.7 2.1zm1 0l.5-2.5h.9l.5 2.5zm1 0l.3-2.2h.5l.3 2.2zm1 0l.2-2.8h.6l.2 2.8zm3 0l.4-2.7h.7l.4 2.7zm2 0l.2-2.1h.6l.2 2.1zm3 0l.6-2.5h1.2l.6 2.5zm2 0l.7-2.1h1.4l.7 2.1zm2 0l.6-2.4h1.3l.6 2.4zm1 0l.2-2.3h.6l.2 2.3zm2 0l.6-2.8h1l.6 2.8zm1 0l.2-2.5h.6l.2 2.5zm7 0l.5-2.5h1.1l.5 2.5zm1 0l.6-2.4h1l.6 2.4zm5 0l.6-2.9h1.3l.6 2.9zm3 0l.7-2.6h1.5l.7 2.6zm3 0l.7-2.5h1.4l.7 2.5zm2 0l.7-1.9h1.2l.7 1.9zm5 0l.2-2.2h.5l.2 2.2zm1 0l.9-2.1h1.7l.9 2.1zm1 0l.8-1.9h1.4l.8 1.9zm1 0l.4-1.6h.8l.4 1.6zm2 0l.9-2.6h2.7l.9 2.6zm1 0l.6-2.4h1.2l.6 2.4zm1 0l.5-2h.9l.5 2zm1 0l.9-2.6h1.7l.9 2.6zm1 0l.9-2.9h2.1l.9 2.9zm2 0l.8-2.4h1.6l.8 2.4zm1 0l.9-2.4h1.9l.9 2.4zm1 0l.5-1.7h1l.5 1.7zm1 0l.7-2.7h1.2l.7 2.7zm4 0l.7-1.8h1.3l.7 1.8zm3 0l.6-2.3h1l.6 2.3zm1 0l.9-1.9h1.7l.9 1.9zm2 0l.8-2.8h1.5l.8 2.8zm1 0l.9-2h2.5l.9 2zm4 0l.5-2.4h1.1l.5 2.4zm2 0l.6-1.6h1.3l.6 1.6zm2 0l.5-2.4h.8l.5 2.4zm1 0l.4-2.2h.9l.4 2.2zM52.5 245.67m0 0l.5-2.8h1l.5 2.8zm3 0l.3-2h.5l.3 2zm1 0l.7-2.2h1.2l.7 2.2zm4 0l.5-2.7h1l.5 2.7zm2 0l.3-2.8h.6l.3 2.8zm1 0l.5-1.9h1l.5 1.9zm8 0l.3-2.1h.6l.3 2.1zm2 0l.2-2.8h.6l.2 2.8zm2 0l.5-2.6h1l.5 2.6zm9 0l.6-2.9h1.1l.6 2.9zm3 0l.5-2.8h.8l.5 2.8zm3 0l.7-2.1h1.4l.7 2.1zm1 0l.5-2.8h.9l.5 2.8zm1 0l.3-1.7h.5l.3 1.7zm3 0l.5-2.8h.9l.5 2.8zm1 0l.8-2.3h1.8l.8 2.3zm1 0l.8-1.9h1.7l.8 1.9zm1 0l.5-1.9h.8l.5 1.9zm1 0l.9-2.2h2.3l.9 2.2zm1 0l.5-2.4h.8l.5 2.4zm1 0l.8-2.4h1.5l.8 2.4zm1 0l.9-2.2h1.8l.9 2.2zm1 0l.2-2.9h.6l.2 2.9zm1 0l.9-2.3h2.7l.9 2.3zm10 0l.6-2.1h1l.6 2.1zm1 0l.9-2.6h2.6l.9 2.6zm1 0l.8-2.6h1.5l.8 2.6zm1 0l.8-1.9h1.5l.8 1.9zm1 0l.6-1.8h1.1l.6 1.8zm2 0l.3-2.7h.7l.3 2.7zm1 0l.5-2.8h1l.5 2.8zm1 0l.8-2.6h1.5l.8 2.6zm1 0l.3-2.2h.6l.3 2.2zm3 0l.9-2.9h1.8l.9 2.9zm4 0l.7-2.4h1.3l.7 2.4zm2 0l.7-1.7h1.2l.7 1.7zm3 0l.6-1.5h1.3l.6 1.5zm2 0l.5-2.5h1.1l.5 2.5zm3 0l.6-2.6h1l.6 2.6zm1 0l.2-2.7h.6l.2 2.7zm6 0l.6-2.3h1.2l.6 2.3zm1 0l.6-2h1.1l.6 2zm1 0l.7-2.5h1.3l.7 2.5zm1 0l.5-2.6h.9l.5 2.6zm1 0l.3-2.4h.8l.3 2.4zm1 0l.5-1.9h.8l.5 1.9zm2 0l.4-2.3h.7l.4 2.3zm9 0l.7-2.7h1.2l.7 2.7zm5 0l.6-2.6h1.3l.6 2.6zm1 0l.3-2.2h.5l.3 2.2zm2 0l.9-2h2.5l.9 2zm2 0l.7-2.2h1.2l.7 2.2zm1 0l.3-2h.6l.3 2zm1 0l.9-2.1h2.3l.9 2.1zm1 0l.9-2h2l.9 2zm1 0l.9-2.8h2.6l.9 2.8zm1 0l.9-2.6h2.2l.9 2.6zm1 0l.6-1.6h1.2l.6 1.6zm1 0l.5-2.8h1.1l.5 2.8zm1 0l.9-2.4h2.3l.9 2.4zm3 0l.6-2.7h1l.6 2.7zm1 0l.3-2.4h.6l.3 2.4zm3 0l.4-2.3h.8l.4 2.3zm5 0l.4-1.9h.7l.4 1.9zm1 0l.5-2.6h.9l.5 2.6zm1 0l.4-2.5h.9l.4 2.5zm1 0l.6-2.4h1.2l.6 2.4zm2 0l.3-2.6h.8l.3 2.6zm1 0l.2-2.1h.6l.2 2.1zm3 0l.6-2.8h1.3l.6 2.8zm3 0l.7-1.8h1.4l.7 1.8zM52.5 248.56m0 0l.6-2.7h1.2l.6 2.7zm1 0l.6-2.2h1.2l.6 2.2zm5 0l.3-2.4h.6l.3 2.4zm2 0l.5-2.8h1.1l.5 2.8zm2 0l.3-2.1h.8l.3 2.1zm2 0l.5-2.7h.8l.5 2.7zm3 0l.7-2h1.3l.7 2zm1 0l.2-2.7h.5l.2 2.7zm3 0l.6-2.2h1.2l.6 2.2zm1 0l.6-2.5h1.1l.6 2.5zm4 0l.3-2.1h.8l.3 2.1zm5 0l.5-2.2h.9l.5 2.2zm4 0l.7-2.7h1.5l.7 2.7zm1 0l.4-1.9h.7l.4 1.9zm1 0l.5-2.2h1l.5 2.2zm5 0l.4-1.7h.8l.4 1.7zm3 0l.8-2.6h1.7l.8 2.6zm3 0l.9-2.3h2.2l.9 2.3zm2 0l.9-2.6h2.1l.9 2.6zm1 0l.4-2.1h.9l.4 2.1zm1 0l.6-2.7h1.1l.6 2.7zm1 0l.9-2.5h2.2l.9 2.5zm3 0l.3-2.6h.8l.3 2.6zm7 0l.6-2.6h1.2l.6 2.6zm4 0l.3-2.3h.7l.3 2.3zm1 0l.9-1.5h2.4l.9 1.5zm1 0l.6-2.7h1.3l.6 2.7zm1 0l.7-2h1.3l.7 2zm1 0l.9-1.7h2.5l.9 1.7zm1 0l.5-2.7h1l.5 2.7zm1 0l.9-2.3h2l.9 2.3zm1 0l.4-1.9h.9l.4 1.9zm1 0l.3-2.2h.8l.3 2.2zm1 0l.8-2.3h1.8l.8 2.3zm1 0l.8-1.7h1.5l.8 1.7zm1 0l.5-2.9h1.1l.5 2.9zm5 0l.4-2.1h.8l.4 2.1zm1 0l.4-2.9h.9l.4 2.9zm6 0l.5-2.5h1l.5 2.5zm2 0l.7-2.7h1.3l.7 2.7zm2 0l.4-2h.7l.4 2zm11 0l.7-2.5h1.2l.7 2.5zm1 0l.7-2.6h1.2l.7 2.6zm2 0l.3-2.7h.8l.3 2.7zm2 0l.5-2.7h1l.5 2.7zm3 0l.3-1.9h.7l.3 1.9zm1 0l.6-2.1h1.3l.6 2.1zm1 0l.3-2.8h.5l.3 2.8zm2 0l.6-1.9h1l.6 1.9zm5 0l.8-1.9h1.4l.8 1.9zm3 0l.7-2.3h1.2l.7 2.3zm1 0l.9-2.8h2.1l.9 2.8zm1 0l.7-2.8h1.5l.7 2.8zm1 0l.3-2.3h.6l.3 2.3zm2 0l.9-2.7h1.8l.9 2.7zm2 0l.8-2.6h1.7l.8 2.6zm1 0l.4-2.3h.7l.4 2.3zm3 0l.5-2.7h1.1l.5 2.7zm3 0l.5-2.2h1l.5 2.2zm5 0l.9-1.9h1.9l.9 1.9zm1 0l.9-2.4h2.2l.9 2.4zm2 0l.8-2.4h1.7l.8 2.4zm1 0l.8-1.8h1.5l.8 1.8zm2 0l.2-2.5h.5l.2 2.5zm1 0l.5-2.1h.8l.5 2.1zm1 0l.5-2.8h.9l.5 2.8zm1 0l.3-2.9h.8l.3 2.9zm1 0l.7-2.6h1.2l.7 2.6zm1 0l.8-2.1h1.8l.8 2.1zm5 0l.1-2.8h.3l.1 2.8zM52.5 251.44m0 0l.2-2.7h.5l.2 2.7zm4 0l.6-1.6h1.2l.6 1.6zm1 0l.5-2.7h1.1l.5 2.7zm3 0l.5-2.9h.9l.5 2.9zm8 0l.4-2.2h.7l.4 2.2zm1 0l.3-2.1h.6l.3 2.1zm1 0l.5-2.3h1.1l.5 2.3zm3 0l.6-1.8h1.2l.6 1.8zm2 0l.5-1.7h1l.5 1.7zm3 0l.5-1.9h.9l.5 1.9zm1 0l.4-2.6h.7l.4 2.6zm2 0l.5-2.5h1l.5 2.5zm2 0l.3-2.6h.6l.3 2.6zm1 0l.7-2.8h1.3l.7 2.8zm2 0l.7-2.4h1.3l.7 2.4zm5 0l.5-2.7h1l.5 2.7zm1 0l.8-2.5h1.4l.8 2.5zm1 0l.9-2.8h2.1l.9 2.8zm1 0l.6-2.1h1.2l.6 2.1zm1 0l.8-2h1.8l.8 2zm2 0l.7-2.8h1.4l.7 2.8zm1 0l.3-2.3h.6l.3 2.3zm1 0l.9-2.6h2.6l.9 2.6zm2 0l.9-2.4h2.3l.9 2.4zm1 0l.9-2.4h2.3l.9 2.4zm1 0l.6-1.9h1.2l.6 1.9zm1 0l.8-2.8h1.5l.8 2.8zm8 0l.6-2.9h1.1l.6 2.9zm1 0l.6-2.6h1.1l.6 2.6zm1 0l.5-2.2h.8l.5 2.2zm1 0l.9-2.8h2.3l.9 2.8zm1 0l.7-2h1.2l.7 2zm1 0l.9-2h2.3l.9 2zm1 0l.3-2.5h.7l.3 2.5zm1 0l.8-2.5h1.8l.8 2.5zm1 0l.5-2.9h.9l.5 2.9zm1 0l.7-1.8h1.5l.7 1.8zm1 0l.8-2.5h1.7l.8 2.5zm1 0l.5-2.1h1l.5 2.1zm1 0l.4-2.7h.7l.4 2.7zm1 0l.3-2.3h.8l.3 2.3zm2 0l.7-2.5h1.5l.7 2.5zm1 0l.6-2.7h1.1l.6 2.7zm1 0l.3-2.7h.7l.3 2.7zm1 0l.4-2.2h.9l.4 2.2zm6 0l.7-2.7h1.3l.7 2.7zm1 0l.7-2.8h1.3l.7 2.8zm1 0l.4-2.6h.9l.4 2.6zm3 0l.3-2.8h.7l.3 2.8zm3 0l.5-2.8h.8l.5 2.8zm2 0l.7-1.9h1.3l.7 1.9zm4 0l.3-2.6h.7l.3 2.6zm9 0l.4-2.1h.8l.4 2.1zm1 0l.5-2.7h1l.5 2.7zm2 0l.5-2.7h1.1l.5 2.7zm6 0l.3-2.8h.7l.3 2.8zm3 0l.8-2.2h1.4l.8 2.2zm1 0l.5-2.8h.9l.5 2.8zm1 0l.9-2.5h1.9l.9 2.5zm1 0l.8-2.4h1.4l.8 2.4zm1 0l.8-2.2h1.8l.8 2.2zm1 0l.4-2.4h.9l.4 2.4zm1 0l.5-2.7h1l.5 2.7zm2 0l.3-1.7h.8l.3 1.7zm1 0l.7-1.7h1.2l.7 1.7zm1 0l.9-2.3h1.9l.9 2.3zm1 0l.8-2.3h1.4l.8 2.3zm3 0l.6-2h1l.6 2zm2 0l.5-2.3h1.1l.5 2.3zm1 0l.4-2.8h.9l.4 2.8zm4 0l.3-2.6h.8l.3 2.6zm5 0l.3-2h.5l.3 2zm1 0l.3-2.7h.8l.3 2.7zm1 0l.8-2.8h1.7l.8 2.8zm3 0l.4-2.3h.8l.4 2.3zm2 0l.6-2.9h1.2l.6 2.9zm1 0l.3-2.2h.5l.3 2.2zm1 0l.9-2.8h2l.9 2.8zm2 0l.6-2.4h1.3l.6 2.4zm1 0l.4-2.5h.7l.4 2.5zM52.5 254.33m0 0l.2-2.8h.5l.2 2.8zm1 0l.6-1.7h1.3l.6 1.7zm4 0l.5-1.8h.9l.5 1.8zm1 0l.6-1.9h1.2l.6 1.9zm3 0l.2-2.4h.5l.2 2.4zm1 0l.3-2.4h.8l.3 2.4zm1 0l.5-2.7h.8l.5 2.7zm1 0l.6-1.9h1.3l.6 1.9zm4 0l.5-2.5h1.1l.5 2.5zm1 0l.5-2.8h1l.5 2.8zm1 0l.6-2.5h1.1l.6 2.5zm1 0l.3-2.9h.6l.3 2.9zm7 0l.5-2.2h.8l.5 2.2zm1 0l.7-2.3h1.4l.7 2.3zm3 0l.2-2.4h.6l.2 2.4zm1 0l.3-2h.7l.3 2zm3 0l.3-2.4h.7l.3 2.4zm1 0l.3-1.9h.7l.3 1.9zm2 0l.7-2.4h1.3l.7 2.4zm1 0l.6-2.2h1l.6 2.2zm2 0l.9-1.6h2.5l.9 1.6zm2 0l.5-2.4h.9l.5 2.4zm2 0l.5-1.9h1l.5 1.9zm1 0l.9-2.1h1.8l.9 2.1zm1 0l.2-2.3h.5l.2 2.3zm1 0l.5-2.3h.9l.5 2.3zm2 0l.9-2.6h2.3l.9 2.6zm1 0l.9-2.5h2l.9 2.5zm1 0l.3-2.5h.6l.3 2.5zm1 0l.9-1.5h2.3l.9 1.5zm1 0l.9-2.7h1.9l.9 2.7zm2 0l.3-2.9h.5l.3 2.9zm7 0l.2-2.6h.6l.2 2.6zm1 0l.5-2.2h.9l.5 2.2zm3 0l.7-2.8h1.3l.7 2.8zm1 0l.4-2.5h.8l.4 2.5zm1 0l.8-2.8h1.8l.8 2.8zm3 0l.8-1.6h1.8l.8 1.6zm3 0l.9-2.7h1.7l.9 2.7zm4 0l.3-2.8h.7l.3 2.8zm4 0l.3-2.2h.7l.3 2.2zm13 0l.6-2.2h1.3l.6 2.2zm2 0l.4-1.8h.8l.4 1.8zm11 0l.4-2.2h.7l.4 2.2zm2 0l.4-2.2h.8l.4 2.2zm1 0l.6-2.7h1.3l.6 2.7zm3 0l.4-2.6h.9l.4 2.6zm4 0l.6-2.8h1.3l.6 2.8zm1 0l.9-2.5h2.8l.9 2.5zm1 0l.9-2.7h2.3l.9 2.7zm2 0l.5-2.2h1l.5 2.2zm1 0l.4-2.8h.7l.4 2.8zm1 0l.4-2.5h.8l.4 2.5zm1 0l.9-1.7h1.8l.9 1.7zm2 0l.5-2.5h1.1l.5 2.5zm1 0l.3-2.9h.6l.3 2.9zm1 0l.6-2.8h1l.6 2.8zm2 0l.4-2.9h.9l.4 2.9zm1 0l.9-2.2h2.2l.9 2.2zm6 0l.6-2.7h1l.6 2.7zm2 0l.4-2.8h.8l.4 2.8zm2 0l.3-2.8h.6l.3 2.8zm2 0l.3-2.9h.6l.3 2.9zm1 0l.7-2.2h1.2l.7 2.2zm1 0l.9-2.7h1.8l.9 2.7zm1 0l.6-2.3h1l.6 2.3zm1 0l.8-2.8h1.5l.8 2.8zm1 0l.7-2.8h1.3l.7 2.8zm2 0l.8-1.7h1.6l.8 1.7zm2 0l.9-1.7h2.3l.9 1.7zm3 0l.6-2.5h1.3l.6 2.5zM52.5 257.22m0 0l.2-2h.6l.2 2zm3 0l.6-2.2h1.3l.6 2.2zm1 0l.3-2.8h.8l.3 2.8zm5 0l.3-1.9h.7l.3 1.9zm6 0l.2-2.9h.6l.2 2.9zm1 0l.6-2.6h1.3l.6 2.6zm2 0l.5-2.6h1.1l.5 2.6zm7 0l.6-2.6h1l.6 2.6zm1 0l.3-2.5h.6l.3 2.5zm5 0l.7-1.7h1.4l.7 1.7zm2 0l.3-2.7h.7l.3 2.7zm1 0l.5-2.8h.8l.5 2.8zm1 0l.5-2.2h1l.5 2.2zm3 0l.5-2.7h.9l.5 2.7zm2 0l.4-1.5h.8l.4 1.5zm1 0l.6-2.8h1l.6 2.8zm1 0l.2-2.7h.6l.2 2.7zm1 0l.5-2.3h.8l.5 2.3zm1 0l.8-2.6h1.4l.8 2.6zm1 0l.5-2.5h.9l.5 2.5zm1 0l.5-2.5h1.1l.5 2.5zm1 0l.3-2.7h.5l.3 2.7zm1 0l.9-2h2.7l.9 2zm1 0l.7-2.3h1.2l.7 2.3zm1 0l.6-2.3h1.3l.6 2.3zm1 0l.3-2.5h.5l.3 2.5zm3 0l.3-2.6h.8l.3 2.6zm1 0l.6-2.5h1.3l.6 2.5zm5 0l.4-2.9h.9l.4 2.9zm1 0l.4-2.8h.9l.4 2.8zm1 0l.7-2.8h1.3l.7 2.8zm1 0l.7-2.1h1.3l.7 2.1zm1 0l.7-2.4h1.2l.7 2.4zm1 0l.9-2.2h2.2l.9 2.2zm1 0l.8-2.5h1.4l.8 2.5zm1 0l.4-2.6h.8l.4 2.6zm1 0l.5-2.7h1l.5 2.7zm2 0l.5-2.8h1.1l.5 2.8zm1 0l.8-2.6h1.7l.8 2.6zm1 0l.9-1.9h2.2l.9 1.9zm2 0l.6-1.8h1l.6 1.8zm4 0l.7-2.6h1.4l.7 2.6zm1 0l.2-2.3h.5l.2 2.3zm2 0l.6-2.7h1.3l.6 2.7zm11 0l.3-2.5h.7l.3 2.5zm5 0l.2-2.8h.6l.2 2.8zm1 0l.5-2.8h1.1l.5 2.8zm1 0l.7-2.7h1.2l.7 2.7zm2 0l.3-2.6h.7l.3 2.6zm1 0l.5-2.5h.9l.5 2.5zm3 0l.3-2.6h.5l.3 2.6zm3 0l.5-1.8h.9l.5 1.8zm2 0l.5-2.5h1l.5 2.5zm2 0l.7-1.8h1.2l.7 1.8zm3 0l.5-2.5h.9l.5 2.5zm3 0l.6-1.9h1.1l.6 1.9zm1 0l.9-2.2h2.5l.9 2.2zm1 0l.8-2.8h1.7l.8 2.8zm1 0l.8-2.1h1.5l.8 2.1zm1 0l.9-2.5h1.8l.9 2.5zm1 0l.8-2.8h1.4l.8 2.8zm1 0l.6-2.4h1l.6 2.4zm1 0l.7-1.8h1.4l.7 1.8zm2 0l.6-2.7h1l.6 2.7zm1 0l.5-2.4h1l.5 2.4zm1 0l.9-2.6h2.3l.9 2.6zm1 0l.9-2.6h1.8l.9 2.6zm1 0l.3-2.9h.7l.3 2.9zm4 0l.5-2.7h.8l.5 2.7zm4 0l.3-2.9h.8l.3 2.9zm3 0l.5-2.7h.8l.5 2.7zm1 0l.9-2.6h2l.9 2.6zm3 0l.9-2.2h1.7l.9 2.2zm1 0l.8-2.6h1.5l.8 2.6zm1 0l.8-2.5h1.7l.8 2.5zm1 0l.5-2.8h.9l.5 2.8zm1 0l.5-2.3h1l.5 2.3zm1 0l.6-2.5h1.3l.6 2.5zm3 0l.6-2.3h1.3l.6 2.3zM52.5 260.1m1 0l.3-2.9h.5l.3 2.9zm3 0l.2-2.9h.5l.2 2.9zm3 0l.4-1.7h.9l.4 1.7zm1 0l.3-2.2h.8l.3 2.2zm1 0l.7-2.4h1.4l.7 2.4zm2 0l.7-2.4h1.4l.7 2.4zm6 0l.6-2.4h1.1l.6 2.4zm1 0l.3-2.8h.6l.3 2.8zm2 0l.6-1.9h1.1l.6 1.9zm4 0l.6-2.7h1.1l.6 2.7zm5 0l.6-2.4h1l.6 2.4zm9 0l.6-1.9h1.1l.6 1.9zm1 0l.5-2.7h1.1l.5 2.7zm1 0l.5-2.5h.9l.5 2.5zm1 0l.9-2.2h1.9l.9 2.2zm1 0l.5-2.5h1.1l.5 2.5zm2 0l.2-1.8h.5l.2 1.8zm2 0l.9-2.5h2.1l.9 2.5zm1 0l.8-2h1.8l.8 2zm1 0l.9-2.4h2l.9 2.4zm2 0l.2-2.8h.5l.2 2.8zm1 0l.4-2.8h.7l.4 2.8zm2 0l.6-2.7h1.1l.6 2.7zm4 0l.5-1.7h.9l.5 1.7zm6 0l.9-2.2h1.8l.9 2.2zm1 0l.6-2.2h1l.6 2.2zm1 0l.3-2.1h.5l.3 2.1zm2 0l.9-2.8h2.3l.9 2.8zm1 0l.8-2.2h1.6l.8 2.2zm1 0l.6-2.8h1.1l.6 2.8zm2 0l.6-2.8h1l.6 2.8zm1 0l.5-2.8h.9l.5 2.8zm1 0l.9-2.7h2.6l.9 2.7zm1 0l.4-2.4h.7l.4 2.4zm4 0l.7-2.7h1.4l.7 2.7zm7 0l.3-2.3h.7l.3 2.3zm5 0l.4-2.7h.7l.4 2.7zm1 0l.7-2h1.4l.7 2zm1 0l.6-2.4h1l.6 2.4zm1 0l.4-2.3h.7l.4 2.3zm3 0l.5-1.6h1.1l.5 1.6zm1 0l.2-2.7h.6l.2 2.7zm1 0l.2-2.5h.6l.2 2.5zm1 0l.4-2.9h.8l.4 2.9zm2 0l.3-2.3h.8l.3 2.3zm1 0l.3-2.5h.7l.3 2.5zm1 0l.2-2.8h.6l.2 2.8zm2 0l.5-2.6h.8l.5 2.6zm3 0l.6-2.4h1l.6 2.4zm1 0l.3-2.2h.7l.3 2.2zm1 0l.5-2.4h1.1l.5 2.4zm1 0l.6-2.8h1l.6 2.8zm4 0l.2-2.4h.5l.2 2.4zm2 0l.3-2h.7l.3 2zm1 0l.4-2h.8l.4 2zm1 0l.9-2.4h2.3l.9 2.4zm2 0l.4-2.5h.9l.4 2.5zm1 0l.3-2.2h.8l.3 2.2zm1 0l.9-2.1h2.5l.9 2.1zm1 0l.2-2.6h.6l.2 2.6zm1 0l.8-1.9h1.8l.8 1.9zm1 0l.9-2h1.7l.9 2zm1 0l.4-2.2h.8l.4 2.2zm1 0l.3-2.2h.7l.3 2.2zm2 0l.5-2.8h1l.5 2.8zm1 0l.4-1.8h.9l.4 1.8zm6 0l.2-2.4h.6l.2 2.4zm2 0l.6-2.8h1.2l.6 2.8zm2 0l.4-2.1h.8l.4 2.1zm1 0l.9-2.5h2.3l.9 2.5zm1 0l.7-2.4h1.2l.7 2.4zm1 0l.3-2.4h.8l.3 2.4zm2 0l.3-2.2h.7l.3 2.2zm1 0l.8-2.7h1.7l.8 2.7zm1 0l.9-2.4h2.6l.9 2.4zm1 0l.7-2.8h1.4l.7 2.8zm1 0l.6-2h1.2l.6 2zm2 0l.8-2.7h1.5l.8 2.7zm1 0l.3-2.7h.5l.3 2.7zm1 0l.8-1.8h1.6l.8 1.8zm1 0l.5-1.8h1l.5 1.8zm1 0l.3-2.5h.5l.3 2.5zM52.5 262.99m4 0l.6-1.9h1.3l.6 1.9zm4 0l.7-2.5h1.4l.7 2.5zm4 0l.6-2.1h1.1l.6 2.1zm2 0l.4-2.4h.7l.4 2.4zm13 0l.3-2h.5l.3 2zm5 0l.2-2.4h.5l.2 2.4zm6 0l.5-2.1h1.1l.5 2.1zm1 0l.9-2.5h2.3l.9 2.5zm1 0l.4-2.1h.8l.4 2.1zm2 0l.4-2.4h.7l.4 2.4zm1 0l.9-2.5h2.6l.9 2.5zm2 0l.5-2.3h1l.5 2.3zm1 0l.9-2.6h2.2l.9 2.6zm1 0l.9-2.5h2.8l.9 2.5zm1 0l.9-2.8h2.8l.9 2.8zm1 0l.8-2.8h1.8l.8 2.8zm2 0l.8-2.2h1.5l.8 2.2zm12 0l.9-2.4h2.2l.9 2.4zm1 0l.8-2.8h1.7l.8 2.8zm1 0l.4-2.6h.7l.4 2.6zm3 0l.2-2.2h.6l.2 2.2zm1 0l.6-2.4h1l.6 2.4zm1 0l.3-1.8h.5l.3 1.8zm1 0l.2-2.2h.6l.2 2.2zm1 0l.4-2.3h.7l.4 2.3zm1 0l.3-2.1h.8l.3 2.1zm1 0l.6-2.1h1l.6 2.1zm1 0l.9-2.4h1.7l.9 2.4zm3 0l.6-2h1l.6 2zm1 0l.5-2.5h1.1l.5 2.5zm11 0l.4-2.4h.8l.4 2.4zm1 0l.6-2.7h1l.6 2.7zm1 0l.3-2.6h.8l.3 2.6zm6 0l.6-2.8h1.1l.6 2.8zm6 0l.6-2.5h1.3l.6 2.5zm5 0l.6-2.4h1.1l.6 2.4zm1 0l.2-2.9h.5l.2 2.9zm2 0l.7-1.8h1.3l.7 1.8zm6 0l.3-2.5h.7l.3 2.5zm4 0l.8-2.3h1.8l.8 2.3zm2 0l.8-2.8h1.4l.8 2.8zm1 0l.9-1.8h2.5l.9 1.8zm1 0l.3-2.6h.8l.3 2.6zm4 0l.9-2.8h2.2l.9 2.8zm3 0l.6-2.8h1.2l.6 2.8zm1 0l.6-2.7h1l.6 2.7zm1 0l.7-2.3h1.4l.7 2.3zm1 0l.5-2.6h.9l.5 2.6zm2 0l.7-2.7h1.2l.7 2.7zm4 0l.5-2.3h1l.5 2.3zm1 0l.9-2.3h2l.9 2.3zm1 0l.9-1.7h1.7l.9 1.7zm1 0l.3-2.7h.6l.3 2.7zm1 0l.4-2.5h.8l.4 2.5zm1 0l.9-1.8h2.4l.9 1.8zm3 0l.2-2.2h.5l.2 2.2zm1 0l.9-2.7h1.8l.9 2.7zm1 0l.4-1.6h.8l.4 1.6zm1 0l.7-2.2h1.2l.7 2.2zm1 0l.7-2.7h1.4l.7 2.7zm4 0l.1-1.5h.3l.1 1.5zM52.5 265.88m4 0l.4-1.8h.9l.4 1.8zm3 0l.5-2.4h.9l.5 2.4zm2 0l.6-2.7h1.2l.6 2.7zm4 0l.3-2.6h.8l.3 2.6zm4 0l.3-2.1h.6l.3 2.1zm2 0l.3-2.5h.7l.3 2.5zm1 0l.4-2.8h.9l.4 2.8zm4 0l.4-2.8h.7l.4 2.8zm3 0l.6-2.8h1.3l.6 2.8zm2 0l.3-2h.7l.3 2zm1 0l.2-2h.6l.2 2zm6 0l.2-2.4h.6l.2 2.4zm3 0l.5-1.9h.9l.5 1.9zm1 0l.9-1.7h2.3l.9 1.7zm1 0l.4-2.5h.7l.4 2.5zm2 0l.9-1.9h2.1l.9 1.9zm1 0l.6-2.9h1.3l.6 2.9zm4 0l.7-2.6h1.3l.7 2.6zm1 0l.9-2.5h2.5l.9 2.5zm1 0l.5-2.5h.9l.5 2.5zm1 0l.3-1.9h.8l.3 1.9zm3 0l.6-2.6h1l.6 2.6zm3 0l.3-2.3h.6l.3 2.3zm2 0l.6-1.7h1.2l.6 1.7zm3 0l.3-2.6h.5l.3 2.6zm4 0l.7-2.8h1.2l.7 2.8zm1 0l.5-2.3h.9l.5 2.3zm1 0l.7-2.5h1.3l.7 2.5zm1 0l.6-2.3h1.1l.6 2.3zm1 0l.5-2.9h.8l.5 2.9zm1 0l.8-2.7h1.5l.8 2.7zm1 0l.8-2.4h1.7l.8 2.4zm1 0l.6-2h1l.6 2zm1 0l.9-2h2.6l.9 2zm1 0l.3-1.7h.8l.3 1.7zm1 0l.6-2.5h1.2l.6 2.5zm7 0l.3-2.9h.5l.3 2.9zm3 0l.3-2.4h.6l.3 2.4zm2 0l.2-2.3h.5l.2 2.3zm1 0l.5-2.6h1l.5 2.6zm3 0l.4-2.7h.9l.4 2.7zm5 0l.2-1.7h.6l.2 1.7zm2 0l.2-2.9h.5l.2 2.9zm10 0l.4-1.9h.9l.4 1.9zm3 0l.7-2.8h1.4l.7 2.8zm5 0l.7-2.8h1.4l.7 2.8zm1 0l.7-2.2h1.3l.7 2.2zm1 0l.9-2.3h2.2l.9 2.3zm2 0l.8-1.8h1.5l.8 1.8zm1 0l.7-2.7h1.5l.7 2.7zm1 0l.5-1.6h1l.5 1.6zm2 0l.5-2.2h.8l.5 2.2zm1 0l.7-2.3h1.3l.7 2.3zm1 0l.7-2.5h1.5l.7 2.5zm2 0l.9-2.8h2.5l.9 2.8zm1 0l.3-2.7h.6l.3 2.7zm2 0l.6-2.4h1.2l.6 2.4zm5 0l.7-2.6h1.4l.7 2.6zm5 0l.9-2.8h2.5l.9 2.8zm1 0l.3-2.4h.8l.3 2.4zm2 0l.5-2.6h.8l.5 2.6zm1 0l.3-2.5h.5l.3 2.5zm1 0l.8-2.9h1.7l.8 2.9zm2 0l.2-2.1h.6l.2 2.1zm1 0l.9-2.6h2.3l.9 2.6zm1 0l.9-2.8h2.2l.9 2.8zm1 0l.9-2.3h2.3l.9 2.3zm1 0l.4-2.4h.8l.4 2.4zm1 0l.2-2.7h.5l.2 2.7zm2 0l.6-2.9h1.2l.6 2.9zm2 0l.1-1.9h.3l.1 1.9zM52.5 268.76m1 0l.5-2.7h.8l.5 2.7zm5 0l.3-2.6h.6l.3 2.6zm2 0l.6-2.8h1.3l.6 2.8zm1 0l.7-2.8h1.2l.7 2.8zm9 0l.2-2.9h.6l.2 2.9zm2 0l.4-2.9h.7l.4 2.9zm1 0l.4-1.9h.7l.4 1.9zm6 0l.2-2.6h.5l.2 2.6zm2 0l.2-2.3h.5l.2 2.3zm5 0l.7-1.9h1.2l.7 1.9zm3 0l.7-2.8h1.5l.7 2.8zm1 0l.4-2.1h.8l.4 2.1zm4 0l.6-2.9h1.2l.6 2.9zm1 0l.9-2.5h2.4l.9 2.5zm1 0l.5-2.9h.9l.5 2.9zm1 0l.8-2.6h1.7l.8 2.6zm3 0l.9-2.5h2.1l.9 2.5zm1 0l.2-1.9h.6l.2 1.9zm1 0l.3-2.7h.5l.3 2.7zm3 0l.6-1.6h1.2l.6 1.6zm6 0l.2-2.3h.6l.2 2.3zm4 0l.4-2.3h.9l.4 2.3zm1 0l.4-2.6h.8l.4 2.6zm1 0l.3-2.3h.5l.3 2.3zm1 0l.9-1.9h2.5l.9 1.9zm2 0l.9-2.5h1.9l.9 2.5zm2 0l.4-2.6h.9l.4 2.6zm1 0l.9-1.8h2.4l.9 1.8zm1 0l.6-2.2h1l.6 2.2zm1 0l.3-2.5h.5l.3 2.5zm1 0l.9-2.6h1.7l.9 2.6zm4 0l.3-2.3h.6l.3 2.3zm2 0l.7-2h1.3l.7 2zm1 0l.5-2.4h1.1l.5 2.4zm11 0l.6-2.7h1l.6 2.7zm1 0l.7-2.8h1.3l.7 2.8zm1 0l.6-1.9h1.2l.6 1.9zm2 0l.7-2.4h1.5l.7 2.4zm4 0l.7-2.3h1.3l.7 2.3zm1 0l.4-2.6h.7l.4 2.6zm1 0l.6-2.5h1.2l.6 2.5zm4 0l.2-2.7h.6l.2 2.7zm2 0l.6-2.9h1.1l.6 2.9zm4 0l.7-1.8h1.4l.7 1.8zm5 0l.8-2.1h1.6l.8 2.1zm1 0l.3-2.7h.6l.3 2.7zm1 0l.5-2.5h1l.5 2.5zm1 0l.2-2.9h.6l.2 2.9zm1 0l.6-2.7h1.3l.6 2.7zm1 0l.5-2.3h.8l.5 2.3zm1 0l.3-1.9h.8l.3 1.9zm1 0l.9-2.2h2.5l.9 2.2zm2 0l.8-2.6h1.4l.8 2.6zm1 0l.6-2.1h1l.6 2.1zm3 0l.5-2.2h1.1l.5 2.2zm5 0l.3-2.9h.8l.3 2.9zm3 0l.4-2.1h.9l.4 2.1zm1 0l.6-2.8h1.3l.6 2.8zm3 0l.9-2.6h2.2l.9 2.6zm1 0l.7-2.7h1.5l.7 2.7zm1 0l.4-2.6h.7l.4 2.6zm2 0l.8-2.3h1.4l.8 2.3zm1 0l.6-2.8h1l.6 2.8zm1 0l.9-2.7h2.2l.9 2.7zm1 0l.7-2.8h1.2l.7 2.8zm1 0l.8-2.1h1.4l.8 2.1zm2 0l.8-1.6h1.6l.8 1.6zm1 0l.6-2.7h1.1l.6 2.7zM52.5 271.65m6 0l.5-1.9h1.1l.5 1.9zm2 0l.5-2.5h1l.5 2.5zm5 0l.4-2.7h.8l.4 2.7zm2 0l.5-2h1l.5 2zm9 0l.7-2.7h1.3l.7 2.7zm3 0l.3-2.2h.7l.3 2.2zm10 0l.6-2.7h1.3l.6 2.7zm2 0l.8-2.3h1.4l.8 2.3zm1 0l.9-2.4h1.7l.9 2.4zm2 0l.8-2.7h1.8l.8 2.7zm2 0l.8-2.6h1.5l.8 2.6zm1 0l.8-2.1h1.6l.8 2.1zm1 0l.4-2.5h.8l.4 2.5zm1 0l.9-2.6h2.6l.9 2.6zm1 0l.3-2.1h.5l.3 2.1zm1 0l.5-2.1h1.1l.5 2.1zm1 0l.5-2.5h1.1l.5 2.5zm2 0l.7-2.4h1.4l.7 2.4zm3 0l.3-2.4h.8l.3 2.4zm2 0l.2-1.9h.6l.2 1.9zm5 0l.3-2.5h.8l.3 2.5zm1 0l.8-2.2h1.8l.8 2.2zm1 0l.3-2.6h.8l.3 2.6zm1 0l.7-2.5h1.5l.7 2.5zm1 0l.7-2.7h1.2l.7 2.7zm1 0l.3-2.1h.5l.3 2.1zm1 0l.9-2.1h2.6l.9 2.1zm1 0l.9-2.6h2.3l.9 2.6zm2 0l.9-2h1.7l.9 2zm2 0l.6-2.4h1.2l.6 2.4zm1 0l.5-2.7h.9l.5 2.7zm3 0l.3-2.5h.8l.3 2.5zm2 0l.5-2.3h1l.5 2.3zm1 0l.4-2.7h.9l.4 2.7zm1 0l.4-2.3h.7l.4 2.3zm1 0l.3-2.6h.7l.3 2.6zm7 0l.5-2.7h1l.5 2.7zm11 0l.3-2.6h.6l.3 2.6zm2 0l.6-2.7h1l.6 2.7zm7 0l.5-2.1h1.1l.5 2.1zm2 0l.5-2.6h.9l.5 2.6zm3 0l.3-2.2h.7l.3 2.2zm2 0l.9-2.5h2l.9 2.5zm1 0l.7-2.2h1.5l.7 2.2zm1 0l.4-2.2h.9l.4 2.2zm1 0l.8-2.2h1.4l.8 2.2zm1 0l.3-2.5h.7l.3 2.5zm1 0l.9-2.8h2.1l.9 2.8zm3 0l.3-2h.7l.3 2zm1 0l.5-1.9h1.1l.5 1.9zm1 0l.6-2.1h1l.6 2.1zm1 0l.6-2.7h1.1l.6 2.7zm1 0l.9-2.3h2.7l.9 2.3zm1 0l.6-2.6h1.2l.6 2.6zm2 0l.3-1.9h.7l.3 1.9zm1 0l.3-2.7h.6l.3 2.7zm1 0l.4-1.5h.7l.4 1.5zm1 0l.5-2.8h.9l.5 2.8zm4 0l.4-2.9h.8l.4 2.9zm2 0l.6-2.4h1.3l.6 2.4zm3 0l.7-1.8h1.3l.7 1.8zm1 0l.3-2.9h.6l.3 2.9zm2 0l.6-2.5h1.1l.6 2.5zm2 0l.3-2.8h.6l.3 2.8zm1 0l.9-2.1h1.9l.9 2.1zm1 0l.4-2.6h.8l.4 2.6zm1 0l.4-2.5h.7l.4 2.5zm1 0l.9-2.6h2.4l.9 2.6zm1 0l.3-2.5h.5l.3 2.5zm4 0l.4-2.1h.7l.4 2.1zM52.5 274.54m0 0l.6-2.6h1l.6 2.6zm2 0l.2-1.7h.6l.2 1.7zm2 0l.7-1.6h1.4l.7 1.6zm1 0l.6-2.5h1l.6 2.5zm6 0l.5-2.4h.9l.5 2.4zm4 0l.4-2h.9l.4 2zm2 0l.6-2.7h1.3l.6 2.7zm2 0l.3-2.5h.7l.3 2.5zm2 0l.3-2.9h.5l.3 2.9zm1 0l.7-2.7h1.3l.7 2.7zm2 0l.6-2.1h1.1l.6 2.1zm4 0l.2-2.6h.5l.2 2.6zm2 0l.7-2.9h1.4l.7 2.9zm3 0l.4-2.4h.9l.4 2.4zm3 0l.8-2.6h1.4l.8 2.6zm1 0l.9-2.1h2l.9 2.1zm1 0l.4-2.5h.9l.4 2.5zm1 0l.6-1.8h1.1l.6 1.8zm1 0l.7-2.2h1.3l.7 2.2zm1 0l.9-2.9h2.8l.9 2.9zm1 0l.6-2.4h1.2l.6 2.4zm1 0l.7-1.6h1.5l.7 1.6zm1 0l.5-2.6h1.1l.5 2.6zm1 0l.6-2h1l.6 2zm1 0l.6-2.6h1l.6 2.6zm1 0l.8-2.5h1.7l.8 2.5zm1 0l.7-2.7h1.3l.7 2.7zm1 0l.9-2.8h2.3l.9 2.8zm2 0l.4-1.5h.9l.4 1.5zm1 0l.7-2.8h1.4l.7 2.8zm2 0l.3-2.9h.7l.3 2.9zm1 0l.4-2.8h.9l.4 2.8zm1 0l.4-2.8h.7l.4 2.8zm3 0l.3-2.8h.7l.3 2.8zm1 0l.6-2.7h1.2l.6 2.7zm1 0l.3-1.9h.5l.3 1.9zm2 0l.7-2.5h1.2l.7 2.5zm1 0l.6-2h1.3l.6 2zm1 0l.9-2.4h2.1l.9 2.4zm1 0l.6-2.5h1.3l.6 2.5zm1 0l.6-2.8h1.1l.6 2.8zm2 0l.9-2.4h2.2l.9 2.4zm1 0l.5-2.1h.8l.5 2.1zm1 0l.9-2.4h2.3l.9 2.4zm1 0l.9-2.2h2.1l.9 2.2zm2 0l.8-2.1h1.7l.8 2.1zm1 0l.3-2.3h.5l.3 2.3zm8 0l.3-2.7h.6l.3 2.7zm4 0l.3-2.2h.5l.3 2.2zm2 0l.3-2h.7l.3 2zm4 0l.5-2.7h.9l.5 2.7zm2 0l.2-2.7h.5l.2 2.7zm2 0l.5-2.6h.9l.5 2.6zm1 0l.6-2.6h1.1l.6 2.6zm1 0l.4-2.3h.7l.4 2.3zm2 0l.3-2.1h.7l.3 2.1zm6 0l.3-1.5h.5l.3 1.5zm8 0l.9-2.3h1.9l.9 2.3zm1 0l.5-2.8h1l.5 2.8zm1 0l.9-2.6h2.2l.9 2.6zm1 0l.7-2.9h1.4l.7 2.9zm1 0l.8-2.5h1.5l.8 2.5zm1 0l.7-2.9h1.3l.7 2.9zm3 0l.6-2.6h1.2l.6 2.6zm3 0l.7-2.6h1.5l.7 2.6zm1 0l.8-2.6h1.6l.8 2.6zm1 0l.8-2.5h1.7l.8 2.5zm1 0l.2-2.6h.5l.2 2.6zm3 0l.6-2h1l.6 2zm2 0l.7-2.8h1.5l.7 2.8zm4 0l.3-2.2h.8l.3 2.2zm2 0l.3-1.7h.7l.3 1.7zm2 0l.9-2.3h2.3l.9 2.3zm1 0l.5-2h.8l.5 2zm1 0l.9-2.8h2.4l.9 2.8zm2 0l.7-2.5h1.5l.7 2.5zm2 0l.4-2.1h.9l.4 2.1zm3 0l.8-2.9h1.5l.8 2.9zm1 0l.9-2.8h1.9l.9 2.8zm1 0l.9-2.4h2.2l.9 2.4zm1 0l.7-2.2h1.3l.7 2.2zm2 0l.6-2.4h1.3l.6 2.4zm1 0l.4-1.9h.7l.4 1.9zM52.5 277.42m1 0l.7-2.1h1.3l.7 2.1zm1 0l.3-2.8h.5l.3 2.8zm14 0l.5-2.5h.9l.5 2.5zm1 0l.5-2.5h.9l.5 2.5zm1 0l.5-2.2h1l.5 2.2zm1 0l.7-2.5h1.3l.7 2.5zm2 0l.2-2.6h.6l.2 2.6zm2 0l.6-1.6h1.3l.6 1.6zm3 0l.5-1.7h.9l.5 1.7zm1 0l.6-2.8h1.2l.6 2.8zm2 0l.5-2.6h.8l.5 2.6zm1 0l.5-2.8h.9l.5 2.8zm1 0l.7-2.7h1.2l.7 2.7zm3 0l.3-2.4h.6l.3 2.4zm2 0l.7-2.3h1.3l.7 2.3zm1 0l.8-2.7h1.8l.8 2.7zm1 0l.5-2.2h.8l.5 2.2zm1 0l.3-2h.7l.3 2zm1 0l.5-2.3h.8l.5 2.3zm2 0l.7-2.7h1.5l.7 2.7zm1 0l.7-2.1h1.3l.7 2.1zm2 0l.6-1.9h1.3l.6 1.9zm1 0l.6-2.6h1l.6 2.6zm1 0l.9-2.8h2.3l.9 2.8zm1 0l.4-2.1h.8l.4 2.1zm1 0l.6-2.5h1.2l.6 2.5zm4 0l.6-2.8h1.1l.6 2.8zm6 0l.6-1.9h1.3l.6 1.9zm3 0l.9-2h1.8l.9 2zm1 0l.9-2.1h1.8l.9 2.1zm1 0l.7-2.4h1.5l.7 2.4zm1 0l.4-2.8h.8l.4 2.8zm2 0l.3-2.7h.7l.3 2.7zm1 0l.9-2.8h2.4l.9 2.8zm1 0l.9-2.3h1.8l.9 2.3zm1 0l.4-2.7h.7l.4 2.7zm2 0l.5-2.8h.9l.5 2.8zm1 0l.7-1.8h1.4l.7 1.8zm1 0l.9-1.8h2.5l.9 1.8zm12 0l.2-2.8h.6l.2 2.8zm4 0l.7-2.8h1.4l.7 2.8zm2 0l.3-2.7h.5l.3 2.7zm3 0l.7-2.6h1.2l.7 2.6zm4 0l.7-2.3h1.3l.7 2.3zm4 0l.3-2.6h.5l.3 2.6zm1 0l.6-2.9h1.2l.6 2.9zm9 0l.5-2.3h.8l.5 2.3zm1 0l.4-2.5h.7l.4 2.5zm1 0l.5-2.8h1l.5 2.8zm1 0l.7-2h1.4l.7 2zm1 0l.8-2.2h1.8l.8 2.2zm1 0l.8-2.5h1.6l.8 2.5zm1 0l.9-2h1.9l.9 2zm1 0l.9-2.2h2.6l.9 2.2zm3 0l.9-2.4h2.2l.9 2.4zm1 0l.6-1.9h1l.6 1.9zm1 0l.7-2.6h1.2l.7 2.6zm1 0l.7-1.9h1.3l.7 1.9zm1 0l.5-2.6h1.1l.5 2.6zm9 0l.5-2.8h1l.5 2.8zm1 0l.4-2.3h.7l.4 2.3zm4 0l.5-2.6h1.1l.5 2.6zm2 0l.9-1.8h1.7l.9 1.8zm1 0l.5-2.3h1.1l.5 2.3zm1 0l.3-2.6h.8l.3 2.6zm2 0l.2-2.6h.5l.2 2.6zm1 0l.9-2.2h2.5l.9 2.2zm1 0l.8-2.6h1.4l.8 2.6zm1 0l.4-2.5h.8l.4 2.5zm1 0l.6-2.4h1.2l.6 2.4zm1 0l.4-2.2h.9l.4 2.2zm1 0l.5-2h1l.5 2zm2 0l.5-2.8h.9l.5 2.8zM52.5 280.31m0 0l.6-1.8h1.1l.6 1.8zm10 0l.5-2.2h.9l.5 2.2zm2 0l.3-1.8h.8l.3 1.8zm1 0l.6-2.5h1.3l.6 2.5zm1 0l.6-2.3h1.3l.6 2.3zm1 0l.4-2.2h.8l.4 2.2zm1 0l.2-1.5h.6l.2 1.5zm5 0l.3-2.8h.8l.3 2.8zm6 0l.5-2.2h1l.5 2.2zm3 0l.6-2.5h1l.6 2.5zm2 0l.3-2.8h.5l.3 2.8zm3 0l.7-2.9h1.4l.7 2.9zm1 0l.8-2.4h1.5l.8 2.4zm1 0l.9-2.7h2.6l.9 2.7zm1 0l.5-2.8h1.1l.5 2.8zm1 0l.9-2.7h2.4l.9 2.7zm2 0l.9-2.4h1.9l.9 2.4zm1 0l.5-1.9h1.1l.5 1.9zm1 0l.9-2.2h2.7l.9 2.2zm1 0l.9-2.9h1.9l.9 2.9zm1 0l.5-2.8h1.1l.5 2.8zm2 0l.8-2.4h1.6l.8 2.4zm2 0l.4-2.2h.7l.4 2.2zm4 0l.2-2.7h.6l.2 2.7zm1 0l.5-2.8h.8l.5 2.8zm1 0l.3-2.1h.8l.3 2.1zm2 0l.7-2.4h1.2l.7 2.4zm5 0l.4-2h.7l.4 2zm1 0l.6-1.9h1.2l.6 1.9zm2 0l.8-2.6h1.7l.8 2.6zm1 0l.5-2.3h1l.5 2.3zm2 0l.9-2.1h2.4l.9 2.1zm1 0l.9-2h2.5l.9 2zm2 0l.9-1.9h2l.9 1.9zm1 0l.7-2.7h1.3l.7 2.7zm2 0l.7-2.7h1.3l.7 2.7zm3 0l.5-1.7h1l.5 1.7zm5 0l.3-2.4h.7l.3 2.4zm5 0l.6-2.3h1.2l.6 2.3zm2 0l.6-2.8h1.2l.6 2.8zm1 0l.7-2h1.2l.7 2zm6 0l.6-2.4h1l.6 2.4zm2 0l.6-2.1h1.1l.6 2.1zm5 0l.4-2h.8l.4 2zm1 0l.5-2.2h1.1l.5 2.2zm2 0l.7-2.5h1.4l.7 2.5zm1 0l.7-2.6h1.4l.7 2.6zm1 0l.5-2.2h.8l.5 2.2zm1 0l.4-2.7h.8l.4 2.7zm7 0l.7-2.4h1.2l.7 2.4zm1 0l.6-2.4h1l.6 2.4zm1 0l.5-2.6h.9l.5 2.6zm1 0l.9-1.9h2.4l.9 1.9zm2 0l.5-1.7h1.1l.5 1.7zm1 0l.9-2.4h1.8l.9 2.4zm2 0l.9-2.5h2.4l.9 2.5zm1 0l.5-2.7h.9l.5 2.7zm1 0l.5-1.5h1.1l.5 1.5zm1 0l.9-1.9h2l.9 1.9zm6 0l.6-2.8h1.3l.6 2.8zm3 0l.6-2.5h1.1l.6 2.5zm4 0l.3-2.6h.7l.3 2.6zm1 0l.7-2.1h1.3l.7 2.1zm2 0l.9-2.6h2.4l.9 2.6zm1 0l.4-2.9h.9l.4 2.9zm4 0l.9-2.5h1.7l.9 2.5zm1 0l.7-2.1h1.3l.7 2.1zm1 0l.4-2.7h.8l.4 2.7zm2 0l.5-2.6h.9l.5 2.6zm1 0l.3-2.7h.7l.3 2.7zm1 0l.3-1.8h.5l.3 1.8zm4 0l.1-2.8h.3l.1 2.8zM52.5 283.2m4 0l.6-2.4h1.3l.6 2.4zm4 0l.5-2.8h1.1l.5 2.8zm3 0l.6-2.3h1.1l.6 2.3zm2 0l.2-2.6h.5l.2 2.6zm1 0l.7-2.4h1.4l.7 2.4zm1 0l.7-1.9h1.4l.7 1.9zm3 0l.2-1.6h.5l.2 1.6zm4 0l.5-2.7h1.1l.5 2.7zm3 0l.7-1.9h1.4l.7 1.9zm2 0l.2-2.4h.6l.2 2.4zm6 0l.4-2.5h.9l.4 2.5zm2 0l.5-1.8h.8l.5 1.8zm1 0l.6-2.8h1.1l.6 2.8zm1 0l.9-2.6h2.1l.9 2.6zm1 0l.9-2.5h2.4l.9 2.5zm2 0l.5-2.5h.8l.5 2.5zm1 0l.9-2.8h1.7l.9 2.8zm1 0l.7-2.5h1.2l.7 2.5zm1 0l.7-2.8h1.2l.7 2.8zm1 0l.9-2.8h1.7l.9 2.8zm3 0l.9-2.8h2.8l.9 2.8zm1 0l.9-1.9h2.3l.9 1.9zm3 0l.5-2.4h1.1l.5 2.4zm4 0l.3-2.8h.7l.3 2.8zm2 0l.7-2.3h1.3l.7 2.3zm6 0l.7-2.4h1.2l.7 2.4zm1 0l.5-2.3h1.1l.5 2.3zm1 0l.9-2.2h1.7l.9 2.2zm1 0l.3-2.6h.8l.3 2.6zm2 0l.7-2.5h1.3l.7 2.5zm1 0l.9-2.6h2l.9 2.6zm2 0l.7-2.3h1.5l.7 2.3zm1 0l.3-2.8h.5l.3 2.8zm2 0l.9-2h1.9l.9 2zm1 0l.4-2.8h.8l.4 2.8zm1 0l.2-2.4h.5l.2 2.4zm7 0l.6-2.4h1.1l.6 2.4zm1 0l.5-2.4h.8l.5 2.4zm1 0l.2-2.6h.6l.2 2.6zm4 0l.6-2h1.2l.6 2zm3 0l.3-2.7h.6l.3 2.7zm3 0l.5-2.1h1l.5 2.1zm2 0l.2-1.9h.5l.2 1.9zm12 0l.6-2.7h1l.6 2.7zm1 0l.6-2.7h1.1l.6 2.7zm1 0l.7-2.7h1.4l.7 2.7zm1 0l.6-2.5h1l.6 2.5zm2 0l.9-2.4h2.2l.9 2.4zm1 0l.9-2.8h2.2l.9 2.8zm1 0l.8-2.6h1.7l.8 2.6zm1 0l.2-2.3h.6l.2 2.3zm1 0l.3-2.8h.8l.3 2.8zm1 0l.2-2.9h.6l.2 2.9zm1 0l.3-2.8h.6l.3 2.8zm1 0l.2-2.7h.6l.2 2.7zm1 0l.7-2.9h1.5l.7 2.9zm1 0l.8-2.8h1.6l.8 2.8zm2 0l.7-1.9h1.3l.7 1.9zm1 0l.8-2.1h1.4l.8 2.1zm4 0l.5-2.7h.8l.5 2.7zm3 0l.3-2.3h.6l.3 2.3zm2 0l.7-2.1h1.2l.7 2.1zm2 0l.7-2.2h1.3l.7 2.2zm2 0l.7-2.3h1.3l.7 2.3zm2 0l.9-2.6h1.7l.9 2.6zm3 0l.9-1.7h2.1l.9 1.7zm1 0l.3-1.7h.7l.3 1.7zm1 0l.8-2.3h1.8l.8 2.3zm4 0l.9-2.5h2.2l.9 2.5zm1 0l.6-2.5h1.3l.6 2.5zm1 0l.9-2.5h2.3l.9 2.5zm1 0l.4-2.8h.9l.4 2.8zm3 0l.4-2.2h.9l.4 2.2zM52.5 286.08m5 0l.7-2.8h1.2l.7 2.8zm3 0l.2-2.8h.6l.2 2.8zm6 0l.6-2.1h1.1l.6 2.1zm2 0l.3-2.9h.6l.3 2.9zm3 0l.2-1.8h.6l.2 1.8zm1 0l.5-2.4h.9l.5 2.4zm1 0l.7-2.2h1.4l.7 2.2zm3 0l.7-2.7h1.3l.7 2.7zm3 0l.6-2.8h1.2l.6 2.8zm1 0l.5-2h.9l.5 2zm2 0l.5-2.7h1l.5 2.7zm1 0l.7-1.9h1.4l.7 1.9zm2 0l.2-2.3h.5l.2 2.3zm1 0l.6-2.8h1.1l.6 2.8zm1 0l.5-2.2h1l.5 2.2zm2 0l.7-2.4h1.2l.7 2.4zm1 0l.3-2h.7l.3 2zm1 0l.5-2.6h.8l.5 2.6zm1 0l.6-2.3h1l.6 2.3zm1 0l.4-2.6h.8l.4 2.6zm1 0l.9-2.2h2.6l.9 2.2zm2 0l.9-2.5h2.2l.9 2.5zm7 0l.3-2.2h.5l.3 2.2zm1 0l.2-2.8h.5l.2 2.8zm3 0l.5-2.8h1.1l.5 2.8zm7 0l.9-1.6h1.8l.9 1.6zm1 0l.9-2.5h1.8l.9 2.5zm1 0l.9-2.3h2.4l.9 2.3zm2 0l.2-2.4h.5l.2 2.4zm1 0l.6-2.2h1.3l.6 2.2zm1 0l.9-2.7h2.3l.9 2.7zm5 0l.9-2.5h1.8l.9 2.5zm1 0l.6-2.5h1.3l.6 2.5zm3 0l.5-2.3h.8l.5 2.3zm1 0l.7-1.5h1.2l.7 1.5zm2 0l.3-1.9h.7l.3 1.9zm5 0l.4-1.7h.8l.4 1.7zm5 0l.6-1.8h1.2l.6 1.8zm3 0l.5-2.2h1l.5 2.2zm4 0l.5-2.1h.8l.5 2.1zm5 0l.3-2.5h.6l.3 2.5zm4 0l.4-2.7h.8l.4 2.7zm3 0l.7-2.1h1.3l.7 2.1zm2 0l.7-1.6h1.4l.7 1.6zm1 0l.7-2.9h1.5l.7 2.9zm1 0l.5-2.6h1.1l.5 2.6zm1 0l.6-2.4h1l.6 2.4zm1 0l.9-1.5h2.6l.9 1.5zm1 0l.5-2.8h.8l.5 2.8zm1 0l.3-2.2h.6l.3 2.2zm1 0l.8-2.9h1.4l.8 2.9zm1 0l.7-2.2h1.4l.7 2.2zm2 0l.9-2.7h2.2l.9 2.7zm2 0l.2-2.5h.6l.2 2.5zm1 0l.2-2.2h.5l.2 2.2zm5 0l.2-2.5h.6l.2 2.5zm3 0l.6-2.1h1.1l.6 2.1zm5 0l.5-2.5h.8l.5 2.5zm2 0l.6-2.8h1.2l.6 2.8zm1 0l.6-1.8h1l.6 1.8zm2 0l.9-2.4h2.5l.9 2.4zm2 0l.3-2.4h.7l.3 2.4zm2 0l.9-2.5h2.6l.9 2.5zm3 0l.5-1.9h.8l.5 1.9zm1 0l.6-2h1.3l.6 2zm2 0l.9-2.7h1.7l.9 2.7zm4 0l.3-2.7h.8l.3 2.7zM52.5 288.97m9 0l.6-2.6h1l.6 2.6zm7 0l.4-1.8h.9l.4 1.8zm5 0l.7-2.4h1.3l.7 2.4zm2 0l.5-2.2h.9l.5 2.2zm1 0l.4-2.7h.7l.4 2.7zm1 0l.5-2.1h.9l.5 2.1zm5 0l.7-2.7h1.3l.7 2.7zm1 0l.3-2.7h.6l.3 2.7zm3 0l.7-2.8h1.3l.7 2.8zm1 0l.9-2.9h2.4l.9 2.9zm1 0l.7-2.8h1.2l.7 2.8zm3 0l.5-2.6h1.1l.5 2.6zm1 0l.8-2.7h1.6l.8 2.7zm1 0l.5-2.7h1l.5 2.7zm2 0l.4-2.9h.9l.4 2.9zm1 0l.6-2.9h1.1l.6 2.9zm5 0l.4-2.9h.7l.4 2.9zm1 0l.3-2.8h.8l.3 2.8zm2 0l.3-2.9h.5l.3 2.9zm4 0l.7-2.5h1.5l.7 2.5zm1 0l.3-2.4h.6l.3 2.4zm2 0l.6-2.3h1.1l.6 2.3zm5 0l.3-2.3h.7l.3 2.3zm1 0l.8-2.7h1.6l.8 2.7zm1 0l.4-2h.9l.4 2zm6 0l.5-2.5h.8l.5 2.5zm1 0l.7-2.8h1.5l.7 2.8zm5 0l.5-2h1l.5 2zm1 0l.3-2.5h.6l.3 2.5zm1 0l.7-2.5h1.4l.7 2.5zm4 0l.5-2.6h1.1l.5 2.6zm1 0l.6-2.8h1.2l.6 2.8zm2 0l.3-2.2h.7l.3 2.2zm1 0l.7-2.7h1.3l.7 2.7zm2 0l.5-2.8h.8l.5 2.8zm1 0l.6-2.8h1.3l.6 2.8zm1 0l.7-2.8h1.4l.7 2.8zm2 0l.3-2.7h.8l.3 2.7zm2 0l.5-2.7h.8l.5 2.7zm2 0l.5-2.1h1.1l.5 2.1zm1 0l.4-2.4h.7l.4 2.4zm3 0l.6-2.1h1.3l.6 2.1zm10 0l.8-2.3h1.7l.8 2.3zm3 0l.8-2.9h1.5l.8 2.9zm1 0l.5-2.4h1.1l.5 2.4zm1 0l.6-1.8h1.2l.6 1.8zm1 0l.7-1.6h1.5l.7 1.6zm1 0l.9-2.7h2.6l.9 2.7zm1 0l.8-2.7h1.6l.8 2.7zm2 0l.7-2.5h1.3l.7 2.5zm1 0l.8-2.3h1.5l.8 2.3zm1 0l.3-2.2h.5l.3 2.2zm1 0l.5-1.6h.8l.5 1.6zm3 0l.7-2.5h1.4l.7 2.5zm2 0l.3-2.3h.8l.3 2.3zm1 0l.3-1.9h.8l.3 1.9zm2 0l.5-2.7h.9l.5 2.7zm7 0l.5-2.1h.9l.5 2.1zm2 0l.7-2.5h1.4l.7 2.5zm1 0l.7-2.4h1.5l.7 2.4zm1 0l.3-2.2h.6l.3 2.2zm1 0l.7-2.2h1.5l.7 2.2zm2 0l.7-2.8h1.2l.7 2.8zm2 0l.3-2.8h.5l.3 2.8zm1 0l.9-2.6h1.8l.9 2.6zm3 0l.6-1.7h1.2l.6 1.7zm4 0l.4-2.3h.7l.4 2.3zm1 0l.1-2.7h.3l.1 2.7zM52.5 291.86m8 0l.3-2.5h.6l.3 2.5zm17 0l.7-2.4h1.3l.7 2.4zm1 0l.6-1.8h1.3l.6 1.8zm1 0l.6-2.9h1.3l.6 2.9zm6 0l.6-2.7h1.3l.6 2.7zm1 0l.3-1.9h.5l.3 1.9zm1 0l.9-2.6h1.7l.9 2.6zm1 0l.9-2h1.8l.9 2zm1 0l.9-2.7h2.4l.9 2.7zm1 0l.3-2.7h.5l.3 2.7zm1 0l.3-2.4h.7l.3 2.4zm2 0l.8-2.4h1.6l.8 2.4zm1 0l.3-2.7h.5l.3 2.7zm1 0l.8-2.8h1.7l.8 2.8zm1 0l.9-2.4h2.8l.9 2.4zm2 0l.7-2.5h1.4l.7 2.5zm1 0l.5-2.1h1l.5 2.1zm1 0l.3-2.3h.5l.3 2.3zm3 0l.6-2.3h1.2l.6 2.3zm1 0l.2-2.9h.5l.2 2.9zm9 0l.6-2.8h1.3l.6 2.8zm1 0l.9-2.8h2.3l.9 2.8zm1 0l.9-2.6h2.3l.9 2.6zm2 0l.9-2.4h2l.9 2.4zm1 0l.5-2.2h1.1l.5 2.2zm1 0l.8-2.8h1.6l.8 2.8zm2 0l.6-1.8h1.2l.6 1.8zm1 0l.8-2.9h1.6l.8 2.9zm1 0l.9-2.9h2.1l.9 2.9zm1 0l.5-2.8h1.1l.5 2.8zm1 0l.5-2.2h.9l.5 2.2zm1 0l.5-2.7h1l.5 2.7zm1 0l.3-2.2h.5l.3 2.2zm3 0l.6-2.8h1.1l.6 2.8zm1 0l.6-2.9h1l.6 2.9zm3 0l.6-2.2h1.1l.6 2.2zm1 0l.3-2.4h.6l.3 2.4zm2 0l.6-2.8h1.3l.6 2.8zm6 0l.7-2.2h1.5l.7 2.2zm11 0l.7-2.8h1.3l.7 2.8zm4 0l.5-2.6h.9l.5 2.6zm3 0l.5-2.5h1l.5 2.5zm3 0l.9-2.1h2.4l.9 2.1zm1 0l.4-2.6h.9l.4 2.6zm1 0l.7-2.4h1.3l.7 2.4zm1 0l.2-2.6h.5l.2 2.6zm1 0l.6-2.5h1.1l.6 2.5zm3 0l.9-2.6h2.8l.9 2.6zm1 0l.3-2h.8l.3 2zm4 0l.4-2.7h.9l.4 2.7zm1 0l.4-2.8h.9l.4 2.8zm2 0l.3-1.8h.7l.3 1.8zm1 0l.6-1.9h1.1l.6 1.9zm1 0l.3-2.7h.8l.3 2.7zm5 0l.7-2h1.3l.7 2zm3 0l.3-2.3h.7l.3 2.3zm1 0l.2-2.3h.5l.2 2.3zm2 0l.4-1.7h.7l.4 1.7zm1 0l.9-2.7h1.7l.9 2.7zm1 0l.8-2.8h1.5l.8 2.8zm2 0l.5-2.6h1l.5 2.6zm2 0l.5-2.6h.9l.5 2.6zm1 0l.5-2.4h1l.5 2.4zm1 0l.4-2.6h.7l.4 2.6zm1 0l.9-1.5h2.3l.9 1.5zm2 0l.7-2.3h1.3l.7 2.3zm1 0l.8-2.8h1.8l.8 2.8zm1 0l.6-2.5h1l.6 2.5zm1 0l.5-2.4h.8l.5 2.4zM52.5 294.74m1 0l.6-2.6h1.3l.6 2.6zm1 0l.4-2.9h.9l.4 2.9zm1 0l.2-2.2h.6l.2 2.2zm3 0l.4-2.7h.7l.4 2.7zm7 0l.6-2.7h1l.6 2.7zm1 0l.5-2.8h1l.5 2.8zm2 0l.7-2.1h1.2l.7 2.1zm3 0l.4-2.4h.7l.4 2.4zm6 0l.3-2.1h.6l.3 2.1zm3 0l.3-1.6h.8l.3 1.6zm2 0l.7-2.6h1.3l.7 2.6zm3 0l.9-2.6h2.2l.9 2.6zm2 0l.9-2.2h2.8l.9 2.2zm1 0l.7-2.9h1.3l.7 2.9zm3 0l.9-2.5h1.9l.9 2.5zm2 0l.7-2.8h1.2l.7 2.8zm1 0l.6-2.1h1l.6 2.1zm7 0l.3-2.6h.6l.3 2.6zm1 0l.6-2.7h1.3l.6 2.7zm2 0l.5-2.4h.8l.5 2.4zm2 0l.5-2.3h.8l.5 2.3zm1 0l.6-2.5h1l.6 2.5zm2 0l.5-2.1h1l.5 2.1zm2 0l.7-2.2h1.3l.7 2.2zm3 0l.9-2h2.3l.9 2zm2 0l.9-2h2.6l.9 2zm1 0l.7-2.1h1.5l.7 2.1zm1 0l.9-2.7h2.4l.9 2.7zm1 0l.4-2h.8l.4 2zm1 0l.5-2.4h1l.5 2.4zm2 0l.8-2.3h1.8l.8 2.3zm1 0l.7-2.2h1.4l.7 2.2zm1 0l.6-2.1h1.3l.6 2.1zm1 0l.8-2.8h1.5l.8 2.8zm1 0l.5-2.4h1l.5 2.4zm3 0l.3-2.3h.8l.3 2.3zm3 0l.4-2.8h.8l.4 2.8zm2 0l.2-2.4h.6l.2 2.4zm2 0l.5-2.5h.9l.5 2.5zm3 0l.5-2.9h1.1l.5 2.9zm4 0l.6-2.8h1l.6 2.8zm3 0l.7-2.4h1.3l.7 2.4zm2 0l.3-2.7h.7l.3 2.7zm2 0l.7-2.8h1.2l.7 2.8zm1 0l.4-2.2h.8l.4 2.2zm3 0l.2-2.1h.6l.2 2.1zm1 0l.3-2.6h.8l.3 2.6zm1 0l.7-2.9h1.3l.7 2.9zm1 0l.2-2.8h.6l.2 2.8zm2 0l.3-2.8h.7l.3 2.8zm2 0l.3-1.8h.6l.3 1.8zm2 0l.5-2.4h1l.5 2.4zm2 0l.3-2.3h.8l.3 2.3zm1 0l.6-2.8h1.3l.6 2.8zm1 0l.6-2.6h1.1l.6 2.6zm1 0l.9-2.4h2l.9 2.4zm1 0l.9-2.8h2.4l.9 2.8zm2 0l.8-2.6h1.4l.8 2.6zm2 0l.8-2.9h1.8l.8 2.9zm2 0l.4-2.6h.7l.4 2.6zm1 0l.9-2.3h1.7l.9 2.3zm3 0l.3-2.4h.6l.3 2.4zm1 0l.2-2.5h.6l.2 2.5zm2 0l.6-2.9h1.1l.6 2.9zm3 0l.7-2.6h1.3l.7 2.6zm3 0l.4-2.1h.7l.4 2.1zm2 0l.5-2.6h.8l.5 2.6zm1 0l.5-2.3h1.1l.5 2.3zm1 0l.6-2.7h1.3l.6 2.7zm1 0l.5-2h.8l.5 2zm1 0l.9-2.4h2.5l.9 2.4zm1 0l.9-1.7h2.6l.9 1.7zm1 0l.5-1.9h.9l.5 1.9zm1 0l.9-2h1.8l.9 2zm1 0l.3-2.7h.6l.3 2.7zm1 0l.8-2.9h1.4l.8 2.9zm1 0l.9-2.1h1.7l.9 2.1zm2 0l.4-2.3h.9l.4 2.3zm2 0l.2-2.9h.5l.2 2.9zm1 0l.8-2h1.4l.8 2zM52.5 297.63m5 0l.7-2.3h1.2l.7 2.3zm4 0l.7-2.8h1.4l.7 2.8zm1 0l.6-2.9h1.1l.6 2.9zm1 0l.5-2.6h1l.5 2.6zm3 0l.4-2.3h.9l.4 2.3zm1 0l.4-2.3h.8l.4 2.3zm4 0l.5-2.2h.9l.5 2.2zm9 0l.6-2.4h1l.6 2.4zm3 0l.6-2.6h1.3l.6 2.6zm1 0l.9-2.7h2.5l.9 2.7zm1 0l.9-2.1h2.2l.9 2.1zm1 0l.9-2.5h2.3l.9 2.5zm1 0l.3-2.4h.8l.3 2.4zm2 0l.4-2h.7l.4 2zm1 0l.8-2.6h1.4l.8 2.6zm1 0l.3-2.5h.5l.3 2.5zm1 0l.3-2.6h.5l.3 2.6zm1 0l.9-2.5h1.9l.9 2.5zm1 0l.3-2.5h.5l.3 2.5zm1 0l.9-2.2h1.7l.9 2.2zm1 0l.8-2.4h1.8l.8 2.4zm1 0l.8-2.5h1.6l.8 2.5zm4 0l.4-2.2h.7l.4 2.2zm2 0l.7-2.4h1.4l.7 2.4zm3 0l.3-2.2h.7l.3 2.2zm1 0l.4-2.6h.9l.4 2.6zm1 0l.6-1.8h1.3l.6 1.8zm1 0l.2-2.1h.5l.2 2.1zm5 0l.3-2.6h.5l.3 2.6zm3 0l.2-2.5h.6l.2 2.5zm1 0l.3-2.4h.7l.3 2.4zm1 0l.9-2.7h2.2l.9 2.7zm1 0l.3-1.8h.8l.3 1.8zm1 0l.7-2.7h1.2l.7 2.7zm1 0l.3-2.3h.8l.3 2.3zm1 0l.9-2.6h2.2l.9 2.6zm3 0l.9-2.8h1.8l.9 2.8zm3 0l.6-2.5h1.2l.6 2.5zm1 0l.4-2.3h.7l.4 2.3zm1 0l.7-2.5h1.3l.7 2.5zm4 0l.4-2.3h.8l.4 2.3zm3 0l.6-2.6h1.3l.6 2.6zm1 0l.4-2.8h.7l.4 2.8zm4 0l.5-2.6h.9l.5 2.6zm3 0l.5-2.8h1.1l.5 2.8zm4 0l.6-2.7h1l.6 2.7zm1 0l.6-2.8h1.1l.6 2.8zm3 0l.3-2.6h.8l.3 2.6zm8 0l.7-2.7h1.4l.7 2.7zm1 0l.9-2.5h2.2l.9 2.5zm1 0l.7-2.3h1.4l.7 2.3zm1 0l.5-2.3h.8l.5 2.3zm3 0l.9-2.4h2.8l.9 2.4zm1 0l.8-2.4h1.8l.8 2.4zm1 0l.7-2.4h1.3l.7 2.4zm1 0l.7-1.9h1.3l.7 1.9zm1 0l.4-2h.8l.4 2zm3 0l.3-2.1h.8l.3 2.1zm1 0l.3-2.5h.7l.3 2.5zm5 0l.6-2.6h1l.6 2.6zm2 0l.7-1.6h1.3l.7 1.6zm4 0l.4-2.6h.7l.4 2.6zm6 0l.6-2.2h1.2l.6 2.2zm1 0l.9-1.8h2.5l.9 1.8zm2 0l.9-2.2h1.7l.9 2.2zm3 0l.9-2.8h2.1l.9 2.8zm1 0l.7-2.3h1.5l.7 2.3zm1 0l.5-2.7h1.1l.5 2.7zm4 0l.3-2h.5l.3 2zm1 0l.3-2.2h.8l.3 2.2zm3 0l.3-2.5h.8l.3 2.5zM52.5 300.52m1 0l.3-2.5h.6l.3 2.5zm1 0l.3-2.8h.7l.3 2.8zm3 0l.6-2h1.2l.6 2zm7 0l.5-2.4h1l.5 2.4zm3 0l.6-1.9h1.3l.6 1.9zm4 0l.7-2.5h1.3l.7 2.5zm1 0l.3-2.7h.8l.3 2.7zm3 0l.7-2.4h1.3l.7 2.4zm3 0l.4-2.4h.7l.4 2.4zm3 0l.4-2.6h.9l.4 2.6zm1 0l.7-2.6h1.4l.7 2.6zm2 0l.9-2.9h2.8l.9 2.9zm3 0l.7-1.7h1.4l.7 1.7zm1 0l.7-2.1h1.4l.7 2.1zm1 0l.5-2.6h1.1l.5 2.6zm1 0l.9-1.7h2.4l.9 1.7zm2 0l.8-2.3h1.4l.8 2.3zm1 0l.5-2.6h.8l.5 2.6zm1 0l.9-2.6h2.3l.9 2.6zm1 0l.6-2.6h1.2l.6 2.6zm4 0l.3-2.9h.7l.3 2.9zm2 0l.7-2.3h1.4l.7 2.3zm1 0l.3-2.7h.6l.3 2.7zm1 0l.5-2.4h1l.5 2.4zm3 0l.5-2.8h.8l.5 2.8zm8 0l.9-2.9h2.6l.9 2.9zm1 0l.7-2.6h1.2l.7 2.6zm1 0l.4-2.6h.9l.4 2.6zm1 0l.5-2.7h1l.5 2.7zm1 0l.5-2h.8l.5 2zm1 0l.7-2.3h1.3l.7 2.3zm1 0l.6-2.8h1.3l.6 2.8zm1 0l.7-1.9h1.2l.7 1.9zm3 0l.8-2.7h1.6l.8 2.7zm1 0l.8-2.4h1.6l.8 2.4zm1 0l.9-2.1h2l.9 2.1zm1 0l.3-2.8h.7l.3 2.8zm2 0l.4-1.6h.7l.4 1.6zm6 0l.7-2.8h1.2l.7 2.8zm2 0l.2-2.1h.6l.2 2.1zm3 0l.3-2.7h.7l.3 2.7zm8 0l.5-2.3h1l.5 2.3zm2 0l.6-2.1h1.3l.6 2.1zm1 0l.6-2.8h1l.6 2.8zm5 0l.4-2.1h.7l.4 2.1zm4 0l.7-2.3h1.4l.7 2.3zm2 0l.9-2.9h2.3l.9 2.9zm2 0l.9-1.7h1.7l.9 1.7zm1 0l.9-2.7h2.3l.9 2.7zm3 0l.3-2.2h.8l.3 2.2zm1 0l.9-1.7h2.2l.9 1.7zm1 0l.3-1.8h.5l.3 1.8zm1 0l.9-2.5h2.3l.9 2.5zm1 0l.6-2.8h1.1l.6 2.8zm2 0l.4-2.1h.7l.4 2.1zm3 0l.3-2.4h.6l.3 2.4zm2 0l.2-2.4h.6l.2 2.4zm1 0l.3-2.8h.6l.3 2.8zm3 0l.7-2.8h1.2l.7 2.8zm1 0l.6-2.4h1.1l.6 2.4zm1 0l.2-2.7h.6l.2 2.7zm1 0l.6-2.2h1.3l.6 2.2zm2 0l.7-2.7h1.4l.7 2.7zm2 0l.3-2h.5l.3 2zm2 0l.3-2.2h.6l.3 2.2zm1 0l.9-2.1h2.2l.9 2.1zm2 0l.9-2.1h1.7l.9 2.1zm1 0l.9-2.1h2.3l.9 2.1zm1 0l.9-2.7h2.2l.9 2.7zm1 0l.5-2.6h.9l.5 2.6zm1 0l.3-2.5h.6l.3 2.5zm1 0l.5-2.1h.8l.5 2.1zm2 0l.4-2.4h.9l.4 2.4zm2 0l.6-2.8h1.3l.6 2.8zm4 0l.5-2.8h1l.5 2.8zm1 0l.4-2.1h.7l.4 2.1zM52.5 303.41m0 0l.4-2.8h.9l.4 2.8zm1 0l.4-2.5h.9l.4 2.5zm1 0l.7-1.9h1.3l.7 1.9zm2 0l.5-2.8h1l.5 2.8zm1 0l.5-2.8h1.1l.5 2.8zm2 0l.2-2.8h.6l.2 2.8zm4 0l.5-2.4h.8l.5 2.4zm1 0l.6-2.1h1l.6 2.1zm2 0l.3-2.5h.6l.3 2.5zm1 0l.3-1.7h.6l.3 1.7zm3 0l.4-1.8h.8l.4 1.8zm1 0l.3-2.8h.6l.3 2.8zm2 0l.6-2.5h1.3l.6 2.5zm2 0l.7-2.7h1.4l.7 2.7zm4 0l.5-2.7h1.1l.5 2.7zm1 0l.5-2.7h1.1l.5 2.7zm3 0l.7-2.3h1.4l.7 2.3zm1 0l.9-2.1h2.5l.9 2.1zm1 0l.8-2.8h1.5l.8 2.8zm1 0l.8-2.5h1.7l.8 2.5zm1 0l.9-2.5h2.7l.9 2.5zm1 0l.9-2.5h1.7l.9 2.5zm1 0l.8-1.8h1.4l.8 1.8zm3 0l.3-1.9h.8l.3 1.9zm1 0l.9-2.5h2.3l.9 2.5zm1 0l.6-2.6h1.1l.6 2.6zm1 0l.7-2.3h1.3l.7 2.3zm1 0l.5-1.9h1l.5 1.9zm1 0l.7-2.8h1.4l.7 2.8zm4 0l.7-1.9h1.2l.7 1.9zm8 0l.6-1.8h1.1l.6 1.8zm2 0l.4-2.7h.9l.4 2.7zm2 0l.4-1.8h.9l.4 1.8zm1 0l.6-2.5h1l.6 2.5zm4 0l.9-2.7h2.5l.9 2.7zm2 0l.9-2.3h2l.9 2.3zm2 0l.5-2h1.1l.5 2zm1 0l.8-2.8h1.7l.8 2.8zm1 0l.2-2.4h.6l.2 2.4zm1 0l.9-1.7h2.2l.9 1.7zm1 0l.4-2.6h.9l.4 2.6zm5 0l.7-2.8h1.3l.7 2.8zm5 0l.6-2.3h1l.6 2.3zm1 0l.5-2.2h1.1l.5 2.2zm4 0l.5-2.4h1.1l.5 2.4zm4 0l.5-1.8h1l.5 1.8zm9 0l.3-2.6h.7l.3 2.6zm2 0l.4-2.4h.7l.4 2.4zm2 0l.6-2.5h1l.6 2.5zm3 0l.7-1.9h1.5l.7 1.9zm1 0l.3-2.3h.5l.3 2.3zm1 0l.4-2.5h.7l.4 2.5zm1 0l.9-2.6h2.2l.9 2.6zm1 0l.7-2.1h1.5l.7 2.1zm2 0l.4-2.5h.9l.4 2.5zm1 0l.9-2.8h2.3l.9 2.8zm2 0l.7-2.7h1.2l.7 2.7zm1 0l.3-2.8h.6l.3 2.8zm2 0l.7-2.1h1.2l.7 2.1zm1 0l.9-2.4h2.6l.9 2.4zm3 0l.5-2.6h.8l.5 2.6zm2 0l.4-2.4h.8l.4 2.4zm2 0l.4-2.3h.9l.4 2.3zm3 0l.6-2.7h1.1l.6 2.7zm1 0l.5-2.6h1l.5 2.6zm1 0l.2-2.1h.6l.2 2.1zm8 0l.9-1.9h2.6l.9 1.9zm1 0l.8-2.1h1.6l.8 2.1zm2 0l.5-2.6h1.1l.5 2.6zm3 0l.3-2.2h.6l.3 2.2zm1 0l.6-2.7h1l.6 2.7zm1 0l.9-2.4h2.5l.9 2.4zm1 0l.6-2.4h1l.6 2.4zm2 0l.7-2.5h1.3l.7 2.5zm1 0l.5-2.3h1l.5 2.3zM52.5 306.29m1 0l.5-2.4h.9l.5 2.4zm3 0l.2-2.8h.5l.2 2.8zm5 0l.5-1.9h1.1l.5 1.9zm2 0l.6-2.5h1.3l.6 2.5zm3 0l.6-2.4h1l.6 2.4zm3 0l.5-2.2h1.1l.5 2.2zm2 0l.6-2.6h1.3l.6 2.6zm1 0l.5-2.6h.9l.5 2.6zm10 0l.3-1.9h.8l.3 1.9zm1 0l.5-2.7h.8l.5 2.7zm1 0l.7-2.6h1.5l.7 2.6zm1 0l.9-2.4h2.5l.9 2.4zm2 0l.7-2.8h1.2l.7 2.8zm2 0l.8-2.5h1.5l.8 2.5zm1 0l.7-2.4h1.3l.7 2.4zm1 0l.4-1.9h.8l.4 1.9zm1 0l.9-2.4h2.6l.9 2.4zm1 0l.6-2.7h1.3l.6 2.7zm1 0l.4-1.8h.7l.4 1.8zm1 0l.5-1.9h1.1l.5 1.9zm3 0l.4-2.3h.9l.4 2.3zm5 0l.5-2.5h1.1l.5 2.5zm1 0l.2-2h.5l.2 2zm7 0l.2-1.9h.6l.2 1.9zm4 0l.6-2.8h1.2l.6 2.8zm2 0l.9-2.2h2.1l.9 2.2zm1 0l.9-1.5h1.7l.9 1.5zm1 0l.7-1.7h1.3l.7 1.7zm1 0l.7-2.9h1.4l.7 2.9zm3 0l.4-1.7h.7l.4 1.7zm1 0l.6-2.8h1.3l.6 2.8zm1 0l.9-2.7h2.7l.9 2.7zm8 0l.5-2.7h.8l.5 2.7zm1 0l.6-2.7h1.3l.6 2.7zm3 0l.3-2.4h.6l.3 2.4zm4 0l.5-2h1.1l.5 2zm1 0l.5-2.7h1l.5 2.7zm2 0l.5-2.3h1.1l.5 2.3zm12 0l.7-2h1.4l.7 2zm2 0l.6-2.2h1.3l.6 2.2zm2 0l.5-2h.9l.5 2zm1 0l.9-2.1h2.7l.9 2.1zm1 0l.9-2.1h1.7l.9 2.1zm1 0l.9-2.8h2.8l.9 2.8zm1 0l.6-2.8h1.2l.6 2.8zm1 0l.7-2.4h1.3l.7 2.4zm1 0l.8-2.7h1.7l.8 2.7zm2 0l.9-2.5h2.1l.9 2.5zm2 0l.5-2.7h1.1l.5 2.7zm1 0l.8-2.5h1.4l.8 2.5zm1 0l.2-2.4h.5l.2 2.4zm1 0l.9-2.6h2.6l.9 2.6zm1 0l.9-2.7h2.6l.9 2.7zm3 0l.5-2.7h1.1l.5 2.7zm1 0l.3-1.9h.7l.3 1.9zm1 0l.6-2.6h1.3l.6 2.6zm2 0l.6-1.9h1.1l.6 1.9zm2 0l.6-2.4h1.1l.6 2.4zm1 0l.5-2.7h.9l.5 2.7zm4 0l.2-2.9h.5l.2 2.9zm2 0l.3-2.2h.8l.3 2.2zm4 0l.5-2.2h1l.5 2.2zm1 0l.3-2.6h.7l.3 2.6zm1 0l.2-2.5h.6l.2 2.5zm1 0l.9-2.6h2.1l.9 2.6zm3 0l.9-2.9h2.3l.9 2.9zm2 0l.7-2.2h1.5l.7 2.2zm1 0l.9-2h1.8l.9 2zm2 0l.3-2.3h.6l.3 2.3zM52.5 309.18m4 0l.4-2.6h.8l.4 2.6zm3 0l.4-2.1h.7l.4 2.1zm1 0l.5-2.5h.9l.5 2.5zm4 0l.5-2.6h.8l.5 2.6zm2 0l.5-2.5h1.1l.5 2.5zm6 0l.5-2.8h.8l.5 2.8zm1 0l.2-2.8h.6l.2 2.8zm1 0l.5-2.3h.9l.5 2.3zm1 0l.5-2.1h1l.5 2.1zm1 0l.4-2.6h.7l.4 2.6zm3 0l.5-2.3h1l.5 2.3zm1 0l.7-2.9h1.2l.7 2.9zm3 0l.8-1.7h1.4l.8 1.7zm5 0l.7-2.8h1.3l.7 2.8zm1 0l.3-2.8h.7l.3 2.8zm1 0l.9-2.3h2.7l.9 2.3zm1 0l.4-2.7h.9l.4 2.7zm1 0l.9-1.9h2.6l.9 1.9zm1 0l.9-2.8h1.7l.9 2.8zm7 0l.6-2.7h1l.6 2.7zm2 0l.3-2.8h.6l.3 2.8zm6 0l.5-2.7h.8l.5 2.7zm2 0l.2-2.8h.5l.2 2.8zm1 0l.5-2.8h1.1l.5 2.8zm2 0l.3-2.8h.6l.3 2.8zm2 0l.8-2.4h1.6l.8 2.4zm2 0l.2-2.7h.6l.2 2.7zm2 0l.7-1.5h1.2l.7 1.5zm2 0l.7-2.3h1.3l.7 2.3zm3 0l.6-2.2h1.2l.6 2.2zm2 0l.4-2h.9l.4 2zm5 0l.7-2h1.4l.7 2zm4 0l.4-2h.8l.4 2zm2 0l.3-2.5h.8l.3 2.5zm1 0l.3-2.8h.7l.3 2.8zm1 0l.7-2.3h1.2l.7 2.3zm4 0l.4-2.5h.8l.4 2.5zm2 0l.5-2.7h.9l.5 2.7zm1 0l.7-2.4h1.2l.7 2.4zm4 0l.3-2.3h.8l.3 2.3zm1 0l.5-2.7h.8l.5 2.7zm9 0l.9-2h1.8l.9 2zm1 0l.4-2.7h.8l.4 2.7zm1 0l.2-1.9h.6l.2 1.9zm2 0l.4-2.8h.8l.4 2.8zm1 0l.5-2.2h1.1l.5 2.2zm2 0l.6-2.5h1.2l.6 2.5zm1 0l.9-2.1h2.7l.9 2.1zm1 0l.9-2.7h2.5l.9 2.7zm1 0l.3-2h.8l.3 2zm1 0l.9-2.4h2.2l.9 2.4zm1 0l.9-1.9h2.5l.9 1.9zm1 0l.9-2.4h2.5l.9 2.4zm7 0l.4-2.3h.9l.4 2.3zm1 0l.4-2.5h.9l.4 2.5zm5 0l.3-1.8h.7l.3 1.8zm2 0l.4-2.3h.9l.4 2.3zm1 0l.3-2.3h.5l.3 2.3zm4 0l.9-2.5h1.9l.9 2.5zm1 0l.5-2.4h1l.5 2.4zm1 0l.3-2.3h.8l.3 2.3zm1 0l.4-2.2h.7l.4 2.2zm1 0l.3-2.3h.8l.3 2.3zm1 0l.5-2.1h1l.5 2.1zm1 0l.9-2.6h2.2l.9 2.6zm1 0l.5-2.7h.9l.5 2.7zm1 0l.9-2.9h2.5l.9 2.9zm1 0l.9-2.8h2.6l.9 2.8zm1 0l.8-2.7h1.8l.8 2.7zm2 0l.5-2.8h.9l.5 2.8zm3 0l.6-1.8h1l.6 1.8zM52.5 312.07m0 0l.3-2.4h.5l.3 2.4zm1 0l.7-2.5h1.4l.7 2.5zm2 0l.7-2.4h1.3l.7 2.4zm3 0l.5-2.8h.9l.5 2.8zm1 0l.3-2.5h.5l.3 2.5zm2 0l.7-2.7h1.3l.7 2.7zm1 0l.6-2.8h1.1l.6 2.8zm8 0l.4-1.6h.9l.4 1.6zm3 0l.6-2.8h1.1l.6 2.8zm3 0l.7-2.6h1.4l.7 2.6zm3 0l.3-2.1h.8l.3 2.1zm2 0l.3-2.5h.6l.3 2.5zm1 0l.9-2.5h2.6l.9 2.5zm1 0l.9-2.4h2.5l.9 2.4zm1 0l.9-2.2h1.7l.9 2.2zm1 0l.9-2.5h2.6l.9 2.5zm2 0l.9-2.5h2.2l.9 2.5zm1 0l.9-2.2h2.4l.9 2.2zm1 0l.8-2h1.8l.8 2zm1 0l.9-2h2.7l.9 2zm1 0l.9-2.8h2.5l.9 2.8zm3 0l.9-2.4h2.7l.9 2.4zm3 0l.3-2.5h.8l.3 2.5zm2 0l.3-2.6h.5l.3 2.6zm6 0l.5-2.5h.8l.5 2.5zm1 0l.7-2.7h1.4l.7 2.7zm3 0l.3-2.6h.5l.3 2.6zm1 0l.7-2.8h1.2l.7 2.8zm2 0l.5-2.6h.8l.5 2.6zm2 0l.9-2.1h2l.9 2.1zm2 0l.8-2.4h1.8l.8 2.4zm1 0l.9-2.6h2.4l.9 2.6zm1 0l.3-2.4h.5l.3 2.4zm1 0l.5-2.2h.9l.5 2.2zm1 0l.8-1.9h1.8l.8 1.9zm1 0l.8-2.2h1.6l.8 2.2zm2 0l.7-2.4h1.5l.7 2.4zm1 0l.2-1.7h.6l.2 1.7zm1 0l.9-2.1h1.7l.9 2.1zm1 0l.5-2.6h.8l.5 2.6zm6 0l.4-2.8h.8l.4 2.8zm1 0l.3-2.2h.6l.3 2.2zm2 0l.3-2.4h.6l.3 2.4zm4 0l.6-2.5h1l.6 2.5zm4 0l.3-2.8h.5l.3 2.8zm3 0l.5-2.6h1l.5 2.6zm2 0l.7-2.8h1.3l.7 2.8zm3 0l.3-2.3h.6l.3 2.3zm1 0l.7-2.1h1.4l.7 2.1zm3 0l.4-2.5h.8l.4 2.5zm3 0l.6-2.7h1.3l.6 2.7zm1 0l.9-2.6h2.6l.9 2.6zm2 0l.6-1.8h1l.6 1.8zm1 0l.9-2.2h2l.9 2.2zm1 0l.9-2.7h1.7l.9 2.7zm1 0l.3-2.2h.7l.3 2.2zm1 0l.6-2.4h1.1l.6 2.4zm1 0l.3-2.7h.5l.3 2.7zm1 0l.4-2.7h.9l.4 2.7zm1 0l.7-2.6h1.3l.7 2.6zm1 0l.4-2.6h.8l.4 2.6zm1 0l.3-2.2h.7l.3 2.2zm1 0l.8-2h1.6l.8 2zm1 0l.9-2.5h1.9l.9 2.5zm1 0l.5-2h.8l.5 2zm3 0l.2-1.8h.6l.2 1.8zm3 0l.4-2.7h.7l.4 2.7zm2 0l.5-2.8h.9l.5 2.8zm5 0l.5-2.8h1l.5 2.8zm1 0l.3-2.5h.6l.3 2.5zm6 0l.9-2.5h2.4l.9 2.5zm1 0l.5-2.3h.8l.5 2.3zm1 0l.7-2.8h1.5l.7 2.8zm2 0l.9-1.8h2.4l.9 1.8zm1 0l.6-2.7h1.3l.6 2.7zm1 0l.5-2.2h.8l.5 2.2zm1 0l.3-1.5h.5l.3 1.5zm1 0l.3-2.1h.6l.3 2.1zm2 0l.5-2.4h.8l.5 2.4zm1 0l.7-2.3h1.3l.7 2.3zm1 0l.9-2.2h2.5l.9 2.2zm1 0l.7-2h1.4l.7 2zm1 0l.6-2.7h1.2l.6 2.7zm1 0l.6-2.8h1.3l.6 2.8zm1 0l.3-2h.7l.3 2zm1 0l.1-2.1h.3l.1 2.1zM52.5 314.95m2 0l.4-2.4h.9l.4 2.4zm5 0l.7-2.9h1.2l.7 2.9zm4 0l.3-2h.5l.3 2zm1 0l.6-2.8h1.1l.6 2.8zm2 0l.3-2.1h.6l.3 2.1zm1 0l.5-2.8h1.1l.5 2.8zm3 0l.5-2.6h.9l.5 2.6zm3 0l.5-2h.8l.5 2zm2 0l.5-2.6h1l.5 2.6zm2 0l.4-2.7h.9l.4 2.7zm4 0l.2-2.7h.5l.2 2.7zm1 0l.6-2.6h1.3l.6 2.6zm1 0l.9-2.8h2.7l.9 2.8zm1 0l.5-1.6h1.1l.5 1.6zm1 0l.8-2.8h1.5l.8 2.8zm1 0l.6-2.3h1.2l.6 2.3zm2 0l.5-2.2h.8l.5 2.2zm1 0l.7-2h1.2l.7 2zm1 0l.9-2.6h2l.9 2.6zm1 0l.5-2.2h1.1l.5 2.2zm1 0l.7-2.4h1.2l.7 2.4zm1 0l.6-2.7h1.2l.6 2.7zm4 0l.7-2.7h1.4l.7 2.7zm1 0l.4-2.9h.8l.4 2.9zm3 0l.3-2.4h.8l.3 2.4zm4 0l.6-1.7h1.1l.6 1.7zm9 0l.3-1.6h.5l.3 1.6zm2 0l.7-2.9h1.2l.7 2.9zm1 0l.7-2.5h1.3l.7 2.5zm2 0l.2-1.6h.6l.2 1.6zm2 0l.2-2.7h.6l.2 2.7zm2 0l.3-2.4h.8l.3 2.4zm2 0l.4-2.6h.7l.4 2.6zm2 0l.5-1.8h.8l.5 1.8zm1 0l.4-2.5h.7l.4 2.5zm2 0l.3-2.4h.5l.3 2.4zm1 0l.2-2.5h.6l.2 2.5zm7 0l.3-2.8h.5l.3 2.8zm1 0l.4-2.9h.9l.4 2.9zm2 0l.6-2.1h1.1l.6 2.1zm1 0l.4-2.2h.8l.4 2.2zm5 0l.6-2.8h1.1l.6 2.8zm3 0l.7-2.1h1.2l.7 2.1zm6 0l.7-2h1.3l.7 2zm2 0l.5-2.8h1l.5 2.8zm1 0l.9-1.9h2.4l.9 1.9zm1 0l.6-2.1h1l.6 2.1zm1 0l.7-2h1.5l.7 2zm1 0l.9-2.5h2.6l.9 2.5zm2 0l.9-2.9h2.7l.9 2.9zm3 0l.2-2h.6l.2 2zm1 0l.3-2.4h.5l.3 2.4zm3 0l.7-2.8h1.3l.7 2.8zm1 0l.4-1.7h.7l.4 1.7zm2 0l.2-2.3h.6l.2 2.3zm1 0l.6-1.9h1.1l.6 1.9zm2 0l.5-1.9h.9l.5 1.9zm4 0l.5-2.5h1l.5 2.5zm5 0l.4-2.1h.9l.4 2.1zm1 0l.5-2.5h.9l.5 2.5zm4 0l.7-1.6h1.4l.7 1.6zm2 0l.3-2.3h.6l.3 2.3zm2 0l.2-2.2h.6l.2 2.2zm1 0l.7-2.7h1.3l.7 2.7zm1 0l.6-2.1h1.3l.6 2.1zm1 0l.6-2.7h1.3l.6 2.7zm1 0l.3-2.5h.7l.3 2.5zm3 0l.4-2.7h.9l.4 2.7zm1 0l.6-1.6h1.3l.6 1.6zm1 0l.9-2.7h2.1l.9 2.7zm1 0l.6-2.7h1l.6 2.7zm5 0l.1-2.8h.3l.1 2.8zM52.5 317.84m1 0l.7-1.6h1.4l.7 1.6zm6 0l.5-1.9h.9l.5 1.9zm1 0l.6-2.4h1.1l.6 2.4zm4 0l.4-2.2h.8l.4 2.2zm2 0l.5-2.1h.8l.5 2.1zm2 0l.3-1.8h.6l.3 1.8zm4 0l.3-2.3h.5l.3 2.3zm3 0l.7-2.5h1.2l.7 2.5zm1 0l.5-2.1h.8l.5 2.1zm1 0l.7-2.6h1.2l.7 2.6zm1 0l.6-2.3h1.2l.6 2.3zm1 0l.3-1.8h.6l.3 1.8zm1 0l.9-2.2h1.8l.9 2.2zm1 0l.8-1.6h1.6l.8 1.6zm1 0l.9-2.1h1.9l.9 2.1zm2 0l.5-2.9h.9l.5 2.9zm1 0l.4-2.8h.7l.4 2.8zm1 0l.6-2.6h1.3l.6 2.6zm1 0l.4-2.2h.9l.4 2.2zm1 0l.7-2.6h1.2l.7 2.6zm2 0l.3-2.8h.7l.3 2.8zm1 0l.4-2.5h.8l.4 2.5zm1 0l.8-2.8h1.6l.8 2.8zm1 0l.9-2.5h1.9l.9 2.5zm7 0l.3-2.2h.6l.3 2.2zm1 0l.6-2.5h1l.6 2.5zm4 0l.3-2.6h.5l.3 2.6zm3 0l.4-2.8h.7l.4 2.8zm1 0l.6-2.1h1.2l.6 2.1zm5 0l.4-2h.7l.4 2zm1 0l.5-2.7h1.1l.5 2.7zm2 0l.4-1.9h.7l.4 1.9zm1 0l.7-2.8h1.2l.7 2.8zm2 0l.9-2.3h1.7l.9 2.3zm1 0l.9-2.7h1.9l.9 2.7zm1 0l.4-2.9h.9l.4 2.9zm1 0l.4-2.1h.9l.4 2.1zm1 0l.8-2.1h1.8l.8 2.1zm1 0l.4-2.8h.7l.4 2.8zm3 0l.6-2.8h1.3l.6 2.8zm6 0l.6-2.3h1.2l.6 2.3zm1 0l.5-2.7h1.1l.5 2.7zm8 0l.2-2.7h.6l.2 2.7zm3 0l.7-2.3h1.2l.7 2.3zm1 0l.4-2.5h.8l.4 2.5zm1 0l.2-2.8h.5l.2 2.8zm1 0l.6-1.8h1.3l.6 1.8zm3 0l.4-2.2h.8l.4 2.2zm1 0l.3-2.9h.7l.3 2.9zm1 0l.5-2.4h.9l.5 2.4zm1 0l.3-2.3h.8l.3 2.3zm1 0l.3-2.7h.7l.3 2.7zm1 0l.7-2.8h1.3l.7 2.8zm1 0l.6-2.7h1l.6 2.7zm1 0l.6-2.8h1l.6 2.8zm1 0l.2-2.3h.6l.2 2.3zm1 0l.4-2h.7l.4 2zm1 0l.9-2.5h1.7l.9 2.5zm1 0l.3-2.8h.6l.3 2.8zm1 0l.3-2.7h.5l.3 2.7zm1 0l.4-2.4h.8l.4 2.4zm2 0l.6-2.1h1.2l.6 2.1zm1 0l.9-2.3h2.6l.9 2.3zm1 0l.9-2.2h2.3l.9 2.2zm1 0l.5-1.7h.8l.5 1.7zm1 0l.9-2.1h2l.9 2.1zm1 0l.6-2.1h1.3l.6 2.1zm1 0l.2-2.6h.5l.2 2.6zm3 0l.2-1.7h.5l.2 1.7zm7 0l.4-2h.9l.4 2zm1 0l.7-1.8h1.3l.7 1.8zm3 0l.4-2.4h.8l.4 2.4zm4 0l.5-2.5h.8l.5 2.5zm1 0l.4-2h.8l.4 2zm1 0l.5-2.9h.9l.5 2.9zm3 0l.7-2.6h1.4l.7 2.6zm3 0l.3-2.8h.5l.3 2.8zm1 0l.8-1.9h1.8l.8 1.9zm1 0l.7-2.6h1.4l.7 2.6zm1 0l.3-2.7h.8l.3 2.7zm2 0l.3-2.8h.8l.3 2.8zM52.5 320.73m0 0l.7-1.8h1.4l.7 1.8zm6 0l.7-2h1.4l.7 2zm2 0l.4-2.6h.9l.4 2.6zm8 0l.5-2.4h.9l.5 2.4zm1 0l.7-2.8h1.3l.7 2.8zm3 0l.5-2.4h.8l.5 2.4zm7 0l.8-1.8h1.7l.8 1.8zm1 0l.9-2.5h1.9l.9 2.5zm1 0l.8-2.7h1.5l.8 2.7zm2 0l.7-1.6h1.2l.7 1.6zm2 0l.8-2.8h1.7l.8 2.8zm2 0l.8-2.3h1.7l.8 2.3zm1 0l.7-2.8h1.4l.7 2.8zm3 0l.9-2.5h2.3l.9 2.5zm6 0l.5-2.8h1l.5 2.8zm2 0l.6-2.5h1.3l.6 2.5zm4 0l.6-2.1h1.1l.6 2.1zm4 0l.6-2h1.3l.6 2zm6 0l.3-2.9h.8l.3 2.9zm2 0l.6-1.9h1.2l.6 1.9zm2 0l.9-2.1h1.9l.9 2.1zm2 0l.8-2.7h1.7l.8 2.7zm3 0l.6-2.9h1.3l.6 2.9zm1 0l.8-2.5h1.6l.8 2.5zm1 0l.9-2.1h1.9l.9 2.1zm1 0l.5-2.1h.8l.5 2.1zm7 0l.3-2.3h.6l.3 2.3zm3 0l.4-2.6h.8l.4 2.6zm6 0l.7-2h1.5l.7 2zm1 0l.5-2h1.1l.5 2zm4 0l.4-2.2h.7l.4 2.2zm2 0l.7-2.7h1.3l.7 2.7zm3 0l.7-2.7h1.4l.7 2.7zm4 0l.5-2.2h.8l.5 2.2zm3 0l.8-2.4h1.7l.8 2.4zm1 0l.8-2.9h1.6l.8 2.9zm1 0l.3-2.1h.5l.3 2.1zm1 0l.9-2.3h2.1l.9 2.3zm1 0l.6-2.7h1l.6 2.7zm3 0l.8-1.9h1.4l.8 1.9zm2 0l.9-2.9h1.7l.9 2.9zm1 0l.4-2.9h.8l.4 2.9zm1 0l.8-2.7h1.8l.8 2.7zm1 0l.7-2.2h1.5l.7 2.2zm1 0l.9-2.7h2.1l.9 2.7zm2 0l.5-2.3h1l.5 2.3zm11 0l.2-2.5h.5l.2 2.5zm2 0l.3-1.9h.5l.3 1.9zm7 0l.3-2.3h.5l.3 2.3zm1 0l.7-2.7h1.2l.7 2.7zm1 0l.9-1.9h1.7l.9 1.9zm2 0l.9-2.9h2.5l.9 2.9zm4 0l.4-2.4h.7l.4 2.4zm1 0l.9-2.3h1.8l.9 2.3zm1 0l.7-2.7h1.2l.7 2.7zm2 0l.5-2.8h1l.5 2.8zm5 0l.1-2.5h.3l.1 2.5zM52.5 323.61m3 0l.3-2.3h.5l.3 2.3zm1 0l.2-1.9h.5l.2 1.9zm7 0l.4-2.8h.9l.4 2.8zm5 0l.5-2.2h1.1l.5 2.2zm7 0l.7-2.6h1.3l.7 2.6zm2 0l.2-2.2h.5l.2 2.2zm1 0l.9-1.9h1.7l.9 1.9zm1 0l.8-2.1h1.5l.8 2.1zm1 0l.9-1.8h2.5l.9 1.8zm1 0l.9-1.9h2.2l.9 1.9zm1 0l.3-2.7h.7l.3 2.7zm1 0l.8-2h1.5l.8 2zm2 0l.4-2.7h.9l.4 2.7zm2 0l.8-2.5h1.5l.8 2.5zm1 0l.8-1.9h1.7l.8 1.9zm1 0l.4-2.6h.7l.4 2.6zm1 0l.4-2h.9l.4 2zm1 0l.2-2.5h.5l.2 2.5zm1 0l.5-2.8h.9l.5 2.8zm1 0l.3-2.3h.7l.3 2.3zm4 0l.7-2.7h1.2l.7 2.7zm1 0l.7-2.8h1.4l.7 2.8zm2 0l.6-2.2h1.2l.6 2.2zm2 0l.2-1.8h.6l.2 1.8zm1 0l.5-2.5h1.1l.5 2.5zm1 0l.7-2.2h1.3l.7 2.2zm3 0l.7-2.5h1.4l.7 2.5zm2 0l.3-2.6h.7l.3 2.6zm1 0l.5-2.1h.8l.5 2.1zm3 0l.5-2.4h1l.5 2.4zm1 0l.7-2.3h1.4l.7 2.3zm1 0l.3-2.3h.8l.3 2.3zm4 0l.6-2.1h1.1l.6 2.1zm2 0l.8-2.4h1.4l.8 2.4zm1 0l.9-2.8h2.4l.9 2.8zm2 0l.9-2.8h1.8l.9 2.8zm1 0l.8-2.5h1.4l.8 2.5zm3 0l.4-2.6h.8l.4 2.6zm2 0l.7-2.8h1.2l.7 2.8zm2 0l.5-2.9h.8l.5 2.9zm12 0l.7-2.1h1.2l.7 2.1zm2 0l.7-1.9h1.4l.7 1.9zm2 0l.6-1.8h1.1l.6 1.8zm1 0l.5-2.7h1l.5 2.7zm4 0l.4-2h.8l.4 2zm4 0l.2-2.3h.6l.2 2.3zm2 0l.9-1.6h2.4l.9 1.6zm1 0l.3-2.5h.8l.3 2.5zm2 0l.4-2h.7l.4 2zm1 0l.9-2.6h2.1l.9 2.6zm1 0l.8-2.4h1.5l.8 2.4zm1 0l.9-2.4h1.7l.9 2.4zm1 0l.3-1.6h.8l.3 1.6zm1 0l.6-2h1.2l.6 2zm1 0l.9-2.5h1.7l.9 2.5zm3 0l.3-2.7h.7l.3 2.7zm1 0l.5-2.7h.8l.5 2.7zm8 0l.2-2.6h.5l.2 2.6zm2 0l.6-2.8h1.3l.6 2.8zm3 0l.6-2.4h1.3l.6 2.4zm1 0l.5-2.1h.8l.5 2.1zm1 0l.4-2.3h.9l.4 2.3zm1 0l.3-2.1h.5l.3 2.1zm3 0l.2-2.1h.6l.2 2.1zm1 0l.5-1.8h1l.5 1.8zm1 0l.5-2.2h1.1l.5 2.2zm1 0l.9-2.6h2.3l.9 2.6zm2 0l.4-2.2h.8l.4 2.2zm1 0l.6-2.8h1l.6 2.8zm2 0l.8-2h1.8l.8 2zm1 0l.9-2.3h2l.9 2.3zm1 0l.9-2.2h2.6l.9 2.2zm1 0l.5-2.8h1l.5 2.8zm6 0l.4-2.8h.9l.4 2.8zM52.5 326.5m0 0l.7-2.1h1.3l.7 2.1zm1 0l.6-1.6h1.2l.6 1.6zm2 0l.6-2.5h1.3l.6 2.5zm3 0l.7-2.6h1.4l.7 2.6zm9 0l.2-2.7h.5l.2 2.7zm2 0l.5-2.8h1.1l.5 2.8zm2 0l.6-2.5h1.1l.6 2.5zm2 0l.6-2.8h1l.6 2.8zm4 0l.5-2.6h1l.5 2.6zm1 0l.8-2.5h1.6l.8 2.5zm2 0l.2-2.6h.5l.2 2.6zm1 0l.9-2.3h1.7l.9 2.3zm1 0l.8-2.3h1.4l.8 2.3zm2 0l.9-2.9h1.9l.9 2.9zm1 0l.8-2.4h1.7l.8 2.4zm1 0l.3-2.7h.6l.3 2.7zm1 0l.9-2.2h1.8l.9 2.2zm1 0l.6-2.3h1.3l.6 2.3zm4 0l.6-2.2h1l.6 2.2zm2 0l.6-1.9h1.3l.6 1.9zm2 0l.6-2.7h1l.6 2.7zm1 0l.7-2.1h1.3l.7 2.1zm6 0l.3-2.8h.5l.3 2.8zm1 0l.5-2.5h1.1l.5 2.5zm3 0l.4-2.7h.8l.4 2.7zm4 0l.6-2.4h1l.6 2.4zm1 0l.3-2.4h.5l.3 2.4zm1 0l.4-2.8h.7l.4 2.8zm1 0l.7-2.8h1.5l.7 2.8zm1 0l.3-1.9h.6l.3 1.9zm1 0l.5-2.3h.9l.5 2.3zm2 0l.3-2.3h.6l.3 2.3zm2 0l.9-2.1h2.5l.9 2.1zm2 0l.9-1.9h2.5l.9 1.9zm2 0l.6-2.5h1l.6 2.5zm1 0l.9-2.7h1.7l.9 2.7zm1 0l.5-2.7h.9l.5 2.7zm1 0l.5-2.1h1.1l.5 2.1zm1 0l.5-1.8h.9l.5 1.8zm2 0l.4-2.4h.8l.4 2.4zm2 0l.6-2.4h1l.6 2.4zm2 0l.6-2.2h1.1l.6 2.2zm7 0l.6-2.8h1l.6 2.8zm2 0l.4-2.7h.7l.4 2.7zm4 0l.4-2.8h.8l.4 2.8zm4 0l.3-2.9h.5l.3 2.9zm1 0l.5-2.8h1l.5 2.8zm4 0l.7-2.8h1.3l.7 2.8zm1 0l.8-2.3h1.6l.8 2.3zm1 0l.4-2.1h.9l.4 2.1zm1 0l.9-1.9h2.2l.9 1.9zm1 0l.9-2.7h1.9l.9 2.7zm1 0l.2-2.1h.6l.2 2.1zm1 0l.5-2.1h.9l.5 2.1zm2 0l.4-2.1h.9l.4 2.1zm1 0l.9-2.1h1.8l.9 2.1zm1 0l.3-2.3h.6l.3 2.3zm1 0l.8-2.4h1.5l.8 2.4zm2 0l.6-1.9h1l.6 1.9zm5 0l.6-2.4h1l.6 2.4zm2 0l.7-2.5h1.2l.7 2.5zm1 0l.5-2.4h1.1l.5 2.4zm2 0l.7-2.8h1.3l.7 2.8zm3 0l.4-2.1h.8l.4 2.1zm1 0l.4-2.4h.9l.4 2.4zm3 0l.6-2.4h1.3l.6 2.4zm1 0l.6-2.8h1.1l.6 2.8zm2 0l.3-2.6h.7l.3 2.6zm4 0l.9-2.8h1.7l.9 2.8zm2 0l.7-1.9h1.3l.7 1.9zm1 0l.8-1.8h1.7l.8 1.8zm2 0l.9-2.3h2.4l.9 2.3zm2 0l.8-2.1h1.7l.8 2.1zm1 0l.5-2.2h.8l.5 2.2zm1 0l.9-2.8h2.3l.9 2.8zm2 0l.3-2.7h.6l.3 2.7zm1 0l.5-1.9h.9l.5 1.9zm1 0l.3-2.6h.6l.3 2.6zm4 0l.1-2.5h.3l.1 2.5z" stroke="none" stroke-width="1" fill="#000"/>
<line x1="171.6" y1="247.9" x2="156" y2="325.5" stroke="#e8262b" stroke-width="2.2"/>
<rect x="52.5" y="211" width="39.62" height="5.6" fill="#ffffff" stroke="#9a9a9a" stroke-width="0.8"/>
<rect x="131.75" y="211" width="39.62" height="5.6" fill="#ffffff" stroke="#9a9a9a" stroke-width="0.8"/>
<rect x="92.12" y="211" width="39.62" height="5.6" fill="#231815"/>
<rect x="171.38" y="211" width="39.62" height="5.6" fill="#231815"/>
<line x1="52.5" y1="208.5" x2="52.5" y2="211" stroke="#555" stroke-width="0.8"/>
<text x="52.5" y="207.6" font-size="11.5" text-anchor="middle">0</text>
<line x1="92.12" y1="208.5" x2="92.12" y2="211" stroke="#555" stroke-width="0.8"/>
<text x="92.12" y="207.6" font-size="11.5" text-anchor="middle">12</text>
<line x1="131.75" y1="208.5" x2="131.75" y2="211" stroke="#555" stroke-width="0.8"/>
<text x="131.75" y="207.6" font-size="11.5" text-anchor="middle">0</text>
<line x1="171.38" y1="208.5" x2="171.38" y2="211" stroke="#555" stroke-width="0.8"/>
<text x="171.38" y="207.6" font-size="11.5" text-anchor="middle">12</text>
<line x1="211" y1="208.5" x2="211" y2="211" stroke="#555" stroke-width="0.8"/>
<text x="211" y="207.6" font-size="11.5" text-anchor="middle">0</text>
<text x="131.55" y="197.4" font-size="13" text-anchor="middle">Time (h)</text>
<text x="49.3" y="220" font-size="12" text-anchor="end">1</text>
<line x1="50.5" y1="215.7" x2="52.5" y2="215.7" stroke="#555" stroke-width="0.7"/>
<text x="49.3" y="239.5" font-size="12" text-anchor="end">7</text>
<line x1="50.5" y1="235.2" x2="52.5" y2="235.2" stroke="#555" stroke-width="0.7"/>
<text x="49.3" y="260.3" font-size="12" text-anchor="end">14</text>
<line x1="50.5" y1="256" x2="52.5" y2="256" stroke="#555" stroke-width="0.7"/>
<text x="49.3" y="281" font-size="12" text-anchor="end">21</text>
<line x1="50.5" y1="276.7" x2="52.5" y2="276.7" stroke="#555" stroke-width="0.7"/>
<text x="49.3" y="301.2" font-size="12" text-anchor="end">28</text>
<line x1="50.5" y1="296.9" x2="52.5" y2="296.9" stroke="#555" stroke-width="0.7"/>
<text x="49.3" y="321.5" font-size="12" text-anchor="end">35</text>
<line x1="50.5" y1="317.2" x2="52.5" y2="317.2" stroke="#555" stroke-width="0.7"/>
<text x="0" y="0" font-size="12.5" text-anchor="middle" transform="translate(31.9 268.25) rotate(-90)">Days</text>
<path d="M212.5 217.5H216V235.9H212.5" stroke="#3a3a3a" stroke-width="1" fill="none"/>
<path d="M212.5 238.6H216V325H212.5" stroke="#3a3a3a" stroke-width="1" fill="none"/>
<text x="217.6" y="231.6" font-size="12.4">LD</text>
<text x="217.6" y="288.1" font-size="12.4">DD</text>
<rect x="275.8" y="216.8" width="158.5" height="109.7" fill="#cfcfcf"/>
<rect x="275.8" y="216.8" width="39.62" height="23.09" fill="#ffffff"/>
<rect x="355.05" y="216.8" width="39.62" height="23.09" fill="#ffffff"/>
<path d="M275.8 219.69m0 0l.3-2.6h.7l.3 2.6zm1 0l.9-2.2h2.4l.9 2.2zm1 0l.9-2.2h1.7l.9 2.2zm1 0l.8-2.7h1.7l.8 2.7zm1 0l.3-2.8h.5l.3 2.8zm4 0l.5-2.6h1l.5 2.6zm2 0l.2-2.9h.6l.2 2.9zm5 0l.5-1.9h.9l.5 1.9zm4 0l.4-2.7h.9l.4 2.7zm10 0l.6-2h1.2l.6 2zm6 0l.3-2.6h.8l.3 2.6zm2 0l.4-2.3h.7l.4 2.3zm3 0l.6-1.7h1l.6 1.7zm1 0l.3-2.1h.8l.3 2.1zm1 0l.9-2.2h2.2l.9 2.2zm3 0l.6-2.6h1l.6 2.6zm3 0l.6-2.9h1l.6 2.9zm3 0l.8-2.8h1.5l.8 2.8zm1 0l.7-2.2h1.2l.7 2.2zm1 0l.3-2.6h.7l.3 2.6zm1 0l.3-2.4h.8l.3 2.4zm1 0l.7-2.7h1.4l.7 2.7zm1 0l.5-2.4h.8l.5 2.4zm1 0l.3-2h.8l.3 2zm1 0l.9-2.6h1.7l.9 2.6zm1 0l.4-2.6h.9l.4 2.6zm2 0l.8-1.8h1.6l.8 1.8zm1 0l.6-2.4h1.1l.6 2.4zm2 0l.3-2.8h.5l.3 2.8zm1 0l.7-2.8h1.4l.7 2.8zm3 0l.9-2.7h2.4l.9 2.7zm1 0l.5-2.3h1l.5 2.3zm1 0l.8-2.4h1.4l.8 2.4zm1 0l.9-2.5h1.9l.9 2.5zm2 0l.5-2.6h.8l.5 2.6zm4 0l.9-2.4h2.1l.9 2.4zm2 0l.2-2.9h.6l.2 2.9zm2 0l.9-2.8h2.5l.9 2.8zm6 0l.3-2.8h.6l.3 2.8zm2 0l.5-2.1h.8l.5 2.1zm4 0l.5-2.6h.8l.5 2.6zm10 0l.3-2.6h.8l.3 2.6zm3 0l.5-2.5h.8l.5 2.5zm3 0l.6-2.7h1.3l.6 2.7zm2 0l.2-2.6h.6l.2 2.6zm7 0l.4-2.2h.8l.4 2.2zm1 0l.9-2.1h2.3l.9 2.1zm1 0l.9-2.8h1.9l.9 2.8zm1 0l.4-2.6h.9l.4 2.6zm3 0l.9-2.8h1.8l.9 2.8zm1 0l.9-2.6h2l.9 2.6zm1 0l.4-2.7h.8l.4 2.7zm1 0l.6-2h1l.6 2zm1 0l.9-2.8h2.2l.9 2.8zm2 0l.3-2.1h.6l.3 2.1zm1 0l.9-2.4h2.3l.9 2.4zm1 0l.7-1.8h1.2l.7 1.8zm3 0l.5-2.4h1.1l.5 2.4zm2 0l.8-2.4h1.6l.8 2.4zm1 0l.2-2.3h.6l.2 2.3zm1 0l.5-2.5h.8l.5 2.5zm2 0l.9-2.1h2.4l.9 2.1zm1 0l.9-2.3h2.5l.9 2.3zm1 0l.9-2.9h2l.9 2.9zm3 0l.7-2.2h1.4l.7 2.2zm1 0l.5-2h.8l.5 2zm1 0l.9-2.2h2.5l.9 2.2zm1 0l.8-2.1h1.6l.8 2.1zm1 0l.5-1.6h.8l.5 1.6zm1 0l.9-2.2h1.7l.9 2.2zm1 0l.9-2.1h2.3l.9 2.1zm1 0l.9-2.7h2.5l.9 2.7zm1 0l.9-2.8h2l.9 2.8zm1 0l.6-2.8h1.2l.6 2.8zm1 0l.6-1.8h1.3l.6 1.8zm1 0l.4-2.7h.7l.4 2.7zM275.8 222.57m2 0l.5-2.6h1l.5 2.6zm19 0l.4-2.7h.7l.4 2.7zm8 0l.3-2.2h.6l.3 2.2zm1 0l.6-2.3h1.2l.6 2.3zm1 0l.4-2.8h.9l.4 2.8zm1 0l.3-2.9h.5l.3 2.9zm1 0l.2-2.4h.5l.2 2.4zm6 0l.2-2.4h.5l.2 2.4zm1 0l.8-2.6h1.5l.8 2.6zm1 0l.3-1.7h.7l.3 1.7zm2 0l.9-2.2h1.8l.9 2.2zm2 0l.9-2.8h2.5l.9 2.8zm3 0l.7-2.4h1.3l.7 2.4zm1 0l.2-2.3h.6l.2 2.3zm2 0l.7-2.8h1.4l.7 2.8zm1 0l.9-2.5h2.4l.9 2.5zm1 0l.2-2.9h.5l.2 2.9zm2 0l.2-1.8h.6l.2 1.8zm3 0l.8-2.3h1.5l.8 2.3zm1 0l.3-1.9h.8l.3 1.9zm1 0l.9-2.3h2l.9 2.3zm1 0l.9-2.8h2.1l.9 2.8zm1 0l.9-2.6h1.7l.9 2.6zm2 0l.9-2.9h2.6l.9 2.9zm2 0l.9-1.9h2.2l.9 1.9zm1 0l.9-2.3h2.3l.9 2.3zm1 0l.9-2.6h2.5l.9 2.6zm2 0l.4-2.5h.9l.4 2.5zm2 0l.5-2.2h.9l.5 2.2zm1 0l.7-2.5h1.5l.7 2.5zm1 0l.9-2.2h2l.9 2.2zm1 0l.7-2.4h1.2l.7 2.4zm1 0l.9-2.6h1.8l.9 2.6zm1 0l.9-2.3h2.4l.9 2.3zm1 0l.8-2.2h1.7l.8 2.2zm1 0l.8-2h1.5l.8 2zm1 0l.4-2.8h.8l.4 2.8zm1 0l.4-2.5h.8l.4 2.5zm1 0l.5-2.8h.9l.5 2.8zm2 0l.4-2.4h.9l.4 2.4zm9 0l.6-2.7h1l.6 2.7zm4 0l.6-2.4h1.2l.6 2.4zm1 0l.3-2.1h.5l.3 2.1zm1 0l.6-2.7h1.2l.6 2.7zm2 0l.6-2.8h1.1l.6 2.8zm1 0l.3-2.1h.5l.3 2.1zm2 0l.5-2.4h1l.5 2.4zm3 0l.4-1.9h.8l.4 1.9zm3 0l.4-2.3h.7l.4 2.3zm5 0l.6-2.1h1.3l.6 2.1zm2 0l.2-2.5h.6l.2 2.5zm2 0l.8-2.9h1.7l.8 2.9zm2 0l.4-2.4h.9l.4 2.4zm1 0l.7-2h1.4l.7 2zm1 0l.8-2.8h1.8l.8 2.8zm2 0l.3-1.7h.5l.3 1.7zm1 0l.6-2h1.3l.6 2zm2 0l.7-2h1.2l.7 2zm1 0l.5-2.7h.9l.5 2.7zm2 0l.3-2.8h.6l.3 2.8zm2 0l.2-2.7h.5l.2 2.7zm1 0l.6-2.9h1.2l.6 2.9zm1 0l.9-2.7h2l.9 2.7zm1 0l.4-2.7h.7l.4 2.7zm1 0l.8-2.8h1.4l.8 2.8zm1 0l.6-2h1.2l.6 2zm3 0l.8-2.8h1.4l.8 2.8zm1 0l.9-2.5h2.6l.9 2.5zm1 0l.4-1.8h.9l.4 1.8zm1 0l.9-2.1h2.3l.9 2.1zm1 0l.4-2.8h.7l.4 2.8zm1 0l.4-1.8h.8l.4 1.8zm1 0l.8-2.8h1.8l.8 2.8zm1 0l.9-2.4h2.4l.9 2.4zm1 0l.9-2.3h2l.9 2.3zm5 0l.2-2.4h.6l.2 2.4zm2 0l.3-2.2h.8l.3 2.2zm2 0l.1-2.3h.3l.1 2.3zM275.8 225.46m0 0l.5-2.3h.8l.5 2.3zm1 0l.8-2.6h1.5l.8 2.6zm2 0l.3-2.8h.6l.3 2.8zm2 0l.3-1.6h.5l.3 1.6zm1 0l.6-2.4h1.1l.6 2.4zm12 0l.5-2.5h.8l.5 2.5zm9 0l.3-2.5h.5l.3 2.5zm3 0l.5-2.6h1l.5 2.6zm1 0l.3-2.3h.8l.3 2.3zm3 0l.4-2.7h.9l.4 2.7zm6 0l.8-2.4h1.7l.8 2.4zm1 0l.5-2.5h.8l.5 2.5zm1 0l.6-2.5h1.1l.6 2.5zm1 0l.8-2h1.6l.8 2zm3 0l.9-2.5h1.7l.9 2.5zm3 0l.3-2.5h.8l.3 2.5zm2 0l.9-2.7h1.8l.9 2.7zm1 0l.5-2.6h1l.5 2.6zm1 0l.4-2.7h.9l.4 2.7zm1 0l.9-2.8h2.6l.9 2.8zm1 0l.4-2.7h.9l.4 2.7zm1 0l.8-2.8h1.7l.8 2.8zm3 0l.3-1.9h.7l.3 1.9zm1 0l.5-2h1.1l.5 2zm2 0l.8-1.9h1.7l.8 1.9zm2 0l.5-2.1h.8l.5 2.1zm1 0l.8-2.4h1.8l.8 2.4zm1 0l.6-2.1h1.3l.6 2.1zm2 0l.4-2.2h.8l.4 2.2zm2 0l.2-2.5h.6l.2 2.5zm1 0l.7-2.6h1.2l.7 2.6zm2 0l.4-2h.9l.4 2zm3 0l.7-2.1h1.3l.7 2.1zm1 0l.4-2.2h.8l.4 2.2zm1 0l.6-2.2h1.1l.6 2.2zm2 0l.9-2.5h1.9l.9 2.5zm1 0l.3-2.6h.7l.3 2.6zm3 0l.3-2.7h.7l.3 2.7zm2 0l.4-2.4h.8l.4 2.4zm18 0l.4-2.4h.9l.4 2.4zm15 0l.9-2.8h1.8l.9 2.8zm1 0l.9-2.5h2.2l.9 2.5zm1 0l.6-2.5h1l.6 2.5zm2 0l.9-2h2.6l.9 2zm3 0l.9-2.8h2.6l.9 2.8zm1 0l.3-2.6h.7l.3 2.6zm1 0l.5-2.5h1l.5 2.5zm1 0l.9-2.5h1.9l.9 2.5zm1 0l.9-2.5h1.8l.9 2.5zm1 0l.2-2h.6l.2 2zm2 0l.2-1.8h.6l.2 1.8zm3 0l.8-2.7h1.5l.8 2.7zm1 0l.2-2.6h.5l.2 2.6zm1 0l.9-2.4h2.6l.9 2.4zm1 0l.8-2.7h1.7l.8 2.7zm1 0l.3-2.6h.5l.3 2.6zm1 0l.9-2.7h1.7l.9 2.7zm1 0l.9-2.2h2l.9 2.2zm1 0l.3-2.7h.6l.3 2.7zm2 0l.2-2.9h.6l.2 2.9zm1 0l.6-2.8h1l.6 2.8zm1 0l.9-2.4h2l.9 2.4zm1 0l.9-2.4h1.8l.9 2.4zm1 0l.9-2.6h2.5l.9 2.6zm1 0l.6-2.7h1l.6 2.7zm2 0l.7-2.6h1.3l.7 2.6zm2 0l.2-2.9h.6l.2 2.9zm1 0l.8-2.2h1.6l.8 2.2zm1 0l.3-2h.8l.3 2zm1 0l.4-2.4h.7l.4 2.4zm1 0l.1-2.2h.3l.1 2.2zM275.8 228.35m0 0l.7-2.1h1.4l.7 2.1zm2 0l.9-2.7h2.6l.9 2.7zm1 0l.3-2.7h.5l.3 2.7zm6 0l.6-2.6h1l.6 2.6zm4 0l.5-2.5h.9l.5 2.5zm1 0l.5-1.7h1l.5 1.7zm2 0l.6-2.8h1.3l.6 2.8zm3 0l.3-2.7h.6l.3 2.7zm1 0l.3-2.7h.5l.3 2.7zm1 0l.6-2.4h1.1l.6 2.4zm4 0l.5-2h1.1l.5 2zm2 0l.3-2.7h.7l.3 2.7zm1 0l.6-2.6h1l.6 2.6zm1 0l.4-1.8h.8l.4 1.8zm1 0l.6-2.5h1.3l.6 2.5zm2 0l.5-2.3h1.1l.5 2.3zm4 0l.4-2.3h.7l.4 2.3zm1 0l.3-2.4h.5l.3 2.4zm3 0l.4-1.9h.7l.4 1.9zm1 0l.8-2.6h1.5l.8 2.6zm2 0l.5-2.4h.8l.5 2.4zm2 0l.8-2.5h1.6l.8 2.5zm1 0l.9-2.4h1.8l.9 2.4zm1 0l.7-2.6h1.5l.7 2.6zm2 0l.9-1.8h2.5l.9 1.8zm2 0l.6-2.4h1l.6 2.4zm1 0l.7-2.6h1.2l.7 2.6zm1 0l.4-2.8h.8l.4 2.8zm1 0l.6-2.2h1.3l.6 2.2zm1 0l.6-2.1h1.2l.6 2.1zm1 0l.8-2.2h1.4l.8 2.2zm2 0l.6-2.8h1.2l.6 2.8zm1 0l.9-2.6h1.8l.9 2.6zm1 0l.5-1.9h.9l.5 1.9zm1 0l.7-2.2h1.3l.7 2.2zm1 0l.6-2.6h1l.6 2.6zm3 0l.6-2.8h1.1l.6 2.8zm2 0l.5-2.6h.8l.5 2.6zm2 0l.4-1.9h.7l.4 1.9zm1 0l.9-2h1.9l.9 2zm1 0l.6-1.8h1l.6 1.8zm1 0l.9-2.2h2.4l.9 2.2zm2 0l.2-2.4h.6l.2 2.4zm1 0l.7-2.8h1.4l.7 2.8zm2 0l.3-1.9h.8l.3 1.9zm1 0l.5-2.1h.9l.5 2.1zm1 0l.4-2.7h.7l.4 2.7zm1 0l.9-2.7h2.3l.9 2.7zm2 0l.9-2.1h2.4l.9 2.1zm4 0l.3-2.2h.7l.3 2.2zm8 0l.3-2.8h.6l.3 2.8zm3 0l.5-2.2h1.1l.5 2.2zm5 0l.5-2.7h1l.5 2.7zm7 0l.4-2h.9l.4 2zm1 0l.6-2.1h1.2l.6 2.1zm5 0l.5-2.8h.8l.5 2.8zm2 0l.3-2.6h.6l.3 2.6zm1 0l.6-2.7h1.2l.6 2.7zm1 0l.9-2.8h2.2l.9 2.8zm1 0l.9-2.7h2.3l.9 2.7zm1 0l.6-2.4h1.3l.6 2.4zm1 0l.6-2.1h1.3l.6 2.1zm2 0l.9-2.8h2.6l.9 2.8zm1 0l.5-2.8h.9l.5 2.8zm2 0l.3-2.1h.7l.3 2.1zm1 0l.9-2.4h1.7l.9 2.4zm1 0l.8-2.5h1.8l.8 2.5zm1 0l.9-2.5h2.7l.9 2.5zm1 0l.4-2.6h.8l.4 2.6zm1 0l.8-1.9h1.4l.8 1.9zm1 0l.7-2.6h1.2l.7 2.6zm1 0l.8-2.5h1.5l.8 2.5zm1 0l.8-2.8h1.7l.8 2.8zm3 0l.2-1.9h.5l.2 1.9zm1 0l.9-2.7h1.7l.9 2.7zm1 0l.9-2.8h1.7l.9 2.8zm1 0l.9-2.2h2.5l.9 2.2zm1 0l.9-2.8h2.5l.9 2.8zm2 0l.7-1.6h1.4l.7 1.6zm1 0l.3-2.2h.7l.3 2.2zm1 0l.9-2.2h2.4l.9 2.2zm1 0l.7-2.4h1.5l.7 2.4zm1 0l.2-2.2h.6l.2 2.2zm1 0l.9-2.7h2.2l.9 2.7zm2 0l.9-2.9h2.1l.9 2.9zm1 0l.7-2.7h1.2l.7 2.7zm1 0l.3-2.1h.8l.3 2.1zm1 0l.9-2.8h2.4l.9 2.8zm1 0l.9-2.5h1.7l.9 2.5zm2 0l.4-1.7h.7l.4 1.7zm1 0l.1-2.6h.3l.1 2.6zM275.8 231.23m0 0l.9-2.6h2.1l.9 2.6zm1 0l.5-2.7h.9l.5 2.7zm1 0l.6-2.6h1.2l.6 2.6zm12 0l.3-2.1h.8l.3 2.1zm1 0l.4-2.1h.9l.4 2.1zm1 0l.6-2.8h1.1l.6 2.8zm2 0l.4-2.7h.7l.4 2.7zm7 0l.5-2h.9l.5 2zm2 0l.4-2.9h.8l.4 2.9zm5 0l.6-2.7h1.3l.6 2.7zm5 0l.3-2.7h.8l.3 2.7zm1 0l.2-1.8h.6l.2 1.8zm1 0l.5-2h.9l.5 2zm4 0l.7-2h1.5l.7 2zm2 0l.7-2.7h1.2l.7 2.7zm3 0l.9-2h1.8l.9 2zm1 0l.8-2.7h1.6l.8 2.7zm2 0l.4-2.8h.8l.4 2.8zm1 0l.8-2.2h1.5l.8 2.2zm1 0l.3-2.4h.7l.3 2.4zm1 0l.5-2.6h.9l.5 2.6zm1 0l.7-2.8h1.2l.7 2.8zm2 0l.9-2.8h1.7l.9 2.8zm1 0l.5-2.6h.8l.5 2.6zm2 0l.8-2.2h1.4l.8 2.2zm1 0l.8-2.8h1.5l.8 2.8zm3 0l.9-2.6h2l.9 2.6zm2 0l.8-2.5h1.4l.8 2.5zm1 0l.5-2.7h.9l.5 2.7zm3 0l.3-1.6h.8l.3 1.6zm1 0l.9-2.3h2.6l.9 2.3zm3 0l.9-1.8h1.7l.9 1.8zm1 0l.3-2.1h.8l.3 2.1zm2 0l.4-2.8h.9l.4 2.8zm1 0l.3-2.7h.8l.3 2.7zm1 0l.3-1.8h.5l.3 1.8zm1 0l.7-2.4h1.5l.7 2.4zm1 0l.2-2.7h.6l.2 2.7zm1 0l.5-2.5h.8l.5 2.5zm1 0l.4-1.9h.8l.4 1.9zm5 0l.3-2.1h.6l.3 2.1zm6 0l.4-2.3h.9l.4 2.3zm1 0l.3-2.3h.7l.3 2.3zm3 0l.3-2.5h.7l.3 2.5zm2 0l.3-2.6h.6l.3 2.6zm1 0l.5-2.6h1.1l.5 2.6zm7 0l.4-2.7h.9l.4 2.7zm1 0l.5-2.2h1.1l.5 2.2zm11 0l.5-2.8h1l.5 2.8zm2 0l.4-1.8h.7l.4 1.8zm2 0l.9-2.8h1.8l.9 2.8zm1 0l.9-1.8h2.3l.9 1.8zm2 0l.9-2.7h2.5l.9 2.7zm1 0l.9-2.7h1.9l.9 2.7zm1 0l.3-2.5h.5l.3 2.5zm1 0l.9-2h2.2l.9 2zm1 0l.9-2.8h1.7l.9 2.8zm1 0l.9-2.4h2.1l.9 2.4zm1 0l.3-2.2h.6l.3 2.2zm1 0l.8-2.7h1.7l.8 2.7zm5 0l.6-2.5h1.2l.6 2.5zm1 0l.9-2.5h2l.9 2.5zm1 0l.6-2.6h1.2l.6 2.6zm3 0l.2-2h.5l.2 2zm1 0l.8-2.1h1.8l.8 2.1zm1 0l.9-2.3h1.9l.9 2.3zm1 0l.8-2.6h1.5l.8 2.6zm2 0l.3-2.4h.8l.3 2.4zm1 0l.9-1.5h2.4l.9 1.5zm1 0l.4-2.8h.8l.4 2.8zm2 0l.5-2.2h1.1l.5 2.2zm1 0l.9-2.8h2l.9 2.8zm1 0l.3-2.7h.6l.3 2.7zm1 0l.6-1.6h1.3l.6 1.6zm1 0l.4-2.4h.7l.4 2.4zm1 0l.1-2.9h.3l.1 2.9zM275.8 234.12m2 0l.5-2.9h1.1l.5 2.9zm1 0l.8-2.7h1.5l.8 2.7zm1 0l.3-2.3h.6l.3 2.3zm4 0l.5-1.9h.9l.5 1.9zm2 0l.2-2.7h.5l.2 2.7zm5 0l.5-2.2h1.1l.5 2.2zm1 0l.3-2.5h.7l.3 2.5zm9 0l.6-2.6h1l.6 2.6zm1 0l.4-2.6h.7l.4 2.6zm9 0l.4-2.1h.8l.4 2.1zm5 0l.6-2.6h1.1l.6 2.6zm1 0l.3-2.8h.5l.3 2.8zm1 0l.2-2.2h.6l.2 2.2zm2 0l.5-2.4h.9l.5 2.4zm1 0l.8-2h1.6l.8 2zm2 0l.4-2.5h.8l.4 2.5zm1 0l.9-2.7h2.2l.9 2.7zm2 0l.6-2.6h1.2l.6 2.6zm1 0l.3-1.9h.7l.3 1.9zm1 0l.9-2.2h2.3l.9 2.2zm1 0l.5-2.7h1l.5 2.7zm1 0l.9-2.1h2.3l.9 2.1zm1 0l.9-1.9h2.6l.9 1.9zm1 0l.7-2.5h1.3l.7 2.5zm1 0l.5-2.7h1l.5 2.7zm1 0l.9-2h2.5l.9 2zm2 0l.9-2.7h2.5l.9 2.7zm1 0l.8-2.5h1.6l.8 2.5zm1 0l.3-2.4h.6l.3 2.4zm1 0l.5-2.7h.8l.5 2.7zm2 0l.7-2.6h1.2l.7 2.6zm1 0l.8-2.1h1.8l.8 2.1zm3 0l.9-2.1h1.9l.9 2.1zm1 0l.3-2.9h.8l.3 2.9zm1 0l.7-2.7h1.3l.7 2.7zm1 0l.5-2.4h1.1l.5 2.4zm1 0l.4-2.5h.7l.4 2.5zm1 0l.4-2.3h.7l.4 2.3zm1 0l.7-2.6h1.5l.7 2.6zm1 0l.9-2.3h2.3l.9 2.3zm1 0l.9-1.6h2.5l.9 1.6zm1 0l.8-1.8h1.6l.8 1.8zm1 0l.7-2.8h1.4l.7 2.8zm1 0l.8-2.3h1.8l.8 2.3zm1 0l.3-2.5h.5l.3 2.5zm1 0l.9-2.6h1.7l.9 2.6zm6 0l.4-2.4h.8l.4 2.4zm1 0l.4-1.8h.8l.4 1.8zm1 0l.3-2.2h.8l.3 2.2zm10 0l.4-1.6h.7l.4 1.6zm1 0l.3-2.1h.7l.3 2.1zm1 0l.6-2.6h1.3l.6 2.6zm7 0l.6-2.8h1.2l.6 2.8zm1 0l.5-2h.9l.5 2zm9 0l.9-2h2.6l.9 2zm5 0l.6-2.8h1l.6 2.8zm1 0l.7-2.7h1.3l.7 2.7zm2 0l.8-2.2h1.5l.8 2.2zm1 0l.9-2.4h1.8l.9 2.4zm1 0l.6-2.8h1.2l.6 2.8zm2 0l.4-2.7h.9l.4 2.7zm1 0l.4-2.1h.7l.4 2.1zm1 0l.9-2.2h2.5l.9 2.2zm2 0l.7-2.8h1.3l.7 2.8zm1 0l.5-2.8h1.1l.5 2.8zm2 0l.3-2.8h.7l.3 2.8zm2 0l.3-2.6h.8l.3 2.6zm2 0l.8-2.6h1.4l.8 2.6zm2 0l.5-2.6h1.1l.5 2.6zm1 0l.4-2.5h.7l.4 2.5zm1 0l.5-2.8h.9l.5 2.8zm1 0l.5-2.5h.9l.5 2.5zm1 0l.3-2.2h.7l.3 2.2zm2 0l.7-2.6h1.3l.7 2.6zm1 0l.7-2.6h1.4l.7 2.6zm2 0l.9-2.6h2.4l.9 2.6zm1 0l.5-2.6h1l.5 2.6zm2 0l.6-2.6h1.3l.6 2.6zm1 0l.4-2.7h.7l.4 2.7zm1 0l.1-2.8h.3l.1 2.8zM275.8 237.01m2 0l.7-2.2h1.3l.7 2.2zm2 0l.5-2.2h.8l.5 2.2zm3 0l.3-2.8h.6l.3 2.8zm10 0l.4-2.2h.9l.4 2.2zm23 0l.6-2.1h1.1l.6 2.1zm2 0l.8-2.7h1.5l.8 2.7zm1 0l.9-2.3h1.9l.9 2.3zm1 0l.2-1.9h.6l.2 1.9zm2 0l.9-2.2h2.3l.9 2.2zm2 0l.6-2.1h1.1l.6 2.1zm2 0l.9-2.8h2.4l.9 2.8zm4 0l.9-2.3h2.6l.9 2.3zm1 0l.7-2.9h1.2l.7 2.9zm1 0l.6-2.9h1.1l.6 2.9zm1 0l.9-2.2h2.1l.9 2.2zm1 0l.8-2.1h1.6l.8 2.1zm1 0l.4-2.7h.7l.4 2.7zm2 0l.9-2.3h2.4l.9 2.3zm2 0l.7-2.4h1.3l.7 2.4zm1 0l.6-2h1.2l.6 2zm2 0l.9-2.7h2l.9 2.7zm1 0l.3-2.3h.8l.3 2.3zm2 0l.9-2.6h2.4l.9 2.6zm1 0l.5-2.7h.9l.5 2.7zm1 0l.9-2.8h1.8l.9 2.8zm1 0l.9-2.4h1.7l.9 2.4zm1 0l.4-2.6h.8l.4 2.6zm1 0l.6-2.3h1l.6 2.3zm1 0l.6-2h1l.6 2zm1 0l.8-2.8h1.7l.8 2.8zm1 0l.9-2h2.7l.9 2zm2 0l.7-2.2h1.5l.7 2.2zm1 0l.9-2.5h2.1l.9 2.5zm1 0l.2-2.2h.6l.2 2.2zm1 0l.8-2.6h1.8l.8 2.6zm3 0l.5-2.3h.9l.5 2.3zm3 0l.5-2.7h.9l.5 2.7zm2 0l.6-2.5h1l.6 2.5zm11 0l.5-2.7h.9l.5 2.7zm4 0l.3-2h.8l.3 2zm1 0l.3-2.6h.8l.3 2.6zm11 0l.4-2.1h.9l.4 2.1zm2 0l.9-2.2h2.3l.9 2.2zm1 0l.7-1.8h1.2l.7 1.8zm1 0l.9-2.2h2.1l.9 2.2zm1 0l.8-2.3h1.6l.8 2.3zm1 0l.3-2.1h.7l.3 2.1zm1 0l.9-2.3h1.7l.9 2.3zm1 0l.9-2h2.1l.9 2zm3 0l.9-2.8h2.3l.9 2.8zm2 0l.3-2.1h.5l.3 2.1zm1 0l.9-2.4h2.3l.9 2.4zm3 0l.6-2.7h1.1l.6 2.7zm1 0l.9-2.6h2.4l.9 2.6zm1 0l.5-2.4h.9l.5 2.4zm2 0l.9-2.7h2l.9 2.7zm2 0l.2-2.3h.6l.2 2.3zm2 0l.9-2.8h1.7l.9 2.8zm1 0l.3-2.5h.7l.3 2.5zm1 0l.5-2.7h1.1l.5 2.7zm1 0l.5-2.3h.9l.5 2.3zm1 0l.7-2.4h1.3l.7 2.4zm1 0l.9-2.5h2.5l.9 2.5zm1 0l.3-2.2h.5l.3 2.2zm2 0l.4-2.3h.8l.4 2.3zm2 0l.4-2.6h.8l.4 2.6zm1 0l.5-2.8h.9l.5 2.8zm2 0l.3-2.6h.8l.3 2.6zm1 0l.6-2.5h1.3l.6 2.5zm2 0l.1-2.7h.3l.1 2.7zM275.8 239.89m1 0l.2-2.6h.6l.2 2.6zm2 0l.5-2.7h.8l.5 2.7zm6 0l.4-2h.7l.4 2zm1 0l.6-2.8h1.2l.6 2.8zm1 0l.4-2.3h.9l.4 2.3zm3 0l.4-2.6h.9l.4 2.6zm1 0l.5-1.7h1.1l.5 1.7zm3 0l.2-2.4h.6l.2 2.4zm3 0l.2-2.8h.6l.2 2.8zm2 0l.6-2.8h1l.6 2.8zm4 0l.5-2.1h1l.5 2.1zm1 0l.3-2.7h.7l.3 2.7zm13 0l.8-2h1.8l.8 2zm1 0l.5-2h.8l.5 2zm1 0l.3-2.8h.6l.3 2.8zm1 0l.9-2.1h2.2l.9 2.1zm3 0l.7-2.6h1.3l.7 2.6zm3 0l.7-2.8h1.5l.7 2.8zm1 0l.7-2.5h1.5l.7 2.5zm2 0l.4-2.9h.9l.4 2.9zm2 0l.9-2.8h1.7l.9 2.8zm1 0l.9-2.7h1.8l.9 2.7zm4 0l.5-2.8h1.1l.5 2.8zm1 0l.3-2.6h.5l.3 2.6zm2 0l.7-2.5h1.5l.7 2.5zm1 0l.9-2h1.9l.9 2zm2 0l.9-2.3h1.9l.9 2.3zm1 0l.8-2.6h1.4l.8 2.6zm2 0l.6-2.6h1.2l.6 2.6zm3 0l.8-2.5h1.5l.8 2.5zm2 0l.9-1.9h2.5l.9 1.9zm2 0l.9-2.4h2.3l.9 2.4zm2 0l.8-2.4h1.5l.8 2.4zm1 0l.8-2.7h1.7l.8 2.7zm2 0l.6-2.9h1.2l.6 2.9zm2 0l.3-2.7h.6l.3 2.7zm4 0l.5-2.8h.9l.5 2.8zm2 0l.5-1.6h1.1l.5 1.6zm2 0l.2-2.5h.5l.2 2.5zm23 0l.4-2.8h.9l.4 2.8zm2 0l.6-2h1.1l.6 2zm3 0l.9-2.8h2.4l.9 2.8zm1 0l.9-2.6h1.8l.9 2.6zm2 0l.6-2.9h1.3l.6 2.9zm1 0l.8-2.7h1.4l.8 2.7zm2 0l.6-2.4h1.1l.6 2.4zm1 0l.3-2.6h.6l.3 2.6zm1 0l.3-2h.7l.3 2zm1 0l.3-2.7h.6l.3 2.7zm2 0l.6-2.4h1.3l.6 2.4zm3 0l.8-2h1.7l.8 2zm3 0l.8-1.9h1.6l.8 1.9zm3 0l.5-2.6h.8l.5 2.6zm1 0l.9-2.7h2.3l.9 2.7zm1 0l.3-2.7h.7l.3 2.7zm1 0l.2-2.8h.6l.2 2.8zm4 0l.8-2.6h1.7l.8 2.6zm1 0l.6-2.6h1.2l.6 2.6zm1 0l.4-1.6h.9l.4 1.6zm1 0l.9-2.1h2.6l.9 2.1zm1 0l.2-2.8h.5l.2 2.8zm1 0l.7-2.2h1.5l.7 2.2zm1 0l.4-2.3h.9l.4 2.3zm3 0l.9-2.8h1.7l.9 2.8zm2 0l.4-2.7h.7l.4 2.7zm1 0l.1-2.2h.3l.1 2.2zM275.8 242.78m1 0l.7-2.8h1.5l.7 2.8zm24 0l.2-2.7h.5l.2 2.7zm16 0l.2-2.4h.6l.2 2.4zm4 0l.8-2.5h1.6l.8 2.5zm1 0l.2-2.7h.6l.2 2.7zm1 0l.5-2.8h.8l.5 2.8zm1 0l.3-1.9h.6l.3 1.9zm5 0l.3-2.8h.6l.3 2.8zm2 0l.5-2.7h1l.5 2.7zm8 0l.4-2.7h.8l.4 2.7zm5 0l.5-2.7h.8l.5 2.7zm2 0l.3-2.8h.6l.3 2.8zm2 0l.2-2.4h.5l.2 2.4zm2 0l.7-2.4h1.2l.7 2.4zm1 0l.9-1.6h2l.9 1.6zm1 0l.3-2.1h.5l.3 2.1zm2 0l.6-2.8h1.2l.6 2.8zm1 0l.5-2.9h.8l.5 2.9zm1 0l.3-2.4h.7l.3 2.4zm1 0l.8-2.3h1.4l.8 2.3zm17 0l.3-2.5h.7l.3 2.5zm15 0l.5-2h.8l.5 2zm2 0l.2-1.8h.6l.2 1.8zm2 0l.5-2.7h1.1l.5 2.7zm3 0l.9-1.9h1.8l.9 1.9zm2 0l.6-2.4h1.1l.6 2.4zm1 0l.9-2.8h1.8l.9 2.8zm1 0l.2-2.2h.6l.2 2.2zm4 0l.3-1.9h.6l.3 1.9zm1 0l.5-2.6h.9l.5 2.6zm7 0l.3-2.7h.8l.3 2.7zm6 0l.2-2.2h.5l.2 2.2zm3 0l.3-1.8h.7l.3 1.8zm1 0l.5-2.7h.9l.5 2.7zm2 0l.4-2.5h.7l.4 2.5zm3 0l.8-2.8h1.8l.8 2.8zm2 0l.9-2.1h2l.9 2.1zm1 0l.6-2h1.3l.6 2zm2 0l.6-2.5h1l.6 2.5zM275.8 245.67m0 0l.7-2.6h1.4l.7 2.6zm1 0l.9-2.7h1.8l.9 2.7zm1 0l.9-1.7h2.5l.9 1.7zm3 0l.4-2.3h.7l.4 2.3zm2 0l.5-2.3h.8l.5 2.3zm29 0l.5-2.2h.9l.5 2.2zm4 0l.3-2.5h.8l.3 2.5zm1 0l.7-2.9h1.5l.7 2.9zm1 0l.5-2.6h.8l.5 2.6zm1 0l.5-2h.8l.5 2zm1 0l.8-2.7h1.8l.8 2.7zm3 0l.5-2.3h.8l.5 2.3zm11 0l.4-1.5h.9l.4 1.5zm2 0l.6-2.5h1.2l.6 2.5zm3 0l.3-1.6h.8l.3 1.6zm3 0l.6-2.1h1l.6 2.1zm3 0l.3-2.5h.6l.3 2.5zm1 0l.6-2.9h1.2l.6 2.9zm2 0l.7-2h1.5l.7 2zm1 0l.9-2.4h2.8l.9 2.4zm1 0l.9-2h2l.9 2zm1 0l.4-2.5h.9l.4 2.5zm1 0l.4-1.8h.8l.4 1.8zm1 0l.9-2.7h3l.9 2.7zm1 0l.3-2.8h.7l.3 2.8zm1 0l.7-1.8h1.2l.7 1.8zm1 0l.7-1.7h1.3l.7 1.7zm1 0l.9-1.7h2l.9 1.7zm8 0l.3-2.9h.7l.3 2.9zm12 0l.3-2.9h.6l.3 2.9zm2 0l.4-2.3h.8l.4 2.3zm17 0l.3-1.8h.6l.3 1.8zm1 0l.9-2.7h1.7l.9 2.7zm4 0l.9-1.8h1.7l.9 1.8zm1 0l.6-2.8h1.3l.6 2.8zm2 0l.3-1.8h.8l.3 1.8zm1 0l.7-1.7h1.2l.7 1.7zm11 0l.3-2.9h.5l.3 2.9zm2 0l.5-2h1l.5 2zm2 0l.4-2.7h.8l.4 2.7zm2 0l.5-2.1h.8l.5 2.1zm3 0l.5-1.9h1l.5 1.9zm2 0l.7-2.8h1.5l.7 2.8zm1 0l.8-2.5h1.8l.8 2.5zm1 0l.2-2.7h.6l.2 2.7zm1 0l.2-2h.5l.2 2zm1 0l.7-2.2h1.2l.7 2.2zm1 0l.3-2.6h.6l.3 2.6zm1 0l.4-2.8h.7l.4 2.8zM275.8 248.56m0 0l.4-2.3h.8l.4 2.3zm1 0l.5-2.7h.9l.5 2.7zm1 0l.6-2.6h1.3l.6 2.6zm3 0l.3-2.8h.5l.3 2.8zm7 0l.3-2.5h.5l.3 2.5zm1 0l.6-2.8h1l.6 2.8zm21 0l.4-2.2h.7l.4 2.2zm1 0l.5-2.1h.9l.5 2.1zm1 0l.3-2.8h.5l.3 2.8zm4 0l.6-1.7h1.1l.6 1.7zm1 0l.7-2.2h1.4l.7 2.2zm1 0l.8-2.8h1.8l.8 2.8zm1 0l.9-2.4h2.2l.9 2.4zm2 0l.8-2.6h1.4l.8 2.6zm1 0l.2-2.5h.6l.2 2.5zm6 0l.4-1.6h.7l.4 1.6zm1 0l.3-2.6h.5l.3 2.6zm4 0l.3-2.7h.7l.3 2.7zm3 0l.7-2.8h1.2l.7 2.8zm11 0l.8-2.1h1.8l.8 2.1zm1 0l.5-2.2h1.1l.5 2.2zm2 0l.9-1.9h1.9l.9 1.9zm1 0l.6-2.7h1.1l.6 2.7zm1 0l.6-2.3h1.2l.6 2.3zm3 0l.9-1.9h2.6l.9 1.9zm2 0l.6-2.6h1.2l.6 2.6zm14 0l.5-2.8h1.1l.5 2.8zm8 0l.5-2.8h1l.5 2.8zm10 0l.4-1.9h.8l.4 1.9zm7 0l.5-1.9h.9l.5 1.9zm1 0l.5-2.4h1l.5 2.4zm1 0l.3-2.6h.5l.3 2.6zm4 0l.8-2.7h1.4l.8 2.7zm3 0l.3-2.9h.6l.3 2.9zm4 0l.5-2.7h.8l.5 2.7zm5 0l.6-2.5h1.2l.6 2.5zm5 0l.4-1.8h.8l.4 1.8zm1 0l.3-2.6h.5l.3 2.6zm2 0l.4-2.1h.9l.4 2.1zm4 0l.4-1.9h.7l.4 1.9zm1 0l.9-1.9h2.3l.9 1.9zm1 0l.8-2.3h1.6l.8 2.3zm1 0l.8-2.5h1.5l.8 2.5zm1 0l.3-2.5h.5l.3 2.5zm1 0l.9-2.9h1.7l.9 2.9zm1 0l.6-1.7h1.3l.6 1.7zm1 0l.3-2.6h.5l.3 2.6zm1 0l.1-2.8h.3l.1 2.8zM275.8 251.44m0 0l.3-2.8h.7l.3 2.8zm1 0l.3-2.5h.6l.3 2.5zm1 0l.6-2.6h1l.6 2.6zm1 0l.8-2.2h1.4l.8 2.2zm11 0l.3-2.7h.6l.3 2.7zm7 0l.2-2.5h.6l.2 2.5zm3 0l.4-2.8h.9l.4 2.8zm2 0l.2-2.8h.5l.2 2.8zm8 0l.5-2.8h.8l.5 2.8zm1 0l.6-2.5h1.1l.6 2.5zm2 0l.5-2.4h.9l.5 2.4zm2 0l.3-2.5h.7l.3 2.5zm2 0l.9-2.3h1.9l.9 2.3zm4 0l.7-2.6h1.2l.7 2.6zm1 0l.7-2.6h1.2l.7 2.6zm2 0l.5-1.9h1.1l.5 1.9zm2 0l.6-2.5h1.2l.6 2.5zm5 0l.6-2.7h1.3l.6 2.7zm4 0l.6-2.6h1.1l.6 2.6zm1 0l.6-1.9h1.1l.6 1.9zm2 0l.3-1.9h.7l.3 1.9zm4 0l.3-1.9h.7l.3 1.9zm4 0l.7-2.9h1.2l.7 2.9zm2 0l.9-2.7h2.3l.9 2.7zm2 0l.5-2.8h1.1l.5 2.8zm2 0l.8-2.3h1.6l.8 2.3zm1 0l.2-2.6h.5l.2 2.6zm1 0l.9-2.6h2.1l.9 2.6zm1 0l.8-2.1h1.8l.8 2.1zm1 0l.5-2.7h1.1l.5 2.7zm1 0l.9-2.8h2.1l.9 2.8zm1 0l.6-2.2h1.1l.6 2.2zm1 0l.9-2.7h1.7l.9 2.7zm21 0l.2-2.8h.5l.2 2.8zm18 0l.8-2.4h1.5l.8 2.4zm3 0l.4-2.3h.9l.4 2.3zm2 0l.9-2.4h1.9l.9 2.4zm2 0l.5-1.7h1l.5 1.7zm1 0l.6-2.5h1l.6 2.5zm2 0l.3-2.5h.6l.3 2.5zm1 0l.6-2.6h1.1l.6 2.6zm16 0l.2-2.2h.6l.2 2.2zm2 0l.5-1.9h1l.5 1.9zm1 0l.4-2.3h.8l.4 2.3zm1 0l.7-2.7h1.5l.7 2.7zm1 0l.8-2.8h1.4l.8 2.8zm1 0l.7-2.6h1.3l.7 2.6zm2 0l.3-2.2h.7l.3 2.2zM275.8 254.33m0 0l.8-2.9h1.4l.8 2.9zm1 0l.3-2.2h.7l.3 2.2zm1 0l.9-2.6h2.1l.9 2.6zm1 0l.3-2.7h.5l.3 2.7zm3 0l.3-2.3h.7l.3 2.3zm13 0l.3-2.6h.6l.3 2.6zm5 0l.5-2.7h1l.5 2.7zm13 0l.3-2.2h.6l.3 2.2zm5 0l.5-2h1.1l.5 2zm1 0l.5-2.2h1l.5 2.2zm1 0l.9-2.7h2.3l.9 2.7zm1 0l.4-2.9h.8l.4 2.9zm3 0l.5-2.4h.8l.5 2.4zm2 0l.6-2.5h1.3l.6 2.5zm1 0l.5-1.8h.8l.5 1.8zm4 0l.4-2h.7l.4 2zm2 0l.4-2.1h.7l.4 2.1zm1 0l.5-2.2h.8l.5 2.2zm2 0l.4-1.9h.8l.4 1.9zm7 0l.3-1.9h.7l.3 1.9zm6 0l.6-2.7h1.1l.6 2.7zm1 0l.5-2.5h1.1l.5 2.5zm1 0l.9-2h2l.9 2zm1 0l.5-2.9h1.1l.5 2.9zm2 0l.8-2.6h1.7l.8 2.6zm1 0l.5-2.1h.9l.5 2.1zm1 0l.6-2.7h1l.6 2.7zm1 0l.4-2.1h.7l.4 2.1zm1 0l.6-2.6h1.3l.6 2.6zm10 0l.3-2.6h.7l.3 2.6zm13 0l.5-2.7h1l.5 2.7zm12 0l.6-2.9h1.3l.6 2.9zm3 0l.2-2.9h.5l.2 2.9zm1 0l.9-2.6h2.1l.9 2.6zm1 0l.6-1.9h1.1l.6 1.9zm2 0l.9-2h2l.9 2zm2 0l.5-2.7h1.1l.5 2.7zm1 0l.2-2.8h.5l.2 2.8zm1 0l.2-2.5h.6l.2 2.5zm1 0l.8-2.4h1.4l.8 2.4zm5 0l.6-2.2h1.3l.6 2.2zm1 0l.2-2.8h.5l.2 2.8zm1 0l.6-2.6h1.1l.6 2.6zm4 0l.3-2h.8l.3 2zm1 0l.5-2.7h1l.5 2.7zm1 0l.3-2.4h.5l.3 2.4zm3 0l.6-2h1l.6 2zm3 0l.6-2.8h1.1l.6 2.8zm2 0l.3-2.8h.5l.3 2.8zm4 0l.3-2.4h.5l.3 2.4zm2 0l.5-2.3h1l.5 2.3zm1 0l.4-2h.7l.4 2zM275.8 257.22m2 0l.9-2.5h2.7l.9 2.5zm2 0l.9-1.7h2l.9 1.7zm7 0l.4-2.4h.8l.4 2.4zm1 0l.3-2.9h.8l.3 2.9zm9 0l.3-2.6h.7l.3 2.6zm10 0l.4-2.2h.8l.4 2.2zm1 0l.4-2.9h.9l.4 2.9zm6 0l.4-2.3h.9l.4 2.3zm5 0l.2-2.6h.6l.2 2.6zm1 0l.6-2.5h1.3l.6 2.5zm1 0l.8-2.8h1.7l.8 2.8zm2 0l.9-2.8h1.8l.9 2.8zm5 0l.6-1.8h1l.6 1.8zm2 0l.5-2.8h.8l.5 2.8zm1 0l.5-2.5h1.1l.5 2.5zm2 0l.6-2h1.3l.6 2zm2 0l.6-2.6h1.1l.6 2.6zm6 0l.3-2.8h.6l.3 2.8zm2 0l.5-2.2h1l.5 2.2zm1 0l.3-2.5h.7l.3 2.5zm1 0l.5-2.8h1l.5 2.8zm5 0l.3-2.6h.7l.3 2.6zm2 0l.7-2.9h1.3l.7 2.9zm1 0l.3-2.5h.7l.3 2.5zm1 0l.9-2.4h2.2l.9 2.4zm2 0l.9-2.5h2.2l.9 2.5zm1 0l.9-2h2.3l.9 2zm1 0l.9-2.5h1.9l.9 2.5zm10 0l.5-2.2h.8l.5 2.2zm5 0l.4-2.7h.9l.4 2.7zm9 0l.4-1.8h.9l.4 1.8zm16 0l.6-2.3h1.1l.6 2.3zm3 0l.6-2.3h1.1l.6 2.3zm1 0l.9-1.9h1.9l.9 1.9zm2 0l.9-2.8h2.1l.9 2.8zm10 0l.5-2.1h1.1l.5 2.1zm4 0l.3-2.6h.7l.3 2.6zm11 0l.5-2.4h.8l.5 2.4zm3 0l.3-2h.6l.3 2zm1 0l.4-2.2h.7l.4 2.2zm1 0l.1-2.8h.3l.1 2.8zM275.8 260.1m0 0l.6-2.8h1.3l.6 2.8zm1 0l.8-2.4h1.6l.8 2.4zm1 0l.9-1.6h1.8l.9 1.6zm1 0l.6-1.9h1.3l.6 1.9zm2 0l.4-1.9h.9l.4 1.9zm14 0l.3-2.8h.8l.3 2.8zm17 0l.5-2.6h1l.5 2.6zm5 0l.5-2.3h.9l.5 2.3zm2 0l.5-1.8h1.1l.5 1.8zm1 0l.5-2.7h1l.5 2.7zm1 0l.8-2h1.4l.8 2zm2 0l.8-2.6h1.5l.8 2.6zm2 0l.9-2.7h1.8l.9 2.7zm3 0l.6-2.1h1.3l.6 2.1zm4 0l.6-2.8h1l.6 2.8zm2 0l.4-2.4h.8l.4 2.4zm3 0l.4-2.9h.9l.4 2.9zm2 0l.6-2.5h1.3l.6 2.5zm3 0l.6-2.5h1.1l.6 2.5zm1 0l.4-2.2h.9l.4 2.2zm6 0l.6-2.8h1.2l.6 2.8zm1 0l.9-2.6h2.7l.9 2.6zm1 0l.9-2.8h2.3l.9 2.8zm1 0l.6-2.7h1.1l.6 2.7zm1 0l.3-2.4h.7l.3 2.4zm1 0l.3-2.6h.6l.3 2.6zm2 0l.9-2.1h2.1l.9 2.1zm1 0l.9-2.7h2.8l.9 2.7zm1 0l.5-2.2h1.1l.5 2.2zm1 0l.9-2.6h2.4l.9 2.6zm1 0l.9-2.7h2.2l.9 2.7zm1 0l.7-1.9h1.4l.7 1.9zm6 0l.5-2.5h.8l.5 2.5zm9 0l.5-2.4h.8l.5 2.4zm6 0l.2-2.8h.6l.2 2.8zm13 0l.5-1.8h.9l.5 1.8zm1 0l.5-1.8h1.1l.5 1.8zm3 0l.3-2.4h.8l.3 2.4zm1 0l.8-2.2h1.7l.8 2.2zm1 0l.6-2.5h1.3l.6 2.5zm1 0l.7-2.5h1.4l.7 2.5zm2 0l.9-2.9h2l.9 2.9zm4 0l.4-2.9h.9l.4 2.9zm13 0l.3-2.5h.5l.3 2.5zm2 0l.3-2.5h.6l.3 2.5zm2 0l.3-2h.6l.3 2zm2 0l.3-2.6h.5l.3 2.6zm3 0l.5-2.7h1.1l.5 2.7zM275.8 262.99m0 0l.2-2.6h.6l.2 2.6zm1 0l.9-2.5h1.8l.9 2.5zm1 0l.3-1.5h.8l.3 1.5zm1 0l.9-2.2h3l.9 2.2zm1 0l.9-2.8h3l.9 2.8zm1 0l.9-2.7h2.8l.9 2.7zm1 0l.4-2.3h.9l.4 2.3zm5 0l.4-2.1h.7l.4 2.1zm1 0l.3-2.9h.5l.3 2.9zm19 0l.5-2.8h.9l.5 2.8zm7 0l.5-2.2h.8l.5 2.2zm1 0l.4-2.7h.9l.4 2.7zm1 0l.3-1.7h.6l.3 1.7zm2 0l.4-2.6h.8l.4 2.6zm2 0l.6-2.8h1.2l.6 2.8zm2 0l.9-2.8h1.9l.9 2.8zm3 0l.7-2.3h1.5l.7 2.3zm2 0l.7-2.1h1.4l.7 2.1zm2 0l.4-1.9h.7l.4 1.9zm1 0l.3-2.4h.6l.3 2.4zm5 0l.2-2.7h.6l.2 2.7zm5 0l.5-2.3h1l.5 2.3zm7 0l.5-2.5h.9l.5 2.5zm4 0l.7-2.7h1.5l.7 2.7zm1 0l.9-2.5h1.9l.9 2.5zm1 0l.9-2.9h1.7l.9 2.9zm1 0l.9-2.9h2.8l.9 2.9zm1 0l.9-1.9h2.6l.9 1.9zm1 0l.5-2.6h.8l.5 2.6zm1 0l.9-2.2h2.6l.9 2.2zm1 0l.8-2.3h1.4l.8 2.3zm1 0l.9-1.7h1.8l.9 1.7zm1 0l.3-1.8h.7l.3 1.8zm1 0l.5-2.9h.8l.5 2.9zm1 0l.6-2.2h1.2l.6 2.2zm5 0l.4-2.5h.8l.4 2.5zm3 0l.4-2.6h.7l.4 2.6zm8 0l.3-2.8h.7l.3 2.8zm4 0l.3-2.5h.5l.3 2.5zm7 0l.5-2.3h1l.5 2.3zm1 0l.3-2.6h.8l.3 2.6zm5 0l.5-2.8h1l.5 2.8zm1 0l.2-2h.6l.2 2zm2 0l.4-1.8h.8l.4 1.8zm3 0l.8-2.4h1.8l.8 2.4zm4 0l.9-2.9h2.3l.9 2.9zm3 0l.5-2.3h1l.5 2.3zm5 0l.5-2h.9l.5 2zm15 0l.6-2.5h1.1l.6 2.5zm3 0l.7-2.6h1.3l.7 2.6zm3 0l.1-1.6h.3l.1 1.6zM275.8 265.88m0 0l.7-2.6h1.2l.7 2.6zm1 0l.9-2.8h2.5l.9 2.8zm2 0l.8-2.2h1.7l.8 2.2zm1 0l.9-2.6h2.7l.9 2.6zm2 0l.9-1.8h1.8l.9 1.8zm30 0l.3-2.9h.5l.3 2.9zm9 0l.9-2.8h2.2l.9 2.8zm3 0l.3-2.4h.5l.3 2.4zm1 0l.9-2.4h1.9l.9 2.4zm1 0l.4-2.9h.9l.4 2.9zm1 0l.3-2.2h.8l.3 2.2zm1 0l.4-2.1h.9l.4 2.1zm1 0l.5-2.9h.8l.5 2.9zm7 0l.6-2.2h1l.6 2.2zm1 0l.5-1.8h.8l.5 1.8zm4 0l.2-2.1h.6l.2 2.1zm1 0l.4-2.1h.9l.4 2.1zm9 0l.4-2.7h.8l.4 2.7zm1 0l.4-2.7h.9l.4 2.7zm1 0l.4-1.5h.8l.4 1.5zm1 0l.8-2h1.6l.8 2zm2 0l.9-2.6h2.5l.9 2.6zm1 0l.3-2.9h.7l.3 2.9zm1 0l.6-1.7h1.2l.6 1.7zm1 0l.4-2.6h.9l.4 2.6zm1 0l.5-2.8h.9l.5 2.8zm1 0l.8-2.6h1.7l.8 2.6zm1 0l.4-1.7h.9l.4 1.7zm1 0l.3-2.5h.8l.3 2.5zm1 0l.3-2.6h.5l.3 2.6zm11 0l.4-1.9h.7l.4 1.9zm10 0l.2-2.7h.6l.2 2.7zm6 0l.5-2.7h1.1l.5 2.7zm3 0l.4-2.6h.7l.4 2.6zm1 0l.3-1.6h.8l.3 1.6zm3 0l.5-2.7h.9l.5 2.7zm3 0l.9-2.2h1.7l.9 2.2zm1 0l.9-2.5h1.9l.9 2.5zm1 0l.7-2.2h1.3l.7 2.2zm1 0l.8-2.2h1.8l.8 2.2zm1 0l.8-2.6h1.7l.8 2.6zm1 0l.5-2.2h.8l.5 2.2zm1 0l.4-2.7h.9l.4 2.7zm1 0l.6-2.2h1l.6 2.2zm1 0l.6-2.5h1.2l.6 2.5zm3 0l.4-2.8h.7l.4 2.8zm2 0l.6-2.7h1.1l.6 2.7zm1 0l.4-2.4h.8l.4 2.4zm5 0l.3-2.4h.5l.3 2.4zm6 0l.5-2.1h.8l.5 2.1zm4 0l.4-2.6h.8l.4 2.6zm2 0l.6-1.9h1.2l.6 1.9zm2 0l.1-2.5h.3l.1 2.5zM275.8 268.76m0 0l.5-2.9h.9l.5 2.9zm1 0l.9-2.8h3l.9 2.8zm1 0l.5-1.6h.8l.5 1.6zm1 0l.6-2.9h1.1l.6 2.9zm1 0l.6-2.6h1l.6 2.6zm2 0l.6-2.8h1.2l.6 2.8zm1 0l.9-2.7h2.5l.9 2.7zm7 0l.3-2.8h.5l.3 2.8zm14 0l.4-2.3h.9l.4 2.3zm6 0l.5-2.4h.8l.5 2.4zm10 0l.4-2.8h.8l.4 2.8zm1 0l.5-2h1l.5 2zm2 0l.2-2.9h.6l.2 2.9zm1 0l.6-2.8h1.1l.6 2.8zm1 0l.6-2.8h1l.6 2.8zm1 0l.3-2.8h.6l.3 2.8zm1 0l.9-2.1h2.1l.9 2.1zm1 0l.3-2.4h.5l.3 2.4zm4 0l.3-2.1h.6l.3 2.1zm2 0l.4-2.8h.7l.4 2.8zm12 0l.6-2.1h1.1l.6 2.1zm7 0l.6-2.8h1.3l.6 2.8zm1 0l.9-2.3h2.2l.9 2.3zm1 0l.9-2.3h2.6l.9 2.3zm1 0l.8-2.2h1.8l.8 2.2zm1 0l.3-1.9h.8l.3 1.9zm2 0l.9-1.6h2l.9 1.6zm1 0l.6-2.4h1l.6 2.4zm1 0l.3-2.7h.7l.3 2.7zm1 0l.9-2.8h1.8l.9 2.8zm6 0l.4-2.4h.7l.4 2.4zm1 0l.5-2h.9l.5 2zm5 0l.5-2.9h1l.5 2.9zm1 0l.3-2.6h.7l.3 2.6zm1 0l.5-2.5h.9l.5 2.5zm5 0l.3-2.8h.7l.3 2.8zm2 0l.2-2.2h.6l.2 2.2zm6 0l.3-2.5h.8l.3 2.5zm4 0l.3-1.5h.8l.3 1.5zm8 0l.4-2.6h.8l.4 2.6zm2 0l.3-2.8h.5l.3 2.8zm1 0l.3-2.5h.6l.3 2.5zm1 0l.2-2.8h.6l.2 2.8zm1 0l.5-2.4h1.1l.5 2.4zm1 0l.7-2.3h1.2l.7 2.3zm1 0l.2-2.6h.5l.2 2.6zm3 0l.3-2.7h.6l.3 2.7zm11 0l.6-2.7h1.2l.6 2.7zm6 0l.6-2.6h1.1l.6 2.6zm2 0l.4-2h.8l.4 2zm2 0l.3-2.5h.7l.3 2.5zm1 0l.3-1.9h.7l.3 1.9zM275.8 271.65m0 0l.9-1.9h2.4l.9 1.9zm2 0l.2-2.3h.6l.2 2.3zm2 0l.9-2.9h2.8l.9 2.9zm2 0l.3-2.5h.7l.3 2.5zm1 0l.8-2.8h1.6l.8 2.8zm1 0l.9-1.9h2.6l.9 1.9zm2 0l.5-2.4h.9l.5 2.4zm18 0l.4-1.6h.7l.4 1.6zm11 0l.5-2.5h1.1l.5 2.5zm4 0l.3-2h.7l.3 2zm2 0l.5-2.4h1l.5 2.4zm1 0l.5-2.7h.8l.5 2.7zm1 0l.9-2.2h2.2l.9 2.2zm2 0l.9-2.7h2.3l.9 2.7zm1 0l.9-2.8h2.1l.9 2.8zm2 0l.8-2.1h1.6l.8 2.1zm4 0l.7-2.1h1.2l.7 2.1zm10 0l.6-1.9h1.3l.6 1.9zm3 0l.7-2.6h1.2l.7 2.6zm4 0l.3-2.5h.7l.3 2.5zm2 0l.4-2.4h.9l.4 2.4zm1 0l.5-2.4h.9l.5 2.4zm1 0l.7-2.8h1.5l.7 2.8zm1 0l.3-2.7h.8l.3 2.7zm2 0l.9-2.1h2.7l.9 2.1zm1 0l.9-2.7h2l.9 2.7zm1 0l.3-2.7h.6l.3 2.7zm1 0l.9-2.4h1.9l.9 2.4zm1 0l.3-2.5h.7l.3 2.5zm1 0l.8-1.9h1.7l.8 1.9zm1 0l.5-2.5h.8l.5 2.5zm1 0l.3-2.7h.8l.3 2.7zm21 0l.3-2.3h.6l.3 2.3zm5 0l.5-1.8h1l.5 1.8zm2 0l.5-1.5h.8l.5 1.5zm4 0l.5-2.4h.8l.5 2.4zm8 0l.9-2.6h1.8l.9 2.6zm4 0l.9-2.7h2.3l.9 2.7zm1 0l.6-2.5h1.1l.6 2.5zm6 0l.3-2.8h.6l.3 2.8zm3 0l.6-2.3h1l.6 2.3zm2 0l.2-2.9h.6l.2 2.9zm2 0l.6-2h1l.6 2zm9 0l.4-2.8h.9l.4 2.8zm4 0l.1-2h.3l.1 2zM275.8 274.54m0 0l.9-1.8h2.5l.9 1.8zm1 0l.5-2.9h.9l.5 2.9zm1 0l.9-2.8h2.2l.9 2.8zm1 0l.8-2.3h1.4l.8 2.3zm1 0l.9-2.7h1.9l.9 2.7zm1 0l.6-2.8h1.3l.6 2.8zm2 0l.9-2.6h1.7l.9 2.6zm1 0l.9-2.3h2.1l.9 2.3zm7 0l.5-2.7h1l.5 2.7zm2 0l.3-2.6h.7l.3 2.6zm22 0l.2-2.4h.5l.2 2.4zm8 0l.3-2h.8l.3 2zm1 0l.9-2.7h1.9l.9 2.7zm1 0l.6-2.8h1.1l.6 2.8zm1 0l.4-2.4h.9l.4 2.4zm1 0l.2-2.7h.6l.2 2.7zm1 0l.3-2.8h.8l.3 2.8zm1 0l.6-2.6h1.1l.6 2.6zm1 0l.8-2.4h1.6l.8 2.4zm2 0l.3-2.5h.8l.3 2.5zm3 0l.4-2.7h.9l.4 2.7zm1 0l.6-1.8h1.2l.6 1.8zm3 0l.5-2.3h.8l.5 2.3zm13 0l.3-2.7h.7l.3 2.7zm2 0l.9-2.8h2.1l.9 2.8zm1 0l.3-2.9h.8l.3 2.9zm1 0l.3-2.4h.8l.3 2.4zm1 0l.9-2h2.3l.9 2zm1 0l.8-2.8h1.6l.8 2.8zm3 0l.8-2.6h1.6l.8 2.6zm1 0l.7-2.7h1.4l.7 2.7zm1 0l.8-2.6h1.6l.8 2.6zm1 0l.9-2.4h2.4l.9 2.4zm1 0l.3-1.8h.7l.3 1.8zm9 0l.3-2.1h.8l.3 2.1zm26 0l.6-2.7h1.1l.6 2.7zm4 0l.9-2.8h2.1l.9 2.8zm1 0l.9-2.4h1.9l.9 2.4zm1 0l.9-2.6h1.8l.9 2.6zm1 0l.2-2.3h.5l.2 2.3zm1 0l.5-2.1h1l.5 2.1zm1 0l.5-2.6h1.1l.5 2.6zm1 0l.6-2.8h1.1l.6 2.8zm5 0l.5-2.3h1l.5 2.3zm1 0l.7-2.6h1.2l.7 2.6zm10 0l.6-2.7h1l.6 2.7zM275.8 277.42m0 0l.3-1.9h.5l.3 1.9zm1 0l.7-2.7h1.2l.7 2.7zm1 0l.7-2.1h1.4l.7 2.1zm1 0l.8-2.5h1.6l.8 2.5zm1 0l.7-1.9h1.3l.7 1.9zm3 0l.6-2.7h1.1l.6 2.7zm1 0l.4-2.6h.8l.4 2.6zm1 0l.7-1.8h1.3l.7 1.8zm20 0l.5-2.7h.9l.5 2.7zm12 0l.4-2.2h.9l.4 2.2zm4 0l.5-2.9h.8l.5 2.9zm2 0l.5-2.6h.9l.5 2.6zm1 0l.9-2.5h2.3l.9 2.5zm1 0l.6-2.8h1l.6 2.8zm1 0l.9-2.3h1.9l.9 2.3zm1 0l.3-2.9h.5l.3 2.9zm2 0l.3-1.5h.8l.3 1.5zm1 0l.3-2.7h.5l.3 2.7zm1 0l.4-2.5h.7l.4 2.5zm1 0l.2-2h.5l.2 2zm1 0l.6-2.6h1l.6 2.6zm1 0l.4-2.8h.7l.4 2.8zm3 0l.3-2.5h.7l.3 2.5zm18 0l.8-2.2h1.8l.8 2.2zm1 0l.9-2.7h2.9l.9 2.7zm1 0l.7-2.5h1.4l.7 2.5zm1 0l.3-2.7h.5l.3 2.7zm2 0l.9-2h2.9l.9 2zm1 0l.9-2.8h2.6l.9 2.8zm1 0l.9-2.8h2.3l.9 2.8zm1 0l.9-2.4h2.9l.9 2.4zm1 0l.4-1.6h.8l.4 1.6zm1 0l.4-2.8h.7l.4 2.8zm20 0l.3-2.5h.7l.3 2.5zm12 0l.5-2.4h.9l.5 2.4zm4 0l.5-2.8h1.1l.5 2.8zm2 0l.2-2.2h.5l.2 2.2zm1 0l.4-2.7h.9l.4 2.7zm2 0l.5-2.9h.9l.5 2.9zm2 0l.8-2.3h1.8l.8 2.3zm3 0l.3-2.5h.8l.3 2.5zm4 0l.5-2.8h1.1l.5 2.8zm19 0l.1-2.2h.3l.1 2.2zM275.8 280.31m0 0l.9-2.5h2.3l.9 2.5zm1 0l.7-1.8h1.4l.7 1.8zm1 0l.9-2.5h1.9l.9 2.5zm3 0l.7-2.3h1.2l.7 2.3zm1 0l.9-2.7h1.9l.9 2.7zm2 0l.9-2.4h2.2l.9 2.4zm1 0l.6-2.2h1.2l.6 2.2zm1 0l.8-2.8h1.6l.8 2.8zm1 0l.3-2.8h.7l.3 2.8zm7 0l.2-2.7h.6l.2 2.7zm14 0l.2-2.4h.6l.2 2.4zm4 0l.5-2.7h1.1l.5 2.7zm4 0l.3-2.5h.8l.3 2.5zm6 0l.5-2h.8l.5 2zm3 0l.7-2.7h1.3l.7 2.7zm3 0l.4-2h.9l.4 2zm2 0l.4-2.6h.7l.4 2.6zm1 0l.9-2.3h2l.9 2.3zm11 0l.6-2.5h1.3l.6 2.5zm11 0l.7-2.8h1.2l.7 2.8zm2 0l.8-2.6h1.8l.8 2.6zm1 0l.2-2.1h.6l.2 2.1zm2 0l.5-2.4h.8l.5 2.4zm1 0l.9-2.7h2.9l.9 2.7zm2 0l.5-2.8h.8l.5 2.8zm2 0l.5-2.9h1.1l.5 2.9zm1 0l.5-2.5h1.1l.5 2.5zm2 0l.5-2.6h1.1l.5 2.6zm3 0l.3-2.2h.5l.3 2.2zm1 0l.4-2.5h.8l.4 2.5zm9 0l.5-2.8h1l.5 2.8zm1 0l.4-2.6h.9l.4 2.6zm6 0l.3-1.7h.6l.3 1.7zm3 0l.5-2.4h.8l.5 2.4zm11 0l.6-2.2h1.1l.6 2.2zm1 0l.5-2.3h1.1l.5 2.3zm1 0l.3-2.5h.6l.3 2.5zm2 0l.8-1.7h1.6l.8 1.7zm2 0l.5-2.6h.8l.5 2.6zm1 0l.9-2.7h1.8l.9 2.7zm1 0l.6-2.8h1.3l.6 2.8zm1 0l.9-2.2h2.2l.9 2.2zm2 0l.9-2.8h1.8l.9 2.8zm1 0l.3-2.5h.8l.3 2.5zm1 0l.3-2.8h.5l.3 2.8zm12 0l.3-2.2h.5l.3 2.2zm7 0l.3-2.8h.6l.3 2.8zm1 0l.4-2.2h.7l.4 2.2zM275.8 283.2m0 0l.4-2.7h.9l.4 2.7zm1 0l.4-2.8h.9l.4 2.8zm1 0l.6-2.5h1l.6 2.5zm1 0l.3-2.8h.5l.3 2.8zm1 0l.9-1.8h2.5l.9 1.8zm1 0l.3-2.7h.5l.3 2.7zm1 0l.6-2h1l.6 2zm2 0l.3-2.2h.8l.3 2.2zm1 0l.9-2.2h2.3l.9 2.2zm2 0l.9-2.8h3l.9 2.8zm9 0l.4-2.8h.9l.4 2.8zm4 0l.4-2.7h.9l.4 2.7zm3 0l.3-2.5h.6l.3 2.5zm23 0l.4-2.4h.9l.4 2.4zm1 0l.3-1.8h.8l.3 1.8zm1 0l.9-2.1h2.1l.9 2.1zm3 0l.9-2.8h1.9l.9 2.8zm1 0l.9-2.8h2.2l.9 2.8zm3 0l.4-2.9h.7l.4 2.9zm7 0l.4-2.7h.8l.4 2.7zm2 0l.6-2.4h1.3l.6 2.4zm2 0l.5-1.8h.9l.5 1.8zm9 0l.6-2h1.3l.6 2zm1 0l.5-2.9h.8l.5 2.9zm2 0l.7-2.6h1.3l.7 2.6zm1 0l.3-2.2h.7l.3 2.2zm1 0l.6-2.8h1.2l.6 2.8zm1 0l.8-2.4h1.8l.8 2.4zm1 0l.5-1.9h1.1l.5 1.9zm2 0l.9-2.3h2.8l.9 2.3zm1 0l.9-2.1h1.8l.9 2.1zm1 0l.9-1.8h1.7l.9 1.8zm1 0l.6-2.5h1.1l.6 2.5zm10 0l.5-2.8h1l.5 2.8zm3 0l.5-2.3h.9l.5 2.3zm5 0l.6-2.4h1l.6 2.4zm19 0l.5-2.1h1.1l.5 2.1zm1 0l.2-2.8h.6l.2 2.8zm1 0l.3-2h.7l.3 2zm1 0l.7-2.4h1.2l.7 2.4zm2 0l.6-2h1.3l.6 2zm1 0l.9-2.7h1.8l.9 2.7zm1 0l.2-2.7h.6l.2 2.7zm1 0l.5-2h1l.5 2zm8 0l.3-2.6h.5l.3 2.6zm3 0l.6-2.9h1l.6 2.9zm4 0l.2-2.4h.6l.2 2.4zm1 0l.4-2.6h.9l.4 2.6zm6 0l.1-2.4h.3l.1 2.4zM275.8 286.08m2 0l.8-2.7h1.4l.8 2.7zm1 0l.4-1.9h.8l.4 1.9zm1 0l.9-2.3h2l.9 2.3zm1 0l.9-2.8h2.9l.9 2.8zm1 0l.7-2.1h1.5l.7 2.1zm1 0l.9-2.7h1.8l.9 2.7zm1 0l.9-2.9h2.6l.9 2.9zm1 0l.9-1.9h2.4l.9 1.9zm2 0l.7-2.3h1.3l.7 2.3zm14 0l.3-2.8h.5l.3 2.8zm8 0l.4-2.4h.8l.4 2.4zm16 0l.9-2.4h2.3l.9 2.4zm2 0l.6-2.1h1.3l.6 2.1zm2 0l.2-2.1h.6l.2 2.1zm1 0l.7-2.6h1.3l.7 2.6zm1 0l.8-2h1.6l.8 2zm1 0l.3-1.9h.5l.3 1.9zm1 0l.2-2.5h.6l.2 2.5zm2 0l.4-2.7h.9l.4 2.7zm7 0l.5-2.4h.9l.5 2.4zm3 0l.2-2.8h.6l.2 2.8zm1 0l.3-2.3h.8l.3 2.3zm1 0l.3-2.8h.7l.3 2.8zm7 0l.4-2.7h.8l.4 2.7zm2 0l.6-2.7h1.1l.6 2.7zm2 0l.9-2.6h2.1l.9 2.6zm1 0l.9-2.5h3l.9 2.5zm2 0l.9-2.7h1.8l.9 2.7zm1 0l.5-2.4h1.1l.5 2.4zm1 0l.3-2.6h.8l.3 2.6zm1 0l.9-2.2h1.9l.9 2.2zm2 0l.2-2.2h.5l.2 2.2zm1 0l.5-2.7h1l.5 2.7zm34 0l.3-2.8h.8l.3 2.8zm2 0l.4-2.9h.7l.4 2.9zm2 0l.8-2h1.4l.8 2zm2 0l.3-2.9h.8l.3 2.9zm1 0l.6-2.1h1l.6 2.1zm1 0l.7-2.6h1.2l.7 2.6zm2 0l.7-2h1.2l.7 2zm1 0l.3-2.7h.5l.3 2.7zm12 0l.3-2h.7l.3 2zm2 0l.6-2.7h1.3l.6 2.7zm5 0l.5-2.6h1.1l.5 2.6zm1 0l.6-1.9h1.1l.6 1.9zM275.8 288.97m2 0l.9-2.4h2.3l.9 2.4zm1 0l.9-2.2h2.7l.9 2.2zm2 0l.9-1.9h2.3l.9 1.9zm1 0l.5-2.7h.9l.5 2.7zm1 0l.9-2.1h1.8l.9 2.1zm1 0l.6-1.8h1.2l.6 1.8zm1 0l.8-2.9h1.6l.8 2.9zm1 0l.4-2.5h.8l.4 2.5zm10 0l.3-2.5h.8l.3 2.5zm4 0l.5-2.5h.8l.5 2.5zm5 0l.4-2.9h.8l.4 2.9zm13 0l.6-2.4h1l.6 2.4zm5 0l.5-2.6h1l.5 2.6zm3 0l.5-2.1h1.1l.5 2.1zm1 0l.9-1.8h1.7l.9 1.8zm2 0l.7-2.7h1.3l.7 2.7zm4 0l.9-1.7h2.3l.9 1.7zm5 0l.6-2.4h1.3l.6 2.4zm4 0l.4-2.7h.7l.4 2.7zm2 0l.4-2.1h.8l.4 2.1zm8 0l.3-2.4h.8l.3 2.4zm2 0l.6-2.9h1.1l.6 2.9zm3 0l.2-2.8h.6l.2 2.8zm1 0l.8-2.2h1.4l.8 2.2zm1 0l.9-1.7h2l.9 1.7zm1 0l.9-2.8h2.6l.9 2.8zm1 0l.5-2.1h1l.5 2.1zm1 0l.7-2.1h1.4l.7 2.1zm1 0l.9-2.7h2.1l.9 2.7zm1 0l.5-2.5h1.1l.5 2.5zm1 0l.3-2.7h.8l.3 2.7zm1 0l.4-2.5h.7l.4 2.5zm2 0l.9-2h1.8l.9 2zm8 0l.5-2.3h.9l.5 2.3zm1 0l.2-2.1h.5l.2 2.1zm25 0l.4-2.7h.7l.4 2.7zm2 0l.2-2.4h.6l.2 2.4zm4 0l.4-2.1h.7l.4 2.1zm1 0l.4-2.1h.9l.4 2.1zm1 0l.3-2.8h.5l.3 2.8zm1 0l.8-2.8h1.7l.8 2.8zm1 0l.7-1.9h1.5l.7 1.9zm1 0l.6-2.7h1.3l.6 2.7zm1 0l.6-1.9h1l.6 1.9zm1 0l.6-1.6h1.3l.6 1.6zm1 0l.5-2.6h.9l.5 2.6zm3 0l.5-2h.9l.5 2zm3 0l.2-2.5h.6l.2 2.5zm2 0l.2-2.4h.6l.2 2.4zM275.8 291.86m3 0l.9-2.3h2.9l.9 2.3zm1 0l.9-1.9h1.8l.9 1.9zm1 0l.8-1.9h1.8l.8 1.9zm1 0l.5-2.7h.8l.5 2.7zm1 0l.9-2.2h1.7l.9 2.2zm1 0l.5-1.8h1l.5 1.8zm1 0l.8-2.3h1.5l.8 2.3zm1 0l.8-2.4h1.4l.8 2.4zm1 0l.9-2.7h2.5l.9 2.7zm2 0l.9-1.8h2l.9 1.8zm4 0l.3-1.7h.7l.3 1.7zm3 0l.5-2.1h1.1l.5 2.1zm2 0l.5-2.3h1l.5 2.3zm27 0l.3-2.5h.7l.3 2.5zm2 0l.7-2.1h1.3l.7 2.1zm3 0l.6-2.5h1.2l.6 2.5zm2 0l.8-2.3h1.5l.8 2.3zm2 0l.6-2.7h1l.6 2.7zm2 0l.5-2.8h1.1l.5 2.8zm4 0l.3-2.6h.7l.3 2.6zm1 0l.3-2.9h.7l.3 2.9zm4 0l.4-2.4h.9l.4 2.4zm5 0l.6-2.9h1.3l.6 2.9zm6 0l.6-1.6h1l.6 1.6zm1 0l.6-2.2h1.2l.6 2.2zm2 0l.7-2.7h1.5l.7 2.7zm1 0l.9-2.4h2l.9 2.4zm1 0l.9-2.6h2l.9 2.6zm1 0l.4-2.8h.7l.4 2.8zm1 0l.3-2.2h.8l.3 2.2zm2 0l.8-2.1h1.6l.8 2.1zm2 0l.6-2.4h1l.6 2.4zm1 0l.7-2.6h1.2l.7 2.6zm1 0l.9-1.8h2.8l.9 1.8zm1 0l.5-2.5h1l.5 2.5zm2 0l.6-2.6h1l.6 2.6zm2 0l.5-2.6h1l.5 2.6zm22 0l.5-2.5h.9l.5 2.5zm2 0l.5-2h1.1l.5 2zm1 0l.3-2.7h.8l.3 2.7zm7 0l.6-2.4h1l.6 2.4zm1 0l.5-2.6h.9l.5 2.6zm1 0l.9-2.1h2.1l.9 2.1zm5 0l.7-2.8h1.2l.7 2.8zm5 0l.6-2.3h1.2l.6 2.3zm1 0l.3-2.6h.6l.3 2.6zm2 0l.3-2.1h.8l.3 2.1zm1 0l.4-1.8h.8l.4 1.8zm3 0l.5-2.8h.9l.5 2.8zm1 0l.5-2.4h1.1l.5 2.4zm2 0l.4-2.2h.8l.4 2.2zm1 0l.5-1.8h.9l.5 1.8zm1 0l.2-2.7h.6l.2 2.7zm4 0l.1-2.6h.3l.1 2.6zM275.8 294.74m2 0l.3-2.3h.6l.3 2.3zm3 0l.2-2.2h.6l.2 2.2zm1 0l.6-2.2h1.2l.6 2.2zm1 0l.9-2.4h2.2l.9 2.4zm2 0l.5-2.8h1.1l.5 2.8zm1 0l.9-2.7h2.5l.9 2.7zm3 0l.4-2.8h.7l.4 2.8zm1 0l.7-2.2h1.5l.7 2.2zm10 0l.3-2.6h.5l.3 2.6zm19 0l.4-2.9h.8l.4 2.9zm9 0l.8-2.4h1.7l.8 2.4zm1 0l.7-1.7h1.4l.7 1.7zm2 0l.5-2.6h1l.5 2.6zm1 0l.6-1.6h1l.6 1.6zm2 0l.9-2.8h1.9l.9 2.8zm3 0l.5-2.8h1l.5 2.8zm7 0l.6-2.6h1.2l.6 2.6zm1 0l.6-2.3h1.3l.6 2.3zm3 0l.6-2.5h1l.6 2.5zm5 0l.5-2h1.1l.5 2zm2 0l.3-2.3h.6l.3 2.3zm5 0l.5-2.5h.8l.5 2.5zm1 0l.6-2.8h1l.6 2.8zm1 0l.9-2.7h2l.9 2.7zm1 0l.9-2.8h2.7l.9 2.8zm1 0l.5-2.5h1.1l.5 2.5zm1 0l.3-2.7h.8l.3 2.7zm2 0l.3-2.5h.5l.3 2.5zm1 0l.5-2.4h1.1l.5 2.4zm1 0l.8-2.1h1.8l.8 2.1zm1 0l.7-2.5h1.2l.7 2.5zm14 0l.5-2.8h.9l.5 2.8zm3 0l.4-2.1h.9l.4 2.1zm2 0l.3-2.5h.8l.3 2.5zm2 0l.5-1.7h1l.5 1.7zm10 0l.5-2.4h1l.5 2.4zm7 0l.8-2.6h1.8l.8 2.6zm1 0l.6-2.6h1.1l.6 2.6zm2 0l.5-2.8h1.1l.5 2.8zm1 0l.5-2.7h.8l.5 2.7zm1 0l.5-2.4h.8l.5 2.4zm4 0l.6-2.5h1.3l.6 2.5zm2 0l.3-2.5h.7l.3 2.5zm10 0l.3-2.8h.7l.3 2.8zm5 0l.1-2.3h.3l.1 2.3zM275.8 297.63m2 0l.4-2.5h.8l.4 2.5zm2 0l.4-1.9h.9l.4 1.9zm1 0l.8-2.4h1.8l.8 2.4zm1 0l.2-2.2h.5l.2 2.2zm2 0l.7-2.8h1.5l.7 2.8zm1 0l.7-2.9h1.3l.7 2.9zm1 0l.3-2.7h.8l.3 2.7zm2 0l.6-2.5h1.2l.6 2.5zm2 0l.9-2.6h2.3l.9 2.6zm11 0l.5-2.5h1.1l.5 2.5zm8 0l.5-2.4h.8l.5 2.4zm4 0l.5-2.4h1l.5 2.4zm11 0l.4-2.5h.8l.4 2.5zm3 0l.5-2.8h1.1l.5 2.8zm2 0l.8-2.8h1.5l.8 2.8zm2 0l.6-2h1l.6 2zm1 0l.3-2.7h.5l.3 2.7zm1 0l.5-2.6h.8l.5 2.6zm1 0l.3-2.8h.7l.3 2.8zm1 0l.8-2.4h1.7l.8 2.4zm1 0l.8-2.1h1.4l.8 2.1zm3 0l.4-2.6h.9l.4 2.6zm5 0l.3-2.1h.7l.3 2.1zm5 0l.4-1.6h.9l.4 1.6zm1 0l.5-2.4h1l.5 2.4zm1 0l.3-2.3h.7l.3 2.3zm7 0l.4-2.2h.8l.4 2.2zm2 0l.3-2.1h.7l.3 2.1zm1 0l.9-2.5h2.5l.9 2.5zm2 0l.5-2.5h.8l.5 2.5zm1 0l.7-2.5h1.3l.7 2.5zm1 0l.7-2.7h1.4l.7 2.7zm1 0l.3-2.5h.7l.3 2.5zm2 0l.7-2.8h1.4l.7 2.8zm1 0l.5-2h1.1l.5 2zm6 0l.6-2.5h1l.6 2.5zm15 0l.5-2.3h.9l.5 2.3zm9 0l.2-2.5h.5l.2 2.5zm3 0l.3-2.2h.8l.3 2.2zm3 0l.5-2.2h1.1l.5 2.2zm6 0l.3-2.6h.7l.3 2.6zm2 0l.9-2.3h2.2l.9 2.3zm2 0l.9-2h1.8l.9 2zm4 0l.4-2.9h.7l.4 2.9zm9 0l.6-2.7h1.1l.6 2.7zM275.8 300.52m0 0l.6-2.1h1.2l.6 2.1zm4 0l.6-2.5h1l.6 2.5zm1 0l.5-2.5h.8l.5 2.5zm3 0l.7-2.7h1.4l.7 2.7zm1 0l.5-2.8h1l.5 2.8zm2 0l.9-1.7h3l.9 1.7zm1 0l.7-2.8h1.3l.7 2.8zm1 0l.5-2.8h.9l.5 2.8zm1 0l.5-1.9h.8l.5 1.9zm25 0l.5-2.1h.8l.5 2.1zm4 0l.3-2.7h.5l.3 2.7zm6 0l.4-2.8h.8l.4 2.8zm5 0l.8-2.1h1.6l.8 2.1zm2 0l.7-2.6h1.5l.7 2.6zm1 0l.3-2.5h.7l.3 2.5zm1 0l.8-2.9h1.6l.8 2.9zm1 0l.9-2.7h1.7l.9 2.7zm1 0l.5-2.7h.8l.5 2.7zm3 0l.6-2.5h1.3l.6 2.5zm1 0l.6-1.8h1l.6 1.8zm8 0l.4-2.8h.8l.4 2.8zm14 0l.7-2.6h1.2l.7 2.6zm1 0l.6-2.6h1.3l.6 2.6zm2 0l.3-2.8h.8l.3 2.8zm1 0l.3-1.9h.5l.3 1.9zm2 0l.6-2.5h1.3l.6 2.5zm1 0l.7-2.8h1.3l.7 2.8zm1 0l.9-1.9h2l.9 1.9zm18 0l.5-2.2h1.1l.5 2.2zm1 0l.5-2.9h.9l.5 2.9zm3 0l.5-2.6h1l.5 2.6zm6 0l.3-1.7h.8l.3 1.7zm7 0l.4-2h.9l.4 2zm2 0l.5-2.2h1l.5 2.2zm3 0l.8-2.4h1.5l.8 2.4zm2 0l.3-2.5h.6l.3 2.5zm1 0l.6-2.4h1.1l.6 2.4zm2 0l.7-2.7h1.2l.7 2.7zm1 0l.7-2h1.3l.7 2zm18 0l.1-2.7h.3l.1 2.7zM275.8 303.41m3 0l.6-2.7h1.3l.6 2.7zm1 0l.5-2.8h.8l.5 2.8zm1 0l.6-2.7h1.1l.6 2.7zm1 0l.4-1.9h.9l.4 1.9zm1 0l.9-2.6h2.3l.9 2.6zm1 0l.4-2h.7l.4 2zm1 0l.3-1.8h.8l.3 1.8zm1 0l.3-2.4h.5l.3 2.4zm1 0l.9-2h3l.9 2zm2 0l.7-2.3h1.2l.7 2.3zm1 0l.6-2.1h1l.6 2.1zm1 0l.9-2.8h2.2l.9 2.8zm1 0l.6-2.5h1l.6 2.5zm19 0l.5-2.7h1.1l.5 2.7zm3 0l.5-2.8h1.1l.5 2.8zm7 0l.5-1.9h1.1l.5 1.9zm1 0l.2-2.3h.6l.2 2.3zm5 0l.6-1.8h1.2l.6 1.8zm3 0l.6-2.2h1l.6 2.2zm1 0l.9-2.3h2.3l.9 2.3zm1 0l.9-2.4h2.3l.9 2.4zm2 0l.2-2.6h.6l.2 2.6zm2 0l.4-2h.9l.4 2zm1 0l.5-2.7h1l.5 2.7zm1 0l.3-2.7h.6l.3 2.7zm3 0l.4-2.6h.9l.4 2.6zm6 0l.3-2.7h.5l.3 2.7zm2 0l.6-1.7h1.1l.6 1.7zm12 0l.5-2.8h.9l.5 2.8zm1 0l.4-2.2h.8l.4 2.2zm1 0l.9-2.1h2.7l.9 2.1zm1 0l.9-2.5h2.1l.9 2.5zm1 0l.9-2.5h2.7l.9 2.5zm1 0l.3-2.8h.8l.3 2.8zm1 0l.7-2.4h1.5l.7 2.4zm1 0l.5-2.7h1l.5 2.7zm2 0l.9-2h2.1l.9 2zm2 0l.6-2.6h1l.6 2.6zm12 0l.2-1.7h.6l.2 1.7zm5 0l.5-1.5h1l.5 1.5zm15 0l.4-2.7h.7l.4 2.7zm4 0l.4-2.4h.8l.4 2.4zm2 0l.3-2.4h.8l.3 2.4zm1 0l.9-1.8h1.7l.9 1.8zm1 0l.6-1.8h1.2l.6 1.8zm2 0l.5-2.1h.8l.5 2.1zm2 0l.8-2.2h1.5l.8 2.2zm1 0l.3-1.7h.8l.3 1.7zm4 0l.5-1.9h.9l.5 1.9zm6 0l.5-2.2h.9l.5 2.2zm1 0l.6-2.4h1.1l.6 2.4zm4 0l.3-2.4h.8l.3 2.4zm2 0l.1-2h.3l.1 2zM275.8 306.29m2 0l.5-2.4h1.1l.5 2.4zm6 0l.9-2.2h1.8l.9 2.2zm1 0l.7-2.4h1.5l.7 2.4zm1 0l.6-2.2h1.1l.6 2.2zm1 0l.9-2.3h1.7l.9 2.3zm1 0l.9-2.8h2.3l.9 2.8zm1 0l.9-1.9h2.1l.9 1.9zm2 0l.9-2h2.2l.9 2zm5 0l.5-2.7h.8l.5 2.7zm5 0l.6-2.5h1l.6 2.5zm8 0l.3-2.9h.5l.3 2.9zm1 0l.5-2.1h1.1l.5 2.1zm19 0l.6-2.2h1l.6 2.2zm2 0l.9-2.6h2l.9 2.6zm2 0l.9-2.2h2l.9 2.2zm1 0l.4-2.8h.7l.4 2.8zm1 0l.6-2.5h1.3l.6 2.5zm1 0l.3-2.8h.7l.3 2.8zm1 0l.8-2.8h1.5l.8 2.8zm2 0l.4-2.4h.8l.4 2.4zm6 0l.4-2.3h.7l.4 2.3zm2 0l.5-1.8h.8l.5 1.8zm6 0l.4-2.6h.8l.4 2.6zm1 0l.5-2.1h1l.5 2.1zm4 0l.4-2.6h.8l.4 2.6zm2 0l.3-2.6h.8l.3 2.6zm1 0l.3-2.5h.5l.3 2.5zm2 0l.5-2.5h1l.5 2.5zm2 0l.9-2h2.7l.9 2zm1 0l.5-2.7h.9l.5 2.7zm1 0l.9-2.2h2.5l.9 2.2zm2 0l.9-2.1h1.9l.9 2.1zm2 0l.9-2.7h2l.9 2.7zm1 0l.7-2.8h1.3l.7 2.8zm1 0l.5-2.8h.8l.5 2.8zm3 0l.5-2.7h.9l.5 2.7zm14 0l.5-2.9h1.1l.5 2.9zm14 0l.4-2.1h.9l.4 2.1zm1 0l.6-2.6h1.1l.6 2.6zm2 0l.4-2.5h.9l.4 2.5zm3 0l.5-2.2h.8l.5 2.2zm1 0l.9-2.7h1.7l.9 2.7zm1 0l.9-2.6h1.8l.9 2.6zm1 0l.8-2.4h1.8l.8 2.4zm2 0l.6-2.1h1.2l.6 2.1zm2 0l.7-1.9h1.4l.7 1.9zm1 0l.4-1.8h.9l.4 1.8zm4 0l.3-2.1h.7l.3 2.1zm12 0l.1-2.5h.3l.1 2.5zM275.8 309.18m4 0l.4-2.7h.8l.4 2.7zm3 0l.9-2h1.9l.9 2zm1 0l.5-2.9h.8l.5 2.9zm1 0l.5-2.5h.8l.5 2.5zm1 0l.8-2.9h1.5l.8 2.9zm1 0l.9-2h1.8l.9 2zm1 0l.4-2h.7l.4 2zm2 0l.2-2.5h.6l.2 2.5zm2 0l.2-2.4h.6l.2 2.4zm1 0l.3-2.3h.8l.3 2.3zm15 0l.5-2.8h.9l.5 2.8zm2 0l.2-2.8h.6l.2 2.8zm15 0l.3-1.8h.8l.3 1.8zm1 0l.6-2.5h1.1l.6 2.5zm1 0l.3-2.1h.7l.3 2.1zm3 0l.4-2.5h.7l.4 2.5zm1 0l.9-2.8h1.8l.9 2.8zm1 0l.9-1.8h2.2l.9 1.8zm1 0l.9-1.6h2.3l.9 1.6zm2 0l.9-2.8h1.8l.9 2.8zm2 0l.7-2.6h1.4l.7 2.6zm1 0l.8-2.4h1.5l.8 2.4zm2 0l.4-2.6h.8l.4 2.6zm2 0l.3-2.8h.5l.3 2.8zm3 0l.5-2.7h.9l.5 2.7zm4 0l.4-2.8h.8l.4 2.8zm2 0l.4-2.5h.7l.4 2.5zm3 0l.5-2.1h1.1l.5 2.1zm2 0l.3-2h.5l.3 2zm3 0l.5-2.3h1l.5 2.3zm4 0l.3-2.5h.6l.3 2.5zm1 0l.5-2.9h.8l.5 2.9zm1 0l.9-2.8h3l.9 2.8zm1 0l.8-2.8h1.5l.8 2.8zm1 0l.9-2.4h2.6l.9 2.4zm1 0l.2-2.5h.6l.2 2.5zm1 0l.9-2.5h2.4l.9 2.5zm2 0l.8-2.8h1.8l.8 2.8zm2 0l.6-2.7h1.1l.6 2.7zm1 0l.3-2.1h.8l.3 2.1zm2 0l.5-2.1h.8l.5 2.1zm29 0l.6-2.1h1.1l.6 2.1zm1 0l.3-2.6h.7l.3 2.6zm5 0l.3-1.9h.6l.3 1.9zm1 0l.5-2.6h1l.5 2.6zm2 0l.4-2.2h.7l.4 2.2zm2 0l.9-1.7h2.1l.9 1.7zm1 0l.5-2.6h.8l.5 2.6zm1 0l.5-2.2h1.1l.5 2.2zm1 0l.3-2.6h.5l.3 2.6zm7 0l.3-1.8h.5l.3 1.8zm1 0l.3-2.7h.8l.3 2.7zm4 0l.3-2.6h.8l.3 2.6zm1 0l.3-2.3h.8l.3 2.3zM275.8 312.07m2 0l.6-2.8h1.3l.6 2.8zm4 0l.3-2.4h.5l.3 2.4zm2 0l.7-2h1.2l.7 2zm1 0l.8-2.9h1.8l.8 2.9zm1 0l.9-2.9h3l.9 2.9zm1 0l.5-2.5h.9l.5 2.5zm3 0l.9-2.8h1.9l.9 2.8zm1 0l.3-2.9h.8l.3 2.9zm1 0l.9-2.3h3l.9 2.3zm2 0l.7-2.2h1.2l.7 2.2zm2 0l.4-2.1h.7l.4 2.1zm3 0l.3-1.8h.7l.3 1.8zm10 0l.2-2.8h.5l.2 2.8zm6 0l.5-1.9h1.1l.5 1.9zm1 0l.5-2.7h.8l.5 2.7zm12 0l.4-1.9h.7l.4 1.9zm4 0l.8-2.1h1.7l.8 2.1zm4 0l.9-2h2l.9 2zm1 0l.9-2.3h2l.9 2.3zm1 0l.6-2.8h1l.6 2.8zm1 0l.9-2.4h1.7l.9 2.4zm4 0l.5-2.5h.9l.5 2.5zm1 0l.6-1.7h1l.6 1.7zm4 0l.6-2.3h1l.6 2.3zm5 0l.6-2.4h1.3l.6 2.4zm2 0l.3-1.8h.5l.3 1.8zm6 0l.5-2.3h.8l.5 2.3zm1 0l.3-2.8h.6l.3 2.8zm2 0l.8-2.4h1.4l.8 2.4zm1 0l.9-2.9h2l.9 2.9zm1 0l.9-2.2h1.8l.9 2.2zm1 0l.6-2.8h1.1l.6 2.8zm2 0l.9-2.3h1.7l.9 2.3zm1 0l.3-1.6h.7l.3 1.6zm1 0l.5-2.5h1.1l.5 2.5zm1 0l.6-2.5h1l.6 2.5zm1 0l.3-2.8h.8l.3 2.8zm1 0l.9-2.1h2.5l.9 2.1zm10 0l.3-2.1h.6l.3 2.1zm13 0l.5-2.3h1l.5 2.3zm14 0l.6-2.8h1.3l.6 2.8zm1 0l.7-2.6h1.3l.7 2.6zm2 0l.9-1.7h1.8l.9 1.7zm2 0l.5-2.3h1l.5 2.3zm1 0l.9-1.6h1.8l.9 1.6zm1 0l.3-2.8h.6l.3 2.8zm1 0l.4-2.6h.8l.4 2.6zm1 0l.3-2.9h.7l.3 2.9zm5 0l.5-1.7h1.1l.5 1.7zm1 0l.2-2.1h.6l.2 2.1zm1 0l.2-2.7h.6l.2 2.7zm6 0l.4-1.7h.7l.4 1.7zM275.8 314.95m8 0l.6-2.9h1.1l.6 2.9zm2 0l.9-2.3h2.1l.9 2.3zm1 0l.3-2.4h.8l.3 2.4zm1 0l.6-1.8h1.1l.6 1.8zm1 0l.6-2.8h1.2l.6 2.8zm2 0l.9-2.9h2l.9 2.9zm1 0l.8-2.5h1.4l.8 2.5zm1 0l.9-2.7h3l.9 2.7zm2 0l.9-2h2.3l.9 2zm3 0l.5-2.6h.9l.5 2.6zm28 0l.6-2.6h1l.6 2.6zm1 0l.3-2.4h.6l.3 2.4zm1 0l.6-2.8h1l.6 2.8zm6 0l.3-2.1h.7l.3 2.1zm2 0l.9-2.8h1.7l.9 2.8zm2 0l.7-2.5h1.5l.7 2.5zm1 0l.9-2.6h2l.9 2.6zm1 0l.7-1.5h1.5l.7 1.5zm1 0l.4-1.8h.7l.4 1.8zm2 0l.5-2.8h.8l.5 2.8zm4 0l.5-2.8h1.1l.5 2.8zm2 0l.2-2.8h.5l.2 2.8zm2 0l.7-2.3h1.2l.7 2.3zm7 0l.5-2h.8l.5 2zm1 0l.7-2h1.2l.7 2zm4 0l.3-2.5h.7l.3 2.5zm1 0l.3-2.8h.5l.3 2.8zm1 0l.9-2.2h2.2l.9 2.2zm1 0l.2-2.4h.6l.2 2.4zm1 0l.5-2.1h1l.5 2.1zm1 0l.9-2.9h2.2l.9 2.9zm1 0l.9-2.3h1.8l.9 2.3zm1 0l.7-2.6h1.2l.7 2.6zm1 0l.6-2.8h1l.6 2.8zm2 0l.3-1.6h.8l.3 1.6zm1 0l.4-2.6h.8l.4 2.6zm7 0l.3-2.2h.8l.3 2.2zm1 0l.2-2.3h.6l.2 2.3zm15 0l.2-2.5h.6l.2 2.5zm10 0l.6-2.7h1.3l.6 2.7zm7 0l.4-2h.7l.4 2zm1 0l.8-2.5h1.6l.8 2.5zm1 0l.7-2.6h1.5l.7 2.6zm1 0l.4-2.7h.7l.4 2.7zm1 0l.6-2.3h1.2l.6 2.3zm1 0l.9-2.9h2.3l.9 2.9zm5 0l.5-1.8h1l.5 1.8zm1 0l.7-2.1h1.2l.7 2.1zm3 0l.5-2.5h.8l.5 2.5zm1 0l.6-2.7h1.2l.6 2.7zm3 0l.5-2.6h.8l.5 2.6zM275.8 317.84m10 0l.4-2.8h.7l.4 2.8zm1 0l.8-2.8h1.6l.8 2.8zm1 0l.9-2.2h1.8l.9 2.2zm1 0l.9-2.7h2l.9 2.7zm1 0l.4-2.2h.9l.4 2.2zm1 0l.7-2.5h1.2l.7 2.5zm1 0l.3-2.8h.6l.3 2.8zm1 0l.9-2.5h2.9l.9 2.5zm1 0l.3-2.4h.5l.3 2.4zm1 0l.8-2.7h1.7l.8 2.7zm3 0l.5-2.6h.9l.5 2.6zm10 0l.3-2.6h.7l.3 2.6zm3 0l.3-2.5h.6l.3 2.5zm22 0l.3-2.2h.6l.3 2.2zm2 0l.5-2.9h1.1l.5 2.9zm1 0l.8-2.9h1.4l.8 2.9zm1 0l.7-2.7h1.2l.7 2.7zm2 0l.6-2.8h1.1l.6 2.8zm3 0l.5-2.2h.8l.5 2.2zm10 0l.5-2.7h1l.5 2.7zm2 0l.6-2.3h1.1l.6 2.3zm1 0l.6-2.6h1.1l.6 2.6zm4 0l.2-2.7h.6l.2 2.7zm1 0l.3-2.4h.5l.3 2.4zm1 0l.4-2.7h.7l.4 2.7zm5 0l.7-2.7h1.3l.7 2.7zm2 0l.9-2.4h2.5l.9 2.4zm1 0l.3-2.5h.6l.3 2.5zm1 0l.5-2.3h.9l.5 2.3zm1 0l.2-2.7h.6l.2 2.7zm1 0l.9-2.6h2.1l.9 2.6zm1 0l.7-1.5h1.5l.7 1.5zm1 0l.9-2.4h1.7l.9 2.4zm1 0l.5-2.3h.9l.5 2.3zm2 0l.5-2.3h1.1l.5 2.3zm7 0l.2-2.6h.6l.2 2.6zm25 0l.2-2.6h.6l.2 2.6zm1 0l.3-2.7h.5l.3 2.7zm4 0l.5-2.4h1l.5 2.4zm1 0l.9-2.2h1.7l.9 2.2zm1 0l.3-2.7h.7l.3 2.7zm1 0l.8-2.6h1.7l.8 2.6zm1 0l.5-2.9h.9l.5 2.9zm1 0l.3-2.8h.5l.3 2.8zm7 0l.6-2.5h1.3l.6 2.5zm3 0l.5-2h1.1l.5 2zm4 0l.4-1.9h.7l.4 1.9zM275.8 320.73m1 0l.4-2.2h.8l.4 2.2zm1 0l.6-1.9h1.3l.6 1.9zm4 0l.5-2.2h1l.5 2.2zm1 0l.4-2.6h.7l.4 2.6zm1 0l.5-2h.9l.5 2zm3 0l.6-2.1h1.1l.6 2.1zm2 0l.6-2.1h1l.6 2.1zm1 0l.9-2.5h2.9l.9 2.5zm1 0l.9-2.6h1.9l.9 2.6zm1 0l.9-2.5h1.8l.9 2.5zm1 0l.7-2.6h1.2l.7 2.6zm1 0l.8-1.7h1.8l.8 1.7zm1 0l.3-2.5h.7l.3 2.5zm1 0l.2-2.7h.5l.2 2.7zm11 0l.5-2.4h1.1l.5 2.4zm2 0l.3-2.1h.5l.3 2.1zm13 0l.3-2.5h.5l.3 2.5zm10 0l.6-2.8h1.2l.6 2.8zm5 0l.7-2.5h1.5l.7 2.5zm2 0l.6-1.9h1.2l.6 1.9zm1 0l.8-1.6h1.6l.8 1.6zm1 0l.9-2.4h1.8l.9 2.4zm11 0l.6-2.1h1.2l.6 2.1zm4 0l.2-2.2h.5l.2 2.2zm5 0l.3-2.1h.8l.3 2.1zm2 0l.2-2h.5l.2 2zm1 0l.5-2.4h.9l.5 2.4zm6 0l.9-1.9h1.9l.9 1.9zm1 0l.7-2.8h1.3l.7 2.8zm1 0l.5-2.7h.9l.5 2.7zm1 0l.9-2.9h2.1l.9 2.9zm2 0l.9-2.6h2.9l.9 2.6zm1 0l.6-2.8h1.1l.6 2.8zm9 0l.4-2.1h.9l.4 2.1zm1 0l.4-2.1h.7l.4 2.1zm26 0l.6-2.4h1.2l.6 2.4zm4 0l.9-2.7h1.9l.9 2.7zm1 0l.5-2h.8l.5 2zm1 0l.4-2.7h.7l.4 2.7zm1 0l.9-2.5h2l.9 2.5zm2 0l.7-2.8h1.2l.7 2.8zm6 0l.5-1.8h1l.5 1.8zm1 0l.3-2.3h.5l.3 2.3zm1 0l.6-2.6h1.3l.6 2.6zm3 0l.5-2.5h.9l.5 2.5zm1 0l.4-2.3h.7l.4 2.3zM275.8 323.61m0 0l.5-2.7h.8l.5 2.7zm1 0l.5-2.9h1l.5 2.9zm8 0l.5-2.2h1l.5 2.2zm2 0l.9-2.3h3l.9 2.3zm1 0l.9-1.6h2.7l.9 1.6zm1 0l.7-2.8h1.4l.7 2.8zm1 0l.9-2.3h2.1l.9 2.3zm1 0l.9-2.7h2.3l.9 2.7zm1 0l.3-2h.7l.3 2zm2 0l.9-2.2h1.8l.9 2.2zm1 0l.9-2.3h2.3l.9 2.3zm1 0l.6-2.8h1.3l.6 2.8zm1 0l.8-1.5h1.7l.8 1.5zm3 0l.5-2.1h.9l.5 2.1zm5 0l.6-2.6h1l.6 2.6zm2 0l.3-2.9h.5l.3 2.9zm1 0l.4-2.8h.7l.4 2.8zm1 0l.2-2.2h.6l.2 2.2zm1 0l.3-2.6h.7l.3 2.6zm6 0l.4-2.8h.9l.4 2.8zm14 0l.3-2.7h.7l.3 2.7zm2 0l.3-2.8h.6l.3 2.8zm2 0l.6-2h1l.6 2zm1 0l.6-2.6h1.3l.6 2.6zm2 0l.6-1.8h1.3l.6 1.8zm2 0l.9-2.3h2l.9 2.3zm2 0l.8-2.6h1.7l.8 2.6zm1 0l.9-2.4h2.1l.9 2.4zm6 0l.5-2h1l.5 2zm16 0l.6-2.7h1.2l.6 2.7zm3 0l.9-2.7h2.7l.9 2.7zm2 0l.9-2.4h1.7l.9 2.4zm1 0l.3-2.2h.5l.3 2.2zm1 0l.9-2.5h2.1l.9 2.5zm1 0l.9-2.5h2.9l.9 2.5zm1 0l.6-2.6h1l.6 2.6zm1 0l.2-2.1h.6l.2 2.1zm1 0l.9-2.7h2.5l.9 2.7zm1 0l.9-2.8h1.8l.9 2.8zm6 0l.3-2.6h.8l.3 2.6zm21 0l.3-2.6h.5l.3 2.6zm1 0l.5-1.9h.9l.5 1.9zm7 0l.3-2.8h.7l.3 2.8zm4 0l.9-2.5h2.1l.9 2.5zm2 0l.9-2h2.2l.9 2zm1 0l.7-2.7h1.3l.7 2.7zm3 0l.3-2.6h.6l.3 2.6zm1 0l.6-2.2h1.3l.6 2.2zm2 0l.3-2.5h.5l.3 2.5zm2 0l.5-2.5h1l.5 2.5zm2 0l.3-2.8h.5l.3 2.8zm1 0l.3-1.8h.5l.3 1.8zm1 0l.4-2.3h.8l.4 2.3zM275.8 326.5m0 0l.7-2.8h1.2l.7 2.8zm4 0l.4-2.8h.8l.4 2.8zm1 0l.3-2.7h.8l.3 2.7zm6 0l.7-2.6h1.2l.7 2.6zm2 0l.3-2.5h.7l.3 2.5zm2 0l.2-2.4h.5l.2 2.4zm1 0l.5-1.8h.9l.5 1.8zm1 0l.6-2.3h1l.6 2.3zm1 0l.5-2.8h.8l.5 2.8zm1 0l.8-2.5h1.7l.8 2.5zm1 0l.3-2.5h.7l.3 2.5zm1 0l.9-1.7h2.6l.9 1.7zm1 0l.2-2.4h.6l.2 2.4zm3 0l.2-2.3h.5l.2 2.3zm2 0l.3-2.8h.6l.3 2.8zm4 0l.3-1.8h.7l.3 1.8zm7 0l.5-2.8h.9l.5 2.8zm10 0l.3-2.4h.6l.3 2.4zm5 0l.6-2.6h1.2l.6 2.6zm1 0l.5-2.7h1.1l.5 2.7zm4 0l.5-2.7h.9l.5 2.7zm2 0l.5-2.2h.9l.5 2.2zm2 0l.8-2.7h1.4l.8 2.7zm2 0l.7-2.8h1.3l.7 2.8zm1 0l.5-2.4h.8l.5 2.4zm1 0l.4-2.1h.7l.4 2.1zm1 0l.5-2.4h1l.5 2.4zm9 0l.6-2.3h1l.6 2.3zm1 0l.6-2.3h1.3l.6 2.3zm1 0l.4-2.3h.7l.4 2.3zm5 0l.6-2.3h1.2l.6 2.3zm3 0l.6-2.7h1.2l.6 2.7zm7 0l.9-2.7h3l.9 2.7zm3 0l.4-2.8h.9l.4 2.8zm1 0l.9-2.5h1.8l.9 2.5zm1 0l.7-1.8h1.4l.7 1.8zm1 0l.9-1.9h3l.9 1.9zm1 0l.9-2.5h2l.9 2.5zm1 0l.9-1.9h2.4l.9 1.9zm1 0l.3-2.6h.7l.3 2.6zm3 0l.2-2.4h.5l.2 2.4zm8 0l.3-2.9h.6l.3 2.9zm15 0l.3-1.7h.8l.3 1.7zm11 0l.4-2.6h.7l.4 2.6zm1 0l.8-1.7h1.6l.8 1.7zm2 0l.7-2.3h1.2l.7 2.3zm1 0l.3-2.6h.5l.3 2.6zm2 0l.3-2.4h.8l.3 2.4zm1 0l.7-2.2h1.2l.7 2.2zm1 0l.9-1.8h1.9l.9 1.8zm4 0l.3-2h.7l.3 2zm1 0l.5-2.7h1.1l.5 2.7z" stroke="none" stroke-width="1" fill="#000"/>
<line x1="275.8" y1="253.93" x2="434.3" y2="253.93" stroke="#111" stroke-width="0.7"/>
<line x1="275.8" y1="265.48" x2="434.3" y2="265.48" stroke="#111" stroke-width="0.7"/>
<line x1="395.9" y1="248.7" x2="415.5" y2="325.7" stroke="#e8262b" stroke-width="2.2"/>
<rect x="275.8" y="211" width="39.62" height="5.6" fill="#ffffff" stroke="#9a9a9a" stroke-width="0.8"/>
<rect x="355.05" y="211" width="39.62" height="5.6" fill="#ffffff" stroke="#9a9a9a" stroke-width="0.8"/>
<rect x="315.43" y="211" width="39.62" height="5.6" fill="#231815"/>
<rect x="394.68" y="211" width="39.62" height="5.6" fill="#231815"/>
<line x1="275.8" y1="208.5" x2="275.8" y2="211" stroke="#555" stroke-width="0.8"/>
<text x="275.8" y="207.6" font-size="11.5" text-anchor="middle">0</text>
<line x1="315.43" y1="208.5" x2="315.43" y2="211" stroke="#555" stroke-width="0.8"/>
<text x="315.43" y="207.6" font-size="11.5" text-anchor="middle">12</text>
<line x1="355.05" y1="208.5" x2="355.05" y2="211" stroke="#555" stroke-width="0.8"/>
<text x="355.05" y="207.6" font-size="11.5" text-anchor="middle">0</text>
<line x1="394.68" y1="208.5" x2="394.68" y2="211" stroke="#555" stroke-width="0.8"/>
<text x="394.68" y="207.6" font-size="11.5" text-anchor="middle">12</text>
<line x1="434.3" y1="208.5" x2="434.3" y2="211" stroke="#555" stroke-width="0.8"/>
<text x="434.3" y="207.6" font-size="11.5" text-anchor="middle">0</text>
<text x="354.85" y="197.4" font-size="13" text-anchor="middle">Time (h)</text>
<text x="272.6" y="220" font-size="12" text-anchor="end">1</text>
<line x1="273.8" y1="215.7" x2="275.8" y2="215.7" stroke="#555" stroke-width="0.7"/>
<text x="272.6" y="239.5" font-size="12" text-anchor="end">7</text>
<line x1="273.8" y1="235.2" x2="275.8" y2="235.2" stroke="#555" stroke-width="0.7"/>
<text x="272.6" y="260.3" font-size="12" text-anchor="end">14</text>
<line x1="273.8" y1="256" x2="275.8" y2="256" stroke="#555" stroke-width="0.7"/>
<text x="272.6" y="281" font-size="12" text-anchor="end">21</text>
<line x1="273.8" y1="276.7" x2="275.8" y2="276.7" stroke="#555" stroke-width="0.7"/>
<text x="272.6" y="301.2" font-size="12" text-anchor="end">28</text>
<line x1="273.8" y1="296.9" x2="275.8" y2="296.9" stroke="#555" stroke-width="0.7"/>
<text x="272.6" y="321.5" font-size="12" text-anchor="end">35</text>
<line x1="273.8" y1="317.2" x2="275.8" y2="317.2" stroke="#555" stroke-width="0.7"/>
<text x="0" y="0" font-size="12.5" text-anchor="middle" transform="translate(255.2 268.25) rotate(-90)">Days</text>
<path d="M435.8 217.5H439.3V235.9H435.8" stroke="#3a3a3a" stroke-width="1" fill="none"/>
<path d="M435.8 238.6H439.3V325H435.8" stroke="#3a3a3a" stroke-width="1" fill="none"/>
<text x="440.9" y="231.6" font-size="12.4">LD</text>
<text x="440.9" y="288.1" font-size="12.4">DD</text>
<text x="466.6" y="17.7" font-size="19.3" fill="#000" font-weight="bold">B</text>
<rect x="590.14" y="6.1" width="86.84" height="115.2" fill="#cccccc"/>
<line x1="503.6" y1="6.5" x2="503.6" y2="121.8" stroke="#1a1a1a" stroke-width="1"/>
<line x1="503.1" y1="121.3" x2="676.28" y2="121.3" stroke="#1a1a1a" stroke-width="1"/>
<line x1="500.1" y1="121.3" x2="503.6" y2="121.3" stroke="#1a1a1a" stroke-width="0.8"/>
<line x1="501.4" y1="112.45" x2="503.6" y2="112.45" stroke="#1a1a1a" stroke-width="0.8"/>
<line x1="501.4" y1="103.6" x2="503.6" y2="103.6" stroke="#1a1a1a" stroke-width="0.8"/>
<line x1="501.4" y1="94.75" x2="503.6" y2="94.75" stroke="#1a1a1a" stroke-width="0.8"/>
<line x1="500.1" y1="85.9" x2="503.6" y2="85.9" stroke="#1a1a1a" stroke-width="0.8"/>
<line x1="501.4" y1="77.05" x2="503.6" y2="77.05" stroke="#1a1a1a" stroke-width="0.8"/>
<line x1="501.4" y1="68.2" x2="503.6" y2="68.2" stroke="#1a1a1a" stroke-width="0.8"/>
<line x1="501.4" y1="59.35" x2="503.6" y2="59.35" stroke="#1a1a1a" stroke-width="0.8"/>
<line x1="500.1" y1="50.5" x2="503.6" y2="50.5" stroke="#1a1a1a" stroke-width="0.8"/>
<line x1="501.4" y1="41.65" x2="503.6" y2="41.65" stroke="#1a1a1a" stroke-width="0.8"/>
<line x1="501.4" y1="32.8" x2="503.6" y2="32.8" stroke="#1a1a1a" stroke-width="0.8"/>
<line x1="501.4" y1="23.95" x2="503.6" y2="23.95" stroke="#1a1a1a" stroke-width="0.8"/>
<line x1="500.1" y1="15.1" x2="503.6" y2="15.1" stroke="#1a1a1a" stroke-width="0.8"/>
<text x="499.7" y="126" font-size="13.2" text-anchor="end">0</text>
<text x="499.7" y="90.6" font-size="13.2" text-anchor="end">4</text>
<text x="499.7" y="55.2" font-size="13.2" text-anchor="end">8</text>
<text x="499.7" y="19.8" font-size="13.2" text-anchor="end">12</text>
<line x1="503.6" y1="121.3" x2="503.6" y2="124.8" stroke="#1a1a1a" stroke-width="0.8"/>
<line x1="510.77" y1="121.3" x2="510.77" y2="123.5" stroke="#1a1a1a" stroke-width="0.8"/>
<line x1="517.94" y1="121.3" x2="517.94" y2="123.5" stroke="#1a1a1a" stroke-width="0.8"/>
<line x1="525.11" y1="121.3" x2="525.11" y2="124.8" stroke="#1a1a1a" stroke-width="0.8"/>
<line x1="532.28" y1="121.3" x2="532.28" y2="123.5" stroke="#1a1a1a" stroke-width="0.8"/>
<line x1="539.45" y1="121.3" x2="539.45" y2="123.5" stroke="#1a1a1a" stroke-width="0.8"/>
<line x1="546.62" y1="121.3" x2="546.62" y2="124.8" stroke="#1a1a1a" stroke-width="0.8"/>
<line x1="553.79" y1="121.3" x2="553.79" y2="123.5" stroke="#1a1a1a" stroke-width="0.8"/>
<line x1="560.96" y1="121.3" x2="560.96" y2="123.5" stroke="#1a1a1a" stroke-width="0.8"/>
<line x1="568.13" y1="121.3" x2="568.13" y2="124.8" stroke="#1a1a1a" stroke-width="0.8"/>
<line x1="575.3" y1="121.3" x2="575.3" y2="123.5" stroke="#1a1a1a" stroke-width="0.8"/>
<line x1="582.47" y1="121.3" x2="582.47" y2="123.5" stroke="#1a1a1a" stroke-width="0.8"/>
<line x1="589.64" y1="121.3" x2="589.64" y2="124.8" stroke="#1a1a1a" stroke-width="0.8"/>
<line x1="596.81" y1="121.3" x2="596.81" y2="123.5" stroke="#1a1a1a" stroke-width="0.8"/>
<line x1="603.98" y1="121.3" x2="603.98" y2="123.5" stroke="#1a1a1a" stroke-width="0.8"/>
<line x1="611.15" y1="121.3" x2="611.15" y2="124.8" stroke="#1a1a1a" stroke-width="0.8"/>
<line x1="618.32" y1="121.3" x2="618.32" y2="123.5" stroke="#1a1a1a" stroke-width="0.8"/>
<line x1="625.49" y1="121.3" x2="625.49" y2="123.5" stroke="#1a1a1a" stroke-width="0.8"/>
<line x1="632.66" y1="121.3" x2="632.66" y2="124.8" stroke="#1a1a1a" stroke-width="0.8"/>
<line x1="639.83" y1="121.3" x2="639.83" y2="123.5" stroke="#1a1a1a" stroke-width="0.8"/>
<line x1="647" y1="121.3" x2="647" y2="123.5" stroke="#1a1a1a" stroke-width="0.8"/>
<line x1="654.17" y1="121.3" x2="654.17" y2="124.8" stroke="#1a1a1a" stroke-width="0.8"/>
<line x1="661.34" y1="121.3" x2="661.34" y2="123.5" stroke="#1a1a1a" stroke-width="0.8"/>
<line x1="668.51" y1="121.3" x2="668.51" y2="123.5" stroke="#1a1a1a" stroke-width="0.8"/>
<line x1="675.68" y1="121.3" x2="675.68" y2="124.8" stroke="#1a1a1a" stroke-width="0.8"/>
<text x="503.6" y="137.2" font-size="13" text-anchor="middle">0</text>
<text x="525.11" y="137.2" font-size="13" text-anchor="middle">3</text>
<text x="546.62" y="137.2" font-size="13" text-anchor="middle">6</text>
<text x="568.13" y="137.2" font-size="13" text-anchor="middle">9</text>
<text x="589.64" y="137.2" font-size="13" text-anchor="middle">12</text>
<text x="611.15" y="137.2" font-size="13" text-anchor="middle">15</text>
<text x="632.66" y="137.2" font-size="13" text-anchor="middle">18</text>
<text x="654.17" y="137.2" font-size="13" text-anchor="middle">21</text>
<text x="675.68" y="137.2" font-size="13" text-anchor="middle">24</text>
<text x="589.3" y="153.3" font-size="13" text-anchor="middle">ZT</text>
<text x="0" y="0" font-size="13.5" text-anchor="middle" transform="translate(480.1 63.5) rotate(-90)">Activity %</text>
<text x="511.5" y="21.4" font-size="12.9" fill="#231f20"><tspan font-style="italic">Gpr19</tspan> +/+</text>
<text x="512.3" y="37.7" font-size="12.9" fill="#d7282d"><tspan font-style="italic">Gpr19</tspan> –/–</text>
<text x="593.8" y="17.2" font-size="10.5" text-anchor="middle" fill="#111">**</text>
<path d="M507.19 88.02 L514.36 107.49 L521.52 102.72 L528.7 100.06 L535.87 108.11 L543.04 113.51 L550.21 113.51 L557.38 114.22 L564.55 113.51 L571.72 108.11 L578.88 105.37 L586.06 102.72 L593.23 48.73 L600.39 31.03 L607.57 42 L614.74 45.19 L621.9 58.82 L629.08 65.55 L636.25 77.94 L643.41 89.71 L650.59 99.71 L657.75 71.21 L664.92 52.27 L672.1 67.31" stroke="#000" stroke-width="1.6" fill="none"/>
<path d="M507.19 79.17V96.87M504.99 79.17h4.4M504.99 96.87h4.4" stroke="#000" stroke-width="1.1" fill="none"/>
<path d="M514.36 105.72V109.26M512.15 105.72h4.4M512.15 109.26h4.4" stroke="#000" stroke-width="1.1" fill="none"/>
<path d="M521.52 99.17V106.26M519.32 99.17h4.4M519.32 106.26h4.4" stroke="#000" stroke-width="1.1" fill="none"/>
<path d="M528.7 97.41V102.72M526.5 97.41h4.4M526.5 102.72h4.4" stroke="#000" stroke-width="1.1" fill="none"/>
<path d="M535.87 106.34V109.88M533.66 106.34h4.4M533.66 109.88h4.4" stroke="#000" stroke-width="1.1" fill="none"/>
<path d="M543.04 111.74V115.28M540.84 111.74h4.4M540.84 115.28h4.4" stroke="#000" stroke-width="1.1" fill="none"/>
<path d="M550.21 110.86V116.17M548 110.86h4.4M548 116.17h4.4" stroke="#000" stroke-width="1.1" fill="none"/>
<path d="M557.38 112.45V115.99M555.17 112.45h4.4M555.17 115.99h4.4" stroke="#000" stroke-width="1.1" fill="none"/>
<path d="M564.55 110.86V116.17M562.35 110.86h4.4M562.35 116.17h4.4" stroke="#000" stroke-width="1.1" fill="none"/>
<path d="M571.72 104.57V111.65M569.51 104.57h4.4M569.51 111.65h4.4" stroke="#000" stroke-width="1.1" fill="none"/>
<path d="M578.88 100.95V109.8M576.68 100.95h4.4M576.68 109.8h4.4" stroke="#000" stroke-width="1.1" fill="none"/>
<path d="M586.06 99.17V106.26M583.86 99.17h4.4M583.86 106.26h4.4" stroke="#000" stroke-width="1.1" fill="none"/>
<path d="M593.23 39V58.47M591.02 39h4.4M591.02 58.47h4.4" stroke="#000" stroke-width="1.1" fill="none"/>
<path d="M600.39 23.07V39M598.19 23.07h4.4M598.19 39h4.4" stroke="#000" stroke-width="1.1" fill="none"/>
<path d="M607.57 36.69V47.31M605.37 36.69h4.4M605.37 47.31h4.4" stroke="#000" stroke-width="1.1" fill="none"/>
<path d="M614.74 40.77V49.61M612.53 40.77h4.4M612.53 49.61h4.4" stroke="#000" stroke-width="1.1" fill="none"/>
<path d="M621.9 50.85V66.78M619.7 50.85h4.4M619.7 66.78h4.4" stroke="#000" stroke-width="1.1" fill="none"/>
<path d="M629.08 60.23V70.86M626.88 60.23h4.4M626.88 70.86h4.4" stroke="#000" stroke-width="1.1" fill="none"/>
<path d="M636.25 73.51V82.36M634.04 73.51h4.4M634.04 82.36h4.4" stroke="#000" stroke-width="1.1" fill="none"/>
<path d="M643.41 86.17V93.25M641.21 86.17h4.4M641.21 93.25h4.4" stroke="#000" stroke-width="1.1" fill="none"/>
<path d="M650.59 97.05V102.36M648.38 97.05h4.4M648.38 102.36h4.4" stroke="#000" stroke-width="1.1" fill="none"/>
<path d="M657.75 59.7V82.71M655.55 59.7h4.4M655.55 82.71h4.4" stroke="#000" stroke-width="1.1" fill="none"/>
<path d="M664.92 42.53V62M662.72 42.53h4.4M662.72 62h4.4" stroke="#000" stroke-width="1.1" fill="none"/>
<path d="M672.1 47.84V86.78M669.89 47.84h4.4M669.89 86.78h4.4" stroke="#000" stroke-width="1.1" fill="none"/>
<circle cx="507.19" cy="88.02" r="2.6" fill="#000"/>
<circle cx="514.36" cy="107.49" r="2.6" fill="#000"/>
<circle cx="521.52" cy="102.72" r="2.6" fill="#000"/>
<circle cx="528.7" cy="100.06" r="2.6" fill="#000"/>
<circle cx="535.87" cy="108.11" r="2.6" fill="#000"/>
<circle cx="543.04" cy="113.51" r="2.6" fill="#000"/>
<circle cx="550.21" cy="113.51" r="2.6" fill="#000"/>
<circle cx="557.38" cy="114.22" r="2.6" fill="#000"/>
<circle cx="564.55" cy="113.51" r="2.6" fill="#000"/>
<circle cx="571.72" cy="108.11" r="2.6" fill="#000"/>
<circle cx="578.88" cy="105.37" r="2.6" fill="#000"/>
<circle cx="586.06" cy="102.72" r="2.6" fill="#000"/>
<circle cx="593.23" cy="48.73" r="2.6" fill="#000"/>
<circle cx="600.39" cy="31.03" r="2.6" fill="#000"/>
<circle cx="607.57" cy="42" r="2.6" fill="#000"/>
<circle cx="614.74" cy="45.19" r="2.6" fill="#000"/>
<circle cx="621.9" cy="58.82" r="2.6" fill="#000"/>
<circle cx="629.08" cy="65.55" r="2.6" fill="#000"/>
<circle cx="636.25" cy="77.94" r="2.6" fill="#000"/>
<circle cx="643.41" cy="89.71" r="2.6" fill="#000"/>
<circle cx="650.59" cy="99.71" r="2.6" fill="#000"/>
<circle cx="657.75" cy="71.21" r="2.6" fill="#000"/>
<circle cx="664.92" cy="52.27" r="2.6" fill="#000"/>
<circle cx="672.1" cy="67.31" r="2.6" fill="#000"/>
<path d="M507.19 72.18 L514.36 89 L521.52 103.07 L528.7 100.06 L535.87 111.83 L543.04 114.22 L550.21 114.22 L557.38 115.81 L564.55 112.45 L571.72 111.83 L578.88 111.83 L586.06 107.49 L593.23 96.7 L600.39 55.37 L607.57 42 L614.74 54.04 L621.9 52.27 L629.08 66.43 L636.25 42 L643.41 81.47 L650.59 79.97 L657.75 94.04 L664.92 58.82 L672.1 32.8" stroke="#e03131" stroke-width="1.6" fill="none"/>
<path d="M507.19 58.91V85.46M504.99 58.91h4.4M504.99 85.46h4.4" stroke="#e03131" stroke-width="1.1" fill="none"/>
<path d="M514.36 76.61V101.39M512.15 76.61h4.4M512.15 101.39h4.4" stroke="#e03131" stroke-width="1.1" fill="none"/>
<path d="M521.52 100.41V105.72M519.32 100.41h4.4M519.32 105.72h4.4" stroke="#e03131" stroke-width="1.1" fill="none"/>
<path d="M528.7 96.52V103.6M526.5 96.52h4.4M526.5 103.6h4.4" stroke="#e03131" stroke-width="1.1" fill="none"/>
<path d="M535.87 110.06V113.6M533.66 110.06h4.4M533.66 113.6h4.4" stroke="#e03131" stroke-width="1.1" fill="none"/>
<path d="M543.04 111.56V116.88M540.84 111.56h4.4M540.84 116.88h4.4" stroke="#e03131" stroke-width="1.1" fill="none"/>
<path d="M550.21 112.45V115.99M548 112.45h4.4M548 115.99h4.4" stroke="#e03131" stroke-width="1.1" fill="none"/>
<path d="M557.38 114.04V117.58M555.17 114.04h4.4M555.17 117.58h4.4" stroke="#e03131" stroke-width="1.1" fill="none"/>
<path d="M564.55 109.8V115.11M562.35 109.8h4.4M562.35 115.11h4.4" stroke="#e03131" stroke-width="1.1" fill="none"/>
<path d="M571.72 109.18V114.49M569.51 109.18h4.4M569.51 114.49h4.4" stroke="#e03131" stroke-width="1.1" fill="none"/>
<path d="M578.88 108.29V115.37M576.68 108.29h4.4M576.68 115.37h4.4" stroke="#e03131" stroke-width="1.1" fill="none"/>
<path d="M586.06 103.07V111.92M583.86 103.07h4.4M583.86 111.92h4.4" stroke="#e03131" stroke-width="1.1" fill="none"/>
<path d="M593.23 84.31V109.09M591.02 84.31h4.4M591.02 109.09h4.4" stroke="#e03131" stroke-width="1.1" fill="none"/>
<path d="M600.39 45.63V65.1M598.19 45.63h4.4M598.19 65.1h4.4" stroke="#e03131" stroke-width="1.1" fill="none"/>
<path d="M607.57 33.15V50.85M605.37 33.15h4.4M605.37 50.85h4.4" stroke="#e03131" stroke-width="1.1" fill="none"/>
<path d="M614.74 36.34V71.74M612.53 36.34h4.4M612.53 71.74h4.4" stroke="#e03131" stroke-width="1.1" fill="none"/>
<path d="M621.9 47.84V56.69M619.7 47.84h4.4M619.7 56.69h4.4" stroke="#e03131" stroke-width="1.1" fill="none"/>
<path d="M629.08 54.04V78.82M626.88 54.04h4.4M626.88 78.82h4.4" stroke="#e03131" stroke-width="1.1" fill="none"/>
<path d="M636.25 39.35V44.66M634.04 39.35h4.4M634.04 44.66h4.4" stroke="#e03131" stroke-width="1.1" fill="none"/>
<path d="M643.41 72.62V90.32M641.21 72.62h4.4M641.21 90.32h4.4" stroke="#e03131" stroke-width="1.1" fill="none"/>
<path d="M650.59 76.43V83.51M648.38 76.43h4.4M648.38 83.51h4.4" stroke="#e03131" stroke-width="1.1" fill="none"/>
<path d="M657.75 89.62V98.47M655.55 89.62h4.4M655.55 98.47h4.4" stroke="#e03131" stroke-width="1.1" fill="none"/>
<path d="M664.92 46.43V71.21M662.72 46.43h4.4M662.72 71.21h4.4" stroke="#e03131" stroke-width="1.1" fill="none"/>
<path d="M672.1 24.83V40.77M669.89 24.83h4.4M669.89 40.77h4.4" stroke="#e03131" stroke-width="1.1" fill="none"/>
<circle cx="507.19" cy="72.18" r="2.6" fill="#e03131"/>
<circle cx="514.36" cy="89" r="2.6" fill="#e03131"/>
<circle cx="521.52" cy="103.07" r="2.6" fill="#e03131"/>
<circle cx="528.7" cy="100.06" r="2.6" fill="#e03131"/>
<circle cx="535.87" cy="111.83" r="2.6" fill="#e03131"/>
<circle cx="543.04" cy="114.22" r="2.6" fill="#e03131"/>
<circle cx="550.21" cy="114.22" r="2.6" fill="#e03131"/>
<circle cx="557.38" cy="115.81" r="2.6" fill="#e03131"/>
<circle cx="564.55" cy="112.45" r="2.6" fill="#e03131"/>
<circle cx="571.72" cy="111.83" r="2.6" fill="#e03131"/>
<circle cx="578.88" cy="111.83" r="2.6" fill="#e03131"/>
<circle cx="586.06" cy="107.49" r="2.6" fill="#e03131"/>
<circle cx="593.23" cy="96.7" r="2.6" fill="#e03131"/>
<circle cx="600.39" cy="55.37" r="2.6" fill="#e03131"/>
<circle cx="607.57" cy="42" r="2.6" fill="#e03131"/>
<circle cx="614.74" cy="54.04" r="2.6" fill="#e03131"/>
<circle cx="621.9" cy="52.27" r="2.6" fill="#e03131"/>
<circle cx="629.08" cy="66.43" r="2.6" fill="#e03131"/>
<circle cx="636.25" cy="42" r="2.6" fill="#e03131"/>
<circle cx="643.41" cy="81.47" r="2.6" fill="#e03131"/>
<circle cx="650.59" cy="79.97" r="2.6" fill="#e03131"/>
<circle cx="657.75" cy="94.04" r="2.6" fill="#e03131"/>
<circle cx="664.92" cy="58.82" r="2.6" fill="#e03131"/>
<circle cx="672.1" cy="32.8" r="2.6" fill="#e03131"/>
<rect x="592.1" y="178.5" width="72.6" height="26.5" fill="#cccccc"/>
<line x1="550" y1="178.5" x2="664.7" y2="178.5" stroke="#1a1a1a" stroke-width="1"/>
<line x1="556.2" y1="174.5" x2="556.2" y2="178.5" stroke="#1a1a1a" stroke-width="0.8"/>
<text x="555.9" y="175.3" font-size="13" text-anchor="middle">11</text>
<line x1="592.1" y1="174.5" x2="592.1" y2="178.5" stroke="#1a1a1a" stroke-width="0.8"/>
<text x="591.8" y="175.3" font-size="13" text-anchor="middle">12</text>
<line x1="628" y1="174.5" x2="628" y2="178.5" stroke="#1a1a1a" stroke-width="0.8"/>
<text x="627.7" y="175.3" font-size="13" text-anchor="middle">13</text>
<line x1="663.9" y1="174.5" x2="663.9" y2="178.5" stroke="#1a1a1a" stroke-width="0.8"/>
<text x="663.6" y="175.3" font-size="13" text-anchor="middle">14</text>
<text x="523" y="175.3" font-size="13">ZT:</text>
<text x="487.6" y="189.6" font-size="13">Onset</text>
<text x="531.5" y="189.6" font-size="13">+/+</text>
<text x="531.2" y="202.6" font-size="13" fill="#d7282d">–/–</text>
<path d="M580.2 185.2H589.1M580.2 183V187.4M589.1 183V187.4" stroke="#000" stroke-width="1" fill="none"/>
<circle cx="585" cy="185.2" r="2.5" fill="#000"/>
<path d="M611.5 198.2H636.4M611.5 196V200.4M636.4 196V200.4" stroke="#333" stroke-width="1" fill="none"/>
<circle cx="623.7" cy="198.2" r="2.5" fill="#e03131"/>
<line x1="646.6" y1="186" x2="646.6" y2="198.2" stroke="#111" stroke-width="1"/>
<text x="653" y="196.5" font-size="10" text-anchor="middle" fill="#111">*</text>
<text x="480.5" y="231.5" font-size="19.3" fill="#000" font-weight="bold">C</text>
<line x1="555.4" y1="237" x2="555.4" y2="331" stroke="#1a1a1a" stroke-width="1"/>
<line x1="554.9" y1="330.5" x2="668.4" y2="330.5" stroke="#1a1a1a" stroke-width="1"/>
<line x1="551.8" y1="237.5" x2="555.4" y2="237.5" stroke="#1a1a1a" stroke-width="0.9"/>
<text x="549.8" y="242.2" font-size="13" text-anchor="end">24.5</text>
<line x1="551.8" y1="268.5" x2="555.4" y2="268.5" stroke="#1a1a1a" stroke-width="0.9"/>
<text x="549.8" y="273.2" font-size="13" text-anchor="end">24.0</text>
<line x1="551.8" y1="299.5" x2="555.4" y2="299.5" stroke="#1a1a1a" stroke-width="0.9"/>
<text x="549.8" y="304.2" font-size="13" text-anchor="end">23.5</text>
<line x1="551.8" y1="330.5" x2="555.4" y2="330.5" stroke="#1a1a1a" stroke-width="0.9"/>
<text x="549.8" y="335.2" font-size="13" text-anchor="end">23.0</text>
<line x1="583.6" y1="330.5" x2="583.6" y2="333.7" stroke="#1a1a1a" stroke-width="0.9"/>
<line x1="639.7" y1="330.5" x2="639.7" y2="333.7" stroke="#1a1a1a" stroke-width="0.9"/>
<text x="552.4" y="347" font-size="12.9" fill="#231f20"><tspan font-style="italic">Gpr19</tspan> +/+</text>
<text x="613.5" y="347" font-size="12.9" fill="#d7282d"><tspan font-style="italic">Gpr19</tspan> –/–</text>
<text x="0" y="0" font-size="13" text-anchor="middle" transform="translate(502.6 284.9) rotate(-90)">Free-running</text>
<text x="0" y="0" font-size="13" text-anchor="middle" transform="translate(515.4 284.7) rotate(-90)">period (h)</text>
<path d="M583.4 261.3V234.5H599.7M622.4 234.5H640.5V241.1" stroke="#555" stroke-width="0.9" fill="none"/>
<text x="611.8" y="241.2" font-size="12" text-anchor="middle" fill="#222">****</text>
<rect x="574.3" y="280.4" width="18.4" height="2.2" fill="#777"/>
<line x1="564.6" y1="282.3" x2="602.7" y2="282.3" stroke="#111" stroke-width="1.1"/>
<circle cx="566.7" cy="280.9" r="2" fill="#000"/>
<circle cx="572.5" cy="283.2" r="2" fill="#000"/>
<circle cx="577.8" cy="275.3" r="2" fill="#000"/>
<circle cx="577.8" cy="284.1" r="2" fill="#000"/>
<circle cx="583.6" cy="279.3" r="2" fill="#000"/>
<circle cx="583.6" cy="285.5" r="2" fill="#000"/>
<circle cx="583.6" cy="293.7" r="2" fill="#000"/>
<circle cx="589.2" cy="277.4" r="2" fill="#000"/>
<circle cx="589.2" cy="282.7" r="2" fill="#000"/>
<circle cx="594.8" cy="283.2" r="2" fill="#000"/>
<circle cx="600.5" cy="280" r="2" fill="#000"/>
<rect x="627" y="248.9" width="3.8" height="3.8" fill="#e8393c"/>
<rect x="632.8" y="250.6" width="3.8" height="3.8" fill="#e8393c"/>
<rect x="635.4" y="254.1" width="3.8" height="3.8" fill="#e8393c"/>
<rect x="638.1" y="252.7" width="3.8" height="3.8" fill="#e8393c"/>
<rect x="643.8" y="252" width="3.8" height="3.8" fill="#e8393c"/>
<rect x="649.1" y="249.8" width="3.8" height="3.8" fill="#e8393c"/>
<rect x="640.7" y="260.3" width="3.8" height="3.8" fill="#e8393c"/>
<rect x="635.1" y="265.5" width="3.8" height="3.8" fill="#e8393c"/>
<rect x="640.1" y="256.6" width="3.8" height="3.8" fill="#e8393c"/>
<rect x="629.6" y="253.6" width="3.8" height="3.8" fill="#e8393c"/>
<rect x="630.3" y="255.2" width="19.3" height="3.4" fill="#666" opacity="0.85"/>
<line x1="621.2" y1="256.9" x2="659.2" y2="256.9" stroke="#555" stroke-width="1.2"/>
<text x="4.6" y="353.8" font-size="19.3" fill="#000" font-weight="bold">D</text>
<rect x="3.3" y="520.48" width="40.9" height="11.72" fill="#ffa500"/>
<rect x="3.3" y="606.7" width="41.3" height="110.85" fill="#9bf09b"/>
<rect x="48" y="385" width="15.21" height="12.72" fill="#ff0000"/>
<rect x="62.81" y="385" width="15.21" height="12.72" fill="#ff0000"/>
<rect x="77.62" y="385" width="15.21" height="12.72" fill="#343434"/>
<rect x="92.42" y="385" width="15.21" height="12.72" fill="#09da09"/>
<rect x="107.23" y="385" width="15.21" height="12.72" fill="#09da09"/>
<rect x="122.04" y="385" width="15.21" height="12.72" fill="#208120"/>
<rect x="136.85" y="385" width="15.21" height="12.72" fill="#712424"/>
<rect x="151.66" y="385" width="15.21" height="12.72" fill="#d60a0a"/>
<rect x="166.47" y="385" width="15.21" height="12.72" fill="#2b572b"/>
<rect x="181.27" y="385" width="15.21" height="12.72" fill="#05ed05"/>
<rect x="196.08" y="385" width="15.21" height="12.72" fill="#00ff00"/>
<rect x="210.89" y="385" width="15.21" height="12.72" fill="#09da09"/>
<rect x="48" y="397.32" width="15.21" height="12.72" fill="#851f1f"/>
<rect x="62.81" y="397.32" width="15.21" height="12.72" fill="#ff0000"/>
<rect x="77.62" y="397.32" width="15.21" height="12.72" fill="#851f1f"/>
<rect x="92.42" y="397.32" width="15.21" height="12.72" fill="#199e19"/>
<rect x="107.23" y="397.32" width="15.21" height="12.72" fill="#02f802"/>
<rect x="122.04" y="397.32" width="15.21" height="12.72" fill="#09da09"/>
<rect x="136.85" y="397.32" width="15.21" height="12.72" fill="#482f2f"/>
<rect x="151.66" y="397.32" width="15.21" height="12.72" fill="#ff0000"/>
<rect x="166.47" y="397.32" width="15.21" height="12.72" fill="#5d2a2a"/>
<rect x="181.27" y="397.32" width="15.21" height="12.72" fill="#11bc11"/>
<rect x="196.08" y="397.32" width="15.21" height="12.72" fill="#00ff00"/>
<rect x="210.89" y="397.32" width="15.21" height="12.72" fill="#09da09"/>
<rect x="48" y="409.63" width="15.21" height="12.72" fill="#d60a0a"/>
<rect x="62.81" y="409.63" width="15.21" height="12.72" fill="#d60a0a"/>
<rect x="77.62" y="409.63" width="15.21" height="12.72" fill="#ae1515"/>
<rect x="92.42" y="409.63" width="15.21" height="12.72" fill="#286528"/>
<rect x="107.23" y="409.63" width="15.21" height="12.72" fill="#208120"/>
<rect x="122.04" y="409.63" width="15.21" height="12.72" fill="#2f482f"/>
<rect x="136.85" y="409.63" width="15.21" height="12.72" fill="#2b572b"/>
<rect x="151.66" y="409.63" width="15.21" height="12.72" fill="#ff0000"/>
<rect x="166.47" y="409.63" width="15.21" height="12.72" fill="#652828"/>
<rect x="181.27" y="409.63" width="15.21" height="12.72" fill="#199e19"/>
<rect x="196.08" y="409.63" width="15.21" height="12.72" fill="#00ff00"/>
<rect x="210.89" y="409.63" width="15.21" height="12.72" fill="#199e19"/>
<rect x="48" y="421.95" width="15.21" height="12.72" fill="#c21010"/>
<rect x="62.81" y="421.95" width="15.21" height="12.72" fill="#2b572b"/>
<rect x="77.62" y="421.95" width="15.21" height="12.72" fill="#c21010"/>
<rect x="92.42" y="421.95" width="15.21" height="12.72" fill="#00ff00"/>
<rect x="107.23" y="421.95" width="15.21" height="12.72" fill="#00ff00"/>
<rect x="122.04" y="421.95" width="15.21" height="12.72" fill="#5d2a2a"/>
<rect x="136.85" y="421.95" width="15.21" height="12.72" fill="#5d2a2a"/>
<rect x="151.66" y="421.95" width="15.21" height="12.72" fill="#ff0000"/>
<rect x="166.47" y="421.95" width="15.21" height="12.72" fill="#9a1a1a"/>
<rect x="181.27" y="421.95" width="15.21" height="12.72" fill="#09da09"/>
<rect x="196.08" y="421.95" width="15.21" height="12.72" fill="#05ed05"/>
<rect x="210.89" y="421.95" width="15.21" height="12.72" fill="#5d2a2a"/>
<rect x="48" y="434.27" width="15.21" height="12.72" fill="#542c2c"/>
<rect x="62.81" y="434.27" width="15.21" height="12.72" fill="#9a1a1a"/>
<rect x="77.62" y="434.27" width="15.21" height="12.72" fill="#2b572b"/>
<rect x="92.42" y="434.27" width="15.21" height="12.72" fill="#05ed05"/>
<rect x="107.23" y="434.27" width="15.21" height="12.72" fill="#00ff00"/>
<rect x="122.04" y="434.27" width="15.21" height="12.72" fill="#00ff00"/>
<rect x="136.85" y="434.27" width="15.21" height="12.72" fill="#313e31"/>
<rect x="151.66" y="434.27" width="15.21" height="12.72" fill="#ff0000"/>
<rect x="166.47" y="434.27" width="15.21" height="12.72" fill="#2b572b"/>
<rect x="181.27" y="434.27" width="15.21" height="12.72" fill="#00ff00"/>
<rect x="196.08" y="434.27" width="15.21" height="12.72" fill="#00ff00"/>
<rect x="210.89" y="434.27" width="15.21" height="12.72" fill="#00ff00"/>
<rect x="48" y="446.58" width="15.21" height="12.72" fill="#199e19"/>
<rect x="62.81" y="446.58" width="15.21" height="12.72" fill="#851f1f"/>
<rect x="77.62" y="446.58" width="15.21" height="12.72" fill="#199e19"/>
<rect x="92.42" y="446.58" width="15.21" height="12.72" fill="#02f802"/>
<rect x="107.23" y="446.58" width="15.21" height="12.72" fill="#00ff00"/>
<rect x="122.04" y="446.58" width="15.21" height="12.72" fill="#00ff00"/>
<rect x="136.85" y="446.58" width="15.21" height="12.72" fill="#286528"/>
<rect x="151.66" y="446.58" width="15.21" height="12.72" fill="#ff0000"/>
<rect x="166.47" y="446.58" width="15.21" height="12.72" fill="#286528"/>
<rect x="181.27" y="446.58" width="15.21" height="12.72" fill="#05ed05"/>
<rect x="196.08" y="446.58" width="15.21" height="12.72" fill="#00ff00"/>
<rect x="210.89" y="446.58" width="15.21" height="12.72" fill="#00ff00"/>
<rect x="48" y="458.9" width="15.21" height="12.72" fill="#304430"/>
<rect x="62.81" y="458.9" width="15.21" height="12.72" fill="#ff0000"/>
<rect x="77.62" y="458.9" width="15.21" height="12.72" fill="#f30303"/>
<rect x="92.42" y="458.9" width="15.21" height="12.72" fill="#1c921c"/>
<rect x="107.23" y="458.9" width="15.21" height="12.72" fill="#0cce0c"/>
<rect x="122.04" y="458.9" width="15.21" height="12.72" fill="#09da09"/>
<rect x="136.85" y="458.9" width="15.21" height="12.72" fill="#208120"/>
<rect x="151.66" y="458.9" width="15.21" height="12.72" fill="#ce0c0c"/>
<rect x="166.47" y="458.9" width="15.21" height="12.72" fill="#851f1f"/>
<rect x="181.27" y="458.9" width="15.21" height="12.72" fill="#199e19"/>
<rect x="196.08" y="458.9" width="15.21" height="12.72" fill="#02f802"/>
<rect x="210.89" y="458.9" width="15.21" height="12.72" fill="#00ff00"/>
<rect x="48" y="471.22" width="15.21" height="12.72" fill="#2b572b"/>
<rect x="62.81" y="471.22" width="15.21" height="12.72" fill="#d60a0a"/>
<rect x="77.62" y="471.22" width="15.21" height="12.72" fill="#ff0000"/>
<rect x="92.42" y="471.22" width="15.21" height="12.72" fill="#2b572b"/>
<rect x="107.23" y="471.22" width="15.21" height="12.72" fill="#09da09"/>
<rect x="122.04" y="471.22" width="15.21" height="12.72" fill="#05ed05"/>
<rect x="136.85" y="471.22" width="15.21" height="12.72" fill="#1c921c"/>
<rect x="151.66" y="471.22" width="15.21" height="12.72" fill="#652828"/>
<rect x="166.47" y="471.22" width="15.21" height="12.72" fill="#652828"/>
<rect x="181.27" y="471.22" width="15.21" height="12.72" fill="#2b572b"/>
<rect x="196.08" y="471.22" width="15.21" height="12.72" fill="#05ed05"/>
<rect x="210.89" y="471.22" width="15.21" height="12.72" fill="#00ff00"/>
<rect x="48" y="483.53" width="15.21" height="12.72" fill="#5d2a2a"/>
<rect x="62.81" y="483.53" width="15.21" height="12.72" fill="#a61717"/>
<rect x="77.62" y="483.53" width="15.21" height="12.72" fill="#ff0000"/>
<rect x="92.42" y="483.53" width="15.21" height="12.72" fill="#5d2a2a"/>
<rect x="107.23" y="483.53" width="15.21" height="12.72" fill="#286528"/>
<rect x="122.04" y="483.53" width="15.21" height="12.72" fill="#199e19"/>
<rect x="136.85" y="483.53" width="15.21" height="12.72" fill="#09da09"/>
<rect x="151.66" y="483.53" width="15.21" height="12.72" fill="#df0808"/>
<rect x="166.47" y="483.53" width="15.21" height="12.72" fill="#b61313"/>
<rect x="181.27" y="483.53" width="15.21" height="12.72" fill="#1c921c"/>
<rect x="196.08" y="483.53" width="15.21" height="12.72" fill="#05ed05"/>
<rect x="210.89" y="483.53" width="15.21" height="12.72" fill="#00ff00"/>
<rect x="48" y="495.85" width="15.21" height="12.72" fill="#542c2c"/>
<rect x="62.81" y="495.85" width="15.21" height="12.72" fill="#851f1f"/>
<rect x="77.62" y="495.85" width="15.21" height="12.72" fill="#c21010"/>
<rect x="92.42" y="495.85" width="15.21" height="12.72" fill="#0cce0c"/>
<rect x="107.23" y="495.85" width="15.21" height="12.72" fill="#09da09"/>
<rect x="122.04" y="495.85" width="15.21" height="12.72" fill="#05ed05"/>
<rect x="136.85" y="495.85" width="15.21" height="12.72" fill="#2d4e2d"/>
<rect x="151.66" y="495.85" width="15.21" height="12.72" fill="#ff0000"/>
<rect x="166.47" y="495.85" width="15.21" height="12.72" fill="#8d1d1d"/>
<rect x="181.27" y="495.85" width="15.21" height="12.72" fill="#0cce0c"/>
<rect x="196.08" y="495.85" width="15.21" height="12.72" fill="#05ed05"/>
<rect x="210.89" y="495.85" width="15.21" height="12.72" fill="#00ff00"/>
<rect x="48" y="508.17" width="15.21" height="12.72" fill="#2b572b"/>
<rect x="62.81" y="508.17" width="15.21" height="12.72" fill="#3c3232"/>
<rect x="77.62" y="508.17" width="15.21" height="12.72" fill="#ff0000"/>
<rect x="92.42" y="508.17" width="15.21" height="12.72" fill="#199e19"/>
<rect x="107.23" y="508.17" width="15.21" height="12.72" fill="#11bc11"/>
<rect x="122.04" y="508.17" width="15.21" height="12.72" fill="#09da09"/>
<rect x="136.85" y="508.17" width="15.21" height="12.72" fill="#1c921c"/>
<rect x="151.66" y="508.17" width="15.21" height="12.72" fill="#ae1515"/>
<rect x="166.47" y="508.17" width="15.21" height="12.72" fill="#ae1515"/>
<rect x="181.27" y="508.17" width="15.21" height="12.72" fill="#1c921c"/>
<rect x="196.08" y="508.17" width="15.21" height="12.72" fill="#02f802"/>
<rect x="210.89" y="508.17" width="15.21" height="12.72" fill="#00ff00"/>
<rect x="48" y="520.48" width="15.21" height="12.72" fill="#00ff00"/>
<rect x="62.81" y="520.48" width="15.21" height="12.72" fill="#0cce0c"/>
<rect x="77.62" y="520.48" width="15.21" height="12.72" fill="#343434"/>
<rect x="92.42" y="520.48" width="15.21" height="12.72" fill="#09da09"/>
<rect x="107.23" y="520.48" width="15.21" height="12.72" fill="#02f802"/>
<rect x="122.04" y="520.48" width="15.21" height="12.72" fill="#00ff00"/>
<rect x="136.85" y="520.48" width="15.21" height="12.72" fill="#0cce0c"/>
<rect x="151.66" y="520.48" width="15.21" height="12.72" fill="#652828"/>
<rect x="166.47" y="520.48" width="15.21" height="12.72" fill="#ff0000"/>
<rect x="181.27" y="520.48" width="15.21" height="12.72" fill="#c21010"/>
<rect x="196.08" y="520.48" width="15.21" height="12.72" fill="#0cce0c"/>
<rect x="210.89" y="520.48" width="15.21" height="12.72" fill="#11bc11"/>
<rect x="48" y="532.8" width="15.21" height="12.72" fill="#343434"/>
<rect x="62.81" y="532.8" width="15.21" height="12.72" fill="#d60a0a"/>
<rect x="77.62" y="532.8" width="15.21" height="12.72" fill="#ff0000"/>
<rect x="92.42" y="532.8" width="15.21" height="12.72" fill="#a61717"/>
<rect x="107.23" y="532.8" width="15.21" height="12.72" fill="#09da09"/>
<rect x="122.04" y="532.8" width="15.21" height="12.72" fill="#07e207"/>
<rect x="136.85" y="532.8" width="15.21" height="12.72" fill="#1c921c"/>
<rect x="151.66" y="532.8" width="15.21" height="12.72" fill="#c21010"/>
<rect x="166.47" y="532.8" width="15.21" height="12.72" fill="#a61717"/>
<rect x="181.27" y="532.8" width="15.21" height="12.72" fill="#ce0c0c"/>
<rect x="196.08" y="532.8" width="15.21" height="12.72" fill="#02f802"/>
<rect x="210.89" y="532.8" width="15.21" height="12.72" fill="#07e207"/>
<rect x="48" y="545.12" width="15.21" height="12.72" fill="#1c921c"/>
<rect x="62.81" y="545.12" width="15.21" height="12.72" fill="#343434"/>
<rect x="77.62" y="545.12" width="15.21" height="12.72" fill="#ff0000"/>
<rect x="92.42" y="545.12" width="15.21" height="12.72" fill="#333833"/>
<rect x="107.23" y="545.12" width="15.21" height="12.72" fill="#2d4e2d"/>
<rect x="122.04" y="545.12" width="15.21" height="12.72" fill="#0cce0c"/>
<rect x="136.85" y="545.12" width="15.21" height="12.72" fill="#09da09"/>
<rect x="151.66" y="545.12" width="15.21" height="12.72" fill="#313e31"/>
<rect x="166.47" y="545.12" width="15.21" height="12.72" fill="#3c3232"/>
<rect x="181.27" y="545.12" width="15.21" height="12.72" fill="#542c2c"/>
<rect x="196.08" y="545.12" width="15.21" height="12.72" fill="#0cce0c"/>
<rect x="210.89" y="545.12" width="15.21" height="12.72" fill="#05ed05"/>
<rect x="48" y="557.43" width="15.21" height="12.72" fill="#199e19"/>
<rect x="62.81" y="557.43" width="15.21" height="12.72" fill="#5d2a2a"/>
<rect x="77.62" y="557.43" width="15.21" height="12.72" fill="#ff0000"/>
<rect x="92.42" y="557.43" width="15.21" height="12.72" fill="#9a1a1a"/>
<rect x="107.23" y="557.43" width="15.21" height="12.72" fill="#1c921c"/>
<rect x="122.04" y="557.43" width="15.21" height="12.72" fill="#05ed05"/>
<rect x="136.85" y="557.43" width="15.21" height="12.72" fill="#199e19"/>
<rect x="151.66" y="557.43" width="15.21" height="12.72" fill="#a61717"/>
<rect x="166.47" y="557.43" width="15.21" height="12.72" fill="#f30303"/>
<rect x="181.27" y="557.43" width="15.21" height="12.72" fill="#9a1a1a"/>
<rect x="196.08" y="557.43" width="15.21" height="12.72" fill="#199e19"/>
<rect x="210.89" y="557.43" width="15.21" height="12.72" fill="#03f403"/>
<rect x="48" y="569.75" width="15.21" height="12.72" fill="#0cce0c"/>
<rect x="62.81" y="569.75" width="15.21" height="12.72" fill="#5d2a2a"/>
<rect x="77.62" y="569.75" width="15.21" height="12.72" fill="#ff0000"/>
<rect x="92.42" y="569.75" width="15.21" height="12.72" fill="#c21010"/>
<rect x="107.23" y="569.75" width="15.21" height="12.72" fill="#1c921c"/>
<rect x="122.04" y="569.75" width="15.21" height="12.72" fill="#05ed05"/>
<rect x="136.85" y="569.75" width="15.21" height="12.72" fill="#09da09"/>
<rect x="151.66" y="569.75" width="15.21" height="12.72" fill="#313e31"/>
<rect x="166.47" y="569.75" width="15.21" height="12.72" fill="#9a1a1a"/>
<rect x="181.27" y="569.75" width="15.21" height="12.72" fill="#ce0c0c"/>
<rect x="196.08" y="569.75" width="15.21" height="12.72" fill="#0cce0c"/>
<rect x="210.89" y="569.75" width="15.21" height="12.72" fill="#03f403"/>
<rect x="48" y="582.07" width="15.21" height="12.72" fill="#11bc11"/>
<rect x="62.81" y="582.07" width="15.21" height="12.72" fill="#286528"/>
<rect x="77.62" y="582.07" width="15.21" height="12.72" fill="#ff0000"/>
<rect x="92.42" y="582.07" width="15.21" height="12.72" fill="#df0808"/>
<rect x="107.23" y="582.07" width="15.21" height="12.72" fill="#df0808"/>
<rect x="122.04" y="582.07" width="15.21" height="12.72" fill="#257025"/>
<rect x="136.85" y="582.07" width="15.21" height="12.72" fill="#02f802"/>
<rect x="151.66" y="582.07" width="15.21" height="12.72" fill="#2b572b"/>
<rect x="166.47" y="582.07" width="15.21" height="12.72" fill="#8d1d1d"/>
<rect x="181.27" y="582.07" width="15.21" height="12.72" fill="#ce0c0c"/>
<rect x="196.08" y="582.07" width="15.21" height="12.72" fill="#5d2a2a"/>
<rect x="210.89" y="582.07" width="15.21" height="12.72" fill="#0cce0c"/>
<rect x="48" y="594.38" width="15.21" height="12.72" fill="#286528"/>
<rect x="62.81" y="594.38" width="15.21" height="12.72" fill="#286528"/>
<rect x="77.62" y="594.38" width="15.21" height="12.72" fill="#ff0000"/>
<rect x="92.42" y="594.38" width="15.21" height="12.72" fill="#5d2a2a"/>
<rect x="107.23" y="594.38" width="15.21" height="12.72" fill="#ae1515"/>
<rect x="122.04" y="594.38" width="15.21" height="12.72" fill="#09da09"/>
<rect x="136.85" y="594.38" width="15.21" height="12.72" fill="#02f802"/>
<rect x="151.66" y="594.38" width="15.21" height="12.72" fill="#313e31"/>
<rect x="166.47" y="594.38" width="15.21" height="12.72" fill="#9a1a1a"/>
<rect x="181.27" y="594.38" width="15.21" height="12.72" fill="#208120"/>
<rect x="196.08" y="594.38" width="15.21" height="12.72" fill="#286528"/>
<rect x="210.89" y="594.38" width="15.21" height="12.72" fill="#286528"/>
<rect x="48" y="606.7" width="15.21" height="12.72" fill="#09da09"/>
<rect x="62.81" y="606.7" width="15.21" height="12.72" fill="#05ed05"/>
<rect x="77.62" y="606.7" width="15.21" height="12.72" fill="#9a1a1a"/>
<rect x="92.42" y="606.7" width="15.21" height="12.72" fill="#ff0000"/>
<rect x="107.23" y="606.7" width="15.21" height="12.72" fill="#d60a0a"/>
<rect x="122.04" y="606.7" width="15.21" height="12.72" fill="#5d2a2a"/>
<rect x="136.85" y="606.7" width="15.21" height="12.72" fill="#1c921c"/>
<rect x="151.66" y="606.7" width="15.21" height="12.72" fill="#00ff00"/>
<rect x="166.47" y="606.7" width="15.21" height="12.72" fill="#257025"/>
<rect x="181.27" y="606.7" width="15.21" height="12.72" fill="#0cce0c"/>
<rect x="196.08" y="606.7" width="15.21" height="12.72" fill="#286528"/>
<rect x="210.89" y="606.7" width="15.21" height="12.72" fill="#03f403"/>
<rect x="48" y="619.02" width="15.21" height="12.72" fill="#0cce0c"/>
<rect x="62.81" y="619.02" width="15.21" height="12.72" fill="#02f802"/>
<rect x="77.62" y="619.02" width="15.21" height="12.72" fill="#333833"/>
<rect x="92.42" y="619.02" width="15.21" height="12.72" fill="#ff0000"/>
<rect x="107.23" y="619.02" width="15.21" height="12.72" fill="#b61313"/>
<rect x="122.04" y="619.02" width="15.21" height="12.72" fill="#2b572b"/>
<rect x="136.85" y="619.02" width="15.21" height="12.72" fill="#3c3232"/>
<rect x="151.66" y="619.02" width="15.21" height="12.72" fill="#333833"/>
<rect x="166.47" y="619.02" width="15.21" height="12.72" fill="#482f2f"/>
<rect x="181.27" y="619.02" width="15.21" height="12.72" fill="#286528"/>
<rect x="196.08" y="619.02" width="15.21" height="12.72" fill="#5d2a2a"/>
<rect x="210.89" y="619.02" width="15.21" height="12.72" fill="#712424"/>
<rect x="48" y="631.33" width="15.21" height="12.72" fill="#199e19"/>
<rect x="62.81" y="631.33" width="15.21" height="12.72" fill="#02f802"/>
<rect x="77.62" y="631.33" width="15.21" height="12.72" fill="#333833"/>
<rect x="92.42" y="631.33" width="15.21" height="12.72" fill="#1c921c"/>
<rect x="107.23" y="631.33" width="15.21" height="12.72" fill="#ff0000"/>
<rect x="122.04" y="631.33" width="15.21" height="12.72" fill="#3c3232"/>
<rect x="136.85" y="631.33" width="15.21" height="12.72" fill="#2d4e2d"/>
<rect x="151.66" y="631.33" width="15.21" height="12.72" fill="#482f2f"/>
<rect x="166.47" y="631.33" width="15.21" height="12.72" fill="#652828"/>
<rect x="181.27" y="631.33" width="15.21" height="12.72" fill="#ae1515"/>
<rect x="196.08" y="631.33" width="15.21" height="12.72" fill="#343434"/>
<rect x="210.89" y="631.33" width="15.21" height="12.72" fill="#7d2121"/>
<rect x="48" y="643.65" width="15.21" height="12.72" fill="#286528"/>
<rect x="62.81" y="643.65" width="15.21" height="12.72" fill="#09da09"/>
<rect x="77.62" y="643.65" width="15.21" height="12.72" fill="#0cce0c"/>
<rect x="92.42" y="643.65" width="15.21" height="12.72" fill="#542c2c"/>
<rect x="107.23" y="643.65" width="15.21" height="12.72" fill="#ff0000"/>
<rect x="122.04" y="643.65" width="15.21" height="12.72" fill="#8d1d1d"/>
<rect x="136.85" y="643.65" width="15.21" height="12.72" fill="#199e19"/>
<rect x="151.66" y="643.65" width="15.21" height="12.72" fill="#03f403"/>
<rect x="166.47" y="643.65" width="15.21" height="12.72" fill="#03f403"/>
<rect x="181.27" y="643.65" width="15.21" height="12.72" fill="#286528"/>
<rect x="196.08" y="643.65" width="15.21" height="12.72" fill="#542c2c"/>
<rect x="210.89" y="643.65" width="15.21" height="12.72" fill="#286528"/>
<rect x="48" y="655.97" width="15.21" height="12.72" fill="#7d2121"/>
<rect x="62.81" y="655.97" width="15.21" height="12.72" fill="#09da09"/>
<rect x="77.62" y="655.97" width="15.21" height="12.72" fill="#2b572b"/>
<rect x="92.42" y="655.97" width="15.21" height="12.72" fill="#199e19"/>
<rect x="107.23" y="655.97" width="15.21" height="12.72" fill="#ff0000"/>
<rect x="122.04" y="655.97" width="15.21" height="12.72" fill="#7d2121"/>
<rect x="136.85" y="655.97" width="15.21" height="12.72" fill="#03f403"/>
<rect x="151.66" y="655.97" width="15.21" height="12.72" fill="#03f403"/>
<rect x="166.47" y="655.97" width="15.21" height="12.72" fill="#03f403"/>
<rect x="181.27" y="655.97" width="15.21" height="12.72" fill="#1c921c"/>
<rect x="196.08" y="655.97" width="15.21" height="12.72" fill="#199e19"/>
<rect x="210.89" y="655.97" width="15.21" height="12.72" fill="#313e31"/>
<rect x="48" y="668.28" width="15.21" height="12.72" fill="#286528"/>
<rect x="62.81" y="668.28" width="15.21" height="12.72" fill="#02f802"/>
<rect x="77.62" y="668.28" width="15.21" height="12.72" fill="#295f29"/>
<rect x="92.42" y="668.28" width="15.21" height="12.72" fill="#199e19"/>
<rect x="107.23" y="668.28" width="15.21" height="12.72" fill="#ff0000"/>
<rect x="122.04" y="668.28" width="15.21" height="12.72" fill="#851f1f"/>
<rect x="136.85" y="668.28" width="15.21" height="12.72" fill="#0cce0c"/>
<rect x="151.66" y="668.28" width="15.21" height="12.72" fill="#02f802"/>
<rect x="166.47" y="668.28" width="15.21" height="12.72" fill="#09da09"/>
<rect x="181.27" y="668.28" width="15.21" height="12.72" fill="#05ed05"/>
<rect x="196.08" y="668.28" width="15.21" height="12.72" fill="#286528"/>
<rect x="210.89" y="668.28" width="15.21" height="12.72" fill="#09da09"/>
<rect x="48" y="680.6" width="15.21" height="12.72" fill="#ff0000"/>
<rect x="62.81" y="680.6" width="15.21" height="12.72" fill="#0cce0c"/>
<rect x="77.62" y="680.6" width="15.21" height="12.72" fill="#286528"/>
<rect x="92.42" y="680.6" width="15.21" height="12.72" fill="#1c921c"/>
<rect x="107.23" y="680.6" width="15.21" height="12.72" fill="#c21010"/>
<rect x="122.04" y="680.6" width="15.21" height="12.72" fill="#c21010"/>
<rect x="136.85" y="680.6" width="15.21" height="12.72" fill="#343434"/>
<rect x="151.66" y="680.6" width="15.21" height="12.72" fill="#199e19"/>
<rect x="166.47" y="680.6" width="15.21" height="12.72" fill="#0cce0c"/>
<rect x="181.27" y="680.6" width="15.21" height="12.72" fill="#03f403"/>
<rect x="196.08" y="680.6" width="15.21" height="12.72" fill="#0cce0c"/>
<rect x="210.89" y="680.6" width="15.21" height="12.72" fill="#05ed05"/>
<rect x="48" y="692.92" width="15.21" height="12.72" fill="#333833"/>
<rect x="62.81" y="692.92" width="15.21" height="12.72" fill="#1c921c"/>
<rect x="77.62" y="692.92" width="15.21" height="12.72" fill="#09da09"/>
<rect x="92.42" y="692.92" width="15.21" height="12.72" fill="#199e19"/>
<rect x="107.23" y="692.92" width="15.21" height="12.72" fill="#ff0000"/>
<rect x="122.04" y="692.92" width="15.21" height="12.72" fill="#ff0000"/>
<rect x="136.85" y="692.92" width="15.21" height="12.72" fill="#1c921c"/>
<rect x="151.66" y="692.92" width="15.21" height="12.72" fill="#0cce0c"/>
<rect x="166.47" y="692.92" width="15.21" height="12.72" fill="#03f403"/>
<rect x="181.27" y="692.92" width="15.21" height="12.72" fill="#0cce0c"/>
<rect x="196.08" y="692.92" width="15.21" height="12.72" fill="#2b572b"/>
<rect x="210.89" y="692.92" width="15.21" height="12.72" fill="#0cce0c"/>
<rect x="48" y="705.23" width="15.21" height="12.72" fill="#b61313"/>
<rect x="62.81" y="705.23" width="15.21" height="12.72" fill="#286528"/>
<rect x="77.62" y="705.23" width="15.21" height="12.72" fill="#1c921c"/>
<rect x="92.42" y="705.23" width="15.21" height="12.72" fill="#257025"/>
<rect x="107.23" y="705.23" width="15.21" height="12.72" fill="#df0808"/>
<rect x="122.04" y="705.23" width="15.21" height="12.72" fill="#ff0000"/>
<rect x="136.85" y="705.23" width="15.21" height="12.72" fill="#542c2c"/>
<rect x="151.66" y="705.23" width="15.21" height="12.72" fill="#286528"/>
<rect x="166.47" y="705.23" width="15.21" height="12.72" fill="#03f403"/>
<rect x="181.27" y="705.23" width="15.21" height="12.72" fill="#1c921c"/>
<rect x="196.08" y="705.23" width="15.21" height="12.72" fill="#5d2a2a"/>
<rect x="210.89" y="705.23" width="15.21" height="12.72" fill="#09da09"/>
<rect x="48" y="717.55" width="15.21" height="12.72" fill="#482f2f"/>
<rect x="62.81" y="717.55" width="15.21" height="12.72" fill="#00ff00"/>
<rect x="77.62" y="717.55" width="15.21" height="12.72" fill="#0cce0c"/>
<rect x="92.42" y="717.55" width="15.21" height="12.72" fill="#199e19"/>
<rect x="107.23" y="717.55" width="15.21" height="12.72" fill="#ff0000"/>
<rect x="122.04" y="717.55" width="15.21" height="12.72" fill="#ff0000"/>
<rect x="136.85" y="717.55" width="15.21" height="12.72" fill="#295f29"/>
<rect x="151.66" y="717.55" width="15.21" height="12.72" fill="#05ed05"/>
<rect x="166.47" y="717.55" width="15.21" height="12.72" fill="#05ed05"/>
<rect x="181.27" y="717.55" width="15.21" height="12.72" fill="#09da09"/>
<rect x="196.08" y="717.55" width="15.21" height="12.72" fill="#482f2f"/>
<rect x="210.89" y="717.55" width="15.21" height="12.72" fill="#9a1a1a"/>
<rect x="48" y="729.87" width="15.21" height="12.72" fill="#482f2f"/>
<rect x="62.81" y="729.87" width="15.21" height="12.72" fill="#0cce0c"/>
<rect x="77.62" y="729.87" width="15.21" height="12.72" fill="#05ed05"/>
<rect x="92.42" y="729.87" width="15.21" height="12.72" fill="#0cce0c"/>
<rect x="107.23" y="729.87" width="15.21" height="12.72" fill="#652828"/>
<rect x="122.04" y="729.87" width="15.21" height="12.72" fill="#652828"/>
<rect x="136.85" y="729.87" width="15.21" height="12.72" fill="#295f29"/>
<rect x="151.66" y="729.87" width="15.21" height="12.72" fill="#0cce0c"/>
<rect x="166.47" y="729.87" width="15.21" height="12.72" fill="#02f802"/>
<rect x="181.27" y="729.87" width="15.21" height="12.72" fill="#09da09"/>
<rect x="196.08" y="729.87" width="15.21" height="12.72" fill="#2b572b"/>
<rect x="210.89" y="729.87" width="15.21" height="12.72" fill="#ff0000"/>
<rect x="48" y="742.18" width="15.21" height="12.72" fill="#d60a0a"/>
<rect x="62.81" y="742.18" width="15.21" height="12.72" fill="#1c921c"/>
<rect x="77.62" y="742.18" width="15.21" height="12.72" fill="#652828"/>
<rect x="92.42" y="742.18" width="15.21" height="12.72" fill="#333833"/>
<rect x="107.23" y="742.18" width="15.21" height="12.72" fill="#ce0c0c"/>
<rect x="122.04" y="742.18" width="15.21" height="12.72" fill="#b61313"/>
<rect x="136.85" y="742.18" width="15.21" height="12.72" fill="#ff0000"/>
<rect x="151.66" y="742.18" width="15.21" height="12.72" fill="#05ed05"/>
<rect x="166.47" y="742.18" width="15.21" height="12.72" fill="#0cce0c"/>
<rect x="181.27" y="742.18" width="15.21" height="12.72" fill="#03f403"/>
<rect x="196.08" y="742.18" width="15.21" height="12.72" fill="#1c921c"/>
<rect x="210.89" y="742.18" width="15.21" height="12.72" fill="#d60a0a"/>
<rect x="48" y="385" width="177.7" height="369.5" fill="none" stroke="#222" stroke-width="0.8"/>
<line x1="136.85" y1="385.5" x2="136.85" y2="754" stroke="#fff" stroke-width="1.6" stroke-dasharray="3.2 2.2"/>
<text x="43.1" y="395.16" font-size="11.2" text-anchor="end" font-style="italic">Nr1d1</text>
<line x1="44.6" y1="391.16" x2="48" y2="391.16" stroke="#333" stroke-width="0.8"/>
<text x="43.1" y="407.48" font-size="11.2" text-anchor="end" font-style="italic">Rgs16</text>
<line x1="44.6" y1="403.48" x2="48" y2="403.48" stroke="#333" stroke-width="0.8"/>
<text x="43.1" y="419.79" font-size="11.2" text-anchor="end" font-style="italic">Rorb</text>
<line x1="44.6" y1="415.79" x2="48" y2="415.79" stroke="#333" stroke-width="0.8"/>
<text x="43.1" y="432.11" font-size="11.2" text-anchor="end" font-style="italic">Nms</text>
<line x1="44.6" y1="428.11" x2="48" y2="428.11" stroke="#333" stroke-width="0.8"/>
<text x="43.1" y="444.43" font-size="11.2" text-anchor="end" font-style="italic">Rasl11b</text>
<line x1="44.6" y1="440.43" x2="48" y2="440.43" stroke="#333" stroke-width="0.8"/>
<text x="43.1" y="456.74" font-size="11.2" text-anchor="end" font-style="italic">Prok2</text>
<line x1="44.6" y1="452.74" x2="48" y2="452.74" stroke="#333" stroke-width="0.8"/>
<text x="43.1" y="469.06" font-size="11.2" text-anchor="end" font-style="italic">Per1</text>
<line x1="44.6" y1="465.06" x2="48" y2="465.06" stroke="#333" stroke-width="0.8"/>
<text x="43.1" y="481.38" font-size="11.2" text-anchor="end" font-style="italic">Dbp</text>
<line x1="44.6" y1="477.38" x2="48" y2="477.38" stroke="#333" stroke-width="0.8"/>
<text x="43.1" y="493.69" font-size="11.2" text-anchor="end" font-style="italic">Bhlhe40</text>
<line x1="44.6" y1="489.69" x2="48" y2="489.69" stroke="#333" stroke-width="0.8"/>
<text x="43.1" y="506.01" font-size="11.2" text-anchor="end" font-style="italic">Bhlhe41</text>
<line x1="44.6" y1="502.01" x2="48" y2="502.01" stroke="#333" stroke-width="0.8"/>
<text x="43.1" y="518.33" font-size="11.2" text-anchor="end" font-style="italic">Nr1d2</text>
<line x1="44.6" y1="514.33" x2="48" y2="514.33" stroke="#333" stroke-width="0.8"/>
<text x="43.1" y="530.64" font-size="11.2" text-anchor="end" font-style="italic">Nmu</text>
<line x1="44.6" y1="526.64" x2="48" y2="526.64" stroke="#333" stroke-width="0.8"/>
<text x="43.1" y="542.96" font-size="11.2" text-anchor="end" font-style="italic">Rora</text>
<line x1="44.6" y1="538.96" x2="48" y2="538.96" stroke="#333" stroke-width="0.8"/>
<text x="43.1" y="555.27" font-size="11.2" text-anchor="end" font-style="italic">Per3</text>
<line x1="44.6" y1="551.27" x2="48" y2="551.27" stroke="#333" stroke-width="0.8"/>
<text x="43.1" y="567.59" font-size="11.2" text-anchor="end" font-style="italic">Avp</text>
<line x1="44.6" y1="563.59" x2="48" y2="563.59" stroke="#333" stroke-width="0.8"/>
<text x="43.1" y="579.91" font-size="11.2" text-anchor="end" font-style="italic">Per2</text>
<line x1="44.6" y1="575.91" x2="48" y2="575.91" stroke="#333" stroke-width="0.8"/>
<text x="43.1" y="592.23" font-size="11.2" text-anchor="end" font-style="italic">Cry1</text>
<line x1="44.6" y1="588.23" x2="48" y2="588.23" stroke="#333" stroke-width="0.8"/>
<text x="43.1" y="604.54" font-size="11.2" text-anchor="end" font-style="italic">Cry2</text>
<line x1="44.6" y1="600.54" x2="48" y2="600.54" stroke="#333" stroke-width="0.8"/>
<text x="43.1" y="616.86" font-size="11.2" text-anchor="end" font-style="italic">Sstr1</text>
<line x1="44.6" y1="612.86" x2="48" y2="612.86" stroke="#333" stroke-width="0.8"/>
<text x="43.1" y="629.17" font-size="11.2" text-anchor="end" font-style="italic">Vip</text>
<line x1="44.6" y1="625.17" x2="48" y2="625.17" stroke="#333" stroke-width="0.8"/>
<text x="43.1" y="641.49" font-size="11.2" text-anchor="end" font-style="italic">Nmur2</text>
<line x1="44.6" y1="637.49" x2="48" y2="637.49" stroke="#333" stroke-width="0.8"/>
<text x="43.1" y="653.81" font-size="11.2" text-anchor="end" font-style="italic">Bmal1</text>
<line x1="44.6" y1="649.81" x2="48" y2="649.81" stroke="#333" stroke-width="0.8"/>
<text x="43.1" y="666.12" font-size="11.2" text-anchor="end" font-style="italic">Clock</text>
<line x1="44.6" y1="662.12" x2="48" y2="662.12" stroke="#333" stroke-width="0.8"/>
<text x="43.1" y="678.44" font-size="11.2" text-anchor="end" font-style="italic">Gpr176</text>
<line x1="44.6" y1="674.44" x2="48" y2="674.44" stroke="#333" stroke-width="0.8"/>
<text x="43.1" y="690.76" font-size="11.2" text-anchor="end" font-style="italic">Lhx1</text>
<line x1="44.6" y1="686.76" x2="48" y2="686.76" stroke="#333" stroke-width="0.8"/>
<text x="43.1" y="703.08" font-size="11.2" text-anchor="end" font-style="italic">Npas2</text>
<line x1="44.6" y1="699.08" x2="48" y2="699.08" stroke="#333" stroke-width="0.8"/>
<text x="43.1" y="715.39" font-size="11.2" text-anchor="end" font-style="italic">Prokr2</text>
<line x1="44.6" y1="711.39" x2="48" y2="711.39" stroke="#333" stroke-width="0.8"/>
<text x="43.1" y="727.71" font-size="11.2" text-anchor="end" font-style="italic">Avpr1a</text>
<line x1="44.6" y1="723.71" x2="48" y2="723.71" stroke="#333" stroke-width="0.8"/>
<text x="43.1" y="740.02" font-size="11.2" text-anchor="end" font-style="italic">Vipr2</text>
<line x1="44.6" y1="736.02" x2="48" y2="736.02" stroke="#333" stroke-width="0.8"/>
<text x="43.1" y="752.34" font-size="11.2" text-anchor="end" font-style="italic">Mtnr1a</text>
<line x1="44.6" y1="748.34" x2="48" y2="748.34" stroke="#333" stroke-width="0.8"/>
<text x="46.5" y="380.6" font-size="11.6" text-anchor="end">CT</text>
<text x="55.4" y="380.6" font-size="11.2" text-anchor="middle">0</text>
<line x1="55.4" y1="383" x2="55.4" y2="385" stroke="#333" stroke-width="0.7"/>
<text x="70.21" y="380.6" font-size="11.2" text-anchor="middle">4</text>
<line x1="70.21" y1="383" x2="70.21" y2="385" stroke="#333" stroke-width="0.7"/>
<text x="85.02" y="380.6" font-size="11.2" text-anchor="middle">8</text>
<line x1="85.02" y1="383" x2="85.02" y2="385" stroke="#333" stroke-width="0.7"/>
<text x="99.83" y="380.6" font-size="11.2" text-anchor="middle">12</text>
<line x1="99.83" y1="383" x2="99.83" y2="385" stroke="#333" stroke-width="0.7"/>
<text x="114.64" y="380.6" font-size="11.2" text-anchor="middle">16</text>
<line x1="114.64" y1="383" x2="114.64" y2="385" stroke="#333" stroke-width="0.7"/>
<text x="129.45" y="380.6" font-size="11.2" text-anchor="middle">20</text>
<line x1="129.45" y1="383" x2="129.45" y2="385" stroke="#333" stroke-width="0.7"/>
<text x="144.25" y="380.6" font-size="11.2" text-anchor="middle">0</text>
<line x1="144.25" y1="383" x2="144.25" y2="385" stroke="#333" stroke-width="0.7"/>
<text x="159.06" y="380.6" font-size="11.2" text-anchor="middle">4</text>
<line x1="159.06" y1="383" x2="159.06" y2="385" stroke="#333" stroke-width="0.7"/>
<text x="173.87" y="380.6" font-size="11.2" text-anchor="middle">8</text>
<line x1="173.87" y1="383" x2="173.87" y2="385" stroke="#333" stroke-width="0.7"/>
<text x="188.68" y="380.6" font-size="11.2" text-anchor="middle">12</text>
<line x1="188.68" y1="383" x2="188.68" y2="385" stroke="#333" stroke-width="0.7"/>
<text x="203.49" y="380.6" font-size="11.2" text-anchor="middle">16</text>
<line x1="203.49" y1="383" x2="203.49" y2="385" stroke="#333" stroke-width="0.7"/>
<text x="218.3" y="380.6" font-size="11.2" text-anchor="middle">20</text>
<line x1="218.3" y1="383" x2="218.3" y2="385" stroke="#333" stroke-width="0.7"/>
<line x1="49.3" y1="367.4" x2="135.3" y2="367.4" stroke="#231f20" stroke-width="1"/>
<line x1="138" y1="367.4" x2="223.8" y2="367.4" stroke="#d7282d" stroke-width="1"/>
<text x="92.3" y="363.8" font-size="12.9" text-anchor="middle" fill="#231f20"><tspan font-style="italic">Gpr19</tspan> +/+</text>
<text x="181" y="363.8" font-size="12.9" text-anchor="middle" fill="#d7282d"><tspan font-style="italic">Gpr19</tspan> –/–</text>
<path d="M225.7 391.16H229.6V403.48H225.7M229.6 397.32H230.5V415.79H225.7M230.5 406.55H233.8V428.11H225.7M225.7 440.43H228.6V452.74H225.7M233.8 417.33H235.1V446.58H228.6M225.7 465.06H228.5V477.38H225.7M228.5 471.22H230.5V489.69H225.7M225.7 502.01H229V514.33H225.7M230.5 480.45H230.8V508.17H229M235.1 431.96H237.6V494.31H230.8M225.7 563.59H229.3V575.91H225.7M225.7 551.27H231.3V569.75H229.3M225.7 538.96H232.2V560.51H231.3M225.7 526.64H235.6V549.74H232.2M225.7 588.23H232.6V600.54H225.7M232.6 594.38H235.6V612.86H225.7M225.7 625.17H232.6V637.49H225.7M235.6 603.62H236.7V631.33H232.6M235.6 538.19H245.5V617.48H236.7M237.6 463.13H254.4V577.83H245.5M225.7 662.12H230.3V674.44H225.7M225.7 649.81H231V668.28H230.3M225.7 699.08H229.6V711.39H225.7M225.7 686.76H230.9V705.23H229.6M231 659.05H234.1V696H230.9M225.7 723.71H230.4V736.02H225.7M230.4 729.87H234.9V748.34H225.7M234.1 677.52H238.2V739.1H234.9M254.4 520.48H267.6V708.31H238.2" stroke="#333" stroke-width="0.9" fill="none"/>
<defs><linearGradient id="cb" x1="0" x2="1" y1="0" y2="0"><stop offset="0" stop-color="#02f702"/><stop offset="0.5" stop-color="#343434"/><stop offset="1" stop-color="#f30303"/></linearGradient></defs>
<rect x="130.4" y="772.3" width="86" height="12" fill="url(#cb)" stroke="#444" stroke-width="0.6"/>
<line x1="130.4" y1="771.2" x2="216.4" y2="771.2" stroke="#555" stroke-width="0.8"/>
<line x1="130.4" y1="769.4" x2="130.4" y2="772" stroke="#555" stroke-width="0.8"/>
<line x1="151.9" y1="769.4" x2="151.9" y2="772" stroke="#555" stroke-width="0.8"/>
<line x1="173.4" y1="769.4" x2="173.4" y2="772" stroke="#555" stroke-width="0.8"/>
<line x1="194.9" y1="769.4" x2="194.9" y2="772" stroke="#555" stroke-width="0.8"/>
<line x1="216.4" y1="769.4" x2="216.4" y2="772" stroke="#555" stroke-width="0.8"/>
<text x="130.8" y="767.4" font-size="11.5" text-anchor="middle">0</text>
<text x="173.5" y="767.4" font-size="11.5" text-anchor="middle">0.5</text>
<text x="216.4" y="767.4" font-size="11.5" text-anchor="middle">1</text>
<text x="273.3" y="360.5" font-size="19.3" fill="#000" font-weight="bold">E</text>
<text x="322.3" y="374.34" font-size="12.6" fill="#111" font-style="italic">Per2</text>
<line x1="317.8" y1="374.64" x2="317.8" y2="436.5" stroke="#8a8a8a" stroke-width="1"/>
<line x1="316.1" y1="436" x2="317.8" y2="436" stroke="#8a8a8a" stroke-width="0.8"/>
<line x1="316.1" y1="427.24" x2="317.8" y2="427.24" stroke="#8a8a8a" stroke-width="0.8"/>
<line x1="316.1" y1="418.47" x2="317.8" y2="418.47" stroke="#8a8a8a" stroke-width="0.8"/>
<line x1="316.1" y1="409.7" x2="317.8" y2="409.7" stroke="#8a8a8a" stroke-width="0.8"/>
<line x1="316.1" y1="400.94" x2="317.8" y2="400.94" stroke="#8a8a8a" stroke-width="0.8"/>
<line x1="316.1" y1="392.18" x2="317.8" y2="392.18" stroke="#8a8a8a" stroke-width="0.8"/>
<line x1="316.1" y1="383.41" x2="317.8" y2="383.41" stroke="#8a8a8a" stroke-width="0.8"/>
<line x1="316.1" y1="374.64" x2="317.8" y2="374.64" stroke="#8a8a8a" stroke-width="0.8"/>
<line x1="315.3" y1="436" x2="317.8" y2="436" stroke="#777" stroke-width="0.9"/>
<text x="314.6" y="439.9" font-size="11" text-anchor="end" fill="#111">0</text>
<line x1="315.3" y1="418.47" x2="317.8" y2="418.47" stroke="#777" stroke-width="0.9"/>
<text x="314.6" y="422.37" font-size="11" text-anchor="end" fill="#111">0.1</text>
<line x1="315.3" y1="400.94" x2="317.8" y2="400.94" stroke="#777" stroke-width="0.9"/>
<text x="314.6" y="404.84" font-size="11" text-anchor="end" fill="#111">0.2</text>
<line x1="315.3" y1="383.41" x2="317.8" y2="383.41" stroke="#777" stroke-width="0.9"/>
<text x="314.6" y="387.31" font-size="11" text-anchor="end" fill="#111">0.3</text>
<rect x="317.8" y="435.9" width="4.3" height="2.8" fill="#000"/>
<rect x="322.1" y="435.9" width="25.5" height="2.8" fill="#9a9a9a"/>
<rect x="347.6" y="435.9" width="25.5" height="2.8" fill="#000"/>
<rect x="373.1" y="435.9" width="25.5" height="2.8" fill="#9a9a9a"/>
<rect x="398.6" y="435.9" width="21.2" height="2.8" fill="#000"/>
<text x="321.7" y="449.4" font-size="11" text-anchor="middle" fill="#111">0</text>
<text x="347.2" y="449.4" font-size="11" text-anchor="middle" fill="#111">12</text>
<text x="372.7" y="449.4" font-size="11" text-anchor="middle" fill="#111">0</text>
<text x="398.2" y="449.4" font-size="11" text-anchor="middle" fill="#111">12</text>
<path d="M330.2 401.64V399.89M328.2 399.89h4" stroke="#1a1a1a" stroke-width="0.95" fill="none"/>
<path d="M347.2 390.42V382.53M345.2 382.53h4" stroke="#1a1a1a" stroke-width="0.95" fill="none"/>
<path d="M381.2 401.64V399.89M379.2 399.89h4" stroke="#1a1a1a" stroke-width="0.95" fill="none"/>
<path d="M398.2 390.42V382.53M396.2 382.53h4" stroke="#1a1a1a" stroke-width="0.95" fill="none"/>
<path d="M321.7 424.61 L330.2 401.64 L338.7 387.27 L347.2 390.42 L355.7 420.22 L364.2 428.46 L372.7 424.61 L381.2 401.64 L389.7 387.27 L398.2 390.42 L406.7 420.22 L415.2 428.46" stroke="#000" stroke-width="2" fill="none" stroke-linejoin="round"/>
<path d="M330.2 409.35V407.95M328.2 407.95h4" stroke="#1a1a1a" stroke-width="0.95" fill="none"/>
<path d="M338.7 396.56V395.16M336.7 395.16h4" stroke="#1a1a1a" stroke-width="0.95" fill="none"/>
<path d="M347.2 390.07V388.32M345.2 388.32h4" stroke="#1a1a1a" stroke-width="0.95" fill="none"/>
<path d="M381.2 409.35V407.95M379.2 407.95h4" stroke="#1a1a1a" stroke-width="0.95" fill="none"/>
<path d="M389.7 396.56V395.16M387.7 395.16h4" stroke="#1a1a1a" stroke-width="0.95" fill="none"/>
<path d="M398.2 390.07V388.32M396.2 388.32h4" stroke="#1a1a1a" stroke-width="0.95" fill="none"/>
<path d="M321.7 426.01 L330.2 409.35 L338.7 396.56 L347.2 390.07 L355.7 420.75 L364.2 429.34 L372.7 426.01 L381.2 409.35 L389.7 396.56 L398.2 390.07 L406.7 420.75 L415.2 429.34" stroke="#e3001b" stroke-width="2" fill="none" stroke-linejoin="round"/>
<text x="454.1" y="374.16" font-size="12.6" fill="#111" font-style="italic">Nmu</text>
<line x1="449.6" y1="374.46" x2="449.6" y2="436.5" stroke="#8a8a8a" stroke-width="1"/>
<line x1="447.9" y1="436" x2="449.6" y2="436" stroke="#8a8a8a" stroke-width="0.8"/>
<line x1="447.9" y1="422.32" x2="449.6" y2="422.32" stroke="#8a8a8a" stroke-width="0.8"/>
<line x1="447.9" y1="408.65" x2="449.6" y2="408.65" stroke="#8a8a8a" stroke-width="0.8"/>
<line x1="447.9" y1="394.98" x2="449.6" y2="394.98" stroke="#8a8a8a" stroke-width="0.8"/>
<line x1="447.9" y1="381.3" x2="449.6" y2="381.3" stroke="#8a8a8a" stroke-width="0.8"/>
<line x1="447.1" y1="436" x2="449.6" y2="436" stroke="#777" stroke-width="0.9"/>
<text x="446.4" y="439.9" font-size="11" text-anchor="end" fill="#111">0</text>
<line x1="447.1" y1="408.65" x2="449.6" y2="408.65" stroke="#777" stroke-width="0.9"/>
<text x="446.4" y="412.55" font-size="11" text-anchor="end" fill="#111">0.02</text>
<line x1="447.1" y1="381.3" x2="449.6" y2="381.3" stroke="#777" stroke-width="0.9"/>
<text x="446.4" y="385.2" font-size="11" text-anchor="end" fill="#111">0.04</text>
<rect x="449.6" y="435.9" width="3.9" height="2.8" fill="#000"/>
<rect x="453.5" y="435.9" width="25.5" height="2.8" fill="#9a9a9a"/>
<rect x="479" y="435.9" width="25.5" height="2.8" fill="#000"/>
<rect x="504.5" y="435.9" width="25.5" height="2.8" fill="#9a9a9a"/>
<rect x="530" y="435.9" width="21.6" height="2.8" fill="#000"/>
<text x="453.1" y="449.4" font-size="11" text-anchor="middle" fill="#111">0</text>
<text x="478.6" y="449.4" font-size="11" text-anchor="middle" fill="#111">12</text>
<text x="504.1" y="449.4" font-size="11" text-anchor="middle" fill="#111">0</text>
<text x="529.6" y="449.4" font-size="11" text-anchor="middle" fill="#111">12</text>
<path d="M461.6 423.69V422.05M459.6 422.05h4" stroke="#1a1a1a" stroke-width="0.95" fill="none"/>
<path d="M470.1 408.92V406.19M468.1 406.19h4" stroke="#1a1a1a" stroke-width="0.95" fill="none"/>
<path d="M487.1 429.3V427.93M485.1 427.93h4" stroke="#1a1a1a" stroke-width="0.95" fill="none"/>
<path d="M512.6 423.69V422.05M510.6 422.05h4" stroke="#1a1a1a" stroke-width="0.95" fill="none"/>
<path d="M521.1 408.92V406.19M519.1 406.19h4" stroke="#1a1a1a" stroke-width="0.95" fill="none"/>
<path d="M538.1 429.3V427.93M536.1 427.93h4" stroke="#1a1a1a" stroke-width="0.95" fill="none"/>
<path d="M453.1 432.44 L461.6 423.69 L470.1 408.92 L478.6 424.65 L487.1 429.3 L495.6 432.99 L504.1 432.44 L512.6 423.69 L521.1 408.92 L529.6 424.65 L538.1 429.3 L546.6 432.99" stroke="#000" stroke-width="2" fill="none" stroke-linejoin="round"/>
<path d="M453.1 424.24V422.87M451.1 422.87h4" stroke="#1a1a1a" stroke-width="0.95" fill="none"/>
<path d="M461.6 400.72V393.88M459.6 393.88h4" stroke="#1a1a1a" stroke-width="0.95" fill="none"/>
<path d="M470.1 382.94V380.89M468.1 380.89h4" stroke="#1a1a1a" stroke-width="0.95" fill="none"/>
<path d="M478.6 390.87V380.62M476.6 380.62h4" stroke="#1a1a1a" stroke-width="0.95" fill="none"/>
<path d="M487.1 424.24V422.6M485.1 422.6h4" stroke="#1a1a1a" stroke-width="0.95" fill="none"/>
<path d="M495.6 426.15V422.74M493.6 422.74h4" stroke="#1a1a1a" stroke-width="0.95" fill="none"/>
<path d="M504.1 424.24V422.87M502.1 422.87h4" stroke="#1a1a1a" stroke-width="0.95" fill="none"/>
<path d="M512.6 400.72V393.88M510.6 393.88h4" stroke="#1a1a1a" stroke-width="0.95" fill="none"/>
<path d="M521.1 382.94V380.89M519.1 380.89h4" stroke="#1a1a1a" stroke-width="0.95" fill="none"/>
<path d="M529.6 390.87V380.62M527.6 380.62h4" stroke="#1a1a1a" stroke-width="0.95" fill="none"/>
<path d="M538.1 424.24V422.6M536.1 422.6h4" stroke="#1a1a1a" stroke-width="0.95" fill="none"/>
<path d="M546.6 426.15V422.74M544.6 422.74h4" stroke="#1a1a1a" stroke-width="0.95" fill="none"/>
<path d="M453.1 424.24 L461.6 400.72 L470.1 382.94 L478.6 390.87 L487.1 424.24 L495.6 426.15 L504.1 424.24 L512.6 400.72 L521.1 382.94 L529.6 390.87 L538.1 424.24 L546.6 426.15" stroke="#e3001b" stroke-width="2" fill="none" stroke-linejoin="round"/>
<text x="322.3" y="480.35" font-size="12.6" fill="#111" font-style="italic">Sstr1</text>
<line x1="317.8" y1="480.65" x2="317.8" y2="542.9" stroke="#8a8a8a" stroke-width="1"/>
<line x1="316.1" y1="542.4" x2="317.8" y2="542.4" stroke="#8a8a8a" stroke-width="0.8"/>
<line x1="316.1" y1="536.23" x2="317.8" y2="536.23" stroke="#8a8a8a" stroke-width="0.8"/>
<line x1="316.1" y1="530.05" x2="317.8" y2="530.05" stroke="#8a8a8a" stroke-width="0.8"/>
<line x1="316.1" y1="523.88" x2="317.8" y2="523.88" stroke="#8a8a8a" stroke-width="0.8"/>
<line x1="316.1" y1="517.7" x2="317.8" y2="517.7" stroke="#8a8a8a" stroke-width="0.8"/>
<line x1="316.1" y1="511.52" x2="317.8" y2="511.52" stroke="#8a8a8a" stroke-width="0.8"/>
<line x1="316.1" y1="505.35" x2="317.8" y2="505.35" stroke="#8a8a8a" stroke-width="0.8"/>
<line x1="316.1" y1="499.17" x2="317.8" y2="499.17" stroke="#8a8a8a" stroke-width="0.8"/>
<line x1="316.1" y1="493" x2="317.8" y2="493" stroke="#8a8a8a" stroke-width="0.8"/>
<line x1="316.1" y1="486.82" x2="317.8" y2="486.82" stroke="#8a8a8a" stroke-width="0.8"/>
<line x1="316.1" y1="480.65" x2="317.8" y2="480.65" stroke="#8a8a8a" stroke-width="0.8"/>
<line x1="315.3" y1="542.4" x2="317.8" y2="542.4" stroke="#777" stroke-width="0.9"/>
<text x="314.6" y="546.3" font-size="11" text-anchor="end" fill="#111">0</text>
<line x1="315.3" y1="517.7" x2="317.8" y2="517.7" stroke="#777" stroke-width="0.9"/>
<text x="314.6" y="521.6" font-size="11" text-anchor="end" fill="#111">0.02</text>
<line x1="315.3" y1="493" x2="317.8" y2="493" stroke="#777" stroke-width="0.9"/>
<text x="314.6" y="496.9" font-size="11" text-anchor="end" fill="#111">0.04</text>
<rect x="317.8" y="542.3" width="4.3" height="2.8" fill="#000"/>
<rect x="322.1" y="542.3" width="25.5" height="2.8" fill="#9a9a9a"/>
<rect x="347.6" y="542.3" width="25.5" height="2.8" fill="#000"/>
<rect x="373.1" y="542.3" width="25.5" height="2.8" fill="#9a9a9a"/>
<rect x="398.6" y="542.3" width="21.2" height="2.8" fill="#000"/>
<text x="321.7" y="555.8" font-size="11" text-anchor="middle" fill="#111">0</text>
<text x="347.2" y="555.8" font-size="11" text-anchor="middle" fill="#111">12</text>
<text x="372.7" y="555.8" font-size="11" text-anchor="middle" fill="#111">0</text>
<text x="398.2" y="555.8" font-size="11" text-anchor="middle" fill="#111">12</text>
<path d="M321.7 519.06V517.82M319.7 517.82h4" stroke="#1a1a1a" stroke-width="0.95" fill="none"/>
<path d="M330.2 519.31V518.07M328.2 518.07h4" stroke="#1a1a1a" stroke-width="0.95" fill="none"/>
<path d="M338.7 497.08V495.22M336.7 495.22h4" stroke="#1a1a1a" stroke-width="0.95" fill="none"/>
<path d="M347.2 490.53V488.68M345.2 488.68h4" stroke="#1a1a1a" stroke-width="0.95" fill="none"/>
<path d="M355.7 492.63V491.39M353.7 491.39h4" stroke="#1a1a1a" stroke-width="0.95" fill="none"/>
<path d="M364.2 500.66V498.8M362.2 498.8h4" stroke="#1a1a1a" stroke-width="0.95" fill="none"/>
<path d="M372.7 519.06V517.82M370.7 517.82h4" stroke="#1a1a1a" stroke-width="0.95" fill="none"/>
<path d="M381.2 519.31V518.07M379.2 518.07h4" stroke="#1a1a1a" stroke-width="0.95" fill="none"/>
<path d="M389.7 497.08V495.22M387.7 495.22h4" stroke="#1a1a1a" stroke-width="0.95" fill="none"/>
<path d="M398.2 490.53V488.68M396.2 488.68h4" stroke="#1a1a1a" stroke-width="0.95" fill="none"/>
<path d="M406.7 492.63V491.39M404.7 491.39h4" stroke="#1a1a1a" stroke-width="0.95" fill="none"/>
<path d="M415.2 500.66V498.8M413.2 498.8h4" stroke="#1a1a1a" stroke-width="0.95" fill="none"/>
<path d="M321.7 519.06 L330.2 519.31 L338.7 497.08 L347.2 490.53 L355.7 492.63 L364.2 500.66 L372.7 519.06 L381.2 519.31 L389.7 497.08 L398.2 490.53 L406.7 492.63 L415.2 500.66" stroke="#000" stroke-width="2" fill="none" stroke-linejoin="round"/>
<path d="M321.7 513.01V509.3M319.7 509.3h4" stroke="#1a1a1a" stroke-width="0.95" fill="none"/>
<path d="M330.2 522.64V521.4M328.2 521.4h4" stroke="#1a1a1a" stroke-width="0.95" fill="none"/>
<path d="M338.7 512.39V510.54M336.7 510.54h4" stroke="#1a1a1a" stroke-width="0.95" fill="none"/>
<path d="M347.2 517.08V511.52M345.2 511.52h4" stroke="#1a1a1a" stroke-width="0.95" fill="none"/>
<path d="M355.7 511.4V506.46M353.7 506.46h4" stroke="#1a1a1a" stroke-width="0.95" fill="none"/>
<path d="M364.2 520.05V518.81M362.2 518.81h4" stroke="#1a1a1a" stroke-width="0.95" fill="none"/>
<path d="M372.7 513.01V509.3M370.7 509.3h4" stroke="#1a1a1a" stroke-width="0.95" fill="none"/>
<path d="M381.2 522.64V521.4M379.2 521.4h4" stroke="#1a1a1a" stroke-width="0.95" fill="none"/>
<path d="M389.7 512.39V510.54M387.7 510.54h4" stroke="#1a1a1a" stroke-width="0.95" fill="none"/>
<path d="M398.2 517.08V511.52M396.2 511.52h4" stroke="#1a1a1a" stroke-width="0.95" fill="none"/>
<path d="M406.7 511.4V506.46M404.7 506.46h4" stroke="#1a1a1a" stroke-width="0.95" fill="none"/>
<path d="M415.2 520.05V518.81M413.2 518.81h4" stroke="#1a1a1a" stroke-width="0.95" fill="none"/>
<path d="M321.7 513.01 L330.2 522.64 L338.7 512.39 L347.2 517.08 L355.7 511.4 L364.2 520.05 L372.7 513.01 L381.2 522.64 L389.7 512.39 L398.2 517.08 L406.7 511.4 L415.2 520.05" stroke="#e3001b" stroke-width="2" fill="none" stroke-linejoin="round"/>
<text x="454.1" y="480.9" font-size="12.6" fill="#111" font-style="italic">Vip</text>
<line x1="449.6" y1="481.2" x2="449.6" y2="542.9" stroke="#8a8a8a" stroke-width="1"/>
<line x1="447.9" y1="542.4" x2="449.6" y2="542.4" stroke="#8a8a8a" stroke-width="0.8"/>
<line x1="447.9" y1="532.2" x2="449.6" y2="532.2" stroke="#8a8a8a" stroke-width="0.8"/>
<line x1="447.9" y1="522" x2="449.6" y2="522" stroke="#8a8a8a" stroke-width="0.8"/>
<line x1="447.9" y1="511.8" x2="449.6" y2="511.8" stroke="#8a8a8a" stroke-width="0.8"/>
<line x1="447.9" y1="501.6" x2="449.6" y2="501.6" stroke="#8a8a8a" stroke-width="0.8"/>
<line x1="447.9" y1="491.4" x2="449.6" y2="491.4" stroke="#8a8a8a" stroke-width="0.8"/>
<line x1="447.9" y1="481.2" x2="449.6" y2="481.2" stroke="#8a8a8a" stroke-width="0.8"/>
<line x1="447.1" y1="542.4" x2="449.6" y2="542.4" stroke="#777" stroke-width="0.9"/>
<text x="446.4" y="546.3" font-size="11" text-anchor="end" fill="#111">0</text>
<line x1="447.1" y1="522" x2="449.6" y2="522" stroke="#777" stroke-width="0.9"/>
<text x="446.4" y="525.9" font-size="11" text-anchor="end" fill="#111">2</text>
<line x1="447.1" y1="501.6" x2="449.6" y2="501.6" stroke="#777" stroke-width="0.9"/>
<text x="446.4" y="505.5" font-size="11" text-anchor="end" fill="#111">4</text>
<line x1="447.1" y1="481.2" x2="449.6" y2="481.2" stroke="#777" stroke-width="0.9"/>
<text x="446.4" y="485.1" font-size="11" text-anchor="end" fill="#111">6</text>
<rect x="449.6" y="542.3" width="3.9" height="2.8" fill="#000"/>
<rect x="453.5" y="542.3" width="25.5" height="2.8" fill="#9a9a9a"/>
<rect x="479" y="542.3" width="25.5" height="2.8" fill="#000"/>
<rect x="504.5" y="542.3" width="25.5" height="2.8" fill="#9a9a9a"/>
<rect x="530" y="542.3" width="21.6" height="2.8" fill="#000"/>
<text x="453.1" y="555.8" font-size="11" text-anchor="middle" fill="#111">0</text>
<text x="478.6" y="555.8" font-size="11" text-anchor="middle" fill="#111">12</text>
<text x="504.1" y="555.8" font-size="11" text-anchor="middle" fill="#111">0</text>
<text x="529.6" y="555.8" font-size="11" text-anchor="middle" fill="#111">12</text>
<path d="M470.1 507.62V497.42M468.1 497.42h4" stroke="#1a1a1a" stroke-width="0.95" fill="none"/>
<path d="M487.1 502.11V495.99M485.1 495.99h4" stroke="#1a1a1a" stroke-width="0.95" fill="none"/>
<path d="M495.6 509.76V507.72M493.6 507.72h4" stroke="#1a1a1a" stroke-width="0.95" fill="none"/>
<path d="M521.1 507.62V497.42M519.1 497.42h4" stroke="#1a1a1a" stroke-width="0.95" fill="none"/>
<path d="M538.1 502.11V495.99M536.1 495.99h4" stroke="#1a1a1a" stroke-width="0.95" fill="none"/>
<path d="M546.6 509.76V507.72M544.6 507.72h4" stroke="#1a1a1a" stroke-width="0.95" fill="none"/>
<path d="M453.1 513.84 L461.6 517.82 L470.1 507.62 L478.6 498.44 L487.1 502.11 L495.6 509.76 L504.1 513.84 L512.6 517.82 L521.1 507.62 L529.6 498.44 L538.1 502.11 L546.6 509.76" stroke="#000" stroke-width="2" fill="none" stroke-linejoin="round"/>
<path d="M470.1 506.7V504.66M468.1 504.66h4" stroke="#1a1a1a" stroke-width="0.95" fill="none"/>
<path d="M487.1 506.19V504.15M485.1 504.15h4" stroke="#1a1a1a" stroke-width="0.95" fill="none"/>
<path d="M495.6 504.46V490.69M493.6 490.69h4" stroke="#1a1a1a" stroke-width="0.95" fill="none"/>
<path d="M521.1 506.7V504.66M519.1 504.66h4" stroke="#1a1a1a" stroke-width="0.95" fill="none"/>
<path d="M538.1 506.19V504.15M536.1 504.15h4" stroke="#1a1a1a" stroke-width="0.95" fill="none"/>
<path d="M546.6 504.46V490.69M544.6 490.69h4" stroke="#1a1a1a" stroke-width="0.95" fill="none"/>
<path d="M453.1 507.62 L461.6 508.23 L470.1 506.7 L478.6 511.09 L487.1 506.19 L495.6 504.46 L504.1 507.62 L512.6 508.23 L521.1 506.7 L529.6 511.09 L538.1 506.19 L546.6 504.46" stroke="#e3001b" stroke-width="2" fill="none" stroke-linejoin="round"/>
<text x="586.3" y="479.85" font-size="12.6" fill="#111" font-style="italic">Nmur2</text>
<line x1="581.8" y1="480.15" x2="581.8" y2="542.9" stroke="#8a8a8a" stroke-width="1"/>
<line x1="580.1" y1="542.4" x2="581.8" y2="542.4" stroke="#8a8a8a" stroke-width="0.8"/>
<line x1="580.1" y1="536.17" x2="581.8" y2="536.17" stroke="#8a8a8a" stroke-width="0.8"/>
<line x1="580.1" y1="529.95" x2="581.8" y2="529.95" stroke="#8a8a8a" stroke-width="0.8"/>
<line x1="580.1" y1="523.73" x2="581.8" y2="523.73" stroke="#8a8a8a" stroke-width="0.8"/>
<line x1="580.1" y1="517.5" x2="581.8" y2="517.5" stroke="#8a8a8a" stroke-width="0.8"/>
<line x1="580.1" y1="511.27" x2="581.8" y2="511.27" stroke="#8a8a8a" stroke-width="0.8"/>
<line x1="580.1" y1="505.05" x2="581.8" y2="505.05" stroke="#8a8a8a" stroke-width="0.8"/>
<line x1="580.1" y1="498.82" x2="581.8" y2="498.82" stroke="#8a8a8a" stroke-width="0.8"/>
<line x1="580.1" y1="492.6" x2="581.8" y2="492.6" stroke="#8a8a8a" stroke-width="0.8"/>
<line x1="580.1" y1="486.38" x2="581.8" y2="486.38" stroke="#8a8a8a" stroke-width="0.8"/>
<line x1="580.1" y1="480.15" x2="581.8" y2="480.15" stroke="#8a8a8a" stroke-width="0.8"/>
<line x1="579.3" y1="542.4" x2="581.8" y2="542.4" stroke="#777" stroke-width="0.9"/>
<text x="578.6" y="546.3" font-size="11" text-anchor="end" fill="#111">0</text>
<line x1="579.3" y1="517.5" x2="581.8" y2="517.5" stroke="#777" stroke-width="0.9"/>
<text x="578.6" y="521.4" font-size="11" text-anchor="end" fill="#111">0.01</text>
<line x1="579.3" y1="492.6" x2="581.8" y2="492.6" stroke="#777" stroke-width="0.9"/>
<text x="578.6" y="496.5" font-size="11" text-anchor="end" fill="#111">0.02</text>
<rect x="581.8" y="542.3" width="4.5" height="2.8" fill="#000"/>
<rect x="586.3" y="542.3" width="25.5" height="2.8" fill="#9a9a9a"/>
<rect x="611.8" y="542.3" width="25.5" height="2.8" fill="#000"/>
<rect x="637.3" y="542.3" width="25.5" height="2.8" fill="#9a9a9a"/>
<rect x="662.8" y="542.3" width="21" height="2.8" fill="#000"/>
<text x="585.9" y="555.8" font-size="11" text-anchor="middle" fill="#111">0</text>
<text x="611.4" y="555.8" font-size="11" text-anchor="middle" fill="#111">12</text>
<text x="636.9" y="555.8" font-size="11" text-anchor="middle" fill="#111">0</text>
<text x="662.4" y="555.8" font-size="11" text-anchor="middle" fill="#111">12</text>
<path d="M585.9 521.98V520.74M583.9 520.74h4" stroke="#1a1a1a" stroke-width="0.95" fill="none"/>
<path d="M602.9 515.26V513.02M600.9 513.02h4" stroke="#1a1a1a" stroke-width="0.95" fill="none"/>
<path d="M611.4 520.49V519.24M609.4 519.24h4" stroke="#1a1a1a" stroke-width="0.95" fill="none"/>
<path d="M619.9 499.32V494.34M617.9 494.34h4" stroke="#1a1a1a" stroke-width="0.95" fill="none"/>
<path d="M628.4 513.02V510.78M626.4 510.78h4" stroke="#1a1a1a" stroke-width="0.95" fill="none"/>
<path d="M636.9 521.98V520.74M634.9 520.74h4" stroke="#1a1a1a" stroke-width="0.95" fill="none"/>
<path d="M653.9 515.26V513.02M651.9 513.02h4" stroke="#1a1a1a" stroke-width="0.95" fill="none"/>
<path d="M662.4 520.49V519.24M660.4 519.24h4" stroke="#1a1a1a" stroke-width="0.95" fill="none"/>
<path d="M670.9 499.32V494.34M668.9 494.34h4" stroke="#1a1a1a" stroke-width="0.95" fill="none"/>
<path d="M679.4 513.02V510.78M677.4 510.78h4" stroke="#1a1a1a" stroke-width="0.95" fill="none"/>
<path d="M585.9 521.98 L594.4 530.2 L602.9 515.26 L611.4 520.49 L619.9 499.32 L628.4 513.02 L636.9 521.98 L645.4 530.2 L653.9 515.26 L662.4 520.49 L670.9 499.32 L679.4 513.02" stroke="#000" stroke-width="2" fill="none" stroke-linejoin="round"/>
<path d="M585.9 515.76V508.29M583.9 508.29h4" stroke="#1a1a1a" stroke-width="0.95" fill="none"/>
<path d="M594.4 513.76V512.52M592.4 512.52h4" stroke="#1a1a1a" stroke-width="0.95" fill="none"/>
<path d="M602.9 510.78V503.31M600.9 503.31h4" stroke="#1a1a1a" stroke-width="0.95" fill="none"/>
<path d="M611.4 507.04V502.56M609.4 502.56h4" stroke="#1a1a1a" stroke-width="0.95" fill="none"/>
<path d="M619.9 514.76V512.77M617.9 512.77h4" stroke="#1a1a1a" stroke-width="0.95" fill="none"/>
<path d="M636.9 515.76V508.29M634.9 508.29h4" stroke="#1a1a1a" stroke-width="0.95" fill="none"/>
<path d="M645.4 513.76V512.52M643.4 512.52h4" stroke="#1a1a1a" stroke-width="0.95" fill="none"/>
<path d="M653.9 510.78V503.31M651.9 503.31h4" stroke="#1a1a1a" stroke-width="0.95" fill="none"/>
<path d="M662.4 507.04V502.56M660.4 502.56h4" stroke="#1a1a1a" stroke-width="0.95" fill="none"/>
<path d="M670.9 514.76V512.77M668.9 512.77h4" stroke="#1a1a1a" stroke-width="0.95" fill="none"/>
<path d="M585.9 515.76 L594.4 513.76 L602.9 510.78 L611.4 507.04 L619.9 514.76 L628.4 509.78 L636.9 515.76 L645.4 513.76 L653.9 510.78 L662.4 507.04 L670.9 514.76 L679.4 509.78" stroke="#e3001b" stroke-width="2" fill="none" stroke-linejoin="round"/>
<text x="322.3" y="589.3" font-size="12.6" fill="#111" font-style="italic">Bmal1</text>
<line x1="317.8" y1="589.6" x2="317.8" y2="650.1" stroke="#8a8a8a" stroke-width="1"/>
<line x1="316.1" y1="649.6" x2="317.8" y2="649.6" stroke="#8a8a8a" stroke-width="0.8"/>
<line x1="316.1" y1="637.6" x2="317.8" y2="637.6" stroke="#8a8a8a" stroke-width="0.8"/>
<line x1="316.1" y1="625.6" x2="317.8" y2="625.6" stroke="#8a8a8a" stroke-width="0.8"/>
<line x1="316.1" y1="613.6" x2="317.8" y2="613.6" stroke="#8a8a8a" stroke-width="0.8"/>
<line x1="316.1" y1="601.6" x2="317.8" y2="601.6" stroke="#8a8a8a" stroke-width="0.8"/>
<line x1="316.1" y1="589.6" x2="317.8" y2="589.6" stroke="#8a8a8a" stroke-width="0.8"/>
<line x1="315.3" y1="649.6" x2="317.8" y2="649.6" stroke="#777" stroke-width="0.9"/>
<text x="314.6" y="653.5" font-size="11" text-anchor="end" fill="#111">0</text>
<line x1="315.3" y1="625.6" x2="317.8" y2="625.6" stroke="#777" stroke-width="0.9"/>
<text x="314.6" y="629.5" font-size="11" text-anchor="end" fill="#111">0.1</text>
<line x1="315.3" y1="601.6" x2="317.8" y2="601.6" stroke="#777" stroke-width="0.9"/>
<text x="314.6" y="605.5" font-size="11" text-anchor="end" fill="#111">0.2</text>
<rect x="317.8" y="649.5" width="4.3" height="2.8" fill="#000"/>
<rect x="322.1" y="649.5" width="25.5" height="2.8" fill="#9a9a9a"/>
<rect x="347.6" y="649.5" width="25.5" height="2.8" fill="#000"/>
<rect x="373.1" y="649.5" width="25.5" height="2.8" fill="#9a9a9a"/>
<rect x="398.6" y="649.5" width="21.2" height="2.8" fill="#000"/>
<text x="321.7" y="663" font-size="11" text-anchor="middle" fill="#111">0</text>
<text x="347.2" y="663" font-size="11" text-anchor="middle" fill="#111">12</text>
<text x="372.7" y="663" font-size="11" text-anchor="middle" fill="#111">0</text>
<text x="398.2" y="663" font-size="11" text-anchor="middle" fill="#111">12</text>
<path d="M321.7 613.6V612.16M319.7 612.16h4" stroke="#1a1a1a" stroke-width="0.95" fill="none"/>
<path d="M347.2 609.04V604.24M345.2 604.24h4" stroke="#1a1a1a" stroke-width="0.95" fill="none"/>
<path d="M355.7 595.6V593.68M353.7 593.68h4" stroke="#1a1a1a" stroke-width="0.95" fill="none"/>
<path d="M364.2 603.28V601.84M362.2 601.84h4" stroke="#1a1a1a" stroke-width="0.95" fill="none"/>
<path d="M372.7 613.6V612.16M370.7 612.16h4" stroke="#1a1a1a" stroke-width="0.95" fill="none"/>
<path d="M398.2 609.04V604.24M396.2 604.24h4" stroke="#1a1a1a" stroke-width="0.95" fill="none"/>
<path d="M406.7 595.6V593.68M404.7 593.68h4" stroke="#1a1a1a" stroke-width="0.95" fill="none"/>
<path d="M415.2 603.28V601.84M413.2 601.84h4" stroke="#1a1a1a" stroke-width="0.95" fill="none"/>
<path d="M321.7 613.6 L330.2 622.96 L338.7 621.28 L347.2 609.04 L355.7 595.6 L364.2 603.28 L372.7 613.6 L381.2 622.96 L389.7 621.28 L398.2 609.04 L406.7 595.6 L415.2 603.28" stroke="#000" stroke-width="2" fill="none" stroke-linejoin="round"/>
<path d="M321.7 618.88 L330.2 623.68 L338.7 625.12 L347.2 613.6 L355.7 608.56 L364.2 614.8 L372.7 618.88 L381.2 623.68 L389.7 625.12 L398.2 613.6 L406.7 608.56 L415.2 614.8" stroke="#e3001b" stroke-width="2" fill="none" stroke-linejoin="round"/>
<text x="454.1" y="588.05" font-size="12.6" fill="#111" font-style="italic">Clock</text>
<line x1="449.6" y1="588.35" x2="449.6" y2="650.1" stroke="#8a8a8a" stroke-width="1"/>
<line x1="447.9" y1="649.6" x2="449.6" y2="649.6" stroke="#8a8a8a" stroke-width="0.8"/>
<line x1="447.9" y1="643.48" x2="449.6" y2="643.48" stroke="#8a8a8a" stroke-width="0.8"/>
<line x1="447.9" y1="637.35" x2="449.6" y2="637.35" stroke="#8a8a8a" stroke-width="0.8"/>
<line x1="447.9" y1="631.23" x2="449.6" y2="631.23" stroke="#8a8a8a" stroke-width="0.8"/>
<line x1="447.9" y1="625.1" x2="449.6" y2="625.1" stroke="#8a8a8a" stroke-width="0.8"/>
<line x1="447.9" y1="618.98" x2="449.6" y2="618.98" stroke="#8a8a8a" stroke-width="0.8"/>
<line x1="447.9" y1="612.85" x2="449.6" y2="612.85" stroke="#8a8a8a" stroke-width="0.8"/>
<line x1="447.9" y1="606.73" x2="449.6" y2="606.73" stroke="#8a8a8a" stroke-width="0.8"/>
<line x1="447.9" y1="600.6" x2="449.6" y2="600.6" stroke="#8a8a8a" stroke-width="0.8"/>
<line x1="447.9" y1="594.48" x2="449.6" y2="594.48" stroke="#8a8a8a" stroke-width="0.8"/>
<line x1="447.9" y1="588.35" x2="449.6" y2="588.35" stroke="#8a8a8a" stroke-width="0.8"/>
<line x1="447.1" y1="649.6" x2="449.6" y2="649.6" stroke="#777" stroke-width="0.9"/>
<text x="446.4" y="653.5" font-size="11" text-anchor="end" fill="#111">0</text>
<line x1="447.1" y1="625.1" x2="449.6" y2="625.1" stroke="#777" stroke-width="0.9"/>
<text x="446.4" y="629" font-size="11" text-anchor="end" fill="#111">0.2</text>
<line x1="447.1" y1="600.6" x2="449.6" y2="600.6" stroke="#777" stroke-width="0.9"/>
<text x="446.4" y="604.5" font-size="11" text-anchor="end" fill="#111">0.4</text>
<rect x="449.6" y="649.5" width="3.9" height="2.8" fill="#000"/>
<rect x="453.5" y="649.5" width="25.5" height="2.8" fill="#9a9a9a"/>
<rect x="479" y="649.5" width="25.5" height="2.8" fill="#000"/>
<rect x="504.5" y="649.5" width="25.5" height="2.8" fill="#9a9a9a"/>
<rect x="530" y="649.5" width="21.6" height="2.8" fill="#000"/>
<text x="453.1" y="663" font-size="11" text-anchor="middle" fill="#111">0</text>
<text x="478.6" y="663" font-size="11" text-anchor="middle" fill="#111">12</text>
<text x="504.1" y="663" font-size="11" text-anchor="middle" fill="#111">0</text>
<text x="529.6" y="663" font-size="11" text-anchor="middle" fill="#111">12</text>
<path d="M453.1 606.73V598.15M451.1 598.15h4" stroke="#1a1a1a" stroke-width="0.95" fill="none"/>
<path d="M461.6 616.89V615.67M459.6 615.67h4" stroke="#1a1a1a" stroke-width="0.95" fill="none"/>
<path d="M470.1 611.26V610.03M468.1 610.03h4" stroke="#1a1a1a" stroke-width="0.95" fill="none"/>
<path d="M478.6 614.2V612.97M476.6 612.97h4" stroke="#1a1a1a" stroke-width="0.95" fill="none"/>
<path d="M487.1 599.87V596.19M485.1 596.19h4" stroke="#1a1a1a" stroke-width="0.95" fill="none"/>
<path d="M495.6 606.11V604.89M493.6 604.89h4" stroke="#1a1a1a" stroke-width="0.95" fill="none"/>
<path d="M504.1 606.73V598.15M502.1 598.15h4" stroke="#1a1a1a" stroke-width="0.95" fill="none"/>
<path d="M512.6 616.89V615.67M510.6 615.67h4" stroke="#1a1a1a" stroke-width="0.95" fill="none"/>
<path d="M521.1 611.26V610.03M519.1 610.03h4" stroke="#1a1a1a" stroke-width="0.95" fill="none"/>
<path d="M529.6 614.2V612.97M527.6 612.97h4" stroke="#1a1a1a" stroke-width="0.95" fill="none"/>
<path d="M538.1 599.87V596.19M536.1 596.19h4" stroke="#1a1a1a" stroke-width="0.95" fill="none"/>
<path d="M546.6 606.11V604.89M544.6 604.89h4" stroke="#1a1a1a" stroke-width="0.95" fill="none"/>
<path d="M453.1 606.73 L461.6 616.89 L470.1 611.26 L478.6 614.2 L487.1 599.87 L495.6 606.11 L504.1 606.73 L512.6 616.89 L521.1 611.26 L529.6 614.2 L538.1 599.87 L546.6 606.11" stroke="#000" stroke-width="2" fill="none" stroke-linejoin="round"/>
<path d="M453.1 617.87V612.36M451.1 612.36h4" stroke="#1a1a1a" stroke-width="0.95" fill="none"/>
<path d="M461.6 617.87V616.65M459.6 616.65h4" stroke="#1a1a1a" stroke-width="0.95" fill="none"/>
<path d="M470.1 618.85V617.63M468.1 617.63h4" stroke="#1a1a1a" stroke-width="0.95" fill="none"/>
<path d="M478.6 612.36V611.13M476.6 611.13h4" stroke="#1a1a1a" stroke-width="0.95" fill="none"/>
<path d="M504.1 617.87V612.36M502.1 612.36h4" stroke="#1a1a1a" stroke-width="0.95" fill="none"/>
<path d="M512.6 617.87V616.65M510.6 616.65h4" stroke="#1a1a1a" stroke-width="0.95" fill="none"/>
<path d="M521.1 618.85V617.63M519.1 617.63h4" stroke="#1a1a1a" stroke-width="0.95" fill="none"/>
<path d="M529.6 612.36V611.13M527.6 611.13h4" stroke="#1a1a1a" stroke-width="0.95" fill="none"/>
<path d="M453.1 617.87 L461.6 617.87 L470.1 618.85 L478.6 612.36 L487.1 613.34 L495.6 609.66 L504.1 617.87 L512.6 617.87 L521.1 618.85 L529.6 612.36 L538.1 613.34 L546.6 609.66" stroke="#e3001b" stroke-width="2" fill="none" stroke-linejoin="round"/>
<text x="586.3" y="587.9" font-size="12.6" fill="#111" font-style="italic">Gpr176</text>
<line x1="581.8" y1="588.2" x2="581.8" y2="650.1" stroke="#8a8a8a" stroke-width="1"/>
<line x1="580.1" y1="649.6" x2="581.8" y2="649.6" stroke="#8a8a8a" stroke-width="0.8"/>
<line x1="580.1" y1="641.93" x2="581.8" y2="641.93" stroke="#8a8a8a" stroke-width="0.8"/>
<line x1="580.1" y1="634.25" x2="581.8" y2="634.25" stroke="#8a8a8a" stroke-width="0.8"/>
<line x1="580.1" y1="626.58" x2="581.8" y2="626.58" stroke="#8a8a8a" stroke-width="0.8"/>
<line x1="580.1" y1="618.9" x2="581.8" y2="618.9" stroke="#8a8a8a" stroke-width="0.8"/>
<line x1="580.1" y1="611.23" x2="581.8" y2="611.23" stroke="#8a8a8a" stroke-width="0.8"/>
<line x1="580.1" y1="603.55" x2="581.8" y2="603.55" stroke="#8a8a8a" stroke-width="0.8"/>
<line x1="580.1" y1="595.88" x2="581.8" y2="595.88" stroke="#8a8a8a" stroke-width="0.8"/>
<line x1="580.1" y1="588.2" x2="581.8" y2="588.2" stroke="#8a8a8a" stroke-width="0.8"/>
<line x1="579.3" y1="649.6" x2="581.8" y2="649.6" stroke="#777" stroke-width="0.9"/>
<text x="578.6" y="653.5" font-size="11" text-anchor="end" fill="#111">0</text>
<line x1="579.3" y1="618.9" x2="581.8" y2="618.9" stroke="#777" stroke-width="0.9"/>
<text x="578.6" y="622.8" font-size="11" text-anchor="end" fill="#111">0.08</text>
<line x1="579.3" y1="588.2" x2="581.8" y2="588.2" stroke="#777" stroke-width="0.9"/>
<text x="578.6" y="592.1" font-size="11" text-anchor="end" fill="#111">0.16</text>
<rect x="581.8" y="649.5" width="4.5" height="2.8" fill="#000"/>
<rect x="586.3" y="649.5" width="25.5" height="2.8" fill="#9a9a9a"/>
<rect x="611.8" y="649.5" width="25.5" height="2.8" fill="#000"/>
<rect x="637.3" y="649.5" width="25.5" height="2.8" fill="#9a9a9a"/>
<rect x="662.8" y="649.5" width="21" height="2.8" fill="#000"/>
<text x="585.9" y="663" font-size="11" text-anchor="middle" fill="#111">0</text>
<text x="611.4" y="663" font-size="11" text-anchor="middle" fill="#111">12</text>
<text x="636.9" y="663" font-size="11" text-anchor="middle" fill="#111">0</text>
<text x="662.4" y="663" font-size="11" text-anchor="middle" fill="#111">12</text>
<path d="M585.9 615.91V613.22M583.9 613.22h4" stroke="#1a1a1a" stroke-width="0.95" fill="none"/>
<path d="M602.9 613.41V611.88M600.9 611.88h4" stroke="#1a1a1a" stroke-width="0.95" fill="none"/>
<path d="M611.4 617.9V616.37M609.4 616.37h4" stroke="#1a1a1a" stroke-width="0.95" fill="none"/>
<path d="M619.9 596.64V594.34M617.9 594.34h4" stroke="#1a1a1a" stroke-width="0.95" fill="none"/>
<path d="M628.4 602.59V600.29M626.4 600.29h4" stroke="#1a1a1a" stroke-width="0.95" fill="none"/>
<path d="M636.9 615.91V613.22M634.9 613.22h4" stroke="#1a1a1a" stroke-width="0.95" fill="none"/>
<path d="M653.9 613.41V611.88M651.9 611.88h4" stroke="#1a1a1a" stroke-width="0.95" fill="none"/>
<path d="M662.4 617.9V616.37M660.4 616.37h4" stroke="#1a1a1a" stroke-width="0.95" fill="none"/>
<path d="M670.9 596.64V594.34M668.9 594.34h4" stroke="#1a1a1a" stroke-width="0.95" fill="none"/>
<path d="M679.4 602.59V600.29M677.4 600.29h4" stroke="#1a1a1a" stroke-width="0.95" fill="none"/>
<path d="M585.9 615.91 L594.4 624 L602.9 613.41 L611.4 617.9 L619.9 596.64 L628.4 602.59 L636.9 615.91 L645.4 624 L653.9 613.41 L662.4 617.9 L670.9 596.64 L679.4 602.59" stroke="#000" stroke-width="2" fill="none" stroke-linejoin="round"/>
<path d="M585.9 620.44 L594.4 624 L602.9 619.67 L611.4 623.12 L619.9 614.3 L628.4 621.59 L636.9 620.44 L645.4 624 L653.9 619.67 L662.4 623.12 L670.9 614.3 L679.4 621.59" stroke="#e3001b" stroke-width="2" fill="none" stroke-linejoin="round"/>
<text x="322.3" y="694.9" font-size="12.6" fill="#111" font-style="italic">Lhx1</text>
<line x1="317.8" y1="695.2" x2="317.8" y2="757.2" stroke="#8a8a8a" stroke-width="1"/>
<line x1="316.1" y1="756.7" x2="317.8" y2="756.7" stroke="#8a8a8a" stroke-width="0.8"/>
<line x1="316.1" y1="750.55" x2="317.8" y2="750.55" stroke="#8a8a8a" stroke-width="0.8"/>
<line x1="316.1" y1="744.4" x2="317.8" y2="744.4" stroke="#8a8a8a" stroke-width="0.8"/>
<line x1="316.1" y1="738.25" x2="317.8" y2="738.25" stroke="#8a8a8a" stroke-width="0.8"/>
<line x1="316.1" y1="732.1" x2="317.8" y2="732.1" stroke="#8a8a8a" stroke-width="0.8"/>
<line x1="316.1" y1="725.95" x2="317.8" y2="725.95" stroke="#8a8a8a" stroke-width="0.8"/>
<line x1="316.1" y1="719.8" x2="317.8" y2="719.8" stroke="#8a8a8a" stroke-width="0.8"/>
<line x1="316.1" y1="713.65" x2="317.8" y2="713.65" stroke="#8a8a8a" stroke-width="0.8"/>
<line x1="316.1" y1="707.5" x2="317.8" y2="707.5" stroke="#8a8a8a" stroke-width="0.8"/>
<line x1="316.1" y1="701.35" x2="317.8" y2="701.35" stroke="#8a8a8a" stroke-width="0.8"/>
<line x1="316.1" y1="695.2" x2="317.8" y2="695.2" stroke="#8a8a8a" stroke-width="0.8"/>
<line x1="315.3" y1="756.7" x2="317.8" y2="756.7" stroke="#777" stroke-width="0.9"/>
<text x="314.6" y="760.6" font-size="11" text-anchor="end" fill="#111">0</text>
<line x1="315.3" y1="732.1" x2="317.8" y2="732.1" stroke="#777" stroke-width="0.9"/>
<text x="314.6" y="736" font-size="11" text-anchor="end" fill="#111">0.2</text>
<line x1="315.3" y1="707.5" x2="317.8" y2="707.5" stroke="#777" stroke-width="0.9"/>
<text x="314.6" y="711.4" font-size="11" text-anchor="end" fill="#111">0.4</text>
<rect x="317.8" y="756.6" width="4.3" height="2.8" fill="#000"/>
<rect x="322.1" y="756.6" width="25.5" height="2.8" fill="#9a9a9a"/>
<rect x="347.6" y="756.6" width="25.5" height="2.8" fill="#000"/>
<rect x="373.1" y="756.6" width="25.5" height="2.8" fill="#9a9a9a"/>
<rect x="398.6" y="756.6" width="21.2" height="2.8" fill="#000"/>
<text x="321.7" y="770.1" font-size="11" text-anchor="middle" fill="#111">0</text>
<text x="347.2" y="770.1" font-size="11" text-anchor="middle" fill="#111">12</text>
<text x="372.7" y="770.1" font-size="11" text-anchor="middle" fill="#111">0</text>
<text x="398.2" y="770.1" font-size="11" text-anchor="middle" fill="#111">12</text>
<path d="M321.7 708.73V702.58M319.7 702.58h4" stroke="#1a1a1a" stroke-width="0.95" fill="none"/>
<path d="M330.2 732.84V731.61M328.2 731.61h4" stroke="#1a1a1a" stroke-width="0.95" fill="none"/>
<path d="M338.7 727.18V724.72M336.7 724.72h4" stroke="#1a1a1a" stroke-width="0.95" fill="none"/>
<path d="M347.2 729.15V724.23M345.2 724.23h4" stroke="#1a1a1a" stroke-width="0.95" fill="none"/>
<path d="M372.7 708.73V702.58M370.7 702.58h4" stroke="#1a1a1a" stroke-width="0.95" fill="none"/>
<path d="M381.2 732.84V731.61M379.2 731.61h4" stroke="#1a1a1a" stroke-width="0.95" fill="none"/>
<path d="M389.7 727.18V724.72M387.7 724.72h4" stroke="#1a1a1a" stroke-width="0.95" fill="none"/>
<path d="M398.2 729.15V724.23M396.2 724.23h4" stroke="#1a1a1a" stroke-width="0.95" fill="none"/>
<path d="M321.7 708.73 L330.2 732.84 L338.7 727.18 L347.2 729.15 L355.7 712.79 L364.2 712.42 L372.7 708.73 L381.2 732.84 L389.7 727.18 L398.2 729.15 L406.7 712.79 L415.2 712.42" stroke="#000" stroke-width="2" fill="none" stroke-linejoin="round"/>
<path d="M321.7 722.38V718.69M319.7 718.69h4" stroke="#1a1a1a" stroke-width="0.95" fill="none"/>
<path d="M330.2 729.15V727.92M328.2 727.92h4" stroke="#1a1a1a" stroke-width="0.95" fill="none"/>
<path d="M338.7 732.22V730.99M336.7 730.99h4" stroke="#1a1a1a" stroke-width="0.95" fill="none"/>
<path d="M347.2 735.3V734.07M345.2 734.07h4" stroke="#1a1a1a" stroke-width="0.95" fill="none"/>
<path d="M372.7 722.38V718.69M370.7 718.69h4" stroke="#1a1a1a" stroke-width="0.95" fill="none"/>
<path d="M381.2 729.15V727.92M379.2 727.92h4" stroke="#1a1a1a" stroke-width="0.95" fill="none"/>
<path d="M389.7 732.22V730.99M387.7 730.99h4" stroke="#1a1a1a" stroke-width="0.95" fill="none"/>
<path d="M398.2 735.3V734.07M396.2 734.07h4" stroke="#1a1a1a" stroke-width="0.95" fill="none"/>
<path d="M321.7 722.38 L330.2 729.15 L338.7 732.22 L347.2 735.3 L355.7 730.62 L364.2 734.31 L372.7 722.38 L381.2 729.15 L389.7 732.22 L398.2 735.3 L406.7 730.62 L415.2 734.31" stroke="#e3001b" stroke-width="2" fill="none" stroke-linejoin="round"/>
<text x="454.1" y="694.99" font-size="12.6" fill="#111" font-style="italic">Npas2</text>
<line x1="449.6" y1="695.29" x2="449.6" y2="757.2" stroke="#8a8a8a" stroke-width="1"/>
<line x1="447.9" y1="756.7" x2="449.6" y2="756.7" stroke="#8a8a8a" stroke-width="0.8"/>
<line x1="447.9" y1="752.25" x2="449.6" y2="752.25" stroke="#8a8a8a" stroke-width="0.8"/>
<line x1="447.9" y1="747.8" x2="449.6" y2="747.8" stroke="#8a8a8a" stroke-width="0.8"/>
<line x1="447.9" y1="743.35" x2="449.6" y2="743.35" stroke="#8a8a8a" stroke-width="0.8"/>
<line x1="447.9" y1="738.9" x2="449.6" y2="738.9" stroke="#8a8a8a" stroke-width="0.8"/>
<line x1="447.9" y1="734.45" x2="449.6" y2="734.45" stroke="#8a8a8a" stroke-width="0.8"/>
<line x1="447.9" y1="730" x2="449.6" y2="730" stroke="#8a8a8a" stroke-width="0.8"/>
<line x1="447.9" y1="725.55" x2="449.6" y2="725.55" stroke="#8a8a8a" stroke-width="0.8"/>
<line x1="447.9" y1="721.1" x2="449.6" y2="721.1" stroke="#8a8a8a" stroke-width="0.8"/>
<line x1="447.9" y1="716.65" x2="449.6" y2="716.65" stroke="#8a8a8a" stroke-width="0.8"/>
<line x1="447.9" y1="712.2" x2="449.6" y2="712.2" stroke="#8a8a8a" stroke-width="0.8"/>
<line x1="447.9" y1="707.75" x2="449.6" y2="707.75" stroke="#8a8a8a" stroke-width="0.8"/>
<line x1="447.9" y1="703.3" x2="449.6" y2="703.3" stroke="#8a8a8a" stroke-width="0.8"/>
<line x1="447.9" y1="698.85" x2="449.6" y2="698.85" stroke="#8a8a8a" stroke-width="0.8"/>
<line x1="447.1" y1="756.7" x2="449.6" y2="756.7" stroke="#777" stroke-width="0.9"/>
<text x="446.4" y="760.6" font-size="11" text-anchor="end" fill="#111">0</text>
<line x1="447.1" y1="738.9" x2="449.6" y2="738.9" stroke="#777" stroke-width="0.9"/>
<text x="446.4" y="742.8" font-size="11" text-anchor="end" fill="#111">0.02</text>
<line x1="447.1" y1="721.1" x2="449.6" y2="721.1" stroke="#777" stroke-width="0.9"/>
<text x="446.4" y="725" font-size="11" text-anchor="end" fill="#111">0.04</text>
<line x1="447.1" y1="703.3" x2="449.6" y2="703.3" stroke="#777" stroke-width="0.9"/>
<text x="446.4" y="707.2" font-size="11" text-anchor="end" fill="#111">0.06</text>
<rect x="449.6" y="756.6" width="3.9" height="2.8" fill="#000"/>
<rect x="453.5" y="756.6" width="25.5" height="2.8" fill="#9a9a9a"/>
<rect x="479" y="756.6" width="25.5" height="2.8" fill="#000"/>
<rect x="504.5" y="756.6" width="25.5" height="2.8" fill="#9a9a9a"/>
<rect x="530" y="756.6" width="21.6" height="2.8" fill="#000"/>
<text x="453.1" y="770.1" font-size="11" text-anchor="middle" fill="#111">0</text>
<text x="478.6" y="770.1" font-size="11" text-anchor="middle" fill="#111">12</text>
<text x="504.1" y="770.1" font-size="11" text-anchor="middle" fill="#111">0</text>
<text x="529.6" y="770.1" font-size="11" text-anchor="middle" fill="#111">12</text>
<path d="M453.1 722.44V719.77M451.1 719.77h4" stroke="#1a1a1a" stroke-width="0.95" fill="none"/>
<path d="M461.6 730V723.77M459.6 723.77h4" stroke="#1a1a1a" stroke-width="0.95" fill="none"/>
<path d="M478.6 730.18V727.51M476.6 727.51h4" stroke="#1a1a1a" stroke-width="0.95" fill="none"/>
<path d="M487.1 703.57V701.79M485.1 701.79h4" stroke="#1a1a1a" stroke-width="0.95" fill="none"/>
<path d="M495.6 703.03V698.58M493.6 698.58h4" stroke="#1a1a1a" stroke-width="0.95" fill="none"/>
<path d="M504.1 722.44V719.77M502.1 719.77h4" stroke="#1a1a1a" stroke-width="0.95" fill="none"/>
<path d="M512.6 730V723.77M510.6 723.77h4" stroke="#1a1a1a" stroke-width="0.95" fill="none"/>
<path d="M529.6 730.18V727.51M527.6 727.51h4" stroke="#1a1a1a" stroke-width="0.95" fill="none"/>
<path d="M538.1 703.57V701.79M536.1 701.79h4" stroke="#1a1a1a" stroke-width="0.95" fill="none"/>
<path d="M546.6 703.03V698.58M544.6 698.58h4" stroke="#1a1a1a" stroke-width="0.95" fill="none"/>
<path d="M453.1 722.44 L461.6 730 L470.1 737.92 L478.6 730.18 L487.1 703.57 L495.6 703.03 L504.1 722.44 L512.6 730 L521.1 737.92 L529.6 730.18 L538.1 703.57 L546.6 703.03" stroke="#000" stroke-width="2" fill="none" stroke-linejoin="round"/>
<path d="M453.1 730V727.33M451.1 727.33h4" stroke="#1a1a1a" stroke-width="0.95" fill="none"/>
<path d="M461.6 735.34V733.56M459.6 733.56h4" stroke="#1a1a1a" stroke-width="0.95" fill="none"/>
<path d="M478.6 733.2V731.42M476.6 731.42h4" stroke="#1a1a1a" stroke-width="0.95" fill="none"/>
<path d="M487.1 725.11V723.33M485.1 723.33h4" stroke="#1a1a1a" stroke-width="0.95" fill="none"/>
<path d="M504.1 730V727.33M502.1 727.33h4" stroke="#1a1a1a" stroke-width="0.95" fill="none"/>
<path d="M512.6 735.34V733.56M510.6 733.56h4" stroke="#1a1a1a" stroke-width="0.95" fill="none"/>
<path d="M529.6 733.2V731.42M527.6 731.42h4" stroke="#1a1a1a" stroke-width="0.95" fill="none"/>
<path d="M538.1 725.11V723.33M536.1 723.33h4" stroke="#1a1a1a" stroke-width="0.95" fill="none"/>
<path d="M453.1 730 L461.6 735.34 L470.1 740.77 L478.6 733.2 L487.1 725.11 L495.6 735.34 L504.1 730 L512.6 735.34 L521.1 740.77 L529.6 733.2 L538.1 725.11 L546.6 735.34" stroke="#e3001b" stroke-width="2" fill="none" stroke-linejoin="round"/>
<text x="586.3" y="694.9" font-size="12.6" fill="#111" font-style="italic">Prokr2</text>
<line x1="581.8" y1="695.2" x2="581.8" y2="757.2" stroke="#8a8a8a" stroke-width="1"/>
<line x1="580.1" y1="756.7" x2="581.8" y2="756.7" stroke="#8a8a8a" stroke-width="0.8"/>
<line x1="580.1" y1="750.55" x2="581.8" y2="750.55" stroke="#8a8a8a" stroke-width="0.8"/>
<line x1="580.1" y1="744.4" x2="581.8" y2="744.4" stroke="#8a8a8a" stroke-width="0.8"/>
<line x1="580.1" y1="738.25" x2="581.8" y2="738.25" stroke="#8a8a8a" stroke-width="0.8"/>
<line x1="580.1" y1="732.1" x2="581.8" y2="732.1" stroke="#8a8a8a" stroke-width="0.8"/>
<line x1="580.1" y1="725.95" x2="581.8" y2="725.95" stroke="#8a8a8a" stroke-width="0.8"/>
<line x1="580.1" y1="719.8" x2="581.8" y2="719.8" stroke="#8a8a8a" stroke-width="0.8"/>
<line x1="580.1" y1="713.65" x2="581.8" y2="713.65" stroke="#8a8a8a" stroke-width="0.8"/>
<line x1="580.1" y1="707.5" x2="581.8" y2="707.5" stroke="#8a8a8a" stroke-width="0.8"/>
<line x1="580.1" y1="701.35" x2="581.8" y2="701.35" stroke="#8a8a8a" stroke-width="0.8"/>
<line x1="580.1" y1="695.2" x2="581.8" y2="695.2" stroke="#8a8a8a" stroke-width="0.8"/>
<line x1="579.3" y1="756.7" x2="581.8" y2="756.7" stroke="#777" stroke-width="0.9"/>
<text x="578.6" y="760.6" font-size="11" text-anchor="end" fill="#111">0</text>
<line x1="579.3" y1="732.1" x2="581.8" y2="732.1" stroke="#777" stroke-width="0.9"/>
<text x="578.6" y="736" font-size="11" text-anchor="end" fill="#111">0.2</text>
<line x1="579.3" y1="707.5" x2="581.8" y2="707.5" stroke="#777" stroke-width="0.9"/>
<text x="578.6" y="711.4" font-size="11" text-anchor="end" fill="#111">0.4</text>
<rect x="581.8" y="756.6" width="4.5" height="2.8" fill="#000"/>
<rect x="586.3" y="756.6" width="25.5" height="2.8" fill="#9a9a9a"/>
<rect x="611.8" y="756.6" width="25.5" height="2.8" fill="#000"/>
<rect x="637.3" y="756.6" width="25.5" height="2.8" fill="#9a9a9a"/>
<rect x="662.8" y="756.6" width="21" height="2.8" fill="#000"/>
<text x="585.9" y="770.1" font-size="11" text-anchor="middle" fill="#111">0</text>
<text x="611.4" y="770.1" font-size="11" text-anchor="middle" fill="#111">12</text>
<text x="636.9" y="770.1" font-size="11" text-anchor="middle" fill="#111">0</text>
<text x="662.4" y="770.1" font-size="11" text-anchor="middle" fill="#111">12</text>
<path d="M585.9 710.82V705.9M583.9 705.9h4" stroke="#1a1a1a" stroke-width="0.95" fill="none"/>
<path d="M594.4 723V721.77M592.4 721.77h4" stroke="#1a1a1a" stroke-width="0.95" fill="none"/>
<path d="M602.9 727.06V725.83M600.9 725.83h4" stroke="#1a1a1a" stroke-width="0.95" fill="none"/>
<path d="M611.4 723.98V722.75M609.4 722.75h4" stroke="#1a1a1a" stroke-width="0.95" fill="none"/>
<path d="M619.9 706.64V704.18M617.9 704.18h4" stroke="#1a1a1a" stroke-width="0.95" fill="none"/>
<path d="M636.9 710.82V705.9M634.9 705.9h4" stroke="#1a1a1a" stroke-width="0.95" fill="none"/>
<path d="M645.4 723V721.77M643.4 721.77h4" stroke="#1a1a1a" stroke-width="0.95" fill="none"/>
<path d="M653.9 727.06V725.83M651.9 725.83h4" stroke="#1a1a1a" stroke-width="0.95" fill="none"/>
<path d="M662.4 723.98V722.75M660.4 722.75h4" stroke="#1a1a1a" stroke-width="0.95" fill="none"/>
<path d="M670.9 706.64V704.18M668.9 704.18h4" stroke="#1a1a1a" stroke-width="0.95" fill="none"/>
<path d="M585.9 710.82 L594.4 723 L602.9 727.06 L611.4 723.98 L619.9 706.64 L628.4 704.55 L636.9 710.82 L645.4 723 L653.9 727.06 L662.4 723.98 L670.9 706.64 L679.4 704.55" stroke="#000" stroke-width="2" fill="none" stroke-linejoin="round"/>
<path d="M585.9 717.96V711.81M583.9 711.81h4" stroke="#1a1a1a" stroke-width="0.95" fill="none"/>
<path d="M594.4 723.98V722.75M592.4 722.75h4" stroke="#1a1a1a" stroke-width="0.95" fill="none"/>
<path d="M602.9 733.95V732.72M600.9 732.72h4" stroke="#1a1a1a" stroke-width="0.95" fill="none"/>
<path d="M611.4 726.07V724.84M609.4 724.84h4" stroke="#1a1a1a" stroke-width="0.95" fill="none"/>
<path d="M619.9 715.86V710.94M617.9 710.94h4" stroke="#1a1a1a" stroke-width="0.95" fill="none"/>
<path d="M628.4 730.25V722.88M626.4 722.88h4" stroke="#1a1a1a" stroke-width="0.95" fill="none"/>
<path d="M636.9 717.96V711.81M634.9 711.81h4" stroke="#1a1a1a" stroke-width="0.95" fill="none"/>
<path d="M645.4 723.98V722.75M643.4 722.75h4" stroke="#1a1a1a" stroke-width="0.95" fill="none"/>
<path d="M653.9 733.95V732.72M651.9 732.72h4" stroke="#1a1a1a" stroke-width="0.95" fill="none"/>
<path d="M662.4 726.07V724.84M660.4 724.84h4" stroke="#1a1a1a" stroke-width="0.95" fill="none"/>
<path d="M670.9 715.86V710.94M668.9 710.94h4" stroke="#1a1a1a" stroke-width="0.95" fill="none"/>
<path d="M679.4 730.25V722.88M677.4 722.88h4" stroke="#1a1a1a" stroke-width="0.95" fill="none"/>
<path d="M585.9 717.96 L594.4 723.98 L602.9 733.95 L611.4 726.07 L619.9 715.86 L628.4 730.25 L636.9 717.96 L645.4 723.98 L653.9 733.95 L662.4 726.07 L670.9 715.86 L679.4 730.25" stroke="#e3001b" stroke-width="2" fill="none" stroke-linejoin="round"/>
<line x1="585.2" y1="390.1" x2="606.5" y2="390.1" stroke="#000" stroke-width="2"/>
<line x1="585.2" y1="412.9" x2="606.5" y2="412.9" stroke="#e3001b" stroke-width="2"/>
<text x="614.7" y="394.7" font-size="12.9" fill="#231f20"><tspan font-style="italic">Gpr19</tspan> +/+</text>
<text x="614.7" y="417" font-size="12.9" fill="#d7282d"><tspan font-style="italic">Gpr19</tspan> –/–</text>
<text x="0" y="0" font-size="11.7" text-anchor="middle" transform="translate(288.3 546.8) rotate(-90)">Relative mRNA levels</text>
<text x="502.4" y="786.8" font-size="11.8" text-anchor="middle">CT</text>
</g></svg>
</body></html>
